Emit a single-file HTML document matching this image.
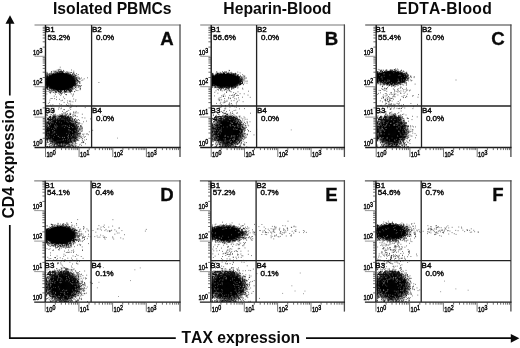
<!DOCTYPE html>
<html lang="en">
<head>
<meta charset="utf-8">
<title>CD4 / TAX expression flow cytometry</title>
<style>
html,body{margin:0;padding:0;background:#fff;}
body{width:520px;height:348px;overflow:hidden;}
svg{display:block;}
text{font-family:"Liberation Sans",Arial,Helvetica,sans-serif;fill:#0a0a0a;}
.t{font-size:15.7px;font-weight:bold;text-anchor:middle;font-kerning:none;}
.pl{font-size:18.6px;font-weight:bold;text-anchor:middle;stroke:#0a0a0a;stroke-width:.3px;}
.q{font-size:8px;fill:#0a0a0a;stroke:#0a0a0a;stroke-width:.42px;}
.ax{font-size:7.2px;fill:#0c0c0c;stroke:#0c0c0c;stroke-width:.45px;}
.sp{font-size:6.6px;}
</style>
</head>
<body>
<svg width="520" height="348" viewBox="0 0 520 348">
<rect width="520" height="348" fill="#fff"/>
<defs>
<radialGradient id="lg"><stop offset="0" stop-color="#000"/><stop offset=".52" stop-color="#000" stop-opacity=".98"/><stop offset=".66" stop-color="#000" stop-opacity=".84"/><stop offset=".8" stop-color="#000" stop-opacity=".5"/><stop offset=".92" stop-color="#000" stop-opacity=".15"/><stop offset="1" stop-color="#000" stop-opacity="0"/></radialGradient>
<radialGradient id="ug"><stop offset="0" stop-color="#000"/><stop offset=".84" stop-color="#000"/><stop offset=".93" stop-color="#000" stop-opacity=".55"/><stop offset="1" stop-color="#000" stop-opacity="0"/></radialGradient>
</defs>
<g>
<clipPath id="cpA"><rect x="46.1" y="25.0" width="134.5" height="122.1"/></clipPath>
<g clip-path="url(#cpA)">
<ellipse cx="61.9" cy="130.8" rx="19.1" ry="17.4" fill="url(#lg)"/>
<ellipse cx="60.7" cy="81.4" rx="15.6" ry="9.3" fill="url(#ug)"/>
</g>
<path transform="scale(.1)" fill="none" stroke="#000" stroke-opacity=".8" stroke-width="8" d="M626 895h8M548 897h8M652 731h8M550 750h8M497 872h8M542 886h8M493 770h8M658 890h8M540 743h8M768 781h8M609 913h8M753 789h8M535 743h8M747 876h8M492 844h8M708 766h8M565 745h8M530 906h8M592 728h8M638 915h8M795 881h8M691 897h8M509 910h8M464 842h8M593 896h8M663 743h8M662 906h8M702 878h8M763 879h8M467 759h8M702 745h8M483 763h8M756 778h8M586 741h8M690 759h8M731 783h8M487 797h8M740 785h8M465 821h8M583 912h8M468 865h8M539 749h8M524 908h8M728 768h8M601 894h8M518 902h8M597 922h8M524 882h8M737 821h8M521 765h8M574 913h8M734 853h8M502 762h8M708 939h8M565 889h8M472 850h8M701 896h8M639 911h8M480 831h8M464 831h8M602 909h8M570 890h8M578 912h8M593 943h8M481 826h8M637 891h8M484 820h8M612 933h8M701 728h8M664 890h8M688 762h8M681 909h8M608 702h8M497 763h8M652 921h8M618 715h8M608 895h8M800 887h8M511 766h8M467 791h8M465 723h8M665 885h8M609 914h8M556 748h8M778 875h8M700 763h8M473 857h8M493 755h8M545 907h8M667 893h8M747 823h8M649 916h8M727 742h8M770 801h8M467 850h8M495 882h8M580 918h8M731 802h8M753 851h8M475 869h8M692 908h8M615 895h8M634 733h8M645 894h8M486 794h8M510 882h8M474 815h8M525 903h8M581 893h8M577 908h8M736 864h8M465 829h8M699 769h8M778 783h8M743 832h8M743 772h8M710 877h8M605 729h8M725 765h8M684 899h8M545 884h8M509 874h8M465 940h8M464 809h8M737 823h8M470 861h8M710 759h8M715 858h8M464 827h8M466 829h8M632 746h8M731 802h8M572 744h8M579 931h8M512 715h8M536 878h8M624 731h8M535 733h8M777 804h8M692 762h8M734 841h8M569 906h8M708 747h8M479 762h8M529 887h8M751 850h8M620 722h8M731 819h8M721 863h8M758 815h8M636 713h8M723 743h8M467 833h8M697 914h8M466 798h8M474 858h8M682 892h8M679 892h8M598 922h8M726 792h8M740 812h8M561 727h8M579 720h8M591 730h8M464 808h8M674 900h8M704 762h8M711 760h8M566 724h8M753 780h8M765 806h8M480 817h8M613 744h8M494 758h8M719 877h8M552 893h8M720 849h8M723 759h8M766 831h8M469 799h8M693 923h8M692 886h8M684 897h8M738 742h8M467 821h8M490 926h8M739 818h8M466 793h8M549 917h8M508 881h8M544 712h8M703 872h8M615 727h8M762 736h8M464 832h8M469 852h8M686 877h8M465 874h8M620 735h8M500 857h8M463 733h8M740 841h8M637 910h8M645 895h8M744 809h8M748 843h8M646 924h8M728 833h8M495 738h8M535 757h8M536 880h8M766 840h8M464 856h8M678 897h8M468 859h8M492 889h8M630 893h8M696 737h8M561 745h8M478 833h8M505 863h8M728 877h8M468 732h8M473 816h8M745 763h8M734 803h8M659 739h8M699 757h8M481 820h8M465 914h8M466 830h8M464 795h8M668 738h8M682 881h8M469 745h8M763 756h8M629 895h8M564 924h8M709 725h8M505 732h8M736 801h8M527 759h8M786 783h8M711 700h8M549 751h8M677 924h8M641 904h8M724 737h8M540 887h8M556 746h8M463 875h8M464 843h8M790 826h8M672 739h8M556 894h8M531 893h8M743 857h8M512 762h8M633 733h8M468 811h8M464 830h8M625 742h8M797 897h8M464 794h8M606 734h8M525 873h8M698 765h8M467 848h8M706 871h8M770 804h8M480 840h8M609 739h8M754 865h8M666 727h8M718 912h8M709 879h8M581 910h8M496 852h8M467 828h8M478 856h8M754 838h8M488 769h8M600 739h8M738 808h8M487 793h8M764 776h8M812 780h8M641 902h8M759 858h8M672 889h8M598 672h8M596 911h8M709 870h8M727 792h8M535 721h8M732 798h8M534 898h8M671 918h8M691 877h8M791 778h8M681 892h8M658 730h8M660 947h8M689 762h8M782 857h8M499 877h8M466 884h8M752 805h8M729 764h8M495 878h8M483 856h8M571 721h8M517 753h8M712 769h8M555 744h8M467 810h8M778 745h8M535 896h8M503 886h8M519 889h8M466 825h8M742 836h8M465 847h8M545 901h8M613 898h8M610 947h8M647 741h8M490 879h8M767 807h8M464 878h8M548 715h8M564 890h8M666 751h8M640 902h8M581 915h8M558 925h8M705 880h8M608 729h8M469 856h8M720 887h8M473 800h8M464 825h8M467 815h8M575 738h8M781 864h8M469 822h8M749 847h8M760 804h8M526 743h8M698 916h8M776 763h8M664 885h8M524 882h8M811 856h8M516 875h8M586 710h8M703 874h8M635 720h8M494 851h8M651 741h8M671 892h8M731 766h8M583 720h8M732 842h8M476 828h8M732 851h8M584 739h8M515 882h8M627 739h8M714 760h8M672 896h8M660 739h8M493 878h8M474 891h8M531 752h8M733 806h8M551 744h8M631 895h8M764 819h8M706 868h8M569 898h8M753 859h8M727 850h8M754 788h8M711 906h8M536 891h8M838 788h8M485 803h8M553 732h8M575 899h8M514 723h8M676 886h8M496 914h8M738 766h8M584 712h8M482 836h8M466 845h8M599 719h8M467 892h8M468 856h8M469 775h8M463 783h8M467 843h8M506 772h8M681 879h8M598 741h8M732 940h8M652 748h8M468 767h8M726 788h8M467 871h8M517 735h8M734 856h8M562 895h8M683 892h8M539 746h8M700 871h8M463 819h8M604 929h8M690 906h8M676 720h8M614 933h8M715 854h8M511 864h8M638 892h8M572 726h8M495 757h8M742 791h8M681 758h8M547 916h8M734 728h8M604 911h8M702 744h8M699 889h8M723 785h8M466 782h8M476 840h8M505 861h8M510 874h8M704 906h8M517 760h8M490 907h8M741 744h8M705 876h8M467 842h8M482 774h8M588 735h8M535 755h8M466 865h8M591 738h8M564 718h8M495 880h8M463 875h8M500 901h8M631 737h8M705 891h8M657 750h8M495 777h8M520 873h8M725 792h8M764 793h8M770 799h8M714 865h8M468 823h8M728 779h8M740 823h8M569 888h8M469 844h8M583 897h8M485 783h8M480 801h8M713 724h8M619 924h8M612 742h8M484 821h8M737 801h8M698 751h8M743 829h8M473 877h8M602 904h8M467 828h8M778 816h8M468 760h8M739 855h8M604 701h8M660 918h8M467 850h8M497 743h8M755 764h8M537 882h8M536 747h8M742 836h8M723 847h8M470 860h8M470 767h8M578 899h8M601 743h8M525 920h8M587 914h8M560 739h8M572 739h8M825 799h8M715 889h8M720 865h8M683 738h8M587 891h8M730 769h8M466 773h8M503 772h8M771 821h8M477 784h8M724 744h8M796 814h8M515 869h8M675 890h8M735 766h8M485 862h8M469 854h8M469 835h8M465 781h8M724 846h8M740 826h8M623 727h8M520 761h8M508 865h8M531 752h8M564 711h8M572 898h8M498 871h8M609 896h8M719 897h8M468 764h8M594 716h8M505 769h8M601 928h8M493 734h8M485 864h8M476 846h8M742 825h8M632 737h8M751 754h8M572 895h8M511 886h8M465 824h8M468 887h8M505 884h8M603 734h8M508 733h8M549 891h8M503 748h8M528 711h8M464 856h8M596 914h8M690 761h8M757 821h8M581 739h8M662 734h8M641 900h8M495 787h8M777 807h8M562 899h8M467 741h8M469 868h8M479 848h8M610 711h8M464 793h8M582 903h8M598 713h8M466 784h8M558 895h8M488 769h8M601 745h8M737 851h8M677 889h8M526 882h8M608 892h8M493 788h8M751 846h8M747 771h8M588 696h8M465 866h8M681 880h8M765 858h8M596 721h8M469 782h8M466 880h8M531 925h8M733 845h8M616 716h8M643 904h8M593 895h8M621 897h8M466 781h8M571 902h8M708 867h8M718 750h8M702 926h8M653 945h8M597 722h8M464 842h8M745 782h8M708 772h8M463 780h8M689 900h8M560 892h8M541 753h8M567 896h8M465 811h8M712 879h8M469 778h8M726 791h8M519 767h8M578 892h8M728 882h8M487 767h8M468 782h8M612 734h8M782 819h8M703 899h8M502 763h8M481 780h8M566 738h8M755 749h8M626 721h8M508 769h8M750 815h8M537 887h8M614 893h8M587 920h8M482 740h8M750 898h8M479 868h8M536 882h8M760 903h8M694 723h8M684 740h8M606 905h8M719 860h8M517 763h8M653 911h8M490 778h8M509 866h8M706 747h8M558 890h8M471 808h8M721 857h8M491 897h8M718 772h8M697 888h8M610 716h8M476 843h8M467 781h8M716 768h8M752 756h8M468 854h8M740 815h8M577 900h8M640 932h8M483 752h8M488 773h8M479 808h8M562 891h8M491 849h8M479 795h8M750 833h8M798 867h8M738 838h8M687 742h8M491 753h8M545 906h8M465 764h8M720 753h8M717 866h8M657 904h8M537 894h8M464 841h8M478 914h8M734 712h8M463 793h8M730 857h8M597 892h8M464 813h8M616 728h8M490 745h8M777 816h8M538 902h8M516 767h8M762 794h8M465 854h8M691 899h8M626 908h8M496 865h8M731 892h8M466 835h8M752 802h8M714 757h8M467 752h8M725 789h8M505 755h8M740 862h8M524 746h8M466 757h8M532 760h8M599 900h8M584 694h8M468 796h8M788 796h8M701 877h8M467 804h8M690 753h8M703 918h8M632 710h8M760 779h8M596 733h8M520 744h8M642 916h8M730 783h8M727 859h8M513 881h8M730 845h8M477 834h8M595 732h8M464 817h8M620 896h8M522 764h8M597 739h8M604 895h8M536 897h8M655 919h8M488 840h8M741 849h8M483 861h8M715 856h8M597 907h8M748 814h8M733 853h8M563 908h8M506 874h8M685 735h8M722 878h8M740 780h8M585 746h8M735 762h8M677 730h8M487 774h8M791 856h8M712 775h8M494 779h8M682 899h8M761 790h8M685 896h8M653 895h8M497 767h8M594 716h8M713 887h8M475 880h8M466 848h8M486 838h8M467 831h8M480 842h8M745 827h8M777 774h8M465 773h8M572 745h8M538 751h8M794 787h8M471 790h8M526 882h8M609 740h8M670 901h8M469 763h8M598 740h8M483 784h8M681 750h8M690 881h8M665 737h8M734 790h8M693 747h8M517 868h8M708 905h8M470 762h8M599 892h8M568 745h8M556 888h8M568 700h8M490 876h8M469 833h8M725 774h8M505 864h8M753 848h8M798 790h8M698 910h8M551 943h8M623 719h8M793 819h8M615 722h8M484 822h8M540 746h8M526 899h8M555 907h8M764 791h8M730 761h8M522 758h8M524 888h8M720 867h8M728 850h8M588 895h8M594 736h8M598 917h8M597 930h8M474 804h8M630 704h8M773 807h8M871 778h8M464 773h8M517 748h8M500 929h8M700 894h8M471 733h8M713 910h8M733 756h8M688 883h8M530 738h8M773 853h8M556 746h8M651 895h8M536 756h8M678 751h8M755 833h8M506 905h8M693 873h8M591 896h8M535 878h8M745 803h8M523 876h8M548 728h8M588 903h8M609 909h8M479 879h8M491 757h8M465 762h8M488 870h8M667 897h8M672 751h8M492 792h8M498 775h8M582 706h8M640 899h8M751 791h8M642 739h8M654 723h8M605 737h8M643 892h8M513 739h8M613 909h8M469 802h8M740 754h8M464 797h8M799 869h8M601 715h8M738 806h8M634 737h8M509 720h8M731 856h8M576 901h8M776 851h8M469 872h8M497 742h8M678 729h8M503 877h8M482 895h8M661 911h8M797 856h8M562 749h8M465 863h8M497 784h8M558 727h8M495 867h8M679 759h8M469 834h8M486 800h8M658 748h8M549 925h8M593 746h8M590 892h8M617 735h8M510 769h8M735 797h8M466 832h8M585 725h8M765 859h8M580 744h8M475 797h8M623 898h8M665 715h8M658 906h8M463 815h8M509 743h8M750 872h8M481 785h8M703 868h8M727 774h8M636 925h8M467 771h8M763 780h8M468 851h8M732 823h8M497 879h8M463 745h8M466 795h8M757 797h8M751 876h8M775 906h8M472 894h8M473 852h8M672 730h8M685 909h8M790 834h8M549 711h8M475 846h8M764 843h8M751 778h8M735 841h8M485 829h8M519 881h8M740 795h8M467 863h8M647 913h8M730 730h8M467 806h8M675 881h8M696 879h8M503 773h8M795 863h8M517 896h8M539 729h8M579 742h8M525 743h8M713 895h8M752 829h8M517 746h8M513 871h8M477 792h8M720 888h8M740 916h8M695 906h8M570 727h8M653 915h8M639 898h8M660 747h8M503 882h8M652 750h8M478 817h8M465 765h8M528 877h8M468 834h8M466 882h8M464 793h8M704 772h8M482 748h8M498 782h8M522 765h8M736 826h8M622 893h8M486 861h8M744 806h8M596 693h8M746 767h8M468 779h8M700 759h8M466 841h8M717 774h8M735 814h8M527 738h8M466 829h8M572 734h8M727 796h8M466 838h8M550 732h8M738 842h8M482 776h8M565 889h8M620 744h8M570 901h8M468 751h8M474 819h8M789 816h8M704 758h8M800 889h8M719 778h8M622 729h8M742 886h8M605 742h8M741 774h8M546 930h8M466 785h8M706 902h8M515 877h8M465 822h8M467 866h8M659 895h8M815 804h8M772 830h8M689 916h8M557 912h8M608 912h8M745 851h8M468 876h8M615 891h8M505 924h8M717 871h8M735 731h8M635 747h8M740 826h8M759 837h8M531 740h8M586 914h8M508 894h8M465 826h8M728 792h8M706 874h8M488 905h8M619 727h8M489 774h8M522 875h8M465 813h8M754 838h8M512 897h8M547 720h8M799 831h8M467 828h8M665 885h8M661 899h8M554 913h8M636 896h8M704 868h8M580 892h8M621 729h8M465 755h8M627 738h8M676 751h8M577 737h8M658 922h8M507 873h8M568 893h8M608 717h8M499 760h8M521 763h8M692 763h8M618 899h8M670 1415h8M527 1406h8M632 1441h8M750 1291h8M756 1224h8M736 1390h8M761 1370h8M735 1338h8M580 1237h8M741 1294h8M490 1357h8M481 1213h8M665 1387h8M702 1311h8M566 1259h8M485 1329h8M464 1324h8M722 1327h8M475 1187h8M507 1235h8M641 1459h8M465 1385h8M705 1245h8M503 1258h8M563 1392h8M467 1330h8M620 1202h8M476 1345h8M595 1206h8M587 1231h8M662 1408h8M528 1226h8M557 1285h8M572 1428h8M724 1402h8M466 1324h8M704 1319h8M529 1230h8M697 1418h8M572 1371h8M652 1431h8M695 1308h8M553 1149h8M525 1342h8M758 1350h8M669 1136h8M586 1465h8M501 1316h8M663 1180h8M515 1366h8M643 1176h8M733 1338h8M574 1207h8M756 1223h8M717 1282h8M735 1273h8M831 1418h8M589 1456h8M757 1114h8M771 1343h8M463 1312h8M593 1386h8M607 1437h8M759 1351h8M469 1153h8M798 1368h8M514 1268h8M686 1466h8M497 1251h8M544 1357h8M573 1223h8M747 1290h8M478 1114h8M650 1388h8M535 1349h8M656 1149h8M479 1345h8M699 1465h8M557 1371h8M576 1196h8M661 1205h8M483 1213h8M750 1388h8M735 1138h8M767 1166h8M519 1214h8M553 1262h8M597 1468h8M700 1397h8M675 1415h8M538 1207h8M519 1201h8M754 1465h8M606 1240h8M742 1266h8M530 1388h8M750 1234h8M596 1222h8M695 1390h8M518 1330h8M529 1348h8M821 1308h8M480 1371h8M642 1195h8M545 1368h8M547 1396h8M574 1196h8M523 1235h8M466 1300h8M659 1192h8M575 1218h8M724 1293h8M553 1405h8M616 1464h8M582 1245h8M703 1075h8M752 1236h8M600 1211h8M529 1181h8M741 1401h8M489 1339h8M537 1402h8M583 1207h8M526 1354h8M501 1104h8M623 1430h8M785 1349h8M575 1181h8M608 1162h8M534 1468h8M526 1258h8M500 1330h8M688 1233h8M613 1239h8M593 1377h8M764 1437h8M698 1349h8M704 1408h8M520 1257h8M709 1320h8M609 1209h8M698 1456h8M465 1348h8M548 1404h8M507 1434h8M507 1453h8M595 1144h8M619 1228h8M670 1372h8M790 1450h8M524 1326h8M747 1155h8M804 1256h8M726 1261h8M505 1335h8M489 1211h8M607 1412h8M524 1462h8M731 1304h8M832 1218h8M599 1379h8M590 1393h8M538 1230h8M775 1242h8M577 1383h8M533 1270h8M620 1206h8M464 1315h8M604 1397h8M537 1270h8M675 1358h8M776 1129h8M491 1267h8M634 1394h8M591 1189h8M502 1367h8M677 1214h8M694 1232h8M499 1312h8M595 1386h8M685 1278h8M774 1266h8M760 1391h8M572 1250h8M570 1156h8M710 1443h8M677 1175h8M648 1183h8M719 1267h8M655 1440h8M473 1288h8M469 1355h8M665 1418h8M699 1184h8M499 1387h8M664 1237h8M686 1449h8M814 1314h8M712 1237h8M621 1172h8M505 1387h8M719 1427h8M682 1356h8M684 1273h8M514 1237h8M762 1307h8M744 1315h8M541 1188h8M525 1343h8M587 1205h8M530 1347h8M522 1387h8M695 1244h8M532 1242h8M539 1338h8M667 1250h8M774 1292h8M465 1327h8M700 1359h8M714 1367h8M703 1356h8M525 1452h8M476 1293h8M481 1334h8M711 1280h8M770 1357h8M693 1396h8M590 1426h8M729 1306h8M756 1276h8M736 1366h8M710 1416h8M546 1464h8M470 1354h8M651 1196h8M510 1377h8M564 1220h8M621 1187h8M567 1389h8M579 1404h8M744 1317h8M862 1394h8M691 1395h8M593 1424h8M530 1239h8M753 1403h8M767 1384h8M805 1358h8M541 1454h8M704 1138h8M523 1277h8M529 1342h8M538 1370h8M581 1388h8M695 1354h8M500 1291h8M701 1201h8M716 1252h8M578 1239h8M582 1420h8M752 1431h8M699 1465h8M556 1373h8M824 1419h8M545 1214h8M710 1422h8M716 1327h8M731 1375h8M468 1276h8M560 1237h8M494 1247h8M675 1358h8M708 1207h8M745 1266h8M463 1264h8M587 1077h8M729 1313h8M511 1295h8M571 1406h8M513 1387h8M533 1220h8M715 1176h8M632 1451h8M722 1308h8M465 1293h8M730 1360h8M468 1230h8M494 1467h8M604 1225h8M686 1426h8M620 1188h8M683 1195h8M733 1121h8M683 1424h8M603 1154h8M674 1191h8M523 1367h8M639 1222h8M581 1384h8M759 1300h8M737 1320h8M529 1222h8M643 1248h8M814 1277h8M781 1195h8M620 1424h8M616 1458h8M667 1392h8M488 1337h8M731 1274h8M550 1208h8M586 1216h8M654 1141h8M682 1443h8M531 1399h8M744 1384h8M652 1408h8M677 1418h8M610 1177h8M574 1423h8M606 1204h8M709 1199h8M667 1250h8M594 1174h8M685 1439h8M535 1288h8M711 1294h8M498 1314h8M518 1280h8M712 1350h8M468 1391h8M513 1356h8M677 1199h8M469 1368h8M613 1414h8M480 1279h8M759 1286h8M602 1422h8M736 1263h8M700 1145h8M753 1287h8M712 1286h8M518 1224h8M660 1184h8M518 1323h8M564 1245h8M717 1270h8M498 1250h8M808 1300h8M489 1352h8M508 1374h8M670 1353h8M537 1358h8M668 1405h8M604 1226h8M492 1362h8M469 1401h8M578 1431h8M465 1233h8M680 1372h8M712 1389h8M692 1270h8M478 1234h8M735 1240h8M656 1214h8M681 1429h8M597 1199h8M603 1184h8M585 1413h8M508 1385h8M519 1432h8M732 1293h8M759 1223h8M471 1269h8M640 1411h8M567 1245h8M655 1397h8M469 1275h8M562 1450h8M481 1237h8M749 1266h8M650 1206h8M586 1244h8M655 1468h8M520 1260h8M557 1379h8M724 1469h8M541 1296h8M555 1397h8M563 1464h8M764 1264h8M518 1367h8M728 1277h8M512 1258h8M576 1193h8M726 1336h8M542 1107h8M658 1220h8M602 1231h8M602 1388h8M573 1399h8M748 1325h8M480 1315h8M528 1420h8M534 1468h8M544 1403h8M477 1280h8M648 1382h8M570 1407h8M604 1206h8M518 1385h8M480 1384h8M588 1440h8M518 1284h8M775 1398h8M550 1440h8M588 1387h8M467 1257h8M756 1378h8M698 1448h8M690 1276h8M561 1426h8M522 1243h8M631 1412h8M682 1425h8M475 1131h8M539 1367h8M707 1414h8M541 1108h8M800 1330h8M628 1398h8M495 1373h8M548 1159h8M477 1196h8M535 1294h8M482 1327h8M696 1271h8M594 1211h8M514 1342h8M503 1226h8M601 1465h8M657 1399h8M490 1312h8M616 1453h8M468 1361h8M467 1411h8M809 1371h8M707 1455h8M642 1199h8M568 1212h8M643 1218h8M629 1213h8M558 1465h8M708 1364h8M502 1296h8M675 1209h8M665 1465h8M698 1363h8M529 1262h8M524 1383h8M595 1211h8M629 1192h8M465 1353h8M557 1256h8M646 1444h8M464 1292h8M721 1291h8M672 1230h8M523 1469h8M793 1353h8M654 1420h8M468 1467h8M791 1363h8M543 1258h8M493 1284h8M692 1142h8M586 1183h8M529 1371h8M688 1382h8M564 1264h8M722 1391h8M521 1263h8M498 1143h8M549 1362h8M692 1388h8M583 1399h8M749 1128h8M466 1226h8M703 1374h8M792 1334h8M629 1468h8M546 1345h8M499 1239h8M532 1406h8M724 1324h8M469 1327h8M718 1281h8M674 1216h8M577 1218h8M747 1259h8M619 1420h8M625 1403h8M657 1203h8M596 1226h8M489 1364h8M809 1373h8M735 1359h8M677 1253h8M475 1360h8M475 1325h8M710 1219h8M579 1392h8M609 1212h8M684 1334h8M691 1250h8M525 1390h8M520 1272h8M597 1188h8M667 1256h8M472 1425h8M696 1393h8M621 1436h8M700 1285h8M567 1210h8M577 1163h8M726 1309h8M741 1259h8M774 1361h8M623 1386h8M547 1206h8M546 1216h8M543 1418h8M654 1430h8M718 1267h8M734 1421h8M550 1263h8M513 1414h8M622 1432h8M468 1287h8M464 1427h8M772 1376h8M720 1195h8M820 1342h8M541 1223h8M783 1267h8M473 1355h8M601 1452h8M531 1240h8M609 1399h8M645 1453h8M733 1312h8M729 1294h8M678 1422h8M723 1380h8M577 1377h8M464 1338h8M524 1398h8M737 1361h8M589 1230h8M463 1442h8M466 1221h8M573 1236h8M573 1209h8M581 1091h8M537 1216h8M590 1205h8M681 1231h8M519 1218h8M558 1450h8M695 1393h8M669 1428h8M551 1392h8M464 1401h8M464 1325h8M587 1160h8M803 1332h8M693 1460h8M497 1348h8M626 1205h8M775 1350h8M568 1224h8M608 1207h8M635 1127h8M804 1289h8M575 1194h8M663 1242h8M546 1439h8M491 1364h8M729 1254h8M709 1304h8M779 1233h8M797 1369h8M817 1390h8M518 1292h8M659 1403h8M728 1240h8M588 1402h8M731 1251h8M702 1272h8M778 1363h8M804 1261h8M654 1390h8M660 1414h8M580 1403h8M534 1277h8M595 1197h8M714 1453h8M678 1243h8M602 1440h8M583 1213h8M518 1378h8M680 1153h8M692 1361h8M555 1256h8M583 1456h8M665 1378h8M807 1259h8M601 1469h8M879 1347h8M480 1232h8M491 1412h8M584 1233h8M558 1234h8M597 1455h8M567 1244h8M518 1189h8M554 1240h8M499 1375h8M708 1210h8M464 1384h8M627 1172h8M644 1401h8M739 1242h8M726 1144h8M521 1258h8M740 1233h8M533 1240h8M758 1296h8M664 1387h8M483 1274h8M643 1188h8M705 1356h8M481 1185h8M621 1168h8M634 1416h8M705 1289h8M583 1408h8M552 1216h8M516 1269h8M663 1255h8M543 1363h8M463 1222h8M479 1351h8M483 1380h8M468 1281h8M678 1409h8M683 1227h8M531 1327h8M684 1187h8M578 1395h8M532 1244h8M491 1232h8M586 1232h8M566 1200h8M775 1256h8M579 1222h8M692 1384h8M560 1367h8M468 1184h8M468 1294h8M672 1417h8M667 1398h8M782 1265h8M613 1466h8M709 1355h8M709 1166h8M599 1410h8M739 1350h8M631 1412h8M836 1340h8M564 1234h8M523 1237h8M626 1221h8M707 1186h8M650 1427h8M559 1253h8M710 1425h8M739 1210h8M623 1159h8M631 1387h8M700 1201h8M702 1403h8M684 1249h8M469 1266h8M463 1334h8M712 1232h8M477 1373h8M590 1230h8M630 1213h8M702 1369h8M548 1382h8M575 1440h8M703 1242h8M702 1317h8M471 1335h8M518 1235h8M504 1436h8M570 1269h8M698 1175h8M688 1426h8M486 1342h8M684 1388h8M760 1337h8M501 1379h8M636 1133h8M618 1375h8M464 1241h8M585 1190h8M519 1336h8M728 1258h8M563 1364h8M635 1187h8M495 1280h8M581 1228h8M642 1399h8M538 1389h8M751 1290h8M711 1414h8M690 1242h8M508 1255h8M755 1375h8M845 1180h8M869 1339h8M601 1466h8M730 1277h8M727 1282h8M607 1212h8M658 1157h8M851 1438h8M741 1195h8M619 1153h8M541 1287h8M495 1256h8M541 1264h8M557 1357h8M495 1383h8M660 1173h8M471 1271h8M834 1423h8M581 1228h8M767 1302h8M767 1272h8M718 1316h8M725 1237h8M585 1220h8M504 1262h8M468 1384h8M463 1145h8M923 1303h8M508 1264h8M492 1322h8M735 1161h8M682 1455h8M533 1468h8M706 1363h8M724 1192h8M617 1428h8M464 1352h8M553 1192h8M818 1177h8M517 1276h8M563 1241h8M618 1207h8M587 1232h8M621 1453h8M558 1415h8M711 1374h8M569 1250h8M651 1245h8M714 1283h8M580 1466h8M714 1331h8M500 1354h8M749 1248h8M669 1434h8M514 1347h8M508 1369h8M695 1373h8M512 1249h8M530 1376h8M628 1231h8M558 1400h8M691 1361h8M522 1260h8M526 1278h8M465 1348h8M618 1244h8M467 1264h8M487 1384h8M615 1152h8M488 1282h8M700 1180h8M481 1390h8M591 1461h8M588 1186h8M517 1300h8M680 1368h8M817 1293h8M628 1212h8M747 1191h8M618 1432h8M479 1338h8M741 1357h8M465 1154h8M488 1377h8M533 1236h8M465 1349h8M580 1184h8M466 1311h8M488 1344h8M588 1412h8M734 1267h8M563 1207h8M739 1313h8M511 1275h8M777 1303h8M722 1296h8M752 1280h8M620 1246h8M555 1218h8M536 1224h8M731 1468h8M474 1326h8M515 1221h8M761 1375h8M775 1336h8M463 1395h8M728 1247h8M625 1167h8M709 1286h8M747 1151h8M760 1396h8M680 1416h8M624 1232h8M467 1336h8M770 1224h8M665 1405h8M523 1266h8M664 1416h8M734 1464h8M464 1249h8M568 1404h8M538 1375h8M716 1277h8M748 1422h8M491 1268h8M599 1213h8M467 1391h8M639 1175h8M479 1282h8M689 1395h8M596 1234h8M541 1396h8M638 1216h8M528 1345h8M670 1374h8M622 1191h8M521 1230h8M618 1401h8M511 1356h8M573 1445h8M483 1298h8M746 1407h8M629 1226h8M495 1388h8M671 1219h8M637 1227h8M533 1143h8M581 1226h8M699 1342h8M506 1419h8M777 1242h8M571 1407h8M812 1454h8M490 1441h8M467 1336h8M670 1183h8M614 1424h8M520 1422h8M678 1464h8M603 1220h8M538 1159h8M737 1379h8M690 1314h8M470 1196h8M593 1467h8M634 1383h8M792 1240h8M843 1400h8M704 1241h8M526 1385h8M547 1401h8M476 1310h8M722 1283h8M592 1423h8M514 1286h8M609 1400h8M486 1379h8M606 1198h8M743 1414h8M724 1321h8M493 1242h8M691 1441h8M537 1318h8M674 1436h8M463 1241h8M736 1319h8M553 1209h8M603 1438h8M511 1311h8M497 1276h8M531 1203h8M665 1267h8M707 1175h8M735 1354h8M686 1253h8M712 1301h8M653 1457h8M478 1230h8M743 1399h8M775 1466h8M626 1467h8M558 1362h8M690 1361h8M568 1211h8M522 1330h8M705 1330h8M559 1420h8M589 1434h8M567 1210h8M671 1206h8M543 1371h8M467 1269h8M475 1307h8M823 1385h8M545 1195h8M467 1151h8M646 1452h8M536 1312h8M796 1233h8M642 1186h8M607 1420h8M794 1303h8M613 1417h8M669 1406h8M516 1251h8M666 1443h8M753 1354h8M729 1164h8M539 1391h8M693 1441h8M496 1311h8M527 1327h8M722 1382h8M530 1344h8M652 1208h8M650 1399h8M721 1387h8M652 1422h8M694 1269h8M474 1386h8M525 1345h8M826 1368h8M547 1233h8M519 1313h8M589 1431h8M510 1318h8M521 1112h8M602 1165h8M536 1339h8M680 1363h8M848 1365h8M573 1404h8M700 1244h8M543 1278h8M714 1388h8M520 1440h8M610 1223h8M765 1225h8M782 1315h8M468 1335h8M704 1256h8M743 1316h8M539 1244h8M720 1386h8M670 1429h8M729 1362h8M574 1425h8M655 1184h8M688 1160h8M566 1243h8M524 1240h8M784 1406h8M612 1411h8M588 1214h8M491 1332h8M687 1357h8M693 1221h8M690 1204h8M683 1252h8M700 1420h8M521 1373h8M693 1219h8M712 1282h8M497 1406h8M747 1221h8M648 1201h8M534 1453h8M500 1321h8M477 1306h8M727 1391h8M583 1428h8M505 1365h8M555 1287h8M719 1467h8M529 1332h8M763 1407h8M729 1228h8M624 1143h8M494 1313h8M787 1288h8M503 1313h8M597 1453h8M488 1464h8M468 1356h8M549 1260h8M596 1446h8M529 1163h8M737 1331h8M515 1323h8M720 1185h8M571 1452h8M719 1356h8M564 1163h8M747 1435h8M490 1311h8M562 1380h8M552 1143h8M661 1427h8M708 1391h8M547 1342h8M748 1447h8M608 1180h8M699 1248h8M488 1308h8M721 1329h8M693 1456h8M523 1409h8M604 1185h8M598 1222h8M581 1422h8M698 1289h8M625 1208h8M726 1323h8M769 1370h8M708 1238h8M716 1368h8M730 1289h8M631 1422h8M611 1392h8M510 1094h8M653 1420h8M811 1427h8M633 1413h8M486 1237h8M467 1291h8M639 1178h8M700 1393h8M619 1190h8M648 1132h8M557 1213h8M664 1217h8M467 1369h8M560 1242h8M589 1202h8M587 1218h8M698 1273h8M720 1386h8M534 1154h8M524 1447h8M670 1209h8M633 1394h8M621 1167h8M512 1213h8M768 1201h8M509 1293h8M700 1270h8M490 1244h8M479 1344h8M631 1204h8M680 1462h8M723 1364h8M475 1319h8M496 1275h8M502 1393h8M729 1280h8M547 1406h8M497 1411h8M735 1369h8M650 1385h8M611 1155h8M504 1351h8M748 1387h8M746 1369h8M708 1288h8M504 1317h8M746 1373h8M625 1167h8M555 1394h8M505 1417h8M479 1239h8M714 1450h8M469 1260h8M556 1270h8M577 1436h8M778 1351h8M734 1122h8M709 1341h8M712 1268h8M860 1211h8M515 1247h8M642 1465h8M754 1468h8M647 1465h8M524 1368h8M468 1345h8M555 1435h8M664 1405h8M582 1380h8M613 1232h8M544 1410h8M568 1225h8M730 1215h8M738 1275h8M572 1402h8M511 1145h8M471 1396h8M536 1230h8M599 1412h8M592 1238h8M589 1423h8M610 1199h8M639 1454h8M480 1335h8M464 1370h8M601 1447h8M538 1449h8M521 1353h8M780 1303h8M524 1245h8M623 1406h8M631 1414h8M766 1324h8M468 1464h8M546 1426h8M642 1233h8M572 1387h8M613 1393h8M765 1359h8M767 1326h8M780 1310h8M513 1272h8M594 1427h8M643 1432h8M559 1263h8M538 1247h8M636 1229h8M687 1366h8M763 1256h8M465 1198h8M671 1141h8M477 1350h8M564 1275h8M474 1130h8M604 1412h8M640 1152h8M467 1332h8M648 1223h8M600 1215h8M749 1342h8M479 1226h8M595 1407h8M516 1266h8M488 1320h8M495 1369h8M641 1231h8M499 1375h8M522 1341h8M480 1353h8M668 1169h8M786 1385h8M621 1193h8M522 1221h8M619 1244h8M578 1223h8M793 1287h8M515 1259h8M638 1401h8M822 1404h8M517 1333h8M697 1404h8M537 1259h8M652 1214h8M476 1363h8M464 1338h8M649 1239h8M498 1331h8M470 1275h8M566 1203h8M466 1318h8M713 1279h8M640 1384h8M761 1283h8M778 1334h8M492 1467h8M579 1413h8M799 1297h8M723 1159h8M518 1439h8M570 1415h8M573 1404h8M495 1396h8M740 1377h8M635 1239h8M723 1282h8M585 1447h8M750 1304h8M653 1426h8M484 1243h8M783 1468h8M708 1256h8M464 1270h8M678 1243h8M535 1263h8M673 1379h8M611 1411h8M467 1332h8M509 1332h8M601 1230h8M521 1373h8M673 1241h8M588 1225h8M477 1224h8M617 1196h8M578 1403h8M697 1385h8M741 1255h8M590 1417h8M738 1283h8M660 1146h8M597 1455h8M694 1420h8M490 1247h8M601 1401h8M570 1397h8M829 1424h8M832 1350h8M464 1302h8M748 1233h8M750 1185h8M666 1227h8M771 1287h8M671 1259h8M680 1237h8M769 1307h8M693 1307h8M742 1323h8M737 1242h8M518 1393h8M736 1376h8M737 1415h8M612 1463h8M745 1268h8M506 1427h8M469 1296h8M686 1268h8M499 1304h8M641 1227h8M573 1235h8M645 1159h8M467 1219h8M735 1318h8M747 1325h8M709 1395h8M632 1161h8M658 1213h8M590 1380h8M653 1238h8M606 1160h8M464 1313h8M691 1369h8M528 1381h8M719 1288h8M666 1436h8M730 1254h8M619 1210h8M645 1426h8M502 1345h8M554 1190h8M710 1273h8M548 1259h8M730 1238h8M619 1443h8M602 1425h8M621 1221h8M656 1186h8M501 1348h8M781 1370h8M626 1400h8M752 1273h8M702 1294h8M545 1421h8M598 1402h8M541 1175h8M478 1371h8M559 1243h8M534 1334h8M695 1406h8M691 1227h8M755 1455h8M550 1181h8M465 1365h8M672 1262h8M485 1284h8M490 1384h8M519 1156h8M498 1266h8M688 1242h8M526 1310h8M633 1204h8M499 1434h8M578 1186h8M725 1435h8M687 1218h8M760 1257h8M497 1291h8M649 1396h8M588 1232h8M468 1468h8M745 1302h8M618 1189h8M676 1243h8M467 1385h8M528 1194h8M667 1384h8M542 1381h8M722 1350h8M495 1453h8M640 1231h8M753 1411h8M498 1364h8M468 1320h8M785 1366h8M686 1224h8M615 1409h8M702 1419h8M658 1197h8M475 1179h8M754 1301h8M732 1254h8M500 1285h8M669 1404h8M725 1314h8M697 1215h8M465 1345h8M524 1274h8M573 1416h8M510 1412h8M654 1126h8M731 1314h8M542 1403h8M698 1146h8M667 1206h8M739 1353h8M818 1274h8M660 1115h8M523 1326h8M804 1266h8M686 1247h8M710 1320h8M795 1281h8M672 1402h8M765 1315h8M468 1400h8M681 1396h8M568 1371h8M542 1355h8M685 1376h8M674 1389h8M532 1181h8M686 1335h8M632 1235h8M677 1442h8M596 1235h8M798 1442h8M667 1207h8M679 1395h8M737 1313h8M563 1389h8M737 1447h8M523 1221h8M699 1374h8M758 1365h8M794 1384h8M464 1304h8M606 1419h8M555 1379h8M601 1420h8M684 1104h8M464 1277h8M730 1283h8M745 1409h8M608 1246h8M566 1372h8M681 1170h8M566 1436h8M554 1264h8M725 1299h8M720 1345h8M480 1335h8M502 1356h8M609 1170h8M469 1279h8M621 1466h8M600 1417h8M525 1323h8M722 1455h8M582 1453h8M567 1374h8M637 1413h8M536 1366h8M706 1391h8M471 1257h8M465 1287h8M529 1254h8M526 1388h8M487 1321h8M716 1314h8M707 1247h8M789 1341h8M708 1304h8M607 1397h8M538 1354h8M712 1381h8M467 1467h8M709 1364h8M756 1396h8M725 1437h8M731 1316h8M669 1245h8M582 1403h8M665 1466h8M477 1303h8M727 1387h8M466 1348h8M602 1406h8M513 1328h8M464 1208h8M581 1209h8M719 1337h8M471 1414h8M744 1292h8M473 1186h8M673 1467h8M750 1386h8M691 1190h8M718 1314h8M766 1203h8M531 1235h8M702 1339h8M711 1469h8M589 1376h8M777 1334h8M606 1231h8M737 1242h8M668 1241h8M785 1310h8M601 1467h8M573 1376h8M517 1350h8M710 1321h8M758 1212h8M619 1435h8M565 1417h8M489 1292h8M483 1207h8M619 1400h8M719 1216h8M822 1286h8M468 1345h8M741 1409h8M700 1140h8M637 1227h8M471 1301h8M750 1383h8M530 1341h8M577 1441h8M628 1163h8M814 1266h8M722 1272h8M521 1384h8M624 1222h8M661 1441h8M564 1232h8M625 1157h8M506 1256h8M532 1250h8M674 1378h8M533 1269h8M697 1276h8M471 1409h8M557 1183h8M537 1426h8M686 1469h8M466 1369h8M555 1347h8M548 1395h8M819 1142h8M560 1356h8M728 1396h8M671 1408h8M708 1305h8M573 1222h8M555 1248h8M712 1345h8M525 1235h8M478 1307h8M591 1416h8M592 1395h8M723 1242h8M501 1322h8M635 1201h8M504 1410h8M628 1193h8M799 1339h8M501 1302h8M547 1350h8M662 1422h8M710 1306h8M767 1279h8M724 1412h8M547 1361h8M692 1379h8M527 1243h8M553 1249h8M699 1307h8M647 1380h8M516 1324h8M637 1221h8M489 1314h8M534 1318h8M621 1201h8M553 1465h8M563 1466h8M712 1257h8M559 1421h8M466 1298h8M643 1400h8M537 1256h8M740 1283h8M509 1324h8M536 1156h8M565 1425h8M465 1280h8M676 1165h8M624 1222h8M787 1227h8M741 1199h8M509 1397h8M464 1298h8M539 1458h8M584 1399h8M563 1211h8M653 1201h8M616 1135h8M515 1350h8M698 1407h8M716 1272h8M721 1243h8M689 1467h8M500 1370h8M634 1096h8M538 1215h8M464 1172h8M531 1183h8M778 1306h8M588 1191h8M540 1464h8M518 1261h8M705 1370h8M613 1429h8M714 1257h8M529 1368h8M756 1362h8M644 1219h8M464 1314h8M723 1333h8M465 1347h8M539 1370h8M720 1349h8M518 1384h8M625 1438h8M675 1396h8M469 1321h8M759 1245h8M514 1181h8M774 1403h8M675 1396h8M816 1239h8M613 1425h8M662 1418h8M552 1254h8M609 1205h8M519 1320h8M572 1236h8M686 1468h8M504 1271h8M541 1376h8M732 1290h8M753 1420h8M679 1418h8M736 1339h8M642 1199h8M746 1385h8M756 1309h8M541 1421h8M641 1402h8M490 1317h8M483 1223h8M519 1315h8M468 1240h8M512 1319h8M718 1256h8M526 1132h8M747 1366h8M463 1265h8M653 1159h8M522 1276h8M544 1403h8M562 1436h8M686 1221h8M610 1464h8M650 1187h8M510 1295h8M534 1394h8M502 1369h8M720 1335h8M504 1378h8M465 1234h8M584 1465h8M520 1420h8M754 1330h8M475 1272h8M792 1295h8M485 1310h8M590 1218h8M647 1405h8M542 1217h8M582 1454h8M485 1302h8M702 1209h8M550 1431h8M681 1239h8M639 1402h8M645 1202h8M527 1419h8M623 1423h8M550 1384h8M619 1209h8M549 1386h8M463 1351h8M538 1212h8M632 1232h8M654 1197h8M538 1466h8M751 1362h8M741 1351h8M646 1426h8M663 1251h8M651 1403h8M501 1222h8M689 1441h8M802 1258h8M595 1402h8M730 1458h8M723 1447h8M698 1396h8M768 1274h8M495 1218h8M702 1273h8M661 1424h8M616 1418h8M481 1357h8M608 1197h8M616 1402h8M539 1382h8M686 1467h8M473 1360h8M670 1226h8M524 1281h8M695 1361h8M532 1291h8M494 1468h8M468 1389h8M490 1203h8M647 1429h8M558 1263h8M785 1228h8M743 1326h8M725 1376h8M495 1327h8M766 1345h8M602 1421h8M617 1404h8M722 1290h8M467 1288h8M715 1282h8M552 1375h8M710 1251h8M681 1252h8M693 1304h8M701 1269h8M701 1238h8M719 1324h8M487 1237h8M514 1173h8M556 1467h8M629 1222h8M629 1248h8M540 1443h8M495 1306h8M695 1249h8M466 1258h8M699 1376h8M466 1318h8M517 1197h8M569 1200h8M514 1266h8M605 1161h8M687 1274h8M464 1324h8M467 1327h8M635 1421h8M671 1112h8M716 1250h8M699 1377h8M774 1279h8M555 1272h8M468 1221h8M570 1429h8M626 1400h8M705 1306h8M722 1208h8M463 1347h8M739 1299h8M753 1244h8M670 1460h8M697 1131h8M547 1202h8M488 1336h8M653 1420h8M562 1353h8M691 1347h8M666 1172h8M530 1343h8M630 1214h8M539 1147h8M736 1413h8M531 1250h8M507 1313h8M533 1215h8M489 1239h8M544 1260h8M697 1202h8M638 1223h8M677 1430h8M694 1080h8M772 1400h8M474 1296h8M642 1234h8M721 1246h8M762 1327h8M661 1438h8M471 1359h8M575 1245h8M754 1412h8M695 1203h8M513 1243h8M592 1467h8M605 1206h8M695 1214h8M668 1222h8M551 1357h8M701 1370h8M840 1373h8M514 1454h8M543 1238h8M742 1462h8M539 1241h8M466 1464h8M502 1330h8M687 1274h8M698 1223h8M507 1319h8M552 1297h8M546 1175h8M671 1379h8M646 1211h8M513 1391h8M533 1372h8M703 1358h8M548 1287h8M602 1197h8M605 1197h8M660 1403h8M542 1295h8M754 1374h8M753 1213h8M660 1383h8M626 1385h8M757 1318h8M494 1276h8M689 1194h8M615 1390h8M668 1245h8M478 1369h8M693 1215h8M552 1396h8M859 1340h8M806 1312h8M558 1395h8M572 1195h8M711 1410h8M808 1285h8M614 1467h8M766 1220h8M511 1379h8M578 1251h8M717 1262h8M619 1237h8M485 1304h8M733 1467h8M639 1462h8M741 1284h8M640 1207h8M471 1225h8M621 1420h8M655 1377h8M678 1215h8M609 1165h8M615 1199h8M494 1239h8M466 1249h8M764 1293h8M488 1377h8M575 1263h8M470 1302h8M789 1204h8M734 1302h8M565 1397h8M642 1096h8M701 1284h8M546 1355h8M522 1290h8M497 1226h8M647 1381h8M654 1151h8M698 1334h8M499 1282h8M525 1242h8M592 1426h8M507 1285h8M734 1404h8M540 1323h8M660 1376h8M719 1356h8M488 1308h8M477 1305h8M498 1376h8M634 1232h8M657 1233h8M596 1182h8M607 1227h8M572 1464h8M522 1360h8M712 1335h8M474 1395h8M673 1402h8M732 1374h8M798 1274h8M652 1458h8M677 1240h8M756 1219h8M512 1272h8M739 1281h8M601 1394h8M530 1315h8M590 1409h8M621 1412h8M534 1236h8M641 1410h8M672 1468h8M603 1425h8M554 1160h8M731 1271h8M720 1236h8M623 1378h8M483 1357h8M703 1199h8M753 1322h8M694 1415h8M739 1203h8M591 1224h8M730 1384h8M648 1254h8M562 1209h8M757 1129h8M624 1440h8M523 1291h8M714 1225h8M735 1405h8M702 1164h8M730 1311h8M522 1416h8M631 1404h8M674 1381h8M690 1374h8M564 1233h8M665 1252h8M675 1439h8M559 1398h8M720 1458h8M468 1347h8M621 1397h8M797 1342h8M598 1445h8M607 1429h8M488 1179h8M622 1114h8M528 1310h8M731 1310h8M500 1352h8M763 1259h8M503 1273h8M522 1427h8M575 1465h8M466 1328h8M706 1344h8M585 1422h8M714 1358h8M565 1240h8M759 1200h8M715 1290h8M889 1318h8M738 1271h8M486 1325h8M477 1465h8M729 1333h8M471 1343h8M734 1375h8M590 1433h8M514 1241h8M560 1438h8M605 1462h8M571 1458h8M551 1265h8M540 1383h8M524 1375h8M581 1396h8M680 1415h8M507 1285h8M700 1227h8M597 1443h8M490 1389h8M467 1296h8M719 1391h8M567 1226h8M652 1381h8M724 1335h8M617 1425h8M687 1427h8M549 1230h8M601 1427h8M591 1211h8M517 1270h8M647 1174h8M769 1342h8M512 1468h8M546 1368h8M627 1384h8M625 1394h8M765 1242h8M536 1441h8M541 1378h8M610 1213h8M676 1429h8M486 1445h8M543 1444h8M559 1251h8M744 1200h8M504 1464h8M619 1409h8M723 1330h8M714 1285h8M591 1196h8M492 1351h8M528 1425h8M621 1411h8M541 1233h8M627 1427h8M702 1233h8M781 1335h8M526 1273h8M514 1339h8M742 1396h8M755 1282h8M506 1383h8M493 1276h8M487 1164h8M508 1343h8M697 1377h8M641 1404h8M722 1262h8M491 1207h8M682 1341h8M503 1269h8M695 1398h8M559 1401h8M547 1403h8M741 1312h8M544 1392h8M662 1199h8M633 1377h8M604 1469h8M670 1428h8M468 1316h8M774 1396h8M463 1378h8M587 1189h8M696 1375h8M466 1354h8M663 1426h8M592 1378h8M652 1194h8M758 1384h8M477 1382h8M618 1175h8M657 1440h8M478 1368h8M735 1277h8M714 1371h8M656 1228h8M716 1188h8M510 1317h8M652 1164h8M621 1416h8M714 1378h8M485 1212h8M761 1304h8M770 1320h8M580 1426h8M745 1310h8M547 1218h8M591 1433h8M517 1410h8M751 1161h8M577 1167h8M598 1443h8M623 1461h8M825 1426h8M716 1232h8M791 1330h8M467 1385h8M754 1461h8M720 1298h8M900 1189h8M720 1429h8M565 1365h8M728 1260h8M637 1469h8M696 1338h8M723 1203h8M535 1367h8M723 1209h8M479 1194h8M464 1325h8M533 1348h8M590 1206h8M629 1463h8M746 1243h8M601 1445h8M578 1411h8M512 1351h8M700 1165h8M548 1296h8M555 1221h8M500 1356h8M514 1193h8M618 1466h8M626 1468h8M600 1168h8M704 1339h8M483 1277h8M671 1200h8M594 1209h8M591 1168h8M535 1433h8M751 1216h8M712 1330h8M478 1425h8M515 1239h8M535 1285h8M548 1416h8M546 1367h8M617 1435h8M535 1267h8M655 1407h8M503 1200h8M719 1360h8M463 1341h8M541 1252h8M709 1293h8M686 1380h8M464 1352h8M468 1220h8M573 1443h8M617 1148h8M515 1297h8M697 1356h8M485 1288h8M655 1402h8M722 1388h8M646 1432h8M624 1451h8M525 1048h8M725 1018h8M543 986h8M504 1051h8M631 970h8M637 1024h8M621 1003h8M506 985h8M600 953h8M495 1001h8M673 1055h8M752 1011h8M659 946h8M759 1066h8M683 1060h8M848 1076h8M560 970h8M607 1007h8M608 1046h8M685 1039h8M716 1051h8M562 996h8M502 929h8M699 914h8M509 1067h8M727 950h8M594 921h8M703 1094h8M710 914h8M704 1018h8M733 990h8M590 993h8M693 1014h8M592 1039h8M536 1082h8M611 1081h8M668 1056h8M561 919h8M755 998h8M517 985h8M492 1023h8M538 961h8M723 962h8M597 929h8M661 1047h8M671 1028h8M479 1034h8M605 1088h8M710 1069h8M701 1041h8M617 931h8M673 1009h8M643 986h8M696 1007h8M507 915h8M744 916h8"/>
<path transform="scale(.1)" fill="none" stroke="#fff" stroke-opacity=".55" stroke-width="7" d="M693 1399h7M719 1229h7M764 1237h7M572 1162h7M618 1402h7M776 1257h7M468 1329h7M548 1261h7M526 1309h7M640 1376h7M595 1376h7M776 1250h7M492 1317h7M482 1255h7M703 1305h7M511 1283h7M577 1363h7M677 1368h7M722 1277h7M630 1401h7M603 1447h7M715 1121h7M670 1263h7M791 1455h7M540 1354h7M527 1331h7M477 1322h7M667 1142h7M560 1271h7M784 1305h7M640 1275h7M501 1247h7M558 1185h7M650 1257h7M717 1394h7M543 1253h7M579 1446h7M637 1177h7M671 1392h7M712 1265h7M716 1393h7M517 1228h7M674 1363h7M523 1455h7M683 1381h7M675 1411h7M610 1191h7M537 1328h7M668 1214h7M738 1358h7M748 1305h7M686 1298h7M664 1334h7M512 1390h7M542 1269h7M636 1253h7M692 1435h7M777 1200h7M576 1409h7M477 1438h7M526 1439h7M690 1253h7M727 1274h7M683 1353h7M712 1366h7M721 1346h7M695 1196h7M613 1229h7M864 1326h7M532 1287h7M544 1315h7M551 1237h7M706 1372h7M727 1432h7M493 1369h7M551 1146h7M597 1408h7M641 1209h7M530 1373h7M572 1262h7M723 1322h7M722 1389h7M615 1435h7M637 1194h7M839 1106h7M556 1269h7M491 1423h7M468 1264h7M750 1242h7M665 1210h7M639 1374h7M517 1343h7M853 1412h7M541 1294h7M477 1350h7M734 1222h7M536 1424h7M551 1273h7M618 1260h7M475 1361h7M688 1275h7M575 1157h7M740 1465h7M683 1155h7M761 1139h7M588 1160h7M482 1248h7M598 1167h7M476 1269h7M568 1160h7M610 1442h7M711 1225h7M684 1451h7M622 1374h7M511 1173h7M748 1164h7M475 1346h7M688 1308h7M687 1276h7M771 1300h7M582 1191h7M656 1258h7M625 1376h7M679 1373h7M689 1271h7M652 1397h7M583 1365h7M492 1276h7M633 1394h7M718 1313h7M657 1195h7M561 1344h7M630 1446h7M522 1306h7M704 1216h7M562 1211h7M701 1351h7M518 1165h7M788 1381h7M784 1365h7M549 1451h7M685 1296h7M696 1213h7M537 1134h7M828 1440h7M740 1239h7M730 1390h7M468 1209h7M528 1229h7M523 1431h7M589 1220h7M681 1351h7M725 1204h7M710 1193h7M557 1288h7M798 1250h7M563 1217h7M600 1178h7M768 1368h7M738 1167h7M545 1323h7M584 1440h7M511 1139h7M594 1189h7M495 1214h7M620 1191h7M721 1356h7M825 1333h7M765 1213h7M677 1226h7M765 1359h7M493 1328h7M560 1251h7M688 1332h7M776 1156h7"/>
<path transform="scale(.1)" fill="none" stroke="#222" stroke-opacity=".55" stroke-width="10" d="M984 825h10"/>
<path transform="scale(.1)" fill="none" stroke="#222" stroke-opacity=".55" stroke-width="9" d="M1023 1153h9M1170 1381h9"/>
<path d="M34.5 25.0H180.6" stroke="#777" stroke-width="1.2" fill="none"/>
<path d="M180.0 24.5V157.0" stroke="#4a4a4a" stroke-width="1.3" fill="none"/>
<path d="M45.5 25.0V148.1M34.5 147.5H180.6" stroke="#1a1a1a" stroke-width="1.4" fill="none"/>
<path d="M91.6 25.0V147.5M45.5 106.0H180.0" stroke="#222" stroke-width="1.3" fill="none"/>
<path d="M45.5 147.5v9.5M79.1 147.5v9.5M112.8 147.5v9.5M146.4 147.5v9.5" stroke="#555" stroke-width=".8" fill="none"/>
<path d="M45.5 117.1h-11M45.5 86.7h-11M45.5 56.3h-11" stroke="#6a6a6a" stroke-width=".7" fill="none"/>
<path d="M55.6 147.5v2.6M61.5 147.5v2.6M65.7 147.5v2.6M69.0 147.5v2.6M71.7 147.5v2.6M73.9 147.5v2.6M75.9 147.5v2.6M77.6 147.5v2.6M45.5 138.3h-2.8M45.5 133.0h-2.8M45.5 129.2h-2.8M45.5 126.3h-2.8M45.5 123.8h-2.8M45.5 121.8h-2.8M45.5 120.0h-2.8M45.5 118.5h-2.8M89.2 147.5v2.6M95.2 147.5v2.6M99.4 147.5v2.6M102.6 147.5v2.6M105.3 147.5v2.6M107.5 147.5v2.6M109.5 147.5v2.6M111.2 147.5v2.6M45.5 107.9h-2.8M45.5 102.6h-2.8M45.5 98.8h-2.8M45.5 95.9h-2.8M45.5 93.4h-2.8M45.5 91.4h-2.8M45.5 89.6h-2.8M45.5 88.1h-2.8M122.9 147.5v2.6M128.8 147.5v2.6M133.0 147.5v2.6M136.3 147.5v2.6M138.9 147.5v2.6M141.2 147.5v2.6M143.1 147.5v2.6M144.8 147.5v2.6M45.5 77.5h-2.8M45.5 72.2h-2.8M45.5 68.4h-2.8M45.5 65.5h-2.8M45.5 63.0h-2.8M45.5 61.0h-2.8M45.5 59.2h-2.8M45.5 57.7h-2.8M156.5 147.5v2.6M162.4 147.5v2.6M166.6 147.5v2.6M169.9 147.5v2.6M172.5 147.5v2.6M174.8 147.5v2.6M176.7 147.5v2.6M178.5 147.5v2.6M45.5 47.1h-2.8M45.5 41.8h-2.8M45.5 38.0h-2.8M45.5 35.1h-2.8M45.5 32.6h-2.8M45.5 30.6h-2.8M45.5 28.8h-2.8M45.5 27.3h-2.8" stroke="#3a3a3a" stroke-width=".75" fill="none"/>
<text class="ax" transform="translate(46.4 156.8) scale(.8 1)">10<tspan class="sp" dy="-1.7">0</tspan></text>
<text class="ax" transform="translate(33.1 145.8) scale(.8 1)">10<tspan class="sp" dy="-1.7">0</tspan></text>
<text class="ax" transform="translate(80.0 156.8) scale(.8 1)">10<tspan class="sp" dy="-1.7">1</tspan></text>
<text class="ax" transform="translate(33.1 115.4) scale(.8 1)">10<tspan class="sp" dy="-1.7">1</tspan></text>
<text class="ax" transform="translate(113.7 156.8) scale(.8 1)">10<tspan class="sp" dy="-1.7">2</tspan></text>
<text class="ax" transform="translate(33.1 85.0) scale(.8 1)">10<tspan class="sp" dy="-1.7">2</tspan></text>
<text class="ax" transform="translate(147.3 156.8) scale(.8 1)">10<tspan class="sp" dy="-1.7">3</tspan></text>
<text class="ax" transform="translate(33.1 54.6) scale(.8 1)">10<tspan class="sp" dy="-1.7">3</tspan></text>
<text class="q" x="44.9" y="32.4">B1</text><text class="q" x="47.4" y="40.1">53.2%</text>
<text class="q" x="92.0" y="32.4">B2</text><text class="q" x="96.0" y="40.1">0.0%</text>
<text class="q" x="44.9" y="113.2">B3</text><text class="q" x="47.4" y="121.2">46.7%</text>
<text class="q" x="92.0" y="113.2">B4</text><text class="q" x="96.0" y="121.2">0.0%</text>
<text class="pl" x="167.0" y="45.1">A</text>
</g>
<g>
<clipPath id="cpB"><rect x="211.8" y="25.0" width="133.2" height="122.1"/></clipPath>
<g clip-path="url(#cpB)">
<ellipse cx="227.8" cy="131.0" rx="17.9" ry="17.2" fill="url(#lg)"/>
<ellipse cx="225.2" cy="80.1" rx="15.0" ry="6.8" fill="url(#ug)"/>
</g>
<path transform="scale(.1)" fill="none" stroke="#000" stroke-opacity=".8" stroke-width="8" d="M2135 785h8M2124 777h8M2123 864h8M2373 766h8M2286 869h8M2125 834h8M2125 816h8M2314 855h8M2124 808h8M2305 738h8M2154 847h8M2174 848h8M2250 743h8M2361 858h8M2140 849h8M2166 854h8M2123 833h8M2196 742h8M2165 850h8M2123 814h8M2392 841h8M2314 747h8M2135 781h8M2124 790h8M2214 742h8M2170 872h8M2122 875h8M2194 875h8M2122 799h8M2235 733h8M2282 885h8M2134 828h8M2125 816h8M2416 811h8M2362 782h8M2269 858h8M2388 814h8M2126 793h8M2124 792h8M2145 838h8M2120 825h8M2291 748h8M2120 769h8M2122 801h8M2136 782h8M2125 744h8M2168 736h8M2213 747h8M2122 798h8M2240 874h8M2216 749h8M2444 830h8M2142 839h8M2182 758h8M2399 814h8M2417 804h8M2372 753h8M2341 851h8M2226 751h8M2124 810h8M2239 859h8M2237 736h8M2357 839h8M2381 760h8M2344 768h8M2325 738h8M2141 824h8M2197 754h8M2286 871h8M2365 777h8M2180 732h8M2120 744h8M2374 824h8M2138 768h8M2353 772h8M2315 890h8M2401 806h8M2181 854h8M2280 879h8M2371 814h8M2316 744h8M2266 751h8M2340 846h8M2384 823h8M2445 789h8M2160 746h8M2379 800h8M2394 789h8M2145 843h8M2291 874h8M2341 843h8M2396 805h8M2121 790h8M2177 764h8M2411 816h8M2253 877h8M2430 769h8M2367 822h8M2175 760h8M2125 782h8M2236 860h8M2348 733h8M2377 821h8M2123 775h8M2319 754h8M2125 824h8M2158 840h8M2124 798h8M2186 745h8M2193 751h8M2235 742h8M2150 777h8M2143 761h8M2253 879h8M2246 727h8M2216 887h8M2325 873h8M2379 852h8M2207 732h8M2342 861h8M2124 845h8M2144 868h8M2172 743h8M2368 846h8M2360 841h8M2173 747h8M2293 859h8M2198 750h8M2122 817h8M2121 793h8M2126 781h8M2323 849h8M2131 832h8M2364 787h8M2286 870h8M2422 824h8M2354 837h8M2129 781h8M2140 852h8M2126 844h8M2257 868h8M2124 756h8M2224 747h8M2374 814h8M2395 814h8M2184 858h8M2150 839h8M2381 812h8M2202 746h8M2190 853h8M2438 800h8M2394 851h8M2204 868h8M2309 876h8M2207 744h8M2386 807h8M2134 810h8M2141 832h8M2383 812h8M2126 775h8M2300 754h8M2145 848h8M2337 856h8M2188 758h8M2368 784h8M2179 849h8M2395 818h8M2202 740h8M2368 857h8M2229 742h8M2364 837h8M2317 852h8M2158 841h8M2221 744h8M2211 864h8M2150 755h8M2182 901h8M2317 736h8M2346 758h8M2280 733h8M2122 817h8M2176 853h8M2269 735h8M2332 740h8M2178 848h8M2228 858h8M2122 764h8M2173 860h8M2265 737h8M2331 752h8M2179 867h8M2136 869h8M2359 849h8M2379 838h8M2243 740h8M2121 852h8M2361 785h8M2155 763h8M2126 770h8M2364 827h8M2158 864h8M2259 717h8M2158 841h8M2182 872h8M2139 831h8M2170 734h8M2124 860h8M2204 729h8M2125 831h8M2374 761h8M2310 744h8M2159 726h8M2369 782h8M2120 808h8M2204 859h8M2128 764h8M2383 770h8M2413 771h8M2384 776h8M2121 817h8M2335 852h8M2239 863h8M2188 751h8M2372 825h8M2388 831h8M2375 758h8M2366 774h8M2125 797h8M2133 801h8M2322 757h8M2358 752h8M2120 857h8M2122 827h8M2154 873h8M2199 863h8M2263 749h8M2183 737h8M2380 775h8M2299 751h8M2170 764h8M2295 745h8M2375 757h8M2299 864h8M2263 739h8M2374 830h8M2349 851h8M2186 858h8M2385 826h8M2298 857h8M2340 764h8M2125 799h8M2174 759h8M2363 788h8M2232 886h8M2336 888h8M2346 867h8M2123 767h8M2255 884h8M2412 837h8M2180 877h8M2124 837h8M2163 764h8M2302 752h8M2292 867h8M2122 818h8M2198 861h8M2401 754h8M2402 843h8M2125 789h8M2405 821h8M2230 751h8M2246 861h8M2369 820h8M2125 815h8M2380 785h8M2120 836h8M2370 795h8M2295 860h8M2348 839h8M2157 768h8M2157 771h8M2293 739h8M2339 856h8M2416 832h8M2374 746h8M2361 826h8M2123 783h8M2348 853h8M2412 811h8M2122 847h8M2287 741h8M2305 754h8M2371 782h8M2168 758h8M2159 753h8M2397 768h8M2197 878h8M2273 737h8M2381 804h8M2164 715h8M2172 760h8M2361 775h8M2306 734h8M2122 851h8M2288 866h8M2125 817h8M2121 797h8M2125 818h8M2310 739h8M2385 823h8M2168 761h8M2238 745h8M2395 787h8M2363 767h8M2376 772h8M2160 744h8M2138 859h8M2121 774h8M2125 842h8M2321 851h8M2302 750h8M2224 744h8M2401 843h8M2134 806h8M2190 855h8M2196 872h8M2212 877h8M2402 844h8M2363 828h8M2162 768h8M2266 858h8M2289 886h8M2380 833h8M2138 774h8M2317 868h8M2171 740h8M2130 825h8M2350 845h8M2190 881h8M2178 857h8M2140 780h8M2416 833h8M2329 761h8M2237 735h8M2120 815h8M2345 772h8M2195 867h8M2367 758h8M2411 804h8M2178 868h8M2421 834h8M2285 866h8M2295 746h8M2170 731h8M2123 786h8M2196 863h8M2201 757h8M2352 843h8M2370 852h8M2122 795h8M2251 862h8M2124 834h8M2121 834h8M2371 757h8M2421 822h8M2135 821h8M2408 815h8M2122 848h8M2317 858h8M2123 763h8M2366 825h8M2124 797h8M2383 810h8M2167 744h8M2350 763h8M2125 837h8M2217 744h8M2250 895h8M2130 779h8M2396 780h8M2262 893h8M2367 764h8M2121 806h8M2185 745h8M2257 747h8M2126 788h8M2351 868h8M2289 861h8M2175 849h8M2313 758h8M2371 806h8M2190 865h8M2121 788h8M2121 795h8M2391 784h8M2272 887h8M2385 785h8M2319 862h8M2125 797h8M2122 802h8M2319 868h8M2217 745h8M2122 763h8M2363 851h8M2331 765h8M2403 807h8M2228 887h8M2445 761h8M2340 843h8M2372 774h8M2215 737h8M2182 850h8M2205 755h8M2147 843h8M2125 808h8M2121 799h8M2133 779h8M2298 749h8M2168 892h8M2121 800h8M2120 808h8M2419 799h8M2333 742h8M2134 852h8M2128 823h8M2226 858h8M2432 792h8M2261 872h8M2270 740h8M2157 839h8M2313 752h8M2373 794h8M2211 871h8M2341 871h8M2308 757h8M2336 766h8M2309 749h8M2382 825h8M2123 830h8M2169 873h8M2367 788h8M2363 824h8M2244 740h8M2133 832h8M2135 760h8M2382 840h8M2457 781h8M2132 798h8M2131 834h8M2377 820h8M2242 734h8M2286 740h8M2122 830h8M2153 839h8M2306 854h8M2282 734h8M2239 744h8M2366 851h8M2335 853h8M2194 737h8M2158 766h8M2247 868h8M2371 775h8M2248 719h8M2124 828h8M2331 863h8M2348 745h8M2125 798h8M2324 762h8M2384 767h8M2224 858h8M2396 825h8M2315 753h8M2121 804h8M2376 776h8M2338 859h8M2311 894h8M2205 874h8M2404 808h8M2235 743h8M2367 832h8M2256 871h8M2365 783h8M2161 847h8M2303 868h8M2395 848h8M2268 739h8M2287 895h8M2183 759h8M2125 776h8M2348 862h8M2326 744h8M2147 767h8M2124 737h8M2411 793h8M2230 744h8M2315 869h8M2121 841h8M2397 729h8M2149 857h8M2196 860h8M2374 721h8M2389 813h8M2127 759h8M2367 763h8M2268 748h8M2353 873h8M2324 763h8M2375 838h8M2174 749h8M2209 742h8M2160 852h8M2190 858h8M2420 827h8M2184 852h8M2186 854h8M2402 835h8M2350 762h8M2376 800h8M2338 753h8M2125 747h8M2331 847h8M2379 821h8M2165 768h8M2246 721h8M2407 817h8M2414 793h8M2325 853h8M2161 761h8M2425 817h8M2350 850h8M2190 882h8M2326 743h8M2121 815h8M2375 791h8M2221 864h8M2124 763h8M2395 764h8M2268 732h8M2126 812h8M2135 815h8M2364 769h8M2224 867h8M2141 760h8M2210 888h8M2159 762h8M2190 755h8M2169 860h8M2376 807h8M2154 836h8M2165 849h8M2152 872h8M2423 820h8M2385 813h8M2146 748h8M2386 799h8M2123 820h8M2172 743h8M2217 866h8M2215 751h8M2344 769h8M2256 865h8M2127 825h8M2402 787h8M2271 868h8M2309 855h8M2367 793h8M2309 756h8M2122 734h8M2194 854h8M2121 856h8M2328 872h8M2277 735h8M2224 741h8M2408 790h8M2387 787h8M2121 825h8M2203 736h8M2241 877h8M2318 857h8M2441 764h8M2375 795h8M2126 782h8M2374 841h8M2303 744h8M2309 752h8M2332 848h8M2303 857h8M2123 804h8M2357 831h8M2445 811h8M2197 723h8M2348 736h8M2292 733h8M2128 816h8M2318 878h8M2334 756h8M2362 771h8M2258 874h8M2216 874h8M2390 822h8M2363 826h8M2142 779h8M2209 751h8M2349 767h8M2363 825h8M2303 866h8M2123 751h8M2466 832h8M2179 741h8M2128 762h8M2278 727h8M2344 737h8M2123 783h8M2249 859h8M2356 772h8M2178 848h8M2397 773h8M2193 879h8M2353 871h8M2121 840h8M2392 848h8M2341 856h8M2379 784h8M2121 815h8M2123 784h8M2431 842h8M2263 869h8M2138 829h8M2408 836h8M2165 871h8M2378 800h8M2123 814h8M2123 816h8M2213 754h8M2311 852h8M2354 852h8M2123 784h8M2133 771h8M2152 850h8M2126 775h8M2283 734h8M2384 836h8M2389 800h8M2152 837h8M2276 883h8M2194 859h8M2393 838h8M2335 851h8M2413 800h8M2192 752h8M2391 773h8M2126 817h8M2123 784h8M2237 868h8M2203 746h8M2278 870h8M2169 848h8M2123 812h8M2125 794h8M2341 759h8M2123 785h8M2124 855h8M2182 854h8M2138 851h8M2208 870h8M2281 860h8M2290 872h8M2164 765h8M2370 769h8M2311 865h8M2400 799h8M2369 770h8M2180 758h8M2134 853h8M2122 809h8M2353 750h8M2395 795h8M2259 870h8M2122 776h8M2233 731h8M2153 763h8M2165 852h8M2236 866h8M2154 750h8M2244 751h8M2121 808h8M2294 874h8M2278 864h8M2397 833h8M2267 872h8M2195 733h8M2202 869h8M2327 852h8M2260 743h8M2359 864h8M2357 778h8M2151 847h8M2154 875h8M2125 807h8M2239 870h8M2315 863h8M2238 735h8M2133 760h8M2125 818h8M2258 859h8M2324 750h8M2214 858h8M2197 747h8M2121 826h8M2145 763h8M2277 877h8M2184 880h8M2396 841h8M2303 869h8M2261 877h8M2253 745h8M2316 863h8M2438 787h8M2434 754h8M2164 753h8M2212 739h8M2429 847h8M2216 882h8M2131 763h8M2207 862h8M2133 783h8M2361 837h8M2364 770h8M2420 833h8M2335 744h8M2371 760h8M2396 813h8M2200 867h8M2123 842h8M2318 864h8M2177 850h8M2137 757h8M2174 732h8M2385 820h8M2125 734h8M2272 860h8M2226 742h8M2126 802h8M2126 785h8M2340 874h8M2278 862h8M2124 779h8M2312 874h8M2125 834h8M2311 723h8M2211 860h8M2379 789h8M2123 819h8M2225 742h8M2147 778h8M2398 790h8M2333 761h8M2122 819h8M2215 746h8M2145 779h8M2172 861h8M2368 843h8M2121 818h8M2124 815h8M2122 780h8M2317 731h8M2264 745h8M2216 866h8M2350 865h8M2123 836h8M2331 850h8M2133 838h8M2138 819h8M2438 775h8M2247 750h8M2364 833h8M2155 859h8M2418 793h8M2333 745h8M2222 874h8M2371 796h8M2124 761h8M2126 745h8M2125 799h8M2124 793h8M2227 872h8M2234 752h8M2380 801h8M2124 777h8M2123 763h8M2312 753h8M2300 746h8M2211 878h8M2161 739h8M2133 838h8M2220 752h8M2238 865h8M2132 814h8M2389 822h8M2168 763h8M2193 746h8M2361 835h8M2411 781h8M2142 829h8M2215 745h8M2149 834h8M2221 716h8M2415 775h8M2231 875h8M2152 834h8M2280 861h8M2391 774h8M2134 775h8M2404 830h8M2191 854h8M2364 785h8M2186 748h8M2122 821h8M2227 862h8M2122 775h8M2364 740h8M2150 757h8M2282 871h8M2354 873h8M2144 831h8M2171 743h8M2125 759h8M2362 778h8M2395 812h8M2228 726h8M2379 788h8M2124 814h8M2224 877h8M2323 758h8M2357 841h8M2406 798h8M2313 884h8M2183 758h8M2270 861h8M2134 774h8M2344 755h8M2125 832h8M2240 720h8M2204 882h8M2351 757h8M2266 874h8M2385 832h8M2122 772h8M2150 836h8M2387 793h8M2245 863h8M2263 723h8M2138 853h8M2341 845h8M2134 767h8M2143 849h8M2390 834h8M2266 859h8M2299 756h8M2220 862h8M2125 830h8M2196 855h8M2414 792h8M2368 848h8M2246 750h8M2383 745h8M2150 841h8M2122 783h8M2420 747h8M2134 831h8M2120 816h8M2183 761h8M2347 749h8M2127 796h8M2124 774h8M2138 825h8M2122 831h8M2247 862h8M2287 751h8M2143 768h8M2392 774h8M2169 747h8M2228 868h8M2229 867h8M2121 777h8M2368 776h8M2355 833h8M2125 788h8M2370 778h8M2301 728h8M2171 850h8M2140 777h8M2372 769h8M2124 822h8M2120 835h8M2334 861h8M2148 832h8M2217 742h8M2371 806h8M2421 785h8M2121 819h8M2375 797h8M2149 755h8M2121 819h8M2415 768h8M2346 845h8M2396 796h8M2151 860h8M2124 821h8M2372 831h8M2322 860h8M2120 807h8M2222 750h8M2125 841h8M2406 800h8M2150 759h8M2382 778h8M2399 826h8M2127 828h8M2286 857h8M2299 754h8M2213 866h8M2273 874h8M2395 820h8M2126 795h8M2120 822h8M2298 744h8M2160 765h8M2247 869h8M2173 852h8M2403 804h8M2351 846h8M2457 812h8M2123 791h8M2342 764h8M2210 748h8M2371 794h8M2131 762h8M2333 858h8M2392 808h8M2318 864h8M2124 848h8M2136 827h8M2350 765h8M2206 899h8M2391 770h8M2398 814h8M2156 749h8M2121 808h8M2143 776h8M2266 751h8M2293 859h8M2286 720h8M2275 866h8M2372 825h8M2163 848h8M2259 752h8M2176 854h8M2125 795h8M2355 833h8M2275 752h8M2357 838h8M2125 794h8M2122 797h8M2386 805h8M2133 853h8M2123 856h8M2366 859h8M2257 726h8M2123 816h8M2398 767h8M2128 818h8M2262 877h8M2310 868h8M2157 772h8M2349 739h8M2292 748h8M2172 738h8M2404 799h8M2406 786h8M2141 834h8M2375 861h8M2336 861h8M2205 901h8M2405 843h8M2121 808h8M2187 761h8M2160 841h8M2331 737h8M2363 777h8M2377 840h8M2124 766h8M2234 735h8M2125 741h8M2353 770h8M2353 853h8M2231 729h8M2385 825h8M2124 761h8M2123 809h8M2125 814h8M2121 760h8M2214 751h8M2385 812h8M2200 754h8M2395 844h8M2194 859h8M2388 794h8M2313 740h8M2122 821h8M2317 856h8M2315 864h8M2349 772h8M2145 836h8M2371 835h8M2120 815h8M2128 846h8M2123 795h8M2123 788h8M2233 742h8M2133 815h8M2123 840h8M2162 847h8M2121 846h8M2323 752h8M2123 812h8M2120 779h8M2122 829h8M2308 864h8M2366 834h8M2363 850h8M2227 859h8M2268 749h8M2120 775h8M2153 862h8M2334 860h8M2364 842h8M2347 869h8M2292 906h8M2150 767h8M2225 749h8M2201 870h8M2122 800h8M2311 758h8M2243 746h8M2164 850h8M2287 703h8M2121 765h8M2135 827h8M2180 760h8M2130 802h8M2354 838h8M2123 825h8M2128 821h8M2469 811h8M2375 792h8M2400 841h8M2402 827h8M2202 891h8M2125 773h8M2337 856h8M2122 776h8M2400 821h8M2278 752h8M2268 752h8M2380 789h8M2332 878h8M2311 759h8M2145 860h8M2287 880h8M2124 760h8M2124 819h8M2123 832h8M2289 859h8M2121 811h8M2151 749h8M2199 751h8M2371 781h8M2379 770h8M2120 830h8M2154 739h8M2199 872h8M2342 746h8M2158 839h8M2380 764h8M2155 845h8M2428 804h8M2125 817h8M2205 859h8M2125 810h8M2363 759h8M2301 747h8M2222 875h8M2226 748h8M2420 811h8M2321 754h8M2125 789h8M2295 868h8M2343 742h8M2160 760h8M2380 773h8M2347 854h8M2199 859h8M2356 741h8M2328 868h8M2131 808h8M2123 806h8M2313 855h8M2371 827h8M2373 783h8M2227 726h8M2456 779h8M2351 748h8M2291 705h8M2417 772h8M2241 862h8M2121 813h8M2375 823h8M2328 747h8M2211 858h8M2122 798h8M2175 735h8M2378 820h8M2120 786h8M2418 791h8M2122 804h8M2186 738h8M2177 864h8M2375 817h8M2327 873h8M2131 758h8M2351 733h8M2361 778h8M2123 816h8M2362 831h8M2190 856h8M2292 863h8M2375 806h8M2136 854h8M2162 751h8M2201 867h8M2375 830h8M2122 801h8M2185 855h8M2331 754h8M2368 786h8M2409 834h8M2164 770h8M2169 742h8M2376 1254h8M2180 1324h8M2361 1182h8M2358 1163h8M2335 1373h8M2341 1351h8M2158 1337h8M2356 1316h8M2333 1433h8M2194 1187h8M2388 1412h8M2384 1380h8M2459 1274h8M2355 1468h8M2265 1209h8M2398 1386h8M2353 1364h8M2283 1378h8M2391 1281h8M2499 1315h8M2137 1263h8M2141 1398h8M2453 1336h8M2346 1338h8M2275 1382h8M2166 1311h8M2372 1261h8M2188 1304h8M2329 1298h8M2299 1251h8M2272 1435h8M2136 1249h8M2200 1294h8M2356 1400h8M2243 1389h8M2346 1419h8M2241 1373h8M2346 1229h8M2384 1257h8M2230 1193h8M2407 1313h8M2309 1358h8M2231 1258h8M2311 1379h8M2207 1401h8M2433 1371h8M2186 1358h8M2326 1402h8M2353 1320h8M2264 1150h8M2123 1368h8M2202 1206h8M2332 1322h8M2241 1172h8M2178 1342h8M2274 1421h8M2425 1187h8M2228 1385h8M2272 1257h8M2372 1389h8M2181 1292h8M2319 1465h8M2279 1428h8M2388 1354h8M2161 1350h8M2359 1259h8M2252 1452h8M2264 1182h8M2271 1252h8M2319 1366h8M2164 1288h8M2309 1433h8M2361 1288h8M2339 1273h8M2368 1334h8M2311 1184h8M2238 1263h8M2211 1240h8M2346 1362h8M2285 1464h8M2213 1388h8M2219 1323h8M2340 1263h8M2236 1254h8M2268 1243h8M2290 1395h8M2122 1324h8M2354 1102h8M2229 1176h8M2210 1311h8M2237 1449h8M2394 1454h8M2323 1424h8M2287 1219h8M2266 1205h8M2164 1171h8M2149 1367h8M2186 1373h8M2210 1266h8M2329 1379h8M2344 1258h8M2196 1310h8M2355 1232h8M2334 1467h8M2390 1168h8M2331 1365h8M2439 1335h8M2385 1319h8M2294 1210h8M2195 1276h8M2251 1154h8M2328 1278h8M2252 1262h8M2232 1245h8M2346 1314h8M2344 1359h8M2387 1279h8M2174 1447h8M2231 1214h8M2403 1449h8M2259 1418h8M2206 1222h8M2366 1283h8M2233 1262h8M2154 1332h8M2461 1426h8M2347 1262h8M2211 1393h8M2257 1177h8M2355 1278h8M2410 1293h8M2258 1246h8M2187 1302h8M2229 1228h8M2267 1193h8M2142 1344h8M2275 1384h8M2419 1311h8M2183 1236h8M2205 1379h8M2249 1446h8M2235 1411h8M2407 1224h8M2214 1191h8M2269 1400h8M2195 1275h8M2159 1205h8M2165 1448h8M2349 1456h8M2433 1364h8M2334 1366h8M2218 1223h8M2329 1465h8M2393 1228h8M2317 1410h8M2367 1363h8M2335 1290h8M2374 1310h8M2241 1163h8M2202 1318h8M2280 1423h8M2299 1166h8M2182 1255h8M2192 1180h8M2199 1273h8M2263 1384h8M2183 1353h8M2243 1242h8M2366 1225h8M2313 1394h8M2236 1443h8M2371 1469h8M2200 1376h8M2314 1425h8M2255 1132h8M2208 1352h8M2234 1189h8M2308 1221h8M2367 1283h8M2382 1330h8M2334 1356h8M2260 1171h8M2183 1318h8M2195 1293h8M2281 1205h8M2239 1214h8M2289 1234h8M2205 1240h8M2290 1410h8M2333 1416h8M2238 1105h8M2184 1325h8M2193 1326h8M2330 1353h8M2266 1410h8M2432 1447h8M2182 1395h8M2360 1395h8M2436 1169h8M2122 1316h8M2304 1388h8M2305 1190h8M2445 1304h8M2326 1351h8M2240 1434h8M2309 1258h8M2388 1311h8M2242 1384h8M2409 1245h8M2359 1227h8M2183 1287h8M2383 1204h8M2410 1408h8M2395 1286h8M2315 1429h8M2339 1419h8M2140 1372h8M2333 1374h8M2243 1354h8M2291 1394h8M2306 1159h8M2270 1238h8M2412 1379h8M2324 1227h8M2320 1230h8M2349 1469h8M2299 1223h8M2322 1438h8M2185 1343h8M2245 1135h8M2180 1262h8M2286 1442h8M2386 1286h8M2194 1361h8M2362 1296h8M2159 1153h8M2244 1200h8M2295 1224h8M2291 1207h8M2399 1243h8M2355 1319h8M2329 1394h8M2236 1233h8M2309 1202h8M2259 1408h8M2338 1326h8M2274 1225h8M2198 1361h8M2205 1373h8M2380 1351h8M2268 1370h8M2194 1252h8M2273 1180h8M2330 1247h8M2292 1456h8M2392 1247h8M2421 1200h8M2120 1349h8M2229 1239h8M2386 1300h8M2425 1361h8M2126 1363h8M2133 1318h8M2199 1301h8M2278 1246h8M2353 1161h8M2398 1247h8M2298 1434h8M2248 1372h8M2187 1166h8M2411 1262h8M2246 1180h8M2182 1361h8M2176 1310h8M2182 1168h8M2359 1405h8M2350 1386h8M2292 1423h8M2192 1351h8M2124 1398h8M2261 1254h8M2261 1115h8M2316 1273h8M2295 1440h8M2219 1345h8M2231 1431h8M2165 1291h8M2299 1402h8M2203 1337h8M2185 1299h8M2272 1432h8M2266 1144h8M2344 1345h8M2186 1317h8M2221 1465h8M2345 1253h8M2441 1341h8M2272 1187h8M2231 1400h8M2337 1362h8M2313 1414h8M2180 1406h8M2356 1241h8M2188 1394h8M2413 1408h8M2308 1454h8M2368 1375h8M2191 1294h8M2124 1317h8M2536 1349h8M2207 1240h8M2237 1453h8M2317 1269h8M2304 1451h8M2339 1400h8M2146 1396h8M2375 1248h8M2204 1404h8M2418 1310h8M2337 1209h8M2359 1235h8M2439 1283h8M2346 1410h8M2376 1436h8M2363 1298h8M2176 1292h8M2270 1246h8M2344 1449h8M2217 1323h8M2424 1254h8M2358 1310h8M2188 1348h8M2125 1359h8M2337 1338h8M2226 1423h8M2246 1266h8M2405 1367h8M2335 1286h8M2307 1406h8M2192 1327h8M2375 1197h8M2149 1297h8M2152 1394h8M2173 1287h8M2290 1234h8M2310 1213h8M2213 1398h8M2317 1269h8M2385 1398h8M2318 1443h8M2228 1187h8M2217 1353h8M2227 1392h8M2470 1296h8M2207 1326h8M2206 1301h8M2191 1287h8M2183 1255h8M2245 1134h8M2367 1260h8M2257 1377h8M2371 1293h8M2314 1418h8M2133 1216h8M2222 1229h8M2271 1203h8M2159 1374h8M2379 1216h8M2196 1313h8M2173 1297h8M2369 1355h8M2325 1214h8M2298 1232h8M2281 1246h8M2217 1296h8M2194 1279h8M2374 1269h8M2305 1367h8M2360 1401h8M2229 1226h8M2225 1278h8M2324 1413h8M2321 1386h8M2125 1375h8M2475 1250h8M2189 1339h8M2279 1211h8M2155 1344h8M2281 1222h8M2320 1133h8M2353 1303h8M2340 1244h8M2342 1469h8M2496 1218h8M2236 1259h8M2364 1232h8M2449 1251h8M2360 1253h8M2236 1423h8M2319 1256h8M2174 1441h8M2379 1307h8M2187 1245h8M2355 1358h8M2279 1207h8M2283 1449h8M2147 1280h8M2255 1364h8M2398 1285h8M2245 1156h8M2164 1339h8M2312 1419h8M2387 1311h8M2162 1390h8M2286 1408h8M2404 1260h8M2237 1250h8M2388 1269h8M2256 1412h8M2377 1332h8M2284 1192h8M2359 1468h8M2409 1220h8M2194 1361h8M2173 1404h8M2419 1230h8M2394 1171h8M2302 1211h8M2213 1292h8M2282 1391h8M2207 1363h8M2199 1370h8M2332 1342h8M2414 1350h8M2396 1258h8M2352 1228h8M2363 1306h8M2365 1247h8M2277 1389h8M2256 1196h8M2215 1212h8M2394 1300h8M2208 1235h8M2412 1322h8M2468 1349h8M2224 1250h8M2274 1177h8M2203 1409h8M2201 1370h8M2196 1346h8M2421 1388h8M2248 1226h8M2347 1307h8M2252 1251h8M2179 1384h8M2307 1271h8M2357 1281h8M2233 1200h8M2207 1291h8M2216 1462h8M2483 1258h8M2216 1197h8M2189 1376h8M2326 1272h8M2169 1263h8M2120 1389h8M2188 1258h8M2251 1466h8M2399 1282h8M2208 1186h8M2137 1403h8M2179 1310h8M2275 1255h8M2349 1269h8M2327 1354h8M2401 1459h8M2259 1365h8M2123 1236h8M2322 1400h8M2182 1299h8M2268 1146h8M2397 1251h8M2394 1389h8M2159 1264h8M2301 1265h8M2267 1203h8M2194 1339h8M2214 1378h8M2359 1335h8M2352 1257h8M2294 1261h8M2278 1435h8M2277 1467h8M2135 1345h8M2345 1295h8M2441 1371h8M2178 1429h8M2218 1233h8M2207 1185h8M2260 1209h8M2412 1368h8M2334 1279h8M2251 1191h8M2389 1192h8M2157 1465h8M2185 1365h8M2436 1368h8M2431 1298h8M2326 1283h8M2323 1356h8M2235 1219h8M2224 1468h8M2311 1209h8M2306 1246h8M2291 1429h8M2430 1277h8M2380 1335h8M2418 1369h8M2201 1288h8M2408 1377h8M2357 1291h8M2201 1266h8M2354 1329h8M2229 1358h8M2205 1213h8M2227 1403h8M2247 1257h8M2326 1368h8M2158 1303h8M2315 1201h8M2203 1323h8M2180 1330h8M2390 1348h8M2253 1061h8M2377 1332h8M2279 1374h8M2289 1190h8M2243 1396h8M2275 1405h8M2348 1178h8M2187 1188h8M2423 1273h8M2344 1373h8M2278 1398h8M2300 1437h8M2353 1369h8M2185 1258h8M2341 1232h8M2220 1396h8M2279 1396h8M2212 1267h8M2282 1159h8M2249 1439h8M2243 1235h8M2255 1396h8M2345 1268h8M2240 1413h8M2313 1398h8M2353 1395h8M2231 1130h8M2181 1345h8M2342 1363h8M2417 1268h8M2424 1269h8M2162 1261h8M2334 1378h8M2223 1397h8M2316 1439h8M2164 1327h8M2349 1216h8M2335 1408h8M2348 1468h8M2418 1337h8M2371 1332h8M2241 1249h8M2272 1438h8M2156 1359h8M2266 1189h8M2130 1272h8M2233 1428h8M2341 1284h8M2364 1230h8M2192 1279h8M2293 1391h8M2390 1424h8M2231 1215h8M2256 1375h8M2238 1176h8M2154 1199h8M2216 1394h8M2346 1387h8M2359 1295h8M2255 1219h8M2255 1235h8M2205 1262h8M2222 1242h8M2124 1307h8M2310 1436h8M2353 1368h8M2240 1430h8M2285 1185h8M2187 1346h8M2298 1138h8M2186 1319h8M2212 1367h8M2341 1337h8M2211 1213h8M2216 1230h8M2323 1468h8M2289 1210h8M2398 1368h8M2357 1183h8M2284 1451h8M2203 1424h8M2328 1395h8M2252 1395h8M2268 1232h8M2471 1229h8M2348 1385h8M2350 1469h8M2217 1413h8M2243 1222h8M2185 1291h8M2378 1219h8M2291 1391h8M2294 1469h8M2284 1411h8M2268 1230h8M2195 1284h8M2148 1466h8M2241 1226h8M2348 1272h8M2411 1320h8M2311 1206h8M2260 1381h8M2181 1342h8M2329 1428h8M2253 1263h8M2404 1356h8M2271 1256h8M2407 1247h8M2371 1366h8M2372 1224h8M2174 1242h8M2404 1373h8M2307 1241h8M2381 1268h8M2281 1363h8M2163 1241h8M2245 1253h8M2269 1226h8M2203 1462h8M2309 1257h8M2395 1256h8M2371 1287h8M2318 1460h8M2233 1382h8M2145 1310h8M2302 1421h8M2223 1232h8M2198 1283h8M2416 1303h8M2175 1254h8M2358 1214h8M2338 1264h8M2135 1373h8M2122 1318h8M2323 1284h8M2341 1259h8M2322 1362h8M2223 1164h8M2278 1435h8M2163 1303h8M2271 1458h8M2280 1230h8M2318 1219h8M2183 1397h8M2345 1349h8M2276 1432h8M2198 1392h8M2214 1386h8M2296 1401h8M2282 1172h8M2185 1398h8M2353 1372h8M2389 1244h8M2394 1350h8M2251 1232h8M2222 1242h8M2254 1171h8M2297 1385h8M2120 1292h8M2320 1203h8M2126 1255h8M2417 1284h8M2143 1384h8M2259 1407h8M2383 1311h8M2158 1257h8M2198 1338h8M2154 1346h8M2412 1306h8M2331 1417h8M2140 1404h8M2276 1413h8M2184 1309h8M2324 1203h8M2325 1345h8M2383 1283h8M2329 1397h8M2278 1392h8M2280 1172h8M2320 1376h8M2232 1269h8M2419 1319h8M2143 1393h8M2235 1433h8M2300 1124h8M2384 1272h8M2168 1278h8M2337 1238h8M2238 1467h8M2324 1287h8M2181 1278h8M2391 1294h8M2332 1230h8M2232 1226h8M2411 1296h8M2435 1389h8M2206 1386h8M2353 1362h8M2344 1349h8M2316 1202h8M2386 1342h8M2321 1254h8M2333 1408h8M2349 1298h8M2337 1105h8M2199 1329h8M2180 1343h8M2302 1182h8M2259 1189h8M2264 1236h8M2267 1450h8M2416 1377h8M2335 1146h8M2296 1370h8M2226 1379h8M2388 1280h8M2380 1399h8M2372 1363h8M2352 1412h8M2349 1285h8M2332 1246h8M2199 1442h8M2354 1230h8M2226 1257h8M2210 1206h8M2172 1259h8M2466 1346h8M2277 1439h8M2187 1326h8M2367 1323h8M2350 1392h8M2334 1228h8M2343 1430h8M2270 1257h8M2329 1408h8M2280 1399h8M2168 1333h8M2252 1254h8M2233 1256h8M2315 1254h8M2274 1209h8M2122 1391h8M2200 1206h8M2215 1210h8M2203 1375h8M2294 1229h8M2414 1303h8M2446 1286h8M2344 1371h8M2347 1278h8M2124 1366h8M2242 1365h8M2283 1412h8M2154 1435h8M2260 1362h8M2282 1194h8M2243 1257h8M2357 1182h8M2299 1402h8M2191 1419h8M2292 1367h8M2345 1343h8M2172 1168h8M2238 1402h8M2229 1276h8M2230 1237h8M2396 1375h8M2276 1391h8M2414 1326h8M2169 1278h8M2243 1198h8M2224 1227h8M2193 1356h8M2395 1279h8M2376 1252h8M2354 1398h8M2236 1245h8M2208 1246h8M2264 1393h8M2366 1236h8M2208 1402h8M2330 1332h8M2165 1201h8M2209 1201h8M2365 1424h8M2134 1395h8M2298 1182h8M2420 1347h8M2154 1295h8M2304 1377h8M2185 1188h8M2230 1205h8M2120 1188h8M2261 1387h8M2404 1321h8M2167 1211h8M2138 1329h8M2162 1460h8M2367 1440h8M2348 1463h8M2278 1373h8M2402 1303h8M2378 1293h8M2353 1428h8M2398 1211h8M2324 1134h8M2275 1250h8M2196 1289h8M2283 1227h8M2258 1219h8M2205 1382h8M2319 1362h8M2313 1374h8M2395 1258h8M2439 1447h8M2338 1236h8M2156 1280h8M2314 1399h8M2374 1330h8M2240 1400h8M2191 1321h8M2374 1399h8M2448 1269h8M2337 1292h8M2182 1257h8M2232 1439h8M2233 1201h8M2426 1358h8M2183 1325h8M2187 1358h8M2400 1284h8M2218 1396h8M2382 1310h8M2366 1198h8M2352 1444h8M2234 1390h8M2161 1184h8M2264 1204h8M2221 1250h8M2255 1216h8M2347 1352h8M2188 1315h8M2248 1433h8M2269 1258h8M2326 1196h8M2210 1465h8M2382 1287h8M2328 1249h8M2122 1261h8M2410 1291h8M2370 1381h8M2210 1314h8M2260 1230h8M2178 1362h8M2253 1451h8M2364 1375h8M2123 1296h8M2349 1356h8M2189 1376h8M2480 1312h8M2379 1193h8M2301 1245h8M2386 1345h8M2394 1224h8M2207 1365h8M2327 1226h8M2369 1341h8M2300 1397h8M2279 1377h8M2357 1382h8M2212 1318h8M2349 1357h8M2222 1154h8M2185 1234h8M2203 1411h8M2256 1430h8M2315 1412h8M2126 1262h8M2370 1172h8M2211 1326h8M2314 1406h8M2222 1186h8M2190 1314h8M2409 1270h8M2211 1355h8M2190 1224h8M2326 1371h8M2345 1290h8M2191 1239h8M2307 1421h8M2152 1313h8M2368 1204h8M2178 1317h8M2325 1380h8M2275 1196h8M2300 1192h8M2199 1278h8M2182 1342h8M2254 1404h8M2182 1331h8M2165 1319h8M2356 1359h8M2368 1389h8M2378 1369h8M2137 1245h8M2230 1349h8M2125 1329h8M2126 1227h8M2371 1443h8M2161 1295h8M2403 1337h8M2213 1310h8M2178 1269h8M2397 1337h8M2122 1237h8M2288 1409h8M2187 1367h8M2264 1233h8M2354 1416h8M2369 1343h8M2202 1218h8M2334 1171h8M2140 1179h8M2198 1389h8M2189 1401h8M2360 1378h8M2214 1369h8M2213 1354h8M2364 1396h8M2213 1327h8M2126 1274h8M2197 1430h8M2457 1375h8M2235 1108h8M2275 1457h8M2132 1284h8M2365 1280h8M2275 1434h8M2285 1439h8M2392 1239h8M2125 1404h8M2323 1219h8M2196 1276h8M2229 1255h8M2319 1156h8M2196 1286h8M2154 1324h8M2219 1274h8M2309 1206h8M2195 1315h8M2430 1351h8M2231 1430h8M2367 1411h8M2192 1300h8M2250 1385h8M2187 1365h8M2175 1340h8M2246 1397h8M2200 1312h8M2415 1317h8M2125 1412h8M2211 1264h8M2330 1296h8M2318 1417h8M2266 1210h8M2375 1445h8M2360 1375h8M2259 1174h8M2250 1433h8M2270 1163h8M2191 1346h8M2368 1414h8M2316 1225h8M2199 1310h8M2125 1370h8M2204 1326h8M2396 1371h8M2349 1275h8M2324 1385h8M2383 1435h8M2158 1281h8M2355 1314h8M2125 1183h8M2246 1226h8M2278 1407h8M2390 1383h8M2260 1227h8M2309 1444h8M2163 1348h8M2311 1359h8M2207 1260h8M2341 1199h8M2372 1408h8M2224 1251h8M2409 1394h8M2372 1236h8M2425 1273h8M2366 1408h8M2332 1357h8M2391 1423h8M2430 1234h8M2176 1257h8M2336 1174h8M2130 1149h8M2225 1314h8M2311 1164h8M2361 1330h8M2266 1192h8M2287 1396h8M2126 1445h8M2283 1192h8M2401 1362h8M2297 1377h8M2334 1420h8M2268 1192h8M2321 1414h8M2324 1412h8M2254 1226h8M2428 1248h8M2373 1274h8M2391 1260h8M2334 1207h8M2151 1299h8M2263 1398h8M2260 1252h8M2304 1469h8M2181 1405h8M2230 1210h8M2371 1350h8M2126 1350h8M2322 1406h8M2399 1320h8M2390 1318h8M2279 1255h8M2293 1417h8M2226 1323h8M2179 1336h8M2375 1258h8M2375 1261h8M2344 1468h8M2181 1275h8M2242 1418h8M2362 1386h8M2333 1330h8M2265 1220h8M2363 1245h8M2361 1467h8M2386 1162h8M2213 1379h8M2343 1435h8M2308 1439h8M2271 1430h8M2200 1239h8M2241 1216h8M2354 1335h8M2444 1374h8M2170 1403h8M2180 1298h8M2243 1241h8M2337 1404h8M2159 1377h8M2375 1337h8M2269 1229h8M2273 1392h8M2259 1467h8M2179 1350h8M2362 1360h8M2408 1226h8M2193 1446h8M2347 1439h8M2350 1302h8M2203 1339h8M2135 1215h8M2189 1292h8M2270 1453h8M2140 1284h8M2155 1178h8M2210 1359h8M2207 1305h8M2212 1247h8M2271 1379h8M2204 1469h8M2204 1378h8M2270 1204h8M2297 1233h8M2326 1255h8M2340 1247h8M2286 1380h8M2128 1308h8M2407 1427h8M2272 1425h8M2371 1349h8M2264 1400h8M2321 1210h8M2369 1341h8M2214 1190h8M2175 1359h8M2188 1399h8M2277 1235h8M2400 1411h8M2178 1365h8M2373 1289h8M2303 1455h8M2342 1239h8M2258 1408h8M2137 1331h8M2139 1221h8M2210 1260h8M2291 1103h8M2238 1235h8M2124 1354h8M2362 1402h8M2122 1184h8M2318 1210h8M2120 1248h8M2417 1246h8M2211 1345h8M2366 1469h8M2187 1320h8M2395 1280h8M2356 1248h8M2265 1379h8M2386 1347h8M2563 1293h8M2409 1349h8M2283 1240h8M2339 1372h8M2140 1383h8M2280 1233h8M2395 1228h8M2219 1232h8M2161 1420h8M2253 1188h8M2323 1382h8M2206 1401h8M2161 1357h8M2213 1432h8M2353 1294h8M2427 1412h8M2203 1338h8M2371 1398h8M2191 1264h8M2126 1271h8M2238 1134h8M2302 1414h8M2267 1382h8M2188 1299h8M2319 1270h8M2392 1345h8M2363 1339h8M2335 1249h8M2198 1267h8M2245 1371h8M2184 1298h8M2290 1222h8M2252 1156h8M2253 1226h8M2377 1307h8M2315 1203h8M2306 1220h8M2311 1403h8M2464 1468h8M2305 1176h8M2229 1228h8M2196 1464h8M2358 1245h8M2391 1398h8M2196 1285h8M2193 1265h8M2246 1452h8M2201 1329h8M2328 1258h8M2204 1359h8M2272 1210h8M2380 1322h8M2382 1405h8M2260 1376h8M2289 1394h8M2386 1396h8M2176 1184h8M2214 1187h8M2445 1179h8M2276 1370h8M2387 1362h8M2306 1451h8M2366 1293h8M2350 1468h8M2381 1293h8M2211 1166h8M2330 1449h8M2196 1310h8M2361 1292h8M2339 1284h8M2254 1205h8M2218 1458h8M2190 1445h8M2304 1196h8M2305 1261h8M2370 1294h8M2186 1331h8M2397 1338h8M2322 1409h8M2323 1187h8M2171 1367h8M2313 1260h8M2271 1258h8M2283 1464h8M2220 1271h8M2451 1256h8M2301 1384h8M2227 1228h8M2181 1266h8M2312 1443h8M2215 1385h8M2291 1373h8M2226 1374h8M2188 1349h8M2121 1277h8M2366 1188h8M2171 1226h8M2214 1199h8M2382 1432h8M2142 1292h8M2337 1174h8M2293 1450h8M2383 1244h8M2366 1189h8M2155 1282h8M2391 1285h8M2361 1304h8M2208 1171h8M2386 1328h8M2297 1230h8M2381 1241h8M2199 1301h8M2218 1293h8M2198 1398h8M2172 1169h8M2363 1132h8M2390 1316h8M2451 1234h8M2185 1332h8M2185 1351h8M2326 1376h8M2368 1294h8M2163 1383h8M2213 1312h8M2276 1196h8M2126 1419h8M2182 1354h8M2336 1247h8M2315 1404h8M2367 1181h8M2347 1406h8M2154 1337h8M2192 1362h8M2216 1278h8M2140 1340h8M2335 1436h8M2289 1207h8M2352 1379h8M2399 1239h8M2330 1393h8M2177 1378h8M2406 1468h8M2224 1198h8M2232 1452h8M2153 1319h8M2343 1279h8M2393 1363h8M2248 1453h8M2167 1355h8M2360 1279h8M2325 1385h8M2166 1297h8M2171 1136h8M2225 1279h8M2194 1253h8M2194 1274h8M2440 1225h8M2253 1418h8M2373 1365h8M2348 1425h8M2328 1368h8M2147 1468h8M2121 1281h8M2206 1384h8M2381 1361h8M2252 1243h8M2351 1289h8M2324 1177h8M2199 1336h8M2367 1266h8M2357 1427h8M2269 1236h8M2183 1313h8M2130 1390h8M2319 1255h8M2172 1299h8M2329 1305h8M2192 1356h8M2207 1230h8M2213 1323h8M2275 1227h8M2254 1213h8M2309 1411h8M2133 1412h8M2216 1357h8M2202 1346h8M2218 1215h8M2266 1415h8M2257 1464h8M2248 1419h8M2206 1379h8M2404 1403h8M2343 1252h8M2226 1303h8M2423 1365h8M2156 1405h8M2354 1307h8M2222 1398h8M2188 1295h8M2368 1277h8M2319 1118h8M2300 1245h8M2228 1273h8M2234 1436h8M2222 1390h8M2235 1404h8M2358 1348h8M2255 1397h8M2139 1243h8M2152 1405h8M2129 1154h8M2319 1420h8M2467 1214h8M2249 1397h8M2182 1255h8M2376 1342h8M2342 1411h8M2209 1247h8M2320 1241h8M2303 1244h8M2375 1303h8M2334 1405h8M2286 1259h8M2387 1311h8M2358 1386h8M2182 1415h8M2367 1366h8M2218 1432h8M2384 1383h8M2220 1230h8M2254 1467h8M2122 1253h8M2415 1330h8M2338 1272h8M2236 1466h8M2433 1440h8M2211 1250h8M2199 1247h8M2334 1195h8M2219 1218h8M2339 1238h8M2194 1464h8M2226 1374h8M2258 1243h8M2233 1261h8M2222 1222h8M2390 1413h8M2320 1384h8M2231 1245h8M2157 1406h8M2219 1337h8M2249 1257h8M2321 1176h8M2182 1336h8M2198 1272h8M2121 1455h8M2375 1385h8M2284 1252h8M2442 1387h8M2268 1216h8M2343 1284h8M2418 1272h8M2356 1309h8M2183 1289h8M2156 1381h8M2419 1359h8M2323 1368h8M2239 1382h8M2219 1361h8M2434 1343h8M2213 1228h8M2319 1422h8M2190 1363h8M2320 1264h8M2325 1257h8M2260 1467h8M2381 1260h8M2394 1411h8M2445 1281h8M2371 1129h8M2121 1321h8M2248 1132h8M2369 1359h8M2267 1381h8M2364 1446h8M2392 1468h8M2343 1336h8M2375 1399h8M2245 1165h8M2330 1404h8M2224 1359h8M2277 1384h8M2416 1302h8M2213 1387h8M2315 1247h8M2359 1200h8M2193 1350h8M2333 1395h8M2467 1229h8M2343 1349h8M2198 1253h8M2391 1310h8M2191 1290h8M2232 1419h8M2187 1248h8M2199 1299h8M2149 1251h8M2222 1360h8M2467 1193h8M2301 1226h8M2123 1277h8M2379 1215h8M2126 1276h8M2302 1220h8M2210 1355h8M2156 1423h8M2232 1405h8M2360 1293h8M2159 1453h8M2307 1389h8M2368 1369h8M2453 1380h8M2324 1209h8M2400 1297h8M2181 1252h8M2273 1196h8M2206 1330h8M2326 1420h8M2163 1316h8M2163 1318h8M2216 1350h8M2191 1357h8M2201 1460h8M2121 1391h8M2207 1243h8M2292 1217h8M2302 1211h8M2198 1460h8M2331 1357h8M2381 1297h8M2194 1319h8M2234 1168h8M2346 1382h8M2321 1373h8M2397 1313h8M2302 1468h8M2344 1359h8M2235 1417h8M2222 1457h8M2425 1279h8M2190 1433h8M2160 1337h8M2395 1309h8M2323 1391h8M2207 1225h8M2311 1391h8M2333 1318h8M2162 1379h8M2279 1425h8M2431 1280h8M2178 1386h8M2245 1251h8M2164 1175h8M2143 1212h8M2271 1396h8M2161 1304h8M2235 1284h8M2382 1291h8M2174 1284h8M2403 1275h8M2174 1315h8M2345 1326h8M2312 1194h8M2166 1386h8M2384 1423h8M2174 1257h8M2282 1466h8M2370 1193h8M2244 1412h8M2289 1213h8M2331 1263h8M2289 1214h8M2198 1337h8M2334 1380h8M2381 1198h8M2341 1375h8M2235 1230h8M2396 1327h8M2372 1262h8M2188 1362h8M2188 1305h8M2290 1257h8M2309 1392h8M2399 1409h8M2248 1244h8M2237 1223h8M2252 1230h8M2330 1262h8M2282 1402h8M2163 1368h8M2287 1213h8M2390 1467h8M2456 1276h8M2277 1469h8M2297 1452h8M2175 1403h8M2193 1201h8M2420 1293h8M2501 1132h8M2416 1247h8M2190 1464h8M2232 1429h8M2265 1377h8M2407 1334h8M2385 1323h8M2185 1263h8M2237 1197h8M2207 1384h8M2356 1468h8M2164 1317h8M2123 1445h8M2443 1292h8M2343 1237h8M2154 1361h8M2210 1322h8M2155 1358h8M2360 1309h8M2415 1300h8M2296 1390h8M2373 1247h8M2183 1243h8M2262 1445h8M2196 1286h8M2245 1249h8M2353 1339h8M2258 1389h8M2383 1402h8M2337 1253h8M2347 1233h8M2337 1229h8M2191 1300h8M2125 1242h8M2318 1263h8M2256 1437h8M2209 1388h8M2327 1222h8M2268 1196h8M2189 1308h8M2419 1295h8M2359 1237h8M2122 1330h8M2181 1274h8M2299 1467h8M2430 1336h8M2365 1184h8M2303 1245h8M2373 1221h8M2178 1228h8M2316 1427h8M2310 1428h8M2216 1232h8M2203 1269h8M2264 1381h8M2206 1340h8M2220 1269h8M2133 1287h8M2187 1390h8M2214 1247h8M2237 1259h8M2288 1233h8M2232 1422h8M2206 1354h8M2175 1362h8M2315 1361h8M2156 1382h8M2212 1404h8M2308 1387h8M2299 1405h8M2171 1223h8M2143 1312h8M2238 1248h8M2262 1434h8M2250 1162h8M2231 1221h8M2168 1347h8M2268 1238h8M2123 1307h8M2149 1379h8M2359 1346h8M2126 1287h8M2439 1361h8M2328 1366h8M2380 1250h8M2357 1230h8M2213 1283h8M2175 1391h8M2188 1211h8M2193 1348h8M2169 1258h8M2367 1189h8M2350 1237h8M2323 1351h8M2275 1246h8M2331 1273h8M2442 1273h8M2245 1183h8M2384 1310h8M2212 1323h8M2268 1439h8M2345 1363h8M2166 1459h8M2322 1244h8M2357 1363h8M2400 1205h8M2169 1302h8M2333 1361h8M2291 1417h8M2293 1433h8M2417 1346h8M2407 1344h8M2143 1210h8M2340 1269h8M2271 1246h8M2368 1311h8M2200 1360h8M2441 1315h8M2139 1313h8M2222 1432h8M2372 1278h8M2336 1372h8M2277 1187h8M2275 1418h8M2291 1407h8M2186 1467h8M2261 1382h8M2438 1250h8M2387 1354h8M2158 1284h8M2291 1418h8M2136 1310h8M2296 1465h8M2471 1341h8M2303 1209h8M2398 1221h8M2417 1313h8M2374 1225h8M2352 1331h8M2330 1394h8M2192 1412h8M2162 1209h8M2160 1288h8M2260 1435h8M2256 1251h8M2313 1386h8M2191 1380h8M2357 1468h8M2367 1393h8M2394 1313h8M2430 1396h8M2192 1286h8M2259 1242h8M2221 1405h8M2133 1220h8M2199 1323h8M2160 1303h8M2142 1284h8M2404 1208h8M2224 1341h8M2271 1205h8M2256 1468h8M2224 1165h8M2315 1217h8M2268 1194h8M2378 1376h8M2377 1364h8M2372 1224h8M2306 1386h8M2288 1431h8M2197 1361h8M2224 1228h8M2230 1203h8M2394 1289h8M2205 1372h8M2128 1341h8M2324 1450h8M2213 1353h8M2164 1354h8M2192 1333h8M2195 1311h8M2154 1299h8M2172 1276h8M2284 1463h8M2223 1369h8M2363 1338h8M2241 1422h8M2210 1114h8M2170 1256h8M2384 1250h8M2350 1217h8M2338 1375h8M2276 1394h8M2239 1225h8M2242 1383h8M2306 1255h8M2228 1372h8M2190 1305h8M2125 1337h8M2338 1377h8M2456 1363h8M2247 1393h8M2273 1216h8M2171 1325h8M2209 1236h8M2247 1391h8M2396 1161h8M2240 1432h8M2296 1362h8M2274 1190h8M2273 1449h8M2150 1261h8M2300 1229h8M2160 1304h8M2170 1213h8M2187 1220h8M2355 1465h8M2364 1283h8M2130 1287h8M2212 1223h8M2343 1351h8M2301 1242h8M2123 1385h8M2381 1307h8M2246 1467h8M2337 1385h8M2305 1247h8M2357 1295h8M2219 1450h8M2439 1306h8M2321 1447h8M2264 1242h8M2339 1416h8M2200 1334h8M2310 1443h8M2163 1273h8M2381 1324h8M2362 1369h8M2212 1379h8M2367 1362h8M2209 1329h8M2374 1237h8M2216 1228h8M2370 1263h8M2221 1124h8M2176 1342h8M2155 1205h8M2256 1457h8M2302 1404h8M2159 1254h8M2156 1228h8M2323 1438h8M2276 1392h8M2230 1165h8M2193 1311h8M2201 1391h8M2303 1421h8M2238 1269h8M2320 1390h8M2310 1235h8M2274 1181h8M2397 1253h8M2228 1387h8M2180 1396h8M2347 1361h8M2187 1146h8M2286 1451h8M2347 1267h8M2351 1367h8M2216 1217h8M2309 1401h8M2277 1239h8M2143 1324h8M2139 1387h8M2390 1255h8M2319 1268h8M2277 1398h8M2237 1249h8M2184 1308h8M2224 1466h8M2321 1369h8M2229 1233h8M2162 1469h8M2334 1392h8M2349 1237h8M2354 1321h8M2388 1200h8M2172 1351h8M2190 1315h8M2295 1164h8M2327 1228h8M2234 1383h8M2326 1421h8M2355 1276h8M2358 1263h8M2350 1247h8M2187 1399h8M2382 1332h8M2171 1352h8M2381 1301h8M2324 1375h8M2321 1380h8M2217 1237h8M2242 1388h8M2374 1435h8M2198 1355h8M2336 1409h8M2236 1408h8M2298 1189h8M2228 1254h8M2349 1430h8M2203 1426h8M2268 1466h8M2206 1212h8M2233 1240h8M2287 1393h8M2346 1198h8M2236 1465h8M2164 1290h8M2206 1297h8M2288 1376h8M2384 1282h8M2437 1210h8M2293 1191h8M2304 1219h8M2402 1303h8M2150 1259h8M2237 1431h8M2277 1408h8M2191 1361h8M2308 1469h8M2207 1322h8M2220 1443h8M2124 1264h8M2314 1171h8M2231 1361h8M2339 1403h8M2120 1249h8M2354 1248h8M2126 1282h8M2299 1254h8M2349 1246h8M2366 1417h8M2208 1197h8M2368 1295h8M2349 1445h8M2332 1297h8M2194 1339h8M2358 1271h8M2302 1391h8M2317 1442h8M2231 1268h8M2264 1453h8M2208 1371h8M2268 1150h8M2308 1368h8M2374 1285h8M2283 1433h8M2337 1332h8M2312 1215h8M2235 1414h8M2300 1223h8M2413 1432h8M2407 1384h8M2310 1185h8M2353 1179h8M2123 1200h8M2260 1458h8M2405 1300h8M2365 1301h8M2189 1410h8M2309 1401h8M2412 1314h8M2246 1188h8M2246 1267h8M2181 1242h8M2351 1363h8M2154 1443h8M2237 1253h8M2396 1437h8M2152 1341h8M2176 1284h8M2196 1343h8M2363 1310h8M2155 1240h8M2329 1222h8M2373 1341h8M2379 1269h8M2215 1426h8M2338 1398h8M2320 1391h8M2180 1212h8M2270 1146h8M2289 1400h8M2257 1139h8M2157 1368h8M2401 1268h8M2220 1336h8M2309 1418h8M2342 1231h8M2439 1453h8M2360 1267h8M2301 1250h8M2377 1336h8M2169 1338h8M2251 1459h8M2210 1345h8M2312 1372h8M2450 1351h8M2406 1310h8M2316 1400h8M2276 1434h8M2457 1259h8M2236 1418h8M2266 1406h8M2338 1230h8M2303 1241h8M2337 1190h8M2401 1357h8M2217 1296h8M2317 1390h8M2407 1439h8M2194 1323h8M2353 1312h8M2146 1361h8M2175 1249h8M2410 1323h8M2367 1300h8M2360 1366h8M2377 1278h8M2295 1375h8M2202 1360h8M2157 1314h8M2380 1280h8M2344 1212h8M2422 1353h8M2318 1251h8M2354 1402h8M2277 1176h8M2394 1275h8M2314 1241h8M2174 1169h8M2444 1331h8M2391 1416h8M2226 1213h8M2400 1298h8M2121 1320h8M2184 1425h8M2252 1403h8M2167 1183h8M2288 1239h8M2263 1425h8M2347 1317h8M2205 1370h8M2155 1285h8M2358 1352h8M2435 1294h8M2218 1307h8M2318 1417h8M2380 1218h8M2338 1289h8M2126 1350h8M2390 1423h8M2314 1242h8M2238 1239h8M2145 1205h8M2330 1189h8M2282 1216h8M2125 1285h8M2374 1279h8M2219 1448h8M2353 1194h8M2425 1267h8M2357 1254h8M2402 1236h8M2345 1221h8M2352 1348h8M2426 1325h8M2280 1402h8M2339 1175h8M2191 1354h8M2248 1466h8M2181 1371h8M2370 1434h8M2397 1379h8M2297 1213h8M2314 1212h8M2402 1401h8M2211 1186h8M2241 1249h8M2361 1433h8M2248 1442h8M2380 1348h8M2346 1371h8M2312 1220h8M2265 1241h8M2301 1377h8M2431 1288h8M2323 1378h8M2342 1232h8M2322 1247h8M2332 1453h8M2259 1420h8M2170 1404h8M2389 1270h8M2168 1370h8M2224 1127h8M2287 1202h8M2266 1409h8M2481 1305h8M2384 1260h8M2331 1377h8M2447 1288h8M2229 1342h8M2183 1376h8M2264 1468h8M2317 1368h8M2307 1141h8M2187 1358h8M2231 1360h8M2340 1330h8M2408 1354h8M2329 1283h8M2158 1340h8M2156 1195h8M2294 1153h8M2251 1417h8M2194 1272h8M2402 1284h8M2203 1367h8M2274 1138h8M2359 1319h8M2182 1340h8M2336 1429h8M2296 1413h8M2407 1399h8M2333 1342h8M2264 1149h8M2182 1378h8M2380 1362h8M2362 1425h8M2343 1204h8M2262 1405h8M2191 1441h8M2172 1270h8M2406 1328h8M2264 1201h8M2249 1195h8M2284 1444h8M2317 1162h8M2410 1426h8M2332 1427h8M2366 1337h8M2268 1172h8M2241 1194h8M2242 1245h8M2353 1371h8M2257 1251h8M2297 1377h8M2346 1285h8M2397 1464h8M2269 1174h8M2360 1373h8M2178 1279h8M2360 1310h8M2198 1444h8M2283 1468h8M2248 1411h8M2292 1406h8M2408 1180h8M2199 1240h8M2304 1386h8M2412 1306h8M2251 1415h8M2395 1328h8M2312 1469h8M2179 1384h8M2355 1394h8M2179 1322h8M2220 1370h8M2160 1242h8M2235 1393h8M2302 1428h8M2170 1347h8M2215 1358h8M2195 1261h8M2371 1320h8M2168 1274h8M2191 1212h8M2233 1202h8M2184 1289h8M2192 1255h8M2367 1274h8M2393 1283h8M2245 1247h8M2300 1248h8M2359 1307h8M2385 1275h8M2254 1239h8M2262 1240h8M2403 1266h8M2190 1327h8M2380 1211h8M2351 1344h8M2338 1255h8M2124 1286h8M2352 1333h8M2177 1346h8M2354 1291h8M2124 1257h8M2272 1172h8M2313 1217h8M2178 1409h8M2267 1442h8M2138 1287h8M2452 1302h8M2260 1183h8M2230 1262h8M2120 1323h8M2415 1217h8M2121 1250h8M2240 1271h8M2283 1412h8M2384 1469h8M2220 1218h8M2348 1411h8M2308 1172h8M2171 1334h8M2394 1195h8M2331 1356h8M2311 1271h8M2339 1279h8M2167 1353h8M2151 1349h8M2279 1240h8M2377 1320h8M2132 1296h8M2377 1364h8M2264 1433h8M2248 1364h8M2242 1208h8M2318 1242h8M2315 1247h8M2366 1323h8M2344 1252h8M2341 1344h8M2403 1234h8M2267 1225h8M2338 1224h8M2197 1352h8M2326 1418h8M2158 1257h8M2349 1324h8M2422 1386h8M2352 1397h8M2264 1245h8M2349 1343h8M2281 1232h8M2366 1300h8M2387 1214h8M2180 1143h8M2219 1230h8M2226 1392h8M2157 1336h8M2360 1282h8M2188 1234h8M2334 1216h8M2125 1358h8M2433 1242h8M2260 1372h8M2239 1230h8M2348 1229h8M2392 1282h8M2400 1266h8M2175 1299h8M2293 1383h8M2230 1342h8M2122 1409h8M2126 1353h8M2444 1423h8M2444 1441h8M2171 1287h8M2258 1218h8M2272 1389h8M2186 1376h8M2238 1387h8M2405 1371h8M2136 1345h8M2288 1249h8M2381 1341h8M2260 1230h8M2190 1393h8M2178 1276h8M2362 1168h8M2203 1282h8M2347 1265h8M2268 1395h8M2283 1426h8M2125 1273h8M2349 1193h8M2337 1360h8M2240 1428h8M2248 1383h8M2381 1468h8M2331 1243h8M2140 1244h8M2391 1335h8M2323 1366h8M2148 1373h8M2300 1220h8M2174 1248h8M2422 1267h8M2162 1196h8M2201 1373h8M2174 1387h8M2288 1363h8M2155 1390h8M2447 1193h8M2336 1248h8M2254 1164h8M2236 1468h8M2390 1282h8M2231 1152h8M2385 1327h8M2384 1321h8M2341 1316h8M2190 1303h8M2324 1201h8M2276 1444h8M2219 1370h8M2355 1399h8M2141 1343h8M2225 872h8M2229 960h8M2374 881h8M2208 873h8M2333 926h8M2335 958h8M2280 974h8M2322 1054h8M2322 951h8M2355 933h8M2188 980h8M2144 923h8M2200 900h8M2254 1081h8M2328 884h8M2160 1034h8M2182 870h8M2243 940h8M2243 985h8M2359 1032h8M2390 1088h8M2438 938h8M2379 955h8M2295 1040h8M2281 892h8M2365 1022h8M2238 901h8M2211 1066h8M2376 918h8M2248 894h8M2420 972h8M2359 1073h8M2313 955h8M2243 1003h8M2288 908h8M2266 1003h8M2263 920h8M2248 961h8M2262 925h8M2341 948h8M2157 877h8M2386 1062h8M2362 1050h8M2177 895h8M2376 873h8M2371 1013h8M2427 1017h8M2316 884h8M2382 978h8M2213 998h8M2338 947h8M2290 1029h8M2210 959h8M2283 987h8M2140 877h8M2397 937h8M2353 937h8M2266 887h8M2246 1091h8M2275 903h8M2307 918h8M2326 974h8M2298 980h8M2156 908h8M2312 1035h8M2228 963h8M2372 952h8M2244 901h8M2188 1006h8M2425 891h8M2344 1068h8M2315 1051h8M2287 1040h8M2301 986h8M2344 987h8M2207 888h8M2252 1019h8M2208 1046h8M2204 1023h8M2245 1083h8M2420 882h8M2191 1077h8M2361 990h8M2198 1036h8M2228 950h8M2204 1074h8M2481 912h8M2242 1026h8M2175 932h8M2498 973h8M2218 909h8M2238 1017h8M2263 911h8M2141 959h8M2361 955h8M2268 874h8M2326 1059h8M2476 951h8M2387 1001h8M2293 1056h8M2336 1006h8M2231 965h8M2295 1072h8M2184 1083h8M2309 1008h8M2265 1015h8M2286 1046h8M2294 954h8M2179 991h8M2228 1028h8M2336 967h8M2442 1086h8M2188 998h8M2195 999h8M2298 912h8M2205 976h8M2249 1055h8M2217 1057h8"/>
<path transform="scale(.1)" fill="none" stroke="#fff" stroke-opacity=".55" stroke-width="7" d="M2303 1394h7M2279 1437h7M2282 1369h7M2239 1187h7M2207 1157h7M2188 1230h7M2303 1246h7M2308 1149h7M2474 1301h7M2360 1407h7M2129 1327h7M2313 1359h7M2271 1367h7M2373 1250h7M2345 1373h7M2212 1310h7M2363 1222h7M2321 1232h7M2276 1180h7M2289 1401h7M2370 1409h7M2423 1169h7M2189 1259h7M2371 1293h7M2477 1182h7M2410 1278h7M2295 1191h7M2163 1287h7M2197 1101h7M2419 1287h7M2341 1264h7M2240 1361h7M2294 1441h7M2387 1184h7M2185 1264h7M2250 1354h7M2407 1270h7M2371 1357h7M2404 1382h7M2354 1290h7M2315 1233h7M2369 1261h7M2235 1167h7M2182 1322h7M2492 1292h7M2467 1255h7M2355 1226h7M2166 1270h7M2345 1366h7M2378 1435h7M2307 1195h7M2328 1437h7M2177 1329h7M2366 1147h7M2305 1423h7M2178 1387h7M2402 1317h7M2210 1279h7M2325 1129h7M2287 1409h7M2181 1248h7M2240 1142h7M2305 1262h7M2323 1394h7M2437 1216h7M2333 1361h7M2309 1109h7M2267 1409h7M2224 1194h7M2382 1222h7M2178 1235h7M2441 1270h7M2248 1393h7M2196 1413h7M2435 1381h7M2363 1295h7M2158 1358h7M2385 1275h7M2230 1271h7M2463 1239h7M2147 1224h7M2289 1192h7M2324 1255h7M2262 1182h7M2336 1396h7M2395 1305h7M2327 1394h7M2268 1269h7M2213 1199h7M2154 1304h7M2313 1415h7M2406 1428h7M2223 1206h7M2174 1303h7M2412 1352h7M2407 1267h7M2185 1285h7M2236 1430h7M2187 1429h7M2192 1303h7M2213 1433h7M2314 1368h7M2343 1269h7M2443 1369h7M2144 1229h7M2306 1372h7M2236 1388h7M2344 1446h7M2202 1303h7M2390 1381h7M2334 1216h7M2331 1160h7M2319 1236h7M2155 1419h7M2330 1408h7M2337 1292h7M2188 1319h7M2433 1340h7M2208 1293h7M2147 1301h7M2338 1202h7M2147 1363h7M2293 1155h7M2302 1221h7M2309 1228h7M2389 1339h7M2296 1410h7M2207 1318h7M2250 1386h7M2277 1212h7M2301 1420h7M2177 1377h7M2179 1354h7M2345 1355h7M2199 1338h7M2385 1258h7M2354 1262h7M2405 1305h7M2412 1371h7M2198 1416h7M2251 1364h7M2457 1146h7M2376 1268h7M2330 1257h7M2158 1440h7M2315 1360h7M2430 1327h7M2303 1256h7M2174 1338h7M2154 1266h7M2501 1331h7M2341 1388h7M2294 1251h7M2333 1289h7M2125 1237h7M2349 1448h7M2327 1359h7M2273 1179h7M2249 1403h7M2329 1384h7M2134 1251h7M2341 1392h7M2327 1468h7M2178 1354h7M2374 1253h7M2241 1412h7M2423 1233h7M2424 1235h7M2254 1417h7M2409 1106h7M2361 1460h7M2213 1246h7M2449 1304h7M2239 1189h7M2203 1243h7"/>
<path transform="scale(.1)" fill="none" stroke="#222" stroke-opacity=".55" stroke-width="9" d="M2908 1299h9"/>
<path d="M200.2 25.0H345.0" stroke="#777" stroke-width="1.2" fill="none"/>
<path d="M344.4 24.5V157.0" stroke="#4a4a4a" stroke-width="1.3" fill="none"/>
<path d="M211.2 25.0V148.1M200.2 147.5H345.0" stroke="#1a1a1a" stroke-width="1.4" fill="none"/>
<path d="M256.6 25.0V147.5M211.2 106.0H344.4" stroke="#222" stroke-width="1.3" fill="none"/>
<path d="M211.2 147.5v9.5M244.5 147.5v9.5M277.8 147.5v9.5M311.1 147.5v9.5" stroke="#555" stroke-width=".8" fill="none"/>
<path d="M211.2 117.1h-11M211.2 86.7h-11M211.2 56.3h-11" stroke="#6a6a6a" stroke-width=".7" fill="none"/>
<path d="M221.2 147.5v2.6M227.1 147.5v2.6M231.2 147.5v2.6M234.5 147.5v2.6M237.1 147.5v2.6M239.3 147.5v2.6M241.3 147.5v2.6M243.0 147.5v2.6M211.2 138.3h-2.8M211.2 133.0h-2.8M211.2 129.2h-2.8M211.2 126.3h-2.8M211.2 123.8h-2.8M211.2 121.8h-2.8M211.2 120.0h-2.8M211.2 118.5h-2.8M254.5 147.5v2.6M260.4 147.5v2.6M264.5 147.5v2.6M267.8 147.5v2.6M270.4 147.5v2.6M272.6 147.5v2.6M274.6 147.5v2.6M276.3 147.5v2.6M211.2 107.9h-2.8M211.2 102.6h-2.8M211.2 98.8h-2.8M211.2 95.9h-2.8M211.2 93.4h-2.8M211.2 91.4h-2.8M211.2 89.6h-2.8M211.2 88.1h-2.8M287.8 147.5v2.6M293.7 147.5v2.6M297.8 147.5v2.6M301.1 147.5v2.6M303.7 147.5v2.6M305.9 147.5v2.6M307.9 147.5v2.6M309.6 147.5v2.6M211.2 77.5h-2.8M211.2 72.2h-2.8M211.2 68.4h-2.8M211.2 65.5h-2.8M211.2 63.0h-2.8M211.2 61.0h-2.8M211.2 59.2h-2.8M211.2 57.7h-2.8M321.1 147.5v2.6M327.0 147.5v2.6M331.1 147.5v2.6M334.4 147.5v2.6M337.0 147.5v2.6M339.2 147.5v2.6M341.2 147.5v2.6M342.9 147.5v2.6M211.2 47.1h-2.8M211.2 41.8h-2.8M211.2 38.0h-2.8M211.2 35.1h-2.8M211.2 32.6h-2.8M211.2 30.6h-2.8M211.2 28.8h-2.8M211.2 27.3h-2.8" stroke="#3a3a3a" stroke-width=".75" fill="none"/>
<text class="ax" transform="translate(212.1 156.8) scale(.8 1)">10<tspan class="sp" dy="-1.7">0</tspan></text>
<text class="ax" transform="translate(198.8 145.8) scale(.8 1)">10<tspan class="sp" dy="-1.7">0</tspan></text>
<text class="ax" transform="translate(245.4 156.8) scale(.8 1)">10<tspan class="sp" dy="-1.7">1</tspan></text>
<text class="ax" transform="translate(198.8 115.4) scale(.8 1)">10<tspan class="sp" dy="-1.7">1</tspan></text>
<text class="ax" transform="translate(278.7 156.8) scale(.8 1)">10<tspan class="sp" dy="-1.7">2</tspan></text>
<text class="ax" transform="translate(198.8 85.0) scale(.8 1)">10<tspan class="sp" dy="-1.7">2</tspan></text>
<text class="ax" transform="translate(312.0 156.8) scale(.8 1)">10<tspan class="sp" dy="-1.7">3</tspan></text>
<text class="ax" transform="translate(198.8 54.6) scale(.8 1)">10<tspan class="sp" dy="-1.7">3</tspan></text>
<text class="q" x="210.6" y="32.4">B1</text><text class="q" x="213.1" y="40.1">56.6%</text>
<text class="q" x="257.0" y="32.4">B2</text><text class="q" x="261.0" y="40.1">0.0%</text>
<text class="q" x="210.6" y="113.2">B3</text><text class="q" x="213.1" y="121.2">43.3%</text>
<text class="q" x="257.0" y="113.2">B4</text><text class="q" x="261.0" y="121.2">0.0%</text>
<text class="pl" x="331.4" y="45.1">B</text>
</g>
<g>
<clipPath id="cpC"><rect x="376.8" y="25.0" width="134.7" height="122.1"/></clipPath>
<g clip-path="url(#cpC)">
<ellipse cx="391.8" cy="131.0" rx="17.4" ry="17.2" fill="url(#lg)"/>
<ellipse cx="390.9" cy="77.2" rx="15.1" ry="6.5" fill="url(#ug)"/>
</g>
<path transform="scale(.1)" fill="none" stroke="#000" stroke-opacity=".8" stroke-width="8" d="M3852 725h8M3772 801h8M3809 817h8M4040 779h8M3775 807h8M3978 854h8M3772 761h8M3944 840h8M4033 758h8M3806 806h8M4070 789h8M3804 705h8M3809 819h8M3810 727h8M3972 834h8M4029 812h8M3990 821h8M3798 851h8M3943 727h8M4041 805h8M3799 797h8M4038 818h8M3877 721h8M4016 813h8M3818 818h8M3801 743h8M3880 722h8M3942 825h8M4045 737h8M3862 707h8M3791 805h8M3779 788h8M3790 769h8M3779 833h8M4006 813h8M3949 718h8M3913 706h8M4039 745h8M4011 824h8M3771 816h8M3811 824h8M3800 817h8M3789 759h8M3773 772h8M3847 832h8M3814 732h8M4021 744h8M3918 722h8M4033 792h8M4039 823h8M3770 753h8M3770 774h8M4010 822h8M3772 730h8M3999 829h8M3775 793h8M3869 837h8M4022 799h8M3780 803h8M3791 755h8M3773 785h8M3772 815h8M3836 821h8M3993 726h8M4024 820h8M3832 701h8M3990 735h8M3883 833h8M4012 803h8M3976 725h8M3851 710h8M3916 837h8M4000 824h8M3964 829h8M3787 762h8M4069 750h8M3990 814h8M3992 814h8M3819 816h8M3779 815h8M4054 820h8M3775 740h8M3805 742h8M3871 842h8M3984 820h8M3971 829h8M3774 787h8M4067 743h8M3879 835h8M4051 775h8M3823 848h8M4005 832h8M3774 785h8M3822 741h8M4050 754h8M4026 797h8M3788 783h8M3789 758h8M3953 688h8M3873 715h8M3874 831h8M3789 746h8M3953 728h8M3942 836h8M4025 754h8M3993 828h8M3776 791h8M4016 733h8M3972 836h8M3812 823h8M3919 833h8M3907 830h8M3979 726h8M3905 711h8M3984 734h8M3977 826h8M3853 711h8M4050 793h8M3804 735h8M4085 782h8M3816 741h8M4015 801h8M3886 843h8M3982 717h8M4056 758h8M4063 722h8M3781 773h8M3795 732h8M3801 753h8M3948 705h8M3934 711h8M4036 765h8M3790 786h8M3780 764h8M3775 795h8M3785 810h8M3799 717h8M4030 759h8M3771 761h8M4011 739h8M3927 724h8M3870 844h8M4037 810h8M4020 738h8M4045 816h8M3934 833h8M3775 822h8M3780 749h8M3791 732h8M4007 745h8M4022 797h8M3938 842h8M3794 752h8M3915 697h8M4048 798h8M3863 728h8M3773 758h8M3888 855h8M3907 836h8M3876 720h8M3772 740h8M4054 767h8M4024 743h8M3773 768h8M3776 789h8M4052 784h8M4023 847h8M3774 761h8M4012 749h8M3771 763h8M3789 787h8M3984 823h8M3776 739h8M4017 745h8M4041 802h8M3821 824h8M3775 778h8M3822 827h8M3919 721h8M4073 751h8M4062 762h8M3977 724h8M3972 733h8M3772 821h8M3894 703h8M4022 802h8M4037 733h8M4108 776h8M4138 766h8M4059 800h8M3818 737h8M3803 839h8M3770 779h8M3772 799h8M3995 735h8M4011 739h8M4032 785h8M3798 820h8M4031 783h8M4063 785h8M3879 826h8M4043 813h8M3773 765h8M3795 756h8M4082 809h8M3953 846h8M4029 790h8M3772 739h8M3993 820h8M3789 797h8M4010 803h8M3998 716h8M3774 767h8M3776 804h8M3774 726h8M3838 731h8M3788 808h8M4047 776h8M3970 840h8M3793 732h8M3941 833h8M3774 781h8M4053 790h8M3942 699h8M4027 811h8M3773 770h8M3834 726h8M3909 722h8M3772 789h8M3800 819h8M3841 730h8M4022 812h8M4030 785h8M3807 844h8M3861 711h8M3806 814h8M3847 821h8M3771 795h8M3783 791h8M4040 827h8M3906 852h8M3842 835h8M3920 717h8M4023 793h8M4039 765h8M3992 826h8M3994 818h8M3967 718h8M3795 753h8M3771 766h8M3805 720h8M3807 817h8M3771 825h8M3774 751h8M3881 860h8M3856 831h8M3960 710h8M3918 709h8M3953 710h8M3783 740h8M3881 723h8M3773 805h8M4039 767h8M4026 821h8M4017 815h8M3929 850h8M3935 838h8M3984 727h8M3977 827h8M4056 761h8M3875 721h8M4047 836h8M3770 792h8M3775 811h8M3909 831h8M3808 707h8M3884 835h8M4055 797h8M4037 811h8M3775 740h8M3939 723h8M4028 762h8M4020 823h8M3771 728h8M4035 753h8M3805 742h8M3834 838h8M3802 734h8M3842 725h8M4046 775h8M3996 724h8M3808 712h8M3945 723h8M4034 779h8M3835 844h8M4053 765h8M3942 829h8M3776 759h8M3776 786h8M4036 798h8M3961 829h8M3912 844h8M3821 715h8M3849 825h8M4024 757h8M4060 834h8M3772 741h8M3815 737h8M3777 811h8M3816 720h8M3785 776h8M3934 715h8M3772 781h8M3773 819h8M3838 828h8M3785 746h8M3771 779h8M3773 721h8M3786 737h8M3772 800h8M3951 838h8M3771 820h8M3872 725h8M3860 839h8M4042 737h8M3786 780h8M3777 714h8M3911 843h8M3781 738h8M4056 779h8M3928 828h8M3983 818h8M3896 723h8M3990 837h8M3992 735h8M4115 804h8M4017 824h8M3773 777h8M3777 784h8M3776 761h8M3898 721h8M4011 728h8M3851 822h8M4056 733h8M3797 746h8M4005 828h8M3777 784h8M3776 751h8M3838 845h8M3855 845h8M3771 763h8M3818 733h8M3775 752h8M3786 769h8M3841 718h8M4056 806h8M3874 831h8M3784 774h8M3914 833h8M3836 853h8M3932 854h8M4003 745h8M4025 824h8M4024 802h8M3980 834h8M3900 709h8M4069 765h8M3966 824h8M3773 794h8M4072 761h8M3804 742h8M3775 765h8M3998 838h8M3800 826h8M3844 732h8M3775 809h8M3771 764h8M4015 807h8M3968 821h8M3773 775h8M3814 699h8M3829 735h8M3772 717h8M4045 782h8M4027 799h8M3955 831h8M3787 769h8M4016 815h8M3993 727h8M3994 739h8M3797 829h8M3943 841h8M4028 761h8M3834 827h8M3842 716h8M3788 774h8M3770 773h8M3940 828h8M4042 783h8M3999 729h8M3869 727h8M4022 804h8M3774 780h8M3775 785h8M4029 802h8M3781 765h8M3797 833h8M4029 821h8M4036 797h8M4048 797h8M4083 752h8M4027 784h8M3772 779h8M3852 725h8M3941 825h8M3775 742h8M3836 823h8M3944 843h8M4005 808h8M3977 841h8M3980 726h8M4062 770h8M4044 792h8M3998 817h8M3772 806h8M3815 815h8M3793 812h8M3770 792h8M3904 839h8M3977 841h8M4031 799h8M3858 832h8M4055 730h8M3967 840h8M3919 846h8M4065 739h8M3789 785h8M4003 809h8M3833 825h8M4012 822h8M3776 755h8M4033 792h8M3900 715h8M3965 708h8M3849 725h8M3895 836h8M4065 758h8M3794 748h8M3787 791h8M3989 735h8M3773 791h8M4036 784h8M4024 719h8M3773 787h8M3771 751h8M4086 775h8M3986 716h8M3770 790h8M3781 795h8M3775 816h8M3780 819h8M3988 831h8M3995 823h8M3967 730h8M4062 753h8M3770 795h8M3898 724h8M3775 784h8M3803 702h8M3854 828h8M3913 829h8M3771 807h8M3771 742h8M4027 803h8M4053 783h8M4027 818h8M3868 824h8M3772 737h8M4024 735h8M3847 719h8M4069 795h8M4029 711h8M4076 781h8M4038 792h8M3917 722h8M3782 803h8M3774 789h8M3979 727h8M4017 821h8M3843 835h8M3920 832h8M3968 727h8M3776 750h8M3822 741h8M4022 746h8M3817 809h8M3991 841h8M3873 836h8M3777 760h8M3932 830h8M3828 738h8M3806 807h8M3905 723h8M3772 776h8M4033 768h8M3775 747h8M3824 814h8M3972 690h8M4032 817h8M3877 722h8M4067 768h8M3934 838h8M3861 835h8M3928 831h8M3941 727h8M3941 717h8M4023 792h8M3993 726h8M3938 838h8M3838 727h8M3791 749h8M4017 804h8M3986 730h8M3918 705h8M3799 735h8M4003 709h8M3802 716h8M4049 752h8M4051 758h8M3958 827h8M3992 723h8M3952 834h8M3916 848h8M4026 754h8M3792 699h8M3808 706h8M3920 831h8M3772 778h8M3776 790h8M3887 713h8M4013 749h8M3921 705h8M3785 767h8M4041 761h8M3943 836h8M4032 750h8M3778 694h8M3775 772h8M3854 836h8M3782 807h8M3862 826h8M3931 854h8M3866 836h8M4008 736h8M3856 710h8M3772 784h8M3974 822h8M3868 714h8M4036 744h8M4020 751h8M3772 781h8M3944 850h8M3969 727h8M3880 716h8M3898 713h8M3956 698h8M3837 825h8M3941 720h8M3977 830h8M4039 754h8M4029 801h8M3976 721h8M3815 723h8M3867 702h8M4014 823h8M4007 733h8M3782 769h8M3916 718h8M3785 735h8M4024 819h8M3918 832h8M3775 811h8M3979 834h8M3980 710h8M4077 748h8M3948 719h8M3792 767h8M3924 828h8M3901 697h8M4026 755h8M4012 701h8M4084 798h8M3819 735h8M3976 720h8M4045 784h8M3881 830h8M3893 720h8M3924 827h8M3995 741h8M4060 777h8M3947 708h8M3793 795h8M3998 813h8M4016 730h8M3809 736h8M4007 737h8M3910 840h8M4057 726h8M3974 837h8M3798 744h8M3876 725h8M3897 710h8M3836 725h8M3798 718h8M3908 713h8M4037 733h8M3943 857h8M3922 722h8M3992 736h8M3772 758h8M3776 839h8M3842 822h8M4041 790h8M4037 737h8M3890 721h8M3866 725h8M3867 839h8M3773 828h8M3825 737h8M3894 849h8M3925 710h8M3974 728h8M3828 735h8M4059 736h8M3918 725h8M3786 736h8M3995 722h8M4059 769h8M3946 696h8M3789 750h8M3845 827h8M4005 713h8M3774 769h8M4030 786h8M3789 754h8M4047 743h8M3798 741h8M4064 779h8M3836 711h8M3774 805h8M3785 759h8M4031 751h8M3891 850h8M3905 836h8M3806 733h8M4053 749h8M3786 780h8M3874 825h8M4043 757h8M3775 785h8M3832 826h8M3961 724h8M4073 751h8M4036 811h8M3833 731h8M4023 803h8M3773 784h8M3772 745h8M3819 716h8M3823 812h8M4003 812h8M4038 719h8M3927 721h8M3792 753h8M3824 825h8M3911 828h8M4107 769h8M3789 746h8M3849 731h8M3898 725h8M3847 825h8M3793 746h8M3862 827h8M4018 726h8M4032 813h8M4009 723h8M4048 801h8M4045 767h8M4051 755h8M4054 748h8M3775 744h8M3774 758h8M3926 851h8M3774 805h8M3999 830h8M3943 699h8M3770 737h8M4018 804h8M3931 719h8M4043 775h8M3773 806h8M3962 840h8M3862 724h8M3804 727h8M4137 776h8M3954 719h8M3908 842h8M4012 815h8M4021 796h8M3876 724h8M4040 786h8M3798 816h8M4055 770h8M4075 783h8M3904 703h8M3882 726h8M3838 724h8M3792 787h8M4075 763h8M4060 776h8M4049 810h8M3899 838h8M3861 851h8M3770 746h8M4082 758h8M3843 846h8M4026 825h8M3971 713h8M3980 826h8M4025 802h8M3775 779h8M4046 825h8M4038 778h8M3934 726h8M3792 794h8M3771 818h8M4076 763h8M3776 780h8M4004 736h8M3965 847h8M4003 825h8M3937 696h8M4025 814h8M3781 749h8M3911 847h8M3809 735h8M3997 812h8M3895 827h8M3782 808h8M4071 805h8M3773 722h8M3995 719h8M3820 720h8M4010 840h8M3932 724h8M3995 733h8M4028 772h8M3883 839h8M3870 836h8M3847 836h8M3879 844h8M3797 843h8M3775 783h8M3912 722h8M3785 780h8M4027 762h8M3867 832h8M4033 781h8M3829 835h8M4059 825h8M4040 815h8M3787 732h8M3874 841h8M3778 829h8M3774 762h8M4044 803h8M4108 809h8M3775 783h8M3855 725h8M4009 807h8M3775 786h8M4038 796h8M4016 800h8M3961 823h8M4015 812h8M3773 796h8M4063 733h8M3947 825h8M3781 819h8M3772 771h8M3827 707h8M3787 761h8M3841 822h8M4024 831h8M3798 817h8M3791 762h8M4008 822h8M3973 717h8M3778 783h8M3914 839h8M3926 724h8M3993 833h8M3830 734h8M3776 793h8M3792 800h8M3776 752h8M3779 759h8M3878 712h8M3973 726h8M4102 764h8M3823 729h8M4004 729h8M4070 787h8M3989 820h8M3896 840h8M3770 754h8M3964 709h8M4035 786h8M4076 794h8M3775 787h8M4013 735h8M4000 817h8M4049 768h8M3909 828h8M4078 782h8M4021 752h8M4038 768h8M3899 715h8M3909 831h8M3962 843h8M4042 751h8M4013 805h8M3950 828h8M4023 808h8M3837 734h8M3795 809h8M3773 807h8M4083 783h8M3821 824h8M3781 751h8M3952 720h8M4035 771h8M3789 727h8M4075 773h8M3772 809h8M3773 721h8M4054 747h8M4049 793h8M3794 801h8M3784 728h8M3870 838h8M3916 847h8M3904 709h8M3809 735h8M3858 838h8M3946 712h8M3878 721h8M3900 715h8M3776 780h8M3833 835h8M3907 712h8M3824 812h8M3977 698h8M4047 779h8M3784 791h8M3858 695h8M3810 733h8M3815 836h8M3787 725h8M3892 840h8M4008 812h8M4033 734h8M3970 835h8M3829 828h8M4008 743h8M3982 821h8M3828 738h8M3827 725h8M4065 777h8M3794 804h8M4020 807h8M4051 783h8M3988 820h8M4006 728h8M3775 796h8M4016 749h8M4033 804h8M4011 706h8M3997 814h8M3869 856h8M4057 770h8M3887 835h8M4060 806h8M4031 765h8M3868 841h8M3826 833h8M4104 759h8M3927 717h8M4045 765h8M3772 734h8M4010 824h8M3865 722h8M3917 701h8M3825 829h8M4103 799h8M3905 724h8M3964 720h8M3852 725h8M3787 764h8M3991 730h8M3844 722h8M4009 743h8M4029 712h8M3812 727h8M4003 745h8M3890 831h8M3861 837h8M4038 781h8M3917 836h8M3847 729h8M3773 798h8M3937 834h8M3771 804h8M3997 814h8M3857 710h8M4018 750h8M3967 858h8M4025 738h8M3901 842h8M4016 817h8M4066 733h8M3957 838h8M3846 824h8M4017 726h8M3886 724h8M3843 732h8M3774 753h8M4028 738h8M3786 753h8M3817 716h8M3913 859h8M3900 834h8M3957 839h8M4053 742h8M3881 829h8M3820 735h8M4045 762h8M3791 822h8M3776 763h8M3813 730h8M3998 1271h8M3839 1291h8M3821 1349h8M3991 1317h8M3839 1360h8M3884 1216h8M4017 1390h8M3864 1248h8M3964 1370h8M3874 1394h8M3892 1215h8M3885 1409h8M3894 1465h8M3856 1280h8M3838 1268h8M3939 1378h8M4039 1317h8M3975 1412h8M3860 1351h8M3871 1260h8M4016 1273h8M3966 1216h8M3985 1196h8M3943 1158h8M3942 1415h8M3832 1282h8M4092 1405h8M3954 1383h8M3894 1406h8M4011 1285h8M3951 1139h8M4027 1366h8M4045 1371h8M3798 1304h8M4004 1378h8M3992 1382h8M3832 1333h8M3993 1287h8M3865 1246h8M3877 1285h8M4060 1226h8M3798 1238h8M3841 1202h8M4116 1196h8M4021 1284h8M3949 1179h8M3841 1269h8M3923 1206h8M3831 1251h8M3857 1316h8M3857 1132h8M4012 1320h8M3911 1419h8M3949 1224h8M3918 1199h8M3925 1167h8M3774 1348h8M3824 1298h8M3858 1217h8M3903 1229h8M3956 1389h8M4009 1296h8M3799 1271h8M3913 1457h8M3846 1403h8M3885 1396h8M4008 1389h8M4027 1269h8M3942 1395h8M3986 1328h8M4021 1366h8M3998 1212h8M3821 1421h8M4002 1251h8M3901 1381h8M3987 1319h8M3773 1373h8M4034 1305h8M3867 1232h8M3901 1226h8M3969 1397h8M4019 1353h8M3822 1346h8M3775 1359h8M3997 1421h8M4116 1361h8M4005 1176h8M3850 1254h8M3992 1372h8M4019 1356h8M3872 1259h8M3823 1388h8M4083 1324h8M3984 1360h8M3981 1337h8M3798 1267h8M3956 1204h8M3966 1247h8M3814 1229h8M3869 1211h8M3865 1418h8M3869 1276h8M3840 1306h8M3833 1408h8M3846 1353h8M3903 1409h8M4009 1237h8M3971 1227h8M3865 1246h8M4036 1221h8M4040 1380h8M3856 1221h8M3771 1319h8M3904 1230h8M3953 1463h8M3902 1238h8M3933 1244h8M3788 1339h8M4023 1330h8M3951 1420h8M3775 1243h8M3831 1459h8M3878 1173h8M3868 1402h8M3973 1210h8M3895 1405h8M3977 1338h8M3826 1315h8M3986 1350h8M3958 1207h8M3910 1464h8M3844 1278h8M4035 1426h8M3991 1327h8M4004 1308h8M3857 1213h8M3950 1380h8M4003 1276h8M3814 1395h8M3876 1246h8M3867 1178h8M4025 1185h8M3902 1240h8M4013 1189h8M3810 1329h8M3929 1406h8M4004 1388h8M3901 1210h8M4027 1342h8M3828 1393h8M3923 1447h8M3816 1166h8M3873 1464h8M4008 1377h8M4060 1232h8M3771 1334h8M3854 1298h8M3773 1451h8M3789 1354h8M4031 1341h8M3836 1343h8M3846 1466h8M3864 1361h8M3966 1244h8M3866 1181h8M3973 1252h8M3985 1262h8M3863 1431h8M3990 1308h8M3772 1375h8M3944 1212h8M3864 1409h8M3866 1175h8M3961 1368h8M3798 1294h8M3813 1277h8M3991 1436h8M3874 1069h8M3772 1325h8M3966 1230h8M3912 1229h8M3890 1175h8M3927 1255h8M3941 1249h8M3953 1218h8M4028 1274h8M3846 1261h8M3839 1267h8M3943 1385h8M3992 1304h8M3819 1428h8M3984 1386h8M3988 1380h8M3986 1275h8M3963 1445h8M3886 1174h8M3984 1356h8M3938 1388h8M4004 1165h8M3937 1231h8M3931 1266h8M3977 1251h8M3851 1394h8M3916 1209h8M3813 1306h8M3948 1386h8M3772 1356h8M3859 1368h8M3804 1314h8M3864 1222h8M3875 1392h8M4004 1297h8M3933 1468h8M4000 1430h8M3857 1393h8M3917 1204h8M3889 1233h8M3816 1391h8M3857 1143h8M4076 1257h8M3781 1217h8M3940 1249h8M3940 1161h8M3954 1206h8M3818 1324h8M3788 1240h8M3933 1219h8M3903 1415h8M3856 1170h8M3840 1289h8M3968 1228h8M3980 1193h8M3952 1201h8M3886 1446h8M4030 1207h8M3939 1227h8M3920 1259h8M3903 1409h8M3818 1411h8M3992 1338h8M4034 1324h8M3951 1413h8M3775 1362h8M3850 1221h8M4063 1410h8M4048 1449h8M3987 1284h8M3800 1280h8M4126 1298h8M3893 1362h8M3916 1380h8M3811 1449h8M4168 1169h8M3822 1241h8M4073 1272h8M3830 1357h8M3780 1199h8M3877 1433h8M4023 1171h8M3969 1424h8M3826 1296h8M3825 1296h8M3880 1400h8M3815 1336h8M3949 1414h8M3806 1360h8M3851 1367h8M4006 1243h8M3936 1232h8M3999 1261h8M3825 1335h8M3951 1457h8M3972 1467h8M3857 1245h8M4002 1388h8M3868 1464h8M3809 1320h8M3873 1347h8M3875 1216h8M3864 1232h8M3973 1216h8M4080 1260h8M3926 1216h8M3834 1199h8M4057 1292h8M3773 1323h8M3969 1343h8M3788 1374h8M3910 1248h8M4041 1328h8M3829 1256h8M4027 1339h8M3888 1466h8M4004 1417h8M4010 1219h8M3976 1354h8M3998 1440h8M4059 1317h8M3963 1186h8M3980 1422h8M4038 1264h8M3799 1366h8M3900 1435h8M3955 1446h8M4009 1281h8M3906 1214h8M4016 1337h8M3962 1221h8M3861 1222h8M3914 1464h8M4022 1359h8M3924 1463h8M3930 1437h8M3809 1355h8M3817 1248h8M3935 1369h8M3948 1424h8M3799 1288h8M3847 1202h8M3979 1333h8M3802 1222h8M3820 1343h8M3950 1224h8M3869 1416h8M3916 1252h8M3819 1180h8M3947 1214h8M3937 1467h8M4078 1377h8M4061 1323h8M3863 1245h8M3953 1368h8M3818 1418h8M3929 1215h8M3881 1441h8M4002 1368h8M3995 1366h8M3774 1411h8M4071 1315h8M3848 1370h8M3911 1213h8M3928 1395h8M3851 1250h8M3877 1419h8M3956 1263h8M3967 1403h8M4052 1257h8M4009 1359h8M3810 1314h8M3899 1434h8M3938 1155h8M3943 1445h8M3788 1352h8M4073 1419h8M3976 1393h8M3895 1432h8M3873 1385h8M3775 1348h8M4014 1252h8M3844 1272h8M3968 1236h8M3841 1230h8M3823 1236h8M3891 1402h8M3956 1397h8M4001 1300h8M3803 1429h8M4000 1305h8M3901 1461h8M3850 1146h8M4005 1152h8M3829 1211h8M3864 1380h8M4019 1401h8M4041 1381h8M3771 1269h8M3998 1340h8M4041 1247h8M3875 1349h8M3899 1416h8M3891 1424h8M3947 1154h8M3966 1083h8M4027 1336h8M3814 1339h8M3913 1413h8M4045 1234h8M3891 1357h8M3862 1306h8M3933 1213h8M3974 1234h8M3900 1220h8M4043 1251h8M3792 1277h8M4022 1342h8M3793 1217h8M3930 1398h8M3801 1356h8M3872 1277h8M3946 1431h8M3869 1377h8M3845 1333h8M3914 1185h8M3882 1368h8M3843 1322h8M3969 1322h8M3969 1382h8M3948 1172h8M3943 1413h8M3913 1367h8M3916 1419h8M3840 1365h8M3901 1265h8M3882 1390h8M3964 1388h8M4042 1253h8M3972 1387h8M3776 1252h8M3820 1263h8M3772 1362h8M4016 1255h8M4013 1198h8M3884 1255h8M3957 1268h8M3982 1431h8M3980 1266h8M3889 1235h8M3828 1312h8M3803 1263h8M3886 1372h8M3974 1346h8M3886 1267h8M3898 1231h8M4010 1302h8M3944 1200h8M3831 1383h8M3966 1208h8M3936 1426h8M3970 1231h8M3839 1334h8M3817 1293h8M3805 1364h8M3950 1358h8M3970 1379h8M3929 1404h8M3994 1464h8M4021 1453h8M3853 1292h8M3838 1167h8M3946 1466h8M3939 1214h8M3832 1303h8M4097 1395h8M4039 1345h8M3844 1254h8M3831 1243h8M3963 1363h8M3783 1380h8M3774 1214h8M4049 1345h8M3995 1260h8M3836 1390h8M4017 1243h8M3770 1130h8M3986 1361h8M3951 1382h8M3822 1222h8M3834 1319h8M3977 1371h8M3894 1231h8M3776 1344h8M3874 1232h8M4032 1293h8M3919 1238h8M4013 1277h8M3993 1329h8M4033 1298h8M3939 1220h8M4006 1376h8M3978 1382h8M4121 1298h8M3962 1443h8M3934 1185h8M3773 1391h8M3980 1263h8M3962 1266h8M3812 1126h8M3956 1231h8M3998 1300h8M3874 1227h8M3855 1214h8M3817 1219h8M4057 1234h8M4072 1467h8M3906 1210h8M3872 1212h8M3827 1350h8M3962 1284h8M3837 1350h8M3796 1406h8M3955 1408h8M3954 1389h8M3862 1410h8M3962 1450h8M3969 1397h8M3967 1308h8M3771 1237h8M3916 1216h8M3846 1356h8M3854 1386h8M4020 1231h8M3908 1170h8M4075 1374h8M3874 1424h8M3924 1409h8M4038 1397h8M3951 1356h8M3853 1252h8M3981 1420h8M4048 1360h8M3973 1293h8M3948 1239h8M3774 1403h8M3825 1467h8M3897 1428h8M3809 1339h8M3807 1395h8M3824 1274h8M3770 1294h8M3931 1204h8M4005 1374h8M3925 1415h8M3906 1200h8M3816 1265h8M3830 1311h8M3838 1409h8M3847 1339h8M3896 1465h8M3845 1245h8M4013 1227h8M3860 1237h8M3798 1320h8M3966 1239h8M4003 1192h8M4030 1365h8M3972 1233h8M3791 1234h8M3831 1241h8M3946 1465h8M3908 1179h8M3796 1361h8M3986 1330h8M4006 1321h8M3844 1257h8M3828 1461h8M3816 1363h8M3908 1171h8M3800 1279h8M3803 1427h8M4006 1309h8M3975 1290h8M3792 1342h8M3836 1225h8M3980 1347h8M3931 1231h8M3956 1234h8M3969 1393h8M3856 1400h8M3980 1199h8M3976 1303h8M3874 1417h8M3954 1417h8M3851 1208h8M3858 1224h8M3979 1464h8M4118 1313h8M3905 1438h8M4008 1251h8M3895 1465h8M3976 1283h8M3884 1440h8M4016 1170h8M3836 1388h8M3996 1350h8M3981 1209h8M3829 1463h8M3922 1212h8M3860 1390h8M3965 1444h8M3774 1370h8M3956 1379h8M3861 1244h8M3891 1069h8M3885 1440h8M3866 1387h8M4045 1360h8M3775 1287h8M4018 1361h8M3837 1376h8M3908 1416h8M3856 1369h8M3772 1233h8M3991 1296h8M3919 1399h8M3868 1326h8M4043 1321h8M3922 1365h8M3844 1382h8M4040 1314h8M3820 1237h8M3808 1339h8M4159 1353h8M3981 1311h8M3847 1138h8M3897 1250h8M3998 1301h8M4018 1271h8M3896 1184h8M3928 1211h8M3965 1382h8M3979 1324h8M4006 1158h8M3999 1408h8M4064 1338h8M3897 1225h8M3841 1158h8M3969 1175h8M3851 1314h8M3909 1416h8M4041 1220h8M3819 1321h8M4027 1296h8M3865 1359h8M4079 1324h8M4040 1319h8M3980 1249h8M3877 1413h8M4026 1347h8M3967 1230h8M3877 1183h8M4040 1299h8M4006 1172h8M4005 1371h8M3983 1387h8M3976 1249h8M3970 1300h8M3979 1265h8M3814 1213h8M4146 1336h8M4039 1312h8M3911 1365h8M3974 1411h8M4073 1331h8M4019 1321h8M3976 1217h8M3963 1218h8M3907 1209h8M3915 1160h8M3793 1327h8M3861 1301h8M3984 1297h8M3945 1405h8M3880 1244h8M3835 1298h8M3814 1250h8M3892 1446h8M3910 1402h8M3860 1395h8M4027 1212h8M3886 1251h8M3935 1193h8M3900 1419h8M3957 1231h8M3824 1302h8M3933 1215h8M4021 1229h8M3775 1265h8M3883 1254h8M3924 1211h8M3999 1469h8M3896 1427h8M4096 1436h8M4056 1340h8M3825 1284h8M3887 1463h8M3935 1228h8M3947 1384h8M4103 1269h8M4003 1227h8M3958 1198h8M3905 1210h8M4005 1291h8M4038 1255h8M3861 1253h8M3933 1247h8M3963 1458h8M4006 1381h8M3904 1221h8M3996 1260h8M3883 1422h8M3846 1393h8M4029 1351h8M3966 1229h8M4003 1172h8M4067 1385h8M3822 1422h8M3945 1413h8M4034 1427h8M3852 1196h8M3876 1239h8M3852 1354h8M3959 1368h8M3837 1262h8M3954 1431h8M3987 1168h8M3819 1350h8M3959 1404h8M3981 1250h8M4040 1316h8M3996 1405h8M4043 1391h8M3987 1270h8M3982 1394h8M3984 1283h8M3875 1161h8M3819 1364h8M3948 1174h8M3986 1276h8M3972 1423h8M3932 1224h8M3781 1266h8M4011 1426h8M3963 1432h8M3908 1242h8M4013 1322h8M3874 1238h8M3894 1216h8M3962 1260h8M4038 1307h8M3973 1411h8M3868 1374h8M3810 1327h8M4024 1466h8M3973 1293h8M3859 1383h8M3939 1414h8M4015 1308h8M3949 1213h8M3902 1183h8M3780 1352h8M3930 1377h8M3852 1360h8M3862 1417h8M3862 1467h8M3960 1424h8M4040 1465h8M4028 1246h8M3845 1365h8M3847 1196h8M3915 1426h8M3863 1397h8M3798 1355h8M4023 1276h8M3995 1355h8M3985 1373h8M3882 1462h8M4018 1289h8M3771 1370h8M4004 1278h8M4048 1295h8M4020 1412h8M3825 1415h8M3944 1244h8M3943 1429h8M3888 1163h8M3990 1398h8M3957 1406h8M3937 1213h8M3851 1322h8M3904 1385h8M3873 1356h8M3970 1265h8M3854 1363h8M4022 1228h8M3946 1185h8M4024 1265h8M3814 1204h8M3928 1469h8M4065 1368h8M3849 1288h8M3889 1409h8M3852 1322h8M3904 1393h8M4014 1289h8M3975 1274h8M3828 1423h8M3933 1188h8M3871 1408h8M3814 1388h8M3801 1324h8M3888 1386h8M3776 1320h8M3789 1289h8M3979 1457h8M3969 1433h8M3901 1218h8M3991 1259h8M3843 1323h8M3803 1297h8M3948 1212h8M3973 1437h8M4044 1329h8M3811 1391h8M3861 1286h8M3842 1299h8M4015 1231h8M3986 1238h8M3917 1398h8M3887 1410h8M3955 1462h8M3821 1249h8M3977 1329h8M3826 1361h8M3773 1396h8M4012 1239h8M3986 1336h8M3920 1438h8M3988 1311h8M3954 1391h8M3934 1408h8M3863 1396h8M3964 1240h8M3993 1380h8M4003 1300h8M4013 1373h8M3939 1259h8M3773 1320h8M3917 1233h8M3838 1344h8M3815 1415h8M4038 1325h8M3850 1188h8M3941 1421h8M3877 1270h8M4009 1335h8M3813 1233h8M3937 1178h8M3823 1354h8M3993 1313h8M3928 1244h8M3895 1244h8M3925 1152h8M3985 1418h8M3928 1410h8M3910 1236h8M3861 1164h8M3808 1262h8M4010 1434h8M3774 1250h8M3949 1264h8M3797 1131h8M3996 1327h8M3955 1236h8M3874 1436h8M3942 1192h8M3827 1367h8M4035 1345h8M4020 1361h8M3977 1465h8M3888 1231h8M3962 1376h8M3814 1210h8M3895 1383h8M3781 1384h8M3884 1221h8M3854 1329h8M3798 1387h8M3775 1383h8M4061 1444h8M3939 1244h8M3893 1384h8M3911 1412h8M4005 1375h8M3912 1422h8M3926 1230h8M3984 1465h8M4006 1323h8M3864 1251h8M3974 1254h8M3849 1250h8M3975 1246h8M3879 1392h8M3903 1447h8M3975 1308h8M3933 1427h8M3848 1187h8M3919 1141h8M3875 1426h8M3963 1272h8M3913 1401h8M3774 1167h8M3837 1367h8M4041 1209h8M3970 1239h8M3834 1447h8M3870 1376h8M3837 1253h8M4035 1276h8M3842 1288h8M3851 1346h8M3907 1194h8M3923 1245h8M3916 1210h8M4071 1388h8M3851 1373h8M3963 1202h8M3897 1254h8M3969 1210h8M3811 1285h8M3793 1291h8M3773 1299h8M4043 1369h8M3977 1396h8M3877 1164h8M3952 1393h8M4019 1277h8M4008 1353h8M3803 1314h8M4059 1451h8M3930 1215h8M3968 1269h8M3849 1411h8M3874 1355h8M3894 1378h8M3993 1365h8M4003 1387h8M3971 1399h8M3775 1179h8M3907 1169h8M3823 1207h8M3985 1391h8M3811 1377h8M3981 1301h8M4028 1287h8M3824 1333h8M3948 1208h8M3832 1239h8M3939 1364h8M4044 1376h8M3858 1219h8M3794 1244h8M3961 1282h8M3772 1232h8M4014 1444h8M3887 1192h8M4026 1337h8M3829 1344h8M3833 1197h8M3939 1250h8M3938 1237h8M4024 1314h8M4033 1282h8M4081 1185h8M3909 1381h8M3778 1307h8M4030 1328h8M3907 1468h8M3964 1466h8M4014 1360h8M4008 1177h8M3853 1367h8M3839 1460h8M3897 1242h8M3930 1423h8M3773 1302h8M3926 1266h8M3898 1373h8M4014 1370h8M3773 1353h8M3899 1385h8M3818 1331h8M3843 1315h8M4048 1290h8M3872 1395h8M3873 1365h8M3996 1369h8M3948 1439h8M3990 1307h8M3928 1408h8M4030 1404h8M3974 1351h8M3972 1352h8M4047 1365h8M3803 1333h8M3821 1346h8M3783 1215h8M3922 1405h8M3774 1362h8M3774 1283h8M3843 1379h8M3901 1182h8M3957 1180h8M4043 1457h8M3991 1354h8M4061 1305h8M3774 1322h8M4122 1163h8M3782 1326h8M4087 1308h8M4023 1384h8M3790 1339h8M3987 1341h8M4043 1386h8M3926 1259h8M3847 1264h8M3979 1353h8M4011 1399h8M3806 1274h8M4011 1313h8M4020 1239h8M3887 1464h8M3933 1368h8M3894 1419h8M3872 1409h8M4003 1351h8M3865 1374h8M3889 1398h8M3986 1289h8M4066 1322h8M3773 1314h8M3957 1201h8M4003 1287h8M3908 1432h8M4029 1376h8M3809 1286h8M3989 1203h8M4000 1214h8M3970 1391h8M3856 1385h8M3922 1450h8M3849 1173h8M3810 1332h8M4058 1349h8M4012 1280h8M4008 1376h8M3800 1290h8M4006 1345h8M3856 1321h8M3839 1345h8M3773 1235h8M3935 1469h8M4021 1333h8M3859 1350h8M3924 1419h8M3824 1389h8M3926 1463h8M3836 1197h8M3951 1216h8M3772 1406h8M3850 1405h8M3773 1290h8M4073 1296h8M3949 1231h8M3901 1173h8M3996 1434h8M3822 1279h8M3974 1269h8M4002 1257h8M3865 1251h8M3878 1219h8M3833 1313h8M3828 1262h8M3995 1349h8M3922 1391h8M4076 1369h8M3925 1464h8M3933 1170h8M3973 1345h8M4027 1287h8M3830 1369h8M4025 1346h8M3785 1273h8M4005 1320h8M4020 1279h8M3892 1415h8M3992 1307h8M3774 1304h8M3840 1292h8M3855 1116h8M3988 1171h8M3775 1259h8M3775 1377h8M3782 1347h8M3831 1219h8M3827 1304h8M4005 1279h8M3968 1333h8M3851 1264h8M3822 1310h8M3992 1443h8M3803 1358h8M3814 1302h8M3914 1394h8M3905 1393h8M3878 1384h8M4051 1257h8M3868 1227h8M3880 1251h8M4032 1404h8M3994 1283h8M3849 1465h8M4028 1294h8M3952 1183h8M4024 1265h8M4041 1431h8M3825 1268h8M3956 1408h8M3813 1332h8M3943 1235h8M3972 1410h8M3949 1227h8M4022 1289h8M4065 1261h8M3797 1260h8M3974 1383h8M3876 1452h8M3773 1385h8M4001 1388h8M4006 1230h8M3926 1197h8M3776 1308h8M3985 1322h8M3943 1210h8M3934 1187h8M3954 1149h8M3887 1199h8M3907 1247h8M4062 1302h8M3959 1193h8M3903 1413h8M3987 1398h8M3942 1440h8M3868 1249h8M3823 1264h8M4046 1307h8M3948 1396h8M3883 1400h8M3949 1230h8M3864 1347h8M4060 1358h8M3984 1202h8M3898 1386h8M3990 1319h8M3999 1371h8M4013 1458h8M3966 1221h8M4019 1268h8M3984 1125h8M3988 1291h8M4034 1308h8M3874 1421h8M3815 1246h8M3900 1201h8M3975 1357h8M3965 1376h8M3980 1155h8M3904 1392h8M3918 1388h8M4011 1301h8M3905 1132h8M3865 1256h8M4101 1258h8M4014 1394h8M3955 1186h8M3917 1447h8M4044 1321h8M4022 1294h8M3996 1383h8M3977 1320h8M4056 1150h8M3826 1266h8M4021 1346h8M4047 1388h8M4010 1311h8M4035 1421h8M3989 1349h8M3850 1459h8M3928 1178h8M4035 1229h8M4003 1325h8M3771 1361h8M3905 1381h8M3807 1385h8M3924 1378h8M4018 1397h8M3950 1230h8M3825 1330h8M3992 1191h8M3939 1466h8M3967 1240h8M3909 1377h8M3987 1315h8M4036 1440h8M4027 1186h8M3943 1414h8M4001 1326h8M3845 1195h8M3981 1432h8M3955 1420h8M3882 1236h8M3828 1445h8M3849 1322h8M3992 1364h8M4007 1300h8M4001 1284h8M3951 1384h8M3893 1408h8M3786 1372h8M4029 1396h8M3775 1375h8M4041 1236h8M3817 1365h8M4034 1242h8M3855 1224h8M3797 1313h8M4018 1234h8M3867 1238h8M3847 1382h8M3831 1344h8M3772 1278h8M3935 1463h8M3846 1353h8M3834 1292h8M3972 1378h8M3799 1276h8M4012 1218h8M3899 1469h8M3806 1364h8M4001 1407h8M4077 1427h8M3934 1415h8M4041 1337h8M3775 1384h8M3976 1193h8M3842 1444h8M3867 1457h8M3877 1399h8M4013 1311h8M3854 1224h8M3775 1308h8M3829 1302h8M4035 1188h8M3867 1151h8M3972 1449h8M3956 1172h8M4004 1370h8M3989 1385h8M3916 1396h8M4069 1286h8M4000 1351h8M3995 1257h8M3933 1431h8M3962 1376h8M3963 1211h8M3770 1370h8M3883 1405h8M3924 1205h8M4022 1365h8M3877 1361h8M4021 1368h8M3849 1371h8M3774 1348h8M3933 1425h8M4038 1373h8M3951 1404h8M3803 1362h8M4007 1272h8M3848 1432h8M3800 1178h8M3860 1231h8M3853 1119h8M3833 1233h8M4028 1389h8M4018 1459h8M3879 1373h8M4000 1419h8M3819 1296h8M3872 1179h8M4024 1326h8M3946 1232h8M4052 1272h8M3776 1320h8M3990 1230h8M3870 1386h8M3880 1410h8M3991 1230h8M3851 1328h8M3873 1260h8M3843 1368h8M3834 1348h8M3771 1295h8M3854 1237h8M3953 1416h8M3963 1345h8M3878 1379h8M4009 1322h8M4015 1178h8M3977 1405h8M3976 1337h8M3859 1265h8M3921 1413h8M3910 1430h8M4150 1378h8M4119 1261h8M3840 1385h8M3978 1229h8M3919 1417h8M3942 1443h8M3896 1409h8M4124 1331h8M4008 1312h8M4001 1352h8M3857 1243h8M3987 1210h8M3973 1255h8M3892 1428h8M3978 1353h8M3909 1399h8M3904 1410h8M4069 1362h8M3920 1467h8M3885 1387h8M4039 1449h8M4000 1150h8M3900 1462h8M3848 1257h8M3984 1378h8M4150 1269h8M3920 1429h8M3890 1244h8M3908 1402h8M3905 1220h8M3776 1298h8M3930 1159h8M3976 1274h8M3779 1380h8M4067 1333h8M3858 1205h8M3973 1269h8M3799 1389h8M3859 1304h8M3910 1467h8M3998 1345h8M3866 1252h8M3996 1378h8M3983 1355h8M3907 1400h8M3921 1405h8M3949 1389h8M3899 1364h8M4027 1291h8M3969 1348h8M3892 1448h8M3870 1215h8M3820 1204h8M3902 1243h8M3961 1216h8M3771 1402h8M3910 1180h8M4025 1383h8M3813 1209h8M4031 1375h8M3926 1466h8M3899 1125h8M3776 1316h8M3859 1377h8M3996 1363h8M3861 1248h8M3992 1279h8M3807 1411h8M3835 1421h8M3844 1439h8M3770 1351h8M3805 1264h8M3950 1382h8M3984 1171h8M3849 1312h8M3787 1219h8M3887 1442h8M3801 1257h8M3966 1369h8M3773 1314h8M3816 1341h8M3841 1231h8M4017 1317h8M3874 1429h8M3967 1255h8M3957 1467h8M3857 1397h8M3972 1372h8M3942 1232h8M3774 1295h8M3901 1438h8M3857 1261h8M3908 1186h8M3999 1416h8M3992 1355h8M4055 1340h8M3772 1310h8M4106 1360h8M3773 1294h8M3874 1276h8M3900 1409h8M3858 1285h8M3912 1212h8M3898 1428h8M4001 1342h8M4022 1311h8M3891 1150h8M3852 1357h8M3994 1338h8M3853 1219h8M3842 1240h8M3987 1205h8M4051 1427h8M3907 1143h8M3990 1262h8M3947 1411h8M3832 1271h8M3877 1234h8M3804 1420h8M3947 1466h8M3797 1266h8M3820 1325h8M3976 1263h8M3840 1168h8M4075 1280h8M3919 1380h8M3989 1383h8M3878 1235h8M3785 1241h8M3836 1359h8M3782 1312h8M4017 1300h8M3861 1365h8M3852 1350h8M3989 1207h8M3776 1157h8M4042 1438h8M3771 1264h8M3814 1310h8M3774 1301h8M3784 1290h8M3952 1371h8M3938 1371h8M4012 1372h8M3994 1254h8M3774 1255h8M3914 1120h8M3877 1428h8M3892 1407h8M3959 1387h8M4002 1380h8M3943 1138h8M3967 1373h8M3980 1377h8M3839 1271h8M3787 1203h8M3970 1199h8M4002 1375h8M4053 1268h8M4012 1327h8M3830 1389h8M3910 1206h8M3811 1448h8M4007 1110h8M3831 1248h8M3939 1376h8M4055 1264h8M3819 1360h8M3792 1292h8M4036 1378h8M3993 1407h8M3887 1384h8M3864 1285h8M3865 1272h8M3880 1371h8M3872 1216h8M3864 1344h8M3917 1205h8M3811 1305h8M4080 1212h8M3889 1243h8M4027 1292h8M3959 1260h8M3800 1362h8M3892 1404h8M4078 1266h8M3858 1198h8M4002 1293h8M3858 1404h8M3815 1374h8M4064 1467h8M3984 1249h8M3885 1204h8M3898 1238h8M3839 1206h8M3938 1414h8M3975 1309h8M3976 1280h8M3839 1339h8M3880 1468h8M4024 1312h8M3953 1364h8M3874 1237h8M3801 1222h8M3949 1378h8M3859 1268h8M3772 1341h8M3829 1396h8M4039 1398h8M3974 1278h8M3862 1372h8M3821 1319h8M4029 1425h8M3935 1205h8M3928 1407h8M3839 1469h8M4069 1297h8M3811 1332h8M3772 1368h8M3911 1407h8M3866 1165h8M3917 1369h8M3936 1435h8M3891 1361h8M3954 1392h8M4020 1411h8M3843 1418h8M3771 1351h8M3859 1270h8M4035 1396h8M3781 1264h8M3930 1146h8M3887 1194h8M3983 1234h8M3855 1393h8M3885 1267h8M3820 1292h8M3977 1221h8M3990 1396h8M3818 1237h8M3846 1364h8M3946 1416h8M3982 1307h8M3952 1183h8M3967 1258h8M4021 1170h8M3818 1348h8M4012 1346h8M3869 1385h8M3984 1258h8M3957 1351h8M3938 1236h8M3907 1211h8M3931 1193h8M3820 1256h8M3900 1466h8M4009 1240h8M3868 1310h8M3874 1204h8M3924 1395h8M3934 1141h8M3855 1221h8M3906 1414h8M4006 1364h8M3865 1203h8M3976 1389h8M4030 1413h8M3826 1393h8M3791 1357h8M3893 1247h8M3942 1466h8M3958 1390h8M3864 1399h8M3915 1433h8M3997 1234h8M3853 1278h8M3960 1372h8M3824 1364h8M3883 1221h8M3820 1356h8M3961 1214h8M3850 1265h8M3966 1460h8M3843 1407h8M4084 1292h8M3824 1124h8M3772 1385h8M3967 1259h8M3854 1403h8M4000 1254h8M3965 1427h8M4010 1279h8M3817 1328h8M4010 1259h8M3876 1268h8M3837 1327h8M3875 1384h8M4016 1245h8M3834 1278h8M3948 1182h8M3970 1386h8M3958 1284h8M3803 1288h8M3972 1294h8M4033 1358h8M3895 1271h8M3861 1360h8M3986 1457h8M3823 1382h8M3811 1370h8M3976 1424h8M3888 1417h8M3914 1456h8M3773 1218h8M4013 1303h8M3798 1270h8M3827 1350h8M3939 1391h8M3884 1203h8M3884 1221h8M3944 1449h8M3812 1248h8M3849 1203h8M3980 1240h8M3835 1254h8M3785 1316h8M3937 1236h8M3920 1462h8M4011 1266h8M3960 1277h8M3926 1201h8M4008 1363h8M3775 1389h8M3997 1280h8M4013 1401h8M3961 1405h8M4038 1283h8M4098 1319h8M3876 1414h8M3868 1191h8M4079 1312h8M3904 1426h8M4037 1332h8M3907 1088h8M4004 1228h8M3935 1159h8M4075 1304h8M3900 1409h8M3973 1448h8M3904 1418h8M3957 1245h8M4030 1308h8M3836 1200h8M3903 1208h8M3946 1139h8M3814 1319h8M3837 1198h8M4053 1255h8M3784 1316h8M3861 1451h8M4008 1227h8M3820 1306h8M3944 1222h8M4063 1279h8M3889 1393h8M3887 1221h8M4001 1369h8M3936 1403h8M3865 1176h8M4075 1264h8M3985 1255h8M3995 1239h8M3855 1421h8M3861 1388h8M3894 1227h8M3773 1368h8M3823 1279h8M3955 1412h8M3780 1362h8M3866 1285h8M3870 1385h8M3939 1445h8M3962 1385h8M3959 1219h8M3911 1396h8M3916 1249h8M3784 1241h8M3937 1201h8M3815 1219h8M3776 1387h8M3897 1381h8M3815 1298h8M3996 1325h8M4026 1324h8M3883 1389h8M4017 1260h8M3980 1374h8M3832 1453h8M4039 1263h8M4018 1353h8M3801 1317h8M3845 1158h8M3847 1116h8M3896 1427h8M3852 1382h8M4027 1359h8M3885 1380h8M3930 1468h8M4027 1381h8M3861 1385h8M3924 1230h8M4014 1246h8M3988 1153h8M3775 1316h8M3776 1225h8M3859 1226h8M3949 1389h8M4025 1340h8M3815 1466h8M3932 1228h8M3835 1374h8M3995 1467h8M3932 1228h8M3938 1433h8M3968 1192h8M3946 1467h8M3776 1386h8M3778 1205h8M3874 1407h8M4008 1262h8M3956 1151h8M4034 1141h8M3979 1353h8M3937 1406h8M3889 1181h8M4030 1369h8M3819 1322h8M3963 1372h8M3836 1364h8M3770 1280h8M3971 1179h8M3829 1374h8M3897 1400h8M3773 1387h8M3945 1263h8M3817 1234h8M3868 1465h8M4047 1373h8M3961 1455h8M3922 1423h8M3859 1224h8M3808 1401h8M3773 1395h8M3920 1445h8M3868 1235h8M3824 1442h8M4058 1448h8M3868 1255h8M3979 1364h8M3866 1201h8M4078 1351h8M3840 1265h8M3794 1241h8M3773 1183h8M3837 1369h8M3910 1454h8M3773 1240h8M3912 1242h8M3950 1425h8M3891 1130h8M3939 1232h8M3775 1384h8M4047 1227h8M3777 1297h8M3887 1186h8M3973 1342h8M4013 1325h8M3789 1336h8M4015 1343h8M3996 1327h8M4058 1366h8M3860 1403h8M3795 1307h8M4003 1365h8M3841 1336h8M3792 1362h8M4000 1466h8M3842 1284h8M3871 1267h8M3878 1208h8M4009 1244h8M4093 1410h8M4014 1262h8M3801 1260h8M3824 1255h8M3847 1368h8M3955 1255h8M3901 1194h8M3883 1410h8M3951 1354h8M3936 1385h8M3803 1326h8M3826 1268h8M3868 1285h8M3946 1275h8M4001 1309h8M3815 1225h8M3841 1384h8M4013 1226h8M4130 1269h8M3894 1252h8M3962 1258h8M3902 1225h8M3901 1394h8M3953 1231h8M3898 1230h8M3934 1414h8M4051 1280h8M4105 1291h8M3959 1454h8M3825 1404h8M3920 1383h8M3824 1357h8M3958 1184h8M3983 1346h8M3834 1217h8M3994 1313h8M4041 1438h8M3966 1264h8M3857 1393h8M3889 1253h8M4033 1209h8M3778 1134h8M3968 1356h8M4036 1321h8M3882 1236h8M3961 1420h8M3893 1435h8M4010 1370h8M3963 1245h8M3914 1406h8M3856 1468h8M4026 1321h8M3936 1376h8M3946 1409h8M3844 1397h8M3892 1134h8M3905 1403h8M3804 1401h8M3807 1394h8M3805 1378h8M3839 1348h8M3816 1304h8M3907 1467h8M4052 1331h8M4004 1341h8M3997 1305h8M3880 1458h8M3801 1230h8M4028 1298h8M3899 1414h8M4015 1303h8M3905 1394h8M4006 1283h8M3852 1281h8M3933 1421h8M4033 1267h8M3961 1442h8M4059 1381h8M3883 1247h8M3956 1215h8M3885 1234h8M3993 1246h8M4045 1326h8M3934 1234h8M3811 1178h8M3977 1384h8M3858 1170h8M3800 1270h8M3871 1249h8M3905 1429h8M3816 1400h8M4040 1283h8M3912 1215h8M3841 1401h8M3977 1244h8M3776 1203h8M3860 1464h8M3820 1463h8M3836 1387h8M3903 1259h8M4000 1271h8M3991 1360h8M4033 1333h8M3774 1224h8M3772 1315h8M3993 1290h8M3770 1360h8M3886 1240h8M3916 1234h8M3861 1465h8M4001 1303h8M4029 1437h8M3925 1416h8M3941 1253h8M4020 1254h8M3999 1291h8M3853 1275h8M4030 1300h8M3871 1326h8M3864 1334h8M3989 1371h8M3990 1208h8M3866 1208h8M3850 1208h8M3850 1287h8M4001 1359h8M3897 1405h8M3828 1284h8M3979 1280h8M3965 1267h8M3970 1400h8M3994 1264h8M3982 1265h8M3796 1396h8M3984 1357h8M4042 1371h8M3902 1223h8M3806 1354h8M3840 1381h8M4032 1204h8M4019 1341h8M4016 1326h8M4040 1260h8M3945 1148h8M3827 1403h8M3808 1316h8M3973 1389h8M3910 1397h8M3983 1228h8M3972 1446h8M4036 1466h8M3903 1181h8M3990 1344h8M3774 1327h8M3894 1446h8M3907 1380h8M3899 1364h8M3868 1334h8M3770 1275h8M3838 1396h8M3920 1242h8M4008 1348h8M3815 1377h8M3866 1187h8M3780 1263h8M4002 1295h8M3936 1220h8M3831 1377h8M3960 1230h8M3952 1250h8M3792 1338h8M4054 1352h8M4039 1201h8M4016 1452h8M3904 1415h8M3870 1181h8M4012 1288h8M3988 1465h8M3971 1390h8M4000 1296h8M3971 1178h8M4057 1298h8M3868 1219h8M3979 1314h8M3977 1369h8M3998 1346h8M3793 1244h8M3830 1351h8M4002 1358h8M4024 1357h8M4013 1343h8M3877 1261h8M3835 1300h8M3833 1469h8M3772 1221h8M3823 1285h8M3798 1287h8M3816 1226h8M3895 1417h8M3906 1222h8M3960 1469h8M3949 1164h8M3869 1152h8M3833 1311h8M3866 1237h8M3938 1421h8M3870 1252h8M3994 1199h8M3831 1181h8M3934 1404h8M3965 1406h8M3924 1418h8M4001 1382h8M4000 1439h8M4025 1263h8M3853 1307h8M3856 1435h8M3994 1435h8M4028 1340h8M3875 1393h8M3991 1431h8M3931 1246h8M4009 1388h8M4068 1180h8M4081 1465h8M3800 1296h8M3772 1225h8M4095 1350h8M4049 1371h8M3911 1444h8M3771 1464h8M3912 1241h8M3827 1255h8M3988 1230h8M4078 1357h8M4001 1293h8M3824 1370h8M4009 1333h8M3873 1379h8M3817 1310h8M3997 1294h8M3948 1379h8M3996 1301h8M3923 1372h8M3897 1172h8M4054 1230h8M3909 1223h8M3912 1207h8M3879 1386h8M4028 1224h8M3806 1350h8M3823 1279h8M3826 1257h8M3918 1458h8M3970 1246h8M3794 1266h8M4006 1370h8M3828 1235h8M4001 1358h8M3981 1252h8M3885 1416h8M3849 1285h8M3980 1240h8M3805 1196h8M3792 1365h8M3929 1398h8M4052 1364h8M3972 1353h8M3857 1228h8M3903 1429h8M3783 1291h8M3842 1305h8M3868 1205h8M3833 1320h8M3967 1307h8M3817 1258h8M3834 1349h8M3875 1396h8M3793 1324h8M3881 1208h8M3934 1393h8M4040 1362h8M3780 1269h8M3818 1458h8M3926 1426h8M3853 1433h8M3984 1210h8M4081 1317h8M3913 1407h8M3797 1210h8M3976 1261h8M3871 1412h8M4079 1332h8M3898 1222h8M3873 1224h8M3774 1286h8M4040 1255h8M3771 1266h8M4037 1275h8M3825 1364h8M4018 1318h8M3958 1175h8M4060 1346h8M4031 1260h8M3866 1232h8M3831 1249h8M4013 1377h8M3997 1404h8M3990 1322h8M3864 1180h8M4004 1356h8M3919 1394h8M3816 1227h8M3905 1246h8M3973 1467h8M3904 1384h8M3960 1217h8M3994 1389h8M3848 1310h8M3925 1202h8M4045 1373h8M4025 1293h8M3936 1450h8M3910 1368h8M3835 1259h8M3952 1180h8M3883 1375h8M3853 1281h8M3841 1395h8M4032 1418h8M3975 1136h8M3949 1385h8M4061 1256h8M3822 1347h8M3986 1240h8M3915 1251h8M3953 1240h8M4005 1347h8M3820 1245h8M3960 1384h8M3831 1235h8M3858 1226h8M3926 1424h8M3905 1224h8M3831 1248h8M3832 1306h8M3884 1259h8M3956 1239h8M3929 1447h8M4050 1230h8M3939 1212h8M3986 1238h8M3873 1366h8M3954 1466h8M3939 1158h8M3969 1444h8M3948 1223h8M3910 1224h8M4002 1382h8M3968 1248h8M3814 1287h8M4041 1289h8M3868 1342h8M3948 1423h8M3862 1442h8M3941 1394h8M3800 1465h8M4023 1361h8M4000 1340h8M4024 1372h8M3770 1302h8M4008 1310h8M3939 1365h8M3885 1216h8M4027 1269h8M4008 1200h8M3771 1177h8M4021 1315h8M3872 1428h8M3900 1436h8M4085 1371h8M3965 1222h8M3824 1270h8M3895 1232h8M3790 1272h8M4016 1227h8M3987 1267h8M3807 1335h8M4018 1267h8M3949 1205h8M4081 1263h8M3856 1438h8M4070 1184h8M3989 1381h8M3999 1372h8M3829 1383h8M3950 1401h8M3910 1254h8M3872 1197h8M3832 1414h8M4017 1399h8M3871 1447h8M3818 1289h8M4018 1371h8M4018 1284h8M3853 1468h8M3985 1190h8M3917 1393h8M3911 1201h8M3897 1410h8M3849 1177h8M4011 1282h8M3836 1225h8M4010 1297h8M3901 1182h8M3825 1321h8M4105 1313h8M4043 1465h8M3857 1423h8M3874 1364h8M4012 1351h8M3791 1341h8M3863 1263h8M3800 1342h8M3958 1466h8M4054 1247h8M3897 1433h8M3887 1243h8M3963 1282h8M3930 1184h8M3826 1405h8M3867 1424h8M3814 1292h8M3969 1253h8M3869 1408h8M4068 1263h8M3969 1391h8M4024 1331h8M3866 1307h8M3908 1361h8M3987 1330h8M4027 1449h8M3959 1449h8M3884 1376h8M4002 1276h8M3947 1380h8M4034 1253h8M3792 1253h8M4005 1251h8M3923 1426h8M3977 1349h8M3930 1241h8M3986 1293h8M3962 1213h8M4032 1321h8M3931 1207h8M3884 1457h8M3931 1230h8M3942 1250h8M3792 1239h8M3960 1203h8M4092 1320h8M3933 1218h8M3884 1240h8M3904 1244h8M3950 1366h8M3857 1259h8M3976 1299h8M4053 1326h8M3935 1152h8M3883 1241h8M4008 1298h8M3985 1366h8M3938 1217h8M3772 1320h8M3959 1380h8M3944 1268h8M3808 1299h8M3855 1211h8M3838 1252h8M3984 1381h8M3831 1341h8M4017 1275h8M3996 1191h8M3825 1289h8M3976 1283h8M3884 1407h8M3935 1466h8M3860 1290h8M3813 1251h8M4022 1145h8M4067 1343h8M3869 1237h8M4029 1294h8M3855 1386h8M3865 1388h8M4024 1301h8M3986 1359h8M3822 1071h8M4022 886h8M3945 1043h8M3941 1057h8M4098 901h8M3866 1004h8M3849 936h8M3821 867h8M3842 882h8M3940 908h8M3821 894h8M4044 1080h8M3863 1034h8M3856 982h8M3950 862h8M3852 998h8M3894 1044h8M3899 1002h8M3911 941h8M3812 1054h8M3831 841h8M3978 887h8M3980 1086h8M4062 882h8M3871 979h8M3819 862h8M3907 1039h8M3906 1055h8M3800 928h8M3848 902h8M3976 1038h8M3928 1058h8M4011 1083h8M3904 1044h8M3887 1039h8M3787 904h8M3890 856h8M3939 1077h8M3954 846h8M3853 1032h8M4003 845h8M3972 897h8M3909 925h8M3870 1079h8M3882 965h8M4006 872h8M4004 871h8M4170 1044h8M3837 906h8M4003 929h8M4035 895h8M3885 1019h8M4008 1059h8M4060 843h8M3846 884h8M3814 887h8M3773 944h8M3829 972h8M3938 930h8M4064 967h8M3929 1042h8M3990 1083h8M3879 1044h8M3917 1011h8M3873 994h8M3978 1015h8M3810 983h8M3932 992h8M3896 1007h8M4059 962h8M3954 940h8M4147 841h8M3799 1008h8M4073 901h8M3914 1071h8M4037 933h8M3919 859h8M4005 935h8M4029 910h8M3782 934h8M3860 938h8M4105 1035h8M4120 961h8M3887 1020h8M3913 866h8M3998 1006h8M3828 983h8M3988 916h8M3941 943h8M4132 1067h8M3826 967h8M3873 1067h8M3894 944h8M3966 1033h8M3902 983h8M3820 1019h8M3858 1037h8M3888 987h8M4069 942h8M3852 1010h8M3947 968h8M4029 976h8M3975 920h8M4011 1053h8M3845 1002h8M4000 994h8M4092 908h8M3872 993h8M3929 888h8M3800 1056h8M4033 851h8M4176 972h8M3910 1040h8M4125 1086h8M3945 1052h8M3848 960h8M3925 944h8M3978 903h8M3983 1041h8M3938 895h8M3848 1046h8M3942 870h8M3858 887h8M3947 839h8M3935 1088h8M4024 1072h8M3832 975h8M3863 890h8M3802 905h8M4050 975h8M3932 859h8M3870 875h8M3936 966h8M3927 840h8M3913 984h8M3882 1017h8M3996 1087h8M3992 1031h8M3863 886h8M3893 851h8M3933 959h8M4059 854h8M3904 1089h8M4031 970h8M3897 1093h8M3835 893h8M3775 837h8M3894 1002h8M3900 1091h8M3847 995h8M3939 949h8M3923 969h8M4061 908h8M4048 920h8M4128 956h8M3998 882h8M3893 1000h8M4057 894h8M4180 946h8M3965 914h8M4016 964h8M4011 1084h8M3992 1054h8M3823 863h8M4005 909h8M3888 974h8M3945 912h8M3869 1012h8M3975 950h8M3864 958h8M3874 1065h8M3852 1004h8M3904 929h8M3868 949h8M3918 1055h8M4000 848h8M3829 949h8M3864 913h8M4037 955h8M4032 1046h8M3916 985h8"/>
<path transform="scale(.1)" fill="none" stroke="#fff" stroke-opacity=".55" stroke-width="7" d="M4043 1296h7M3865 1243h7M3925 1424h7M4008 1351h7M3805 1338h7M3998 1386h7M3814 1340h7M3989 1411h7M3945 1255h7M4045 1386h7M3986 1236h7M4012 1408h7M3947 1411h7M3929 1439h7M3968 1222h7M3796 1292h7M4021 1229h7M3974 1186h7M4065 1193h7M4022 1318h7M3937 1467h7M3975 1364h7M3990 1423h7M3818 1284h7M3985 1308h7M3976 1248h7M3935 1220h7M3863 1257h7M3864 1193h7M3944 1249h7M3827 1443h7M3832 1376h7M3789 1254h7M3935 1249h7M3961 1253h7M3868 1387h7M3810 1250h7M4100 1063h7M3866 1226h7M3989 1407h7M3865 1447h7M4061 1284h7M3995 1437h7M3910 1198h7M3827 1299h7M3941 1406h7M3881 1219h7M4025 1213h7M3871 1231h7M3990 1317h7M3956 1238h7M4006 1245h7M4117 1271h7M3847 1431h7M4003 1348h7M3870 1439h7M3914 1444h7M3787 1405h7M3849 1201h7M3998 1332h7M4014 1412h7M3824 1288h7M3900 1234h7M3838 1340h7M4001 1279h7M3963 1393h7M3848 1259h7M4001 1397h7M3860 1285h7M3830 1298h7M3971 1357h7M3888 1422h7M3815 1390h7M3925 1205h7M3889 1258h7M3829 1212h7M3852 1261h7M3968 1288h7M3945 1196h7M3806 1386h7M3893 1400h7M3777 1345h7M3910 1232h7M3776 1353h7M3874 1180h7M3798 1315h7M3808 1334h7M4071 1143h7M3865 1417h7M3983 1206h7M4007 1155h7M4026 1360h7M3961 1144h7M3898 1433h7M3988 1174h7M4063 1274h7M3871 1377h7M3999 1290h7M3780 1252h7M3995 1215h7M4016 1177h7M3971 1249h7M4135 1378h7M3802 1378h7M4018 1419h7M3936 1254h7M3841 1464h7M3917 1381h7M3833 1229h7M3980 1144h7M3964 1235h7M4047 1353h7M4034 1279h7M3987 1267h7M3803 1312h7M4004 1405h7M3843 1268h7M3985 1271h7M3813 1311h7M3865 1380h7M4140 1331h7M3798 1299h7M3886 1158h7M3965 1280h7M3886 1342h7M3845 1307h7M3821 1379h7M3812 1296h7M3805 1411h7M4006 1385h7M3902 1233h7M3906 1424h7M4000 1259h7M3812 1281h7M4090 1230h7M3821 1289h7M3777 1205h7M3939 1244h7M3843 1314h7M3872 1421h7M3923 1074h7M4024 1424h7M3834 1149h7M4094 1413h7M4040 1425h7M3945 1398h7M3908 1193h7M4028 1332h7M3854 1286h7M3861 1244h7M3835 1234h7M3822 1268h7M4025 1298h7M3917 1170h7M3970 1235h7M4070 1414h7M3982 1433h7M4013 1169h7M3948 1167h7M4022 1133h7M3872 1181h7M3935 1216h7M3805 1327h7M3834 1254h7M4012 1256h7M4021 1246h7M3980 1315h7M3773 1065h7M4013 1411h7M3908 1425h7M3846 1400h7M3901 1449h7M4009 1383h7M3993 1386h7M3808 775h7M3913 827h7M3793 754h7M3985 756h7M3993 751h7M3932 837h7M3990 817h7M3863 822h7M3962 714h7M3815 765h7M3979 813h7M3821 817h7M3969 830h7M3977 791h7M3935 727h7M4011 777h7M3831 829h7M3833 739h7M3780 809h7M3818 780h7M3891 835h7M3873 801h7M3838 763h7M3846 830h7M3848 812h7M4033 799h7M3874 815h7M3976 816h7M4043 764h7M3841 812h7M3784 793h7M3895 750h7M3818 792h7M3887 816h7M3919 710h7M3890 804h7M3993 724h7M4014 821h7M3884 802h7M4011 801h7M3984 801h7M3981 812h7M3840 738h7M4004 752h7M3811 725h7"/>
<path transform="scale(.1)" fill="none" stroke="#222" stroke-opacity=".55" stroke-width="10" d="M4555 800h10"/>
<path transform="scale(.1)" fill="none" stroke="#222" stroke-opacity=".55" stroke-width="9" d="M4411 1156h9"/>
<path d="M365.2 25.0H511.5" stroke="#383838" stroke-width="1.2" fill="none"/>
<path d="M510.9 24.5V157.0" stroke="#4a4a4a" stroke-width="1.3" fill="none"/>
<path d="M376.2 25.0V148.1M365.2 147.5H511.5" stroke="#1a1a1a" stroke-width="1.4" fill="none"/>
<path d="M421.5 25.0V147.5M376.2 106.0H510.9" stroke="#222" stroke-width="1.3" fill="none"/>
<path d="M376.2 147.5v9.5M409.9 147.5v9.5M443.5 147.5v9.5M477.2 147.5v9.5" stroke="#555" stroke-width=".8" fill="none"/>
<path d="M376.2 117.1h-11M376.2 86.7h-11M376.2 56.3h-11" stroke="#6a6a6a" stroke-width=".7" fill="none"/>
<path d="M386.3 147.5v2.6M392.3 147.5v2.6M396.5 147.5v2.6M399.7 147.5v2.6M402.4 147.5v2.6M404.7 147.5v2.6M406.6 147.5v2.6M408.3 147.5v2.6M376.2 138.3h-2.8M376.2 133.0h-2.8M376.2 129.2h-2.8M376.2 126.3h-2.8M376.2 123.8h-2.8M376.2 121.8h-2.8M376.2 120.0h-2.8M376.2 118.5h-2.8M420.0 147.5v2.6M425.9 147.5v2.6M430.1 147.5v2.6M433.4 147.5v2.6M436.1 147.5v2.6M438.3 147.5v2.6M440.3 147.5v2.6M442.0 147.5v2.6M376.2 107.9h-2.8M376.2 102.6h-2.8M376.2 98.8h-2.8M376.2 95.9h-2.8M376.2 93.4h-2.8M376.2 91.4h-2.8M376.2 89.6h-2.8M376.2 88.1h-2.8M453.7 147.5v2.6M459.6 147.5v2.6M463.8 147.5v2.6M467.1 147.5v2.6M469.8 147.5v2.6M472.0 147.5v2.6M474.0 147.5v2.6M475.7 147.5v2.6M376.2 77.5h-2.8M376.2 72.2h-2.8M376.2 68.4h-2.8M376.2 65.5h-2.8M376.2 63.0h-2.8M376.2 61.0h-2.8M376.2 59.2h-2.8M376.2 57.7h-2.8M487.4 147.5v2.6M493.3 147.5v2.6M497.5 147.5v2.6M500.8 147.5v2.6M503.4 147.5v2.6M505.7 147.5v2.6M507.6 147.5v2.6M509.4 147.5v2.6M376.2 47.1h-2.8M376.2 41.8h-2.8M376.2 38.0h-2.8M376.2 35.1h-2.8M376.2 32.6h-2.8M376.2 30.6h-2.8M376.2 28.8h-2.8M376.2 27.3h-2.8" stroke="#3a3a3a" stroke-width=".75" fill="none"/>
<text class="ax" transform="translate(377.1 156.8) scale(.8 1)">10<tspan class="sp" dy="-1.7">0</tspan></text>
<text class="ax" transform="translate(363.8 145.8) scale(.8 1)">10<tspan class="sp" dy="-1.7">0</tspan></text>
<text class="ax" transform="translate(410.8 156.8) scale(.8 1)">10<tspan class="sp" dy="-1.7">1</tspan></text>
<text class="ax" transform="translate(363.8 115.4) scale(.8 1)">10<tspan class="sp" dy="-1.7">1</tspan></text>
<text class="ax" transform="translate(444.4 156.8) scale(.8 1)">10<tspan class="sp" dy="-1.7">2</tspan></text>
<text class="ax" transform="translate(363.8 85.0) scale(.8 1)">10<tspan class="sp" dy="-1.7">2</tspan></text>
<text class="ax" transform="translate(478.1 156.8) scale(.8 1)">10<tspan class="sp" dy="-1.7">3</tspan></text>
<text class="ax" transform="translate(363.8 54.6) scale(.8 1)">10<tspan class="sp" dy="-1.7">3</tspan></text>
<text class="q" x="375.6" y="32.4">B1</text><text class="q" x="378.1" y="40.1">55.4%</text>
<text class="q" x="421.9" y="32.4">B2</text><text class="q" x="425.9" y="40.1">0.0%</text>
<text class="q" x="375.6" y="113.2">B3</text><text class="q" x="378.1" y="121.2">44.5%</text>
<text class="q" x="421.9" y="113.2">B4</text><text class="q" x="425.9" y="121.2">0.0%</text>
<text class="pl" x="497.9" y="45.1">C</text>
</g>
<g>
<clipPath id="cpD"><rect x="45.8" y="180.8" width="134.8" height="120.9"/></clipPath>
<g clip-path="url(#cpD)">
<ellipse cx="63.0" cy="285.8" rx="19.1" ry="16.4" fill="url(#lg)"/>
<ellipse cx="59.9" cy="235.2" rx="15.6" ry="9.3" fill="url(#ug)"/>
</g>
<path transform="scale(.1)" fill="none" stroke="#000" stroke-opacity=".8" stroke-width="8" d="M482 2328h8M507 2295h8M471 2326h8M461 2324h8M640 2452h8M462 2339h8M719 2410h8M508 2242h8M738 2329h8M776 2324h8M462 2358h8M475 2346h8M718 2326h8M510 2408h8M596 2434h8M465 2420h8M764 2304h8M723 2389h8M469 2364h8M735 2347h8M629 2429h8M657 2288h8M624 2429h8M589 2269h8M477 2338h8M611 2481h8M468 2292h8M497 2487h8M669 2430h8M481 2298h8M716 2256h8M663 2452h8M609 2283h8M783 2414h8M750 2362h8M592 2272h8M554 2447h8M727 2381h8M586 2270h8M722 2293h8M591 2279h8M475 2335h8M469 2298h8M705 2308h8M464 2401h8M687 2285h8M645 2441h8M472 2392h8M687 2267h8M645 2464h8M735 2329h8M496 2406h8M595 2451h8M664 2231h8M496 2402h8M475 2310h8M474 2441h8M536 2290h8M524 2430h8M577 2468h8M475 2350h8M541 2429h8M625 2279h8M679 2296h8M465 2361h8M468 2398h8M694 2272h8M757 2362h8M477 2425h8M476 2300h8M657 2285h8M511 2295h8M472 2414h8M473 2364h8M669 2293h8M699 2435h8M759 2325h8M576 2282h8M716 2280h8M729 2315h8M778 2358h8M688 2287h8M512 2424h8M572 2265h8M749 2352h8M799 2292h8M498 2276h8M678 2289h8M744 2307h8M462 2327h8M465 2379h8M510 2428h8M652 2426h8M525 2429h8M670 2433h8M528 2283h8M638 2263h8M749 2326h8M728 2352h8M513 2285h8M732 2299h8M657 2267h8M766 2309h8M489 2312h8M774 2370h8M461 2337h8M506 2272h8M465 2332h8M821 2369h8M463 2306h8M729 2368h8M735 2410h8M604 2458h8M766 2336h8M725 2379h8M644 2287h8M473 2320h8M688 2291h8M462 2408h8M623 2244h8M698 2286h8M706 2321h8M679 2251h8M663 2280h8M736 2323h8M546 2267h8M741 2347h8M467 2325h8M785 2360h8M464 2357h8M628 2437h8M700 2451h8M460 2303h8M569 2261h8M492 2393h8M735 2377h8M682 2285h8M661 2259h8M524 2292h8M719 2319h8M673 2244h8M693 2433h8M705 2433h8M475 2395h8M565 2433h8M470 2337h8M630 2429h8M638 2271h8M636 2283h8M461 2361h8M702 2412h8M464 2396h8M485 2323h8M483 2393h8M789 2310h8M673 2273h8M731 2322h8M465 2391h8M568 2261h8M622 2433h8M470 2292h8M747 2348h8M758 2408h8M664 2294h8M603 2269h8M480 2397h8M664 2453h8M495 2434h8M537 2428h8M606 2459h8M462 2296h8M732 2327h8M515 2445h8M490 2406h8M703 2292h8M460 2363h8M594 2476h8M490 2291h8M470 2362h8M486 2322h8M470 2291h8M460 2396h8M465 2419h8M460 2426h8M548 2438h8M741 2336h8M502 2293h8M615 2446h8M763 2251h8M478 2385h8M463 2352h8M732 2383h8M463 2394h8M711 2225h8M620 2434h8M469 2419h8M709 2292h8M719 2318h8M465 2384h8M623 2256h8M719 2383h8M491 2393h8M524 2459h8M620 2452h8M658 2429h8M603 2268h8M572 2437h8M734 2371h8M727 2411h8M662 2435h8M462 2345h8M502 2463h8M483 2307h8M556 2430h8M743 2334h8M464 2385h8M560 2431h8M664 2474h8M461 2323h8M733 2393h8M463 2361h8M744 2309h8M766 2400h8M525 2245h8M510 2267h8M602 2261h8M517 2291h8M491 2408h8M620 2260h8M733 2327h8M628 2238h8M582 2433h8M464 2344h8M709 2432h8M560 2275h8M489 2410h8M693 2436h8M493 2303h8M703 2288h8M771 2356h8M491 2300h8M522 2429h8M693 2441h8M602 2270h8M593 2432h8M738 2306h8M461 2355h8M733 2328h8M461 2398h8M544 2441h8M584 2258h8M574 2435h8M490 2314h8M486 2308h8M707 2310h8M505 2413h8M465 2432h8M634 2436h8M490 2435h8M644 2433h8M462 2301h8M651 2431h8M708 2317h8M503 2305h8M463 2344h8M740 2349h8M732 2435h8M488 2322h8M511 2412h8M539 2286h8M528 2421h8M700 2425h8M729 2300h8M729 2410h8M711 2295h8M790 2318h8M471 2389h8M698 2405h8M681 2290h8M711 2402h8M736 2347h8M463 2415h8M743 2345h8M661 2267h8M474 2335h8M550 2442h8M467 2303h8M676 2421h8M609 2437h8M461 2395h8M460 2406h8M618 2471h8M549 2272h8M620 2278h8M461 2318h8M610 2430h8M682 2272h8M704 2278h8M478 2435h8M460 2323h8M487 2290h8M738 2413h8M671 2442h8M470 2430h8M461 2315h8M647 2268h8M613 2435h8M710 2457h8M494 2460h8M732 2395h8M617 2266h8M512 2433h8M710 2306h8M497 2278h8M663 2421h8M671 2432h8M576 2435h8M741 2318h8M460 2297h8M699 2401h8M719 2371h8M684 2420h8M730 2332h8M498 2429h8M732 2285h8M638 2456h8M482 2395h8M502 2310h8M655 2282h8M794 2398h8M480 2401h8M463 2340h8M672 2281h8M481 2286h8M791 2339h8M466 2304h8M460 2348h8M721 2348h8M705 2269h8M651 2280h8M652 2437h8M694 2430h8M788 2387h8M464 2336h8M724 2361h8M474 2370h8M649 2423h8M577 2238h8M668 2428h8M563 2270h8M576 2433h8M508 2419h8M611 2274h8M744 2348h8M463 2317h8M713 2382h8M735 2327h8M689 2427h8M725 2324h8M472 2330h8M674 2460h8M786 2368h8M531 2454h8M732 2317h8M631 2248h8M734 2309h8M654 2427h8M619 2244h8M734 2376h8M676 2416h8M746 2344h8M664 2251h8M464 2318h8M480 2400h8M474 2328h8M776 2395h8M524 2294h8M719 2307h8M461 2292h8M467 2398h8M662 2281h8M594 2488h8M737 2353h8M532 2423h8M514 2426h8M779 2276h8M655 2439h8M529 2264h8M749 2333h8M711 2409h8M464 2345h8M727 2311h8M718 2384h8M626 2271h8M470 2355h8M521 2455h8M738 2286h8M645 2448h8M479 2388h8M650 2423h8M465 2374h8M655 2256h8M717 2312h8M463 2340h8M579 2440h8M727 2368h8M486 2435h8M635 2472h8M461 2357h8M746 2314h8M464 2393h8M654 2431h8M509 2425h8M542 2425h8M718 2290h8M676 2292h8M528 2429h8M465 2336h8M461 2317h8M470 2384h8M735 2325h8M691 2433h8M698 2416h8M603 2455h8M498 2293h8M509 2290h8M510 2436h8M467 2349h8M651 2288h8M599 2435h8M569 2265h8M753 2300h8M462 2312h8M760 2395h8M517 2247h8M559 2272h8M560 2274h8M492 2397h8M572 2467h8M688 2408h8M706 2312h8M704 2301h8M556 2478h8M573 2430h8M659 2264h8M475 2382h8M650 2280h8M465 2315h8M705 2404h8M662 2287h8M735 2397h8M483 2307h8M472 2429h8M505 2304h8M596 2281h8M757 2400h8M509 2244h8M588 2283h8M627 2457h8M601 2263h8M709 2432h8M731 2341h8M465 2405h8M465 2368h8M672 2423h8M470 2308h8M628 2279h8M570 2437h8M465 2403h8M461 2407h8M654 2446h8M464 2362h8M485 2310h8M696 2430h8M471 2327h8M666 2230h8M648 2453h8M564 2428h8M514 2453h8M724 2283h8M747 2390h8M471 2378h8M722 2405h8M662 2433h8M686 2294h8M461 2392h8M667 2278h8M484 2328h8M461 2308h8M461 2337h8M550 2275h8M721 2407h8M685 2413h8M461 2338h8M463 2321h8M464 2378h8M759 2347h8M480 2403h8M605 2462h8M710 2394h8M747 2336h8M701 2408h8M672 2437h8M730 2394h8M704 2304h8M720 2294h8M644 2285h8M750 2349h8M700 2403h8M465 2414h8M636 2473h8M601 2282h8M684 2411h8M561 2434h8M739 2294h8M461 2303h8M529 2290h8M465 2258h8M731 2418h8M463 2375h8M689 2300h8M470 2379h8M466 2310h8M730 2400h8M713 2268h8M683 2442h8M767 2363h8M651 2276h8M583 2446h8M738 2330h8M611 2264h8M692 2274h8M616 2435h8M570 2252h8M545 2276h8M747 2333h8M581 2280h8M529 2436h8M728 2409h8M676 2295h8M610 2256h8M692 2270h8M695 2281h8M482 2389h8M474 2291h8M645 2437h8M716 2249h8M465 2410h8M704 2294h8M644 2274h8M523 2437h8M553 2285h8M665 2450h8M553 2273h8M735 2336h8M592 2259h8M624 2457h8M653 2434h8M631 2270h8M772 2402h8M723 2372h8M484 2317h8M508 2300h8M535 2434h8M478 2385h8M547 2279h8M720 2334h8M463 2289h8M530 2295h8M626 2462h8M519 2433h8M704 2304h8M504 2422h8M731 2325h8M743 2304h8M463 2390h8M743 2332h8M461 2341h8M469 2260h8M662 2438h8M641 2277h8M539 2426h8M575 2439h8M726 2351h8M573 2264h8M511 2247h8M660 2447h8M733 2385h8M679 2453h8M720 2390h8M472 2443h8M685 2296h8M730 2350h8M742 2304h8M692 2291h8M473 2300h8M707 2317h8M480 2410h8M752 2369h8M625 2271h8M481 2383h8M583 2251h8M464 2423h8M674 2293h8M763 2356h8M737 2410h8M600 2265h8M740 2342h8M471 2294h8M464 2379h8M535 2284h8M462 2391h8M462 2306h8M467 2393h8M677 2271h8M616 2467h8M462 2317h8M714 2312h8M728 2291h8M723 2380h8M697 2304h8M715 2404h8M495 2443h8M768 2330h8M524 2272h8M512 2425h8M475 2354h8M518 2270h8M581 2433h8M490 2312h8M523 2258h8M464 2329h8M627 2434h8M524 2426h8M600 2241h8M474 2380h8M649 2272h8M605 2271h8M701 2415h8M604 2271h8M687 2458h8M517 2439h8M571 2475h8M535 2423h8M493 2409h8M782 2316h8M696 2470h8M731 2405h8M499 2438h8M705 2415h8M522 2435h8M700 2313h8M486 2392h8M464 2382h8M486 2311h8M466 2386h8M466 2400h8M650 2287h8M605 2263h8M464 2348h8M642 2439h8M526 2439h8M732 2324h8M659 2452h8M804 2411h8M562 2428h8M691 2411h8M465 2372h8M778 2369h8M738 2307h8M533 2464h8M616 2448h8M520 2294h8M775 2335h8M485 2392h8M648 2461h8M489 2269h8M672 2264h8M635 2431h8M612 2283h8M559 2430h8M470 2402h8M482 2423h8M612 2271h8M517 2282h8M517 2424h8M628 2255h8M576 2454h8M462 2354h8M464 2343h8M462 2404h8M692 2408h8M470 2346h8M535 2431h8M733 2391h8M576 2233h8M466 2379h8M569 2428h8M530 2280h8M637 2285h8M735 2322h8M462 2325h8M513 2302h8M727 2360h8M642 2428h8M579 2265h8M462 2329h8M522 2267h8M504 2308h8M752 2294h8M598 2280h8M461 2309h8M719 2408h8M749 2379h8M731 2427h8M643 2282h8M526 2282h8M551 2432h8M765 2299h8M753 2401h8M701 2411h8M741 2397h8M695 2418h8M788 2402h8M465 2336h8M673 2280h8M526 2425h8M729 2447h8M461 2337h8M688 2295h8M559 2280h8M478 2401h8M462 2340h8M665 2454h8M555 2453h8M758 2325h8M512 2287h8M670 2424h8M693 2268h8M679 2430h8M633 2282h8M746 2310h8M500 2310h8M674 2262h8M741 2372h8M563 2256h8M465 2418h8M510 2288h8M742 2418h8M669 2277h8M487 2304h8M466 2319h8M683 2411h8M596 2253h8M569 2456h8M511 2288h8M652 2266h8M653 2422h8M705 2315h8M735 2374h8M691 2269h8M463 2360h8M495 2291h8M541 2286h8M750 2307h8M740 2313h8M533 2453h8M462 2322h8M607 2465h8M651 2275h8M527 2260h8M638 2262h8M517 2295h8M462 2375h8M468 2341h8M706 2449h8M819 2386h8M547 2454h8M705 2422h8M741 2371h8M744 2360h8M735 2395h8M621 2267h8M546 2441h8M593 2459h8M713 2468h8M678 2447h8M794 2355h8M764 2308h8M769 2346h8M735 2356h8M492 2400h8M744 2430h8M733 2412h8M690 2290h8M641 2282h8M705 2460h8M578 2442h8M464 2410h8M700 2397h8M578 2447h8M746 2280h8M640 2434h8M733 2372h8M526 2291h8M705 2310h8M473 2328h8M529 2291h8M500 2428h8M731 2360h8M727 2353h8M462 2425h8M748 2427h8M736 2388h8M738 2354h8M477 2304h8M733 2389h8M674 2437h8M726 2439h8M597 2280h8M562 2276h8M731 2333h8M564 2275h8M657 2429h8M673 2284h8M478 2449h8M547 2259h8M516 2268h8M479 2426h8M736 2308h8M654 2423h8M750 2330h8M725 2305h8M806 2359h8M633 2450h8M795 2351h8M582 2275h8M481 2336h8M620 2438h8M677 2283h8M657 2267h8M596 2458h8M676 2419h8M579 2435h8M548 2248h8M595 2281h8M720 2294h8M744 2406h8M715 2326h8M743 2366h8M468 2321h8M525 2288h8M488 2313h8M660 2446h8M712 2446h8M510 2407h8M606 2436h8M483 2394h8M470 2296h8M461 2390h8M513 2428h8M545 2462h8M647 2273h8M555 2452h8M726 2279h8M576 2434h8M523 2279h8M465 2347h8M705 2402h8M598 2439h8M472 2297h8M471 2291h8M609 2280h8M660 2425h8M625 2435h8M465 2322h8M524 2414h8M679 2442h8M722 2424h8M578 2271h8M682 2476h8M485 2292h8M646 2246h8M471 2378h8M463 2342h8M557 2440h8M474 2309h8M616 2436h8M484 2390h8M796 2400h8M547 2279h8M648 2434h8M781 2376h8M740 2301h8M675 2240h8M467 2300h8M593 2282h8M689 2408h8M733 2407h8M684 2301h8M482 2286h8M595 2274h8M621 2433h8M648 2281h8M730 2407h8M663 2464h8M594 2455h8M609 2269h8M555 2276h8M461 2341h8M465 2430h8M669 2420h8M663 2446h8M587 2261h8M766 2386h8M788 2342h8M488 2312h8M541 2446h8M461 2310h8M462 2323h8M698 2416h8M507 2276h8M654 2425h8M600 2429h8M547 2286h8M609 2432h8M824 2371h8M650 2286h8M508 2299h8M680 2273h8M664 2435h8M651 2247h8M538 2275h8M726 2386h8M781 2357h8M745 2366h8M658 2251h8M555 2283h8M487 2282h8M697 2424h8M479 2291h8M543 2291h8M572 2437h8M534 2279h8M780 2413h8M461 2319h8M464 2357h8M751 2355h8M639 2282h8M632 2273h8M487 2308h8M483 2324h8M484 2453h8M627 2253h8M761 2305h8M472 2331h8M464 2400h8M556 2444h8M550 2287h8M724 2386h8M540 2252h8M635 2258h8M462 2335h8M541 2260h8M701 2439h8M746 2294h8M635 2268h8M729 2390h8M502 2279h8M747 2395h8M749 2393h8M670 2287h8M727 2314h8M732 2375h8M467 2416h8M701 2289h8M462 2363h8M465 2371h8M690 2287h8M478 2450h8M523 2251h8M598 2457h8M536 2270h8M711 2395h8M679 2451h8M550 2478h8M512 2457h8M463 2387h8M509 2298h8M609 2264h8M545 2274h8M721 2328h8M466 2329h8M637 2457h8M462 2386h8M749 2394h8M663 2292h8M613 2443h8M542 2285h8M503 2412h8M622 2444h8M468 2394h8M488 2422h8M464 2323h8M465 2333h8M555 2428h8M509 2295h8M623 2270h8M683 2285h8M621 2276h8M466 2356h8M715 2318h8M550 2459h8M494 2298h8M641 2277h8M508 2409h8M804 2341h8M471 2361h8M682 2277h8M739 2362h8M705 2312h8M533 2286h8M582 2465h8M682 2469h8M509 2292h8M559 2438h8M634 2237h8M495 2422h8M584 2273h8M543 2425h8M461 2351h8M704 2399h8M646 2275h8M474 2343h8M568 2251h8M677 2431h8M599 2439h8M729 2336h8M468 2352h8M466 2331h8M701 2311h8M564 2440h8M463 2314h8M466 2317h8M538 2443h8M680 2273h8M627 2436h8M554 2444h8M542 2451h8M733 2343h8M880 2310h8M762 2404h8M748 2326h8M834 2285h8M882 2436h8M825 2341h8M743 2376h8M749 2395h8M741 2384h8M841 2394h8M741 2467h8M830 2266h8M729 2407h8M753 2369h8M748 2375h8M827 2405h8M806 2313h8M730 2500h8M811 2348h8M788 2389h8M734 2349h8M789 2443h8M783 2413h8M776 2370h8M827 2376h8M819 2416h8M767 2372h8M742 2417h8M738 2406h8M853 2318h8M809 2334h8M837 2272h8M803 2446h8M898 2368h8M842 2391h8M778 2400h8M761 2235h8M876 2302h8M848 2365h8M835 2375h8M869 2387h8M739 2261h8M832 2291h8M736 2355h8M761 2335h8M773 2196h8M791 2363h8M840 2374h8M792 2299h8M865 2289h8M764 2350h8M879 2363h8M882 2343h8M755 2372h8M831 2359h8M799 2455h8M825 2756h8M696 2979h8M639 2965h8M748 2963h8M693 2754h8M697 2988h8M613 2778h8M721 2711h8M659 2731h8M547 2910h8M527 2907h8M581 2969h8M704 2925h8M720 2952h8M737 2824h8M843 2904h8M733 2911h8M724 2808h8M609 3012h8M465 2750h8M529 2942h8M731 2894h8M657 2755h8M543 2893h8M622 3012h8M746 2963h8M527 2823h8M842 2887h8M460 2872h8M534 2810h8M808 2783h8M730 2880h8M539 2875h8M657 2936h8M707 2929h8M712 2929h8M518 2884h8M778 2874h8M541 2916h8M728 2812h8M790 2873h8M659 2994h8M765 2795h8M525 2875h8M612 2758h8M579 2789h8M735 2801h8M809 2886h8M638 2745h8M657 2972h8M525 2957h8M702 2929h8M551 2764h8M749 2786h8M460 2952h8M600 2802h8M637 3000h8M729 2937h8M613 2767h8M567 2968h8M542 2786h8M713 2808h8M730 2817h8M466 2894h8M657 2768h8M691 2758h8M493 2862h8M710 2820h8M725 2970h8M551 2941h8M673 2987h8M656 2739h8M528 2948h8M471 2867h8M611 2786h8M463 2941h8M732 2957h8M633 2735h8M753 2901h8M696 2749h8M516 2842h8M774 2904h8M690 2963h8M686 2948h8M647 2706h8M758 3014h8M807 2929h8M532 3007h8M582 2741h8M460 2878h8M653 2689h8M619 2750h8M709 2784h8M722 2831h8M734 2884h8M713 2973h8M668 2800h8M515 2839h8M733 2764h8M630 2772h8M536 2964h8M538 2767h8M462 2902h8M620 2760h8M707 3001h8M823 2815h8M818 2904h8M519 2792h8M776 2897h8M549 2968h8M481 2929h8M776 2863h8M732 2787h8M584 2758h8M641 3011h8M564 2787h8M573 2785h8M539 2761h8M538 2901h8M727 2879h8M754 2794h8M741 2820h8M658 2949h8M617 2732h8M473 2829h8M558 2794h8M690 2989h8M736 2688h8M841 2851h8M530 2891h8M597 2743h8M768 2932h8M478 2848h8M766 2803h8M513 2901h8M484 2900h8M660 3014h8M650 2972h8M717 2841h8M804 2766h8M540 2790h8M463 2929h8M681 3010h8M552 2797h8M603 2744h8M512 2721h8M528 2939h8M548 2733h8M497 2837h8M510 2797h8M649 2784h8M603 3010h8M561 2928h8M672 3013h8M465 2784h8M770 2895h8M674 2769h8M657 2704h8M580 2798h8M753 2797h8M555 2812h8M666 2772h8M600 2991h8M718 2913h8M545 2860h8M557 2755h8M461 2837h8M744 2926h8M564 2764h8M514 2817h8M728 2883h8M524 2758h8M726 2743h8M696 2817h8M588 2791h8M566 2919h8M603 2975h8M595 2764h8M666 2692h8M778 2850h8M753 2896h8M665 2715h8M566 2797h8M528 2838h8M760 2823h8M777 3010h8M597 2749h8M673 2995h8M772 2850h8M668 2800h8M683 2776h8M747 2921h8M538 2796h8M689 2804h8M639 3007h8M696 2919h8M541 2933h8M594 2985h8M757 2832h8M518 2887h8M714 2836h8M698 2939h8M717 2868h8M619 2746h8M575 2775h8M516 2901h8M746 2838h8M737 2781h8M697 2792h8M461 2914h8M748 2918h8M594 2946h8M763 2910h8M574 2957h8M593 2962h8M543 2768h8M465 2814h8M547 2977h8M562 2886h8M764 2981h8M738 2886h8M463 2880h8M517 2989h8M778 2809h8M666 2954h8M537 2874h8M557 2920h8M611 2686h8M770 2805h8M506 2845h8M730 2895h8M723 2802h8M464 2930h8M729 2785h8M647 2998h8M632 2935h8M697 2781h8M558 2742h8M730 2886h8M776 3003h8M672 2981h8M535 2954h8M655 2966h8M656 2933h8M500 2852h8M711 2787h8M776 2837h8M909 2832h8M852 2789h8M612 2999h8M650 2986h8M665 2703h8M695 2785h8M799 2865h8M772 2911h8M606 2960h8M525 2809h8M714 2793h8M628 2716h8M533 2832h8M781 2756h8M553 3012h8M663 3010h8M767 2873h8M558 2955h8M716 2947h8M663 2781h8M564 2909h8M775 2915h8M500 2795h8M709 2764h8M671 3001h8M581 2761h8M526 2857h8M700 2947h8M723 2778h8M646 2756h8M806 2898h8M642 3011h8M685 2734h8M714 2778h8M708 2793h8M492 2947h8M464 2818h8M628 2760h8M683 2967h8M829 2781h8M731 2939h8M535 2924h8M728 2737h8M514 2880h8M639 2775h8M490 2918h8M831 2890h8M643 2745h8M764 2841h8M739 2883h8M475 2820h8M527 2917h8M775 2957h8M725 2870h8M538 2923h8M724 2932h8M521 2985h8M788 2919h8M490 2855h8M723 2954h8M463 2876h8M503 2869h8M808 2862h8M594 2744h8M497 2960h8M513 2766h8M734 2805h8M777 2831h8M664 2997h8M556 2778h8M549 2926h8M574 2973h8M730 2936h8M695 2622h8M708 2955h8M714 2804h8M771 2871h8M609 2980h8M711 2976h8M686 2745h8M578 2991h8M719 2895h8M633 2759h8M623 2995h8M784 2881h8M619 2968h8M491 2799h8M840 2833h8M803 2867h8M529 2896h8M707 2924h8M496 2894h8M551 2821h8M544 2818h8M574 2996h8M717 2903h8M656 2732h8M644 3013h8M635 2978h8M559 2773h8M681 2784h8M762 2875h8M746 2822h8M711 2869h8M520 2849h8M461 2853h8M737 2990h8M763 2829h8M741 2774h8M600 2925h8M556 2871h8M837 2934h8M471 2872h8M748 2853h8M771 2896h8M751 2935h8M744 2818h8M515 2887h8M635 2950h8M697 2959h8M490 2895h8M540 2756h8M706 2907h8M717 2937h8M746 2891h8M506 2840h8M518 2894h8M783 2860h8M560 2918h8M697 3003h8M462 2947h8M500 2736h8M733 2915h8M570 2777h8M828 2909h8M588 2996h8M731 2830h8M583 2724h8M509 2792h8M589 2766h8M663 2942h8M695 2923h8M632 2750h8M640 2777h8M616 2802h8M656 2983h8M720 2885h8M651 2797h8M829 2899h8M791 2972h8M697 2724h8M849 2778h8M756 2783h8M623 2975h8M550 2800h8M615 2709h8M551 2921h8M511 2827h8M768 2883h8M700 2926h8M626 2959h8M513 2792h8M769 2785h8M547 2887h8M588 2790h8M695 2934h8M638 2741h8M481 2847h8M546 2987h8M523 2801h8M676 2783h8M633 2774h8M509 2883h8M711 2801h8M629 3010h8M613 2953h8M465 2918h8M683 2965h8M552 2765h8M651 2957h8M558 2953h8M708 2905h8M575 2731h8M556 2927h8M720 2890h8M775 2874h8M739 2802h8M707 2769h8M651 2757h8M701 2772h8M554 2741h8M552 2926h8M562 3014h8M782 2931h8M556 2995h8M481 2784h8M633 2963h8M568 2767h8M592 2780h8M560 2851h8M462 2847h8M712 2792h8M695 2804h8M603 3003h8M779 2884h8M595 2736h8M731 2942h8M510 2949h8M592 2806h8M523 2828h8M694 2795h8M470 2861h8M631 2939h8M661 2956h8M461 2798h8M754 3014h8M577 2936h8M776 2835h8M485 2898h8M520 2868h8M617 2687h8M782 2930h8M723 2923h8M506 2929h8M525 2766h8M573 2814h8M653 2732h8M741 2832h8M541 2852h8M577 2944h8M772 2824h8M727 2918h8M765 2920h8M682 2921h8M589 2785h8M535 2774h8M678 2745h8M640 2789h8M597 2749h8M742 2807h8M492 2887h8M462 2898h8M752 2804h8M623 2790h8M531 2965h8M477 2880h8M610 2968h8M775 2822h8M739 2783h8M515 2878h8M522 2753h8M587 2925h8M524 2840h8M570 2941h8M548 2999h8M514 2781h8M749 2832h8M756 2839h8M651 2940h8M532 2853h8M619 2745h8M629 2937h8M683 2933h8M611 2936h8M759 2922h8M506 2882h8M724 2901h8M574 2974h8M701 2905h8M591 3006h8M683 2962h8M727 2808h8M708 2913h8M517 2862h8M681 2738h8M820 2884h8M614 2719h8M586 2954h8M596 2720h8M701 2983h8M727 2874h8M587 2946h8M589 3010h8M544 2805h8M547 2713h8M587 2734h8M671 2790h8M695 2944h8M751 3000h8M605 2992h8M780 2895h8M497 2871h8M526 2900h8M675 2711h8M562 2933h8M474 2985h8M710 2945h8M647 2963h8M715 2892h8M462 2845h8M517 2831h8M731 2841h8M704 2811h8M464 2984h8M534 2893h8M720 2951h8M592 2954h8M758 2859h8M637 2976h8M767 2908h8M741 2810h8M762 2789h8M784 2851h8M505 2898h8M531 2782h8M513 2944h8M720 2905h8M631 3003h8M573 2703h8M469 2772h8M672 2991h8M661 2982h8M819 2801h8M739 2902h8M806 2853h8M816 2856h8M710 2902h8M510 2911h8M750 2834h8M774 2817h8M615 2936h8M469 2816h8M520 2922h8M721 2974h8M568 2810h8M699 2726h8M731 2822h8M755 2929h8M793 2923h8M655 2988h8M731 2958h8M646 2946h8M460 2805h8M550 2902h8M489 2815h8M502 2881h8M490 2814h8M557 2987h8M492 2815h8M635 2765h8M632 3009h8M556 2932h8M686 2775h8M656 2782h8M786 2911h8M570 2803h8M604 2782h8M727 2772h8M729 2798h8M527 2917h8M657 2954h8M627 2774h8M715 2737h8M697 2814h8M822 2842h8M548 2810h8M530 2941h8M542 2927h8M543 2847h8M742 2823h8M529 2921h8M700 2948h8M498 2739h8M561 2826h8M739 2893h8M586 2963h8M550 2922h8M538 2974h8M648 2771h8M529 2827h8M585 2785h8M559 2804h8M518 2832h8M533 2892h8M483 2940h8M514 2805h8M554 2946h8M550 2931h8M505 2849h8M540 2901h8M465 2749h8M561 2797h8M587 2981h8M610 2980h8M552 2892h8M550 2811h8M503 2967h8M542 2815h8M565 2931h8M734 2821h8M561 2926h8M533 2775h8M510 2824h8M844 2934h8M499 2965h8M725 2781h8M510 2865h8M562 2942h8M517 2790h8M552 2957h8M640 3013h8M756 2872h8M779 2927h8M747 2817h8M778 2875h8M533 2912h8M716 2936h8M624 2950h8M596 2928h8M765 3014h8M584 2926h8M710 2848h8M586 2959h8M566 2946h8M548 2842h8M475 2903h8M844 2938h8M540 2821h8M542 2849h8M620 2791h8M562 2987h8M547 2899h8M685 2946h8M708 2774h8M719 2862h8M466 2984h8M713 2862h8M670 2807h8M724 2939h8M566 2763h8M554 2881h8M610 3011h8M465 2780h8M482 2848h8M789 2855h8M541 2783h8M676 2988h8M609 2779h8M764 2885h8M752 2843h8M643 2997h8M553 2799h8M617 2939h8M540 2908h8M523 2826h8M802 2927h8M500 2846h8M573 2943h8M524 2891h8M730 2806h8M596 2755h8M523 2909h8M658 2763h8M715 2911h8M798 2841h8M515 2761h8M552 2770h8M501 2896h8M721 2812h8M721 2921h8M718 2826h8M579 2978h8M604 2757h8M625 2787h8M575 2790h8M662 2751h8M550 2826h8M477 2883h8M765 2910h8M615 2771h8M560 2950h8M610 2763h8M786 2949h8M789 2897h8M470 2867h8M631 2779h8M588 2927h8M562 2797h8M632 2750h8M478 2928h8M746 2908h8M788 2989h8M686 2750h8M486 2928h8M614 2775h8M516 2792h8M718 2901h8M461 2806h8M767 2860h8M520 2963h8M509 2877h8M562 2797h8M616 2984h8M523 2787h8M472 2927h8M515 2896h8M639 2728h8M592 2929h8M795 2834h8M810 2918h8M502 2726h8M529 2878h8M809 2896h8M611 2790h8M463 2781h8M530 2906h8M498 3002h8M660 2779h8M569 2712h8M647 2744h8M571 2957h8M795 2918h8M613 2788h8M662 2730h8M680 2970h8M499 2906h8M658 2930h8M627 2979h8M807 2951h8M633 2753h8M482 2900h8M684 2730h8M777 2746h8M494 2957h8M766 2727h8M554 2928h8M511 2926h8M667 2961h8M759 2723h8M711 2855h8M513 2850h8M583 2975h8M621 2958h8M731 2960h8M551 2731h8M563 2780h8M561 3010h8M685 2954h8M745 2770h8M482 2741h8M596 2696h8M822 2824h8M741 2883h8M548 2944h8M484 2935h8M619 2744h8M588 2791h8M502 3014h8M772 2821h8M687 3009h8M660 2763h8M675 2977h8M808 2746h8M524 2855h8M698 2986h8M589 2939h8M684 2999h8M604 2991h8M682 3014h8M707 2789h8M731 2949h8M710 2966h8M719 2859h8M715 2945h8M761 2949h8M554 2948h8M691 2936h8M823 2843h8M577 2924h8M732 2847h8M860 2931h8M728 2930h8M531 2895h8M499 2884h8M516 2880h8M713 2904h8M670 2989h8M724 2830h8M760 2931h8M632 2999h8M631 2763h8M743 2810h8M715 2877h8M600 2943h8M528 2822h8M595 2762h8M541 2700h8M506 2868h8M806 2812h8M468 2890h8M753 2898h8M499 2893h8M734 2832h8M736 2859h8M657 3013h8M697 2702h8M605 2724h8M551 2816h8M681 2760h8M629 2756h8M662 2694h8M775 2761h8M460 2904h8M545 2830h8M674 2804h8M528 2930h8M587 2980h8M601 2940h8M520 2839h8M592 3015h8M525 3013h8M554 2872h8M720 2781h8M513 2992h8M720 2937h8M662 2979h8M520 2946h8M608 2741h8M715 2900h8M523 2879h8M624 2769h8M728 2889h8M775 2916h8M632 2742h8M538 2835h8M534 2721h8M540 2955h8M645 2790h8M588 2771h8M697 2921h8M466 2723h8M743 2844h8M524 2951h8M546 3009h8M637 2944h8M618 2957h8M517 2849h8M507 2790h8M746 2958h8M632 2761h8M562 2884h8M565 2978h8M723 2914h8M511 2821h8M465 2899h8M763 2865h8M782 2796h8M734 2833h8M474 2778h8M670 2969h8M522 2794h8M770 2822h8M654 2989h8M678 2981h8M757 2918h8M643 2994h8M741 2860h8M491 2874h8M530 2840h8M611 2778h8M510 2879h8M588 2919h8M622 2962h8M804 2960h8M530 2856h8M540 2902h8M716 2859h8M503 2946h8M870 3015h8M537 2847h8M551 2907h8M749 2866h8M616 2952h8M718 2971h8M758 2769h8M785 2865h8M672 2737h8M669 2764h8M665 2968h8M728 2897h8M521 2898h8M599 2992h8M570 2784h8M586 3000h8M782 2912h8M602 3013h8M552 2948h8M660 2717h8M682 2716h8M658 2940h8M547 2951h8M724 2916h8M507 2886h8M620 2779h8M540 2827h8M705 2932h8M571 2779h8M757 2862h8M728 2826h8M766 2913h8M756 2965h8M540 2929h8M503 2747h8M748 2918h8M575 2769h8M740 2888h8M732 2940h8M765 2856h8M492 2842h8M790 2832h8M729 2930h8M490 2830h8M743 2814h8M472 2932h8M504 2903h8M587 2972h8M531 2943h8M746 2748h8M713 2930h8M599 2917h8M737 2853h8M555 2944h8M527 2721h8M631 2741h8M512 2870h8M737 2818h8M646 2948h8M687 2785h8M731 2950h8M643 2981h8M784 2861h8M761 3010h8M711 2725h8M769 2806h8M493 2954h8M728 2822h8M786 2735h8M597 2767h8M555 2834h8M602 2990h8M671 3013h8M682 2752h8M577 3005h8M730 2913h8M645 2985h8M668 2746h8M557 2963h8M533 2802h8M611 2730h8M623 2981h8M474 2812h8M535 2823h8M506 2858h8M564 2791h8M665 2732h8M557 2794h8M709 2733h8M682 2942h8M726 2932h8M736 2851h8M570 2948h8M721 2908h8M580 2764h8M564 2687h8M664 2998h8M624 2756h8M574 2933h8M568 2726h8M677 2909h8M596 2749h8M687 2753h8M485 2975h8M461 2836h8M781 2843h8M529 2908h8M602 3015h8M726 2776h8M495 2842h8M799 2836h8M649 2765h8M557 2845h8M704 2920h8M706 2939h8M765 2741h8M519 2779h8M546 2755h8M653 2798h8M734 2727h8M731 2859h8M531 2755h8M650 2699h8M604 2957h8M506 3012h8M563 2955h8M505 2841h8M586 2949h8M603 2966h8M577 2782h8M678 2989h8M700 2734h8M802 2896h8M755 2898h8M710 2910h8M579 2714h8M571 2946h8M717 2759h8M758 2756h8M561 2902h8M673 2766h8M714 2830h8M786 2847h8M705 2752h8M808 2983h8M734 2768h8M541 2838h8M726 2914h8M744 2942h8M662 2759h8M782 2864h8M556 2941h8M722 2828h8M674 2927h8M462 2921h8M776 2832h8M584 2776h8M520 2768h8M618 2939h8M776 3001h8M568 2951h8M724 2981h8M507 2891h8M515 2920h8M785 2761h8M637 2954h8M562 2769h8M589 2767h8M601 2993h8M750 2810h8M566 2815h8M629 2781h8M649 3012h8M658 2983h8M756 2907h8M615 2780h8M557 2769h8M507 2782h8M721 2808h8M472 2769h8M572 2807h8M812 2856h8M518 2862h8M507 2836h8M669 2926h8M506 2814h8M572 2932h8M772 2854h8M464 2805h8M566 2770h8M645 2990h8M503 2919h8M719 2746h8M688 2944h8M758 2891h8M715 2808h8M601 2749h8M596 2997h8M462 2837h8M560 2787h8M732 2903h8M734 2791h8M605 2920h8M635 2956h8M628 2728h8M810 2946h8M648 2759h8M461 2808h8M666 2696h8M460 2907h8M848 2841h8M731 2863h8M496 2863h8M813 2881h8M511 2851h8M703 3013h8M740 2901h8M516 2866h8M738 2799h8M693 2934h8M545 2736h8M461 2794h8M694 2767h8M718 2792h8M544 2868h8M745 2966h8M666 2962h8M517 2863h8M777 2881h8M646 2798h8M782 2845h8M556 2816h8M721 2915h8M521 2846h8M689 2971h8M652 2940h8M706 2887h8M739 2888h8M688 2933h8M664 2806h8M564 2941h8M483 2867h8M678 2756h8M544 2856h8M713 2974h8M641 2756h8M606 2936h8M534 2889h8M649 3015h8M693 2962h8M703 2719h8M533 2843h8M567 2990h8M664 3013h8M482 2832h8M655 2742h8M502 2751h8M717 2696h8M565 2795h8M765 2758h8M568 2976h8M495 2742h8M571 2779h8M758 3014h8M740 2875h8M483 2780h8M607 2751h8M541 2885h8M617 2750h8M665 2961h8M623 2758h8M716 2800h8M776 2947h8M661 2778h8M512 2817h8M474 2935h8M672 2955h8M718 2761h8M787 2894h8M643 2782h8M534 2774h8M755 2770h8M742 2818h8M790 2920h8M548 2707h8M598 2919h8M720 2847h8M733 2760h8M609 3011h8M686 2983h8M776 3001h8M464 2877h8M649 2955h8M486 2764h8M581 2799h8M685 2940h8M643 2786h8M709 2784h8M781 2769h8M782 2726h8M501 2780h8M463 2954h8M465 2880h8M713 3005h8M629 2761h8M678 2726h8M510 2777h8M728 2895h8M487 2936h8M704 2989h8M624 2778h8M499 2890h8M507 2894h8M572 2925h8M727 2935h8M721 2764h8M804 2935h8M646 2968h8M795 2891h8M542 2794h8M515 2980h8M569 2995h8M650 2975h8M749 2945h8M565 2963h8M548 2920h8M576 2799h8M505 2787h8M679 2922h8M596 2798h8M621 2798h8M752 2871h8M560 3009h8M465 2909h8M509 2929h8M555 2864h8M568 2785h8M693 2979h8M677 2729h8M576 3004h8M476 2885h8M555 2811h8M526 2779h8M643 2968h8M688 2900h8M868 2870h8M764 2875h8M643 2676h8M493 2805h8M642 2951h8M565 2777h8M727 2818h8M530 2916h8M488 2829h8M531 2966h8M601 2948h8M598 2790h8M612 2977h8M558 2751h8M712 2863h8M544 2867h8M499 2793h8M762 2854h8M504 2760h8M548 2985h8M575 2774h8M829 2869h8M696 2694h8M615 3006h8M533 2906h8M522 2830h8M680 2985h8M569 2890h8M708 3014h8M521 3002h8M728 2745h8M518 2938h8M754 2862h8M541 2765h8M834 2888h8M597 2948h8M537 2756h8M684 2969h8M706 2818h8M548 2798h8M464 2874h8M530 2915h8M572 2780h8M497 2777h8M814 2820h8M741 2855h8M568 2935h8M835 2846h8M799 2898h8M461 2813h8M776 2914h8M527 2839h8M706 2943h8M624 2994h8M724 2934h8M510 2819h8M587 2776h8M659 2685h8M649 2777h8M506 3015h8M798 2749h8M540 2999h8M812 2835h8M776 2953h8M695 2918h8M518 2977h8M708 2927h8M634 2710h8M556 2789h8M498 2850h8M714 2952h8M513 2924h8M632 2786h8M513 2929h8M532 2835h8M559 2782h8M535 2802h8M667 2976h8M522 2848h8M494 2877h8M718 2742h8M800 2885h8M512 2759h8M641 3013h8M722 2831h8M736 2791h8M765 3011h8M683 2787h8M586 2783h8M727 2759h8M548 2924h8M563 2815h8M495 2747h8M540 2783h8M629 2941h8M754 2883h8M699 2971h8M711 2661h8M484 2781h8M726 2781h8M743 2815h8M498 2984h8M694 2815h8M488 2996h8M496 2846h8M475 2943h8M790 2900h8M534 2962h8M587 2989h8M545 2843h8M591 2753h8M462 2771h8M533 2900h8M511 2866h8M462 2929h8M529 2773h8M778 2774h8M774 2814h8M815 2937h8M523 2930h8M677 2981h8M592 2706h8M745 2864h8M499 2883h8M717 2904h8M705 2875h8M514 2792h8M546 2747h8M479 2877h8M644 2706h8M575 2996h8M650 2761h8M730 2919h8M730 2891h8M517 2781h8M739 2836h8M775 2894h8M705 2953h8M771 2749h8M658 3014h8M553 2888h8M533 2813h8M644 2728h8M648 2966h8M600 2978h8M464 2821h8M711 2818h8M558 2928h8M463 2964h8M560 2934h8M566 2704h8M592 2956h8M738 2948h8M735 2796h8M759 2798h8M644 2982h8M569 2978h8M482 2884h8M664 2714h8M610 2935h8M713 2755h8M776 2817h8M532 2852h8M684 2949h8M738 2945h8M590 2965h8M780 2796h8M593 2979h8M587 2937h8M789 2870h8M525 2968h8M639 2982h8M705 2830h8M621 3013h8M709 3001h8M499 2852h8M595 2992h8M748 2848h8M772 2730h8M603 2790h8M687 2931h8M701 2805h8M662 2971h8M556 2728h8M744 2852h8M520 2904h8M723 2767h8M738 2870h8M461 2997h8M546 2754h8M664 2704h8M575 2963h8M499 2720h8M538 2781h8M506 3012h8M730 2787h8M501 2758h8M624 2944h8M536 2745h8M666 2715h8M510 2748h8M678 3014h8M731 2949h8M758 2868h8M790 2859h8M695 2933h8M642 2752h8M843 2828h8M582 2718h8M569 2936h8M793 2715h8M591 2934h8M655 2735h8M705 2793h8M752 2840h8M658 2748h8M771 2875h8M503 2935h8M587 2697h8M600 2946h8M759 2875h8M629 2999h8M515 2910h8M564 2687h8M515 2909h8M774 2875h8M486 2895h8M713 2799h8M522 2943h8M551 2830h8M518 2803h8M487 2892h8M543 2983h8M595 2926h8M750 2790h8M765 2942h8M733 2847h8M623 2941h8M662 2979h8M487 2835h8M725 2952h8M529 2823h8M503 2913h8M750 2898h8M488 2845h8M675 2686h8M494 2936h8M728 2862h8M704 2808h8M610 2958h8M708 2787h8M607 2948h8M748 2885h8M708 2800h8M607 2677h8M564 2944h8M713 2753h8M493 2860h8M680 2781h8M702 2948h8M555 2799h8M749 2809h8M646 2945h8M556 2940h8M728 2791h8M718 2799h8M550 2765h8M771 2863h8M494 2953h8M700 2938h8M582 2759h8M555 2822h8M463 2916h8M651 2959h8M533 2992h8M482 2874h8M676 2922h8M531 2861h8M548 2729h8M496 2844h8M704 2850h8M783 2836h8M785 2744h8M544 2826h8M759 2878h8M746 2763h8M565 2955h8M538 2753h8M658 2957h8M546 2800h8M492 2941h8M579 2751h8M527 2802h8M544 2934h8M636 2676h8M697 2950h8M473 2772h8M660 2984h8M734 2879h8M591 2770h8M630 2956h8M585 2779h8M684 2956h8M615 2945h8M596 2801h8M749 2882h8M573 2947h8M756 2927h8M591 2954h8M502 2858h8M618 2710h8M540 2993h8M818 2891h8M719 2943h8M616 2790h8M575 2795h8M791 2870h8M671 2953h8M732 2869h8M860 2784h8M526 2738h8M679 2917h8M547 2789h8M538 2872h8M499 2893h8M520 2899h8M837 2911h8M462 2792h8M466 2838h8M595 2966h8M584 2919h8M697 2988h8M528 2782h8M518 2827h8M734 2697h8M512 2926h8M461 2826h8M520 2816h8M529 2968h8M808 2990h8M702 2887h8M509 2814h8M637 2684h8M702 2928h8M641 3014h8M577 2746h8M563 2722h8M499 2868h8M732 2877h8M558 2825h8M627 2945h8M518 2743h8M585 2952h8M600 2954h8M829 2850h8M756 2852h8M626 2670h8M533 2779h8M505 2794h8M526 2971h8M650 2949h8M618 2729h8M541 2781h8M682 2951h8M523 3012h8M732 2825h8M707 2958h8M476 2876h8M592 2947h8M769 2892h8M528 2883h8M526 2979h8M697 2764h8M556 2929h8M647 2932h8M487 2807h8M544 2793h8M560 2945h8M547 2926h8M793 2937h8M486 2692h8M707 2840h8M899 2822h8M717 2982h8M646 2745h8M791 2884h8M643 2724h8M470 2935h8M752 2796h8M610 3011h8M651 2973h8M546 2780h8M659 2770h8M741 2781h8M551 3010h8M548 2975h8M672 2730h8M463 2844h8M546 2968h8M750 2856h8M717 2922h8M489 2816h8M484 2859h8M863 2752h8M658 2765h8M551 2737h8M650 2957h8M603 2934h8M786 2922h8M575 3007h8M620 2799h8M843 2710h8M681 2815h8M531 2904h8M573 2919h8M600 2975h8M611 2794h8M543 2749h8M724 2906h8M788 2892h8M825 2953h8M744 2947h8M653 3009h8M736 2949h8M712 2753h8M504 2928h8M680 2971h8M851 2858h8M747 2791h8M479 2766h8M462 2911h8M569 2826h8M634 2713h8M840 2827h8M513 2919h8M464 2909h8M594 2960h8M749 2708h8M736 2780h8M630 2730h8M506 2792h8M743 2879h8M557 2907h8M683 2718h8M674 2760h8M685 2794h8M530 2800h8M505 2866h8M561 2778h8M589 2791h8M675 2927h8M607 2978h8M789 2874h8M713 2858h8M647 2974h8M503 2918h8M582 2745h8M525 2826h8M697 2749h8M542 2966h8M529 2867h8M516 2821h8M560 2991h8M562 2768h8M533 2744h8M624 2990h8M698 2915h8M656 2681h8M555 2737h8M713 2770h8M703 3012h8M535 2965h8M519 2973h8M482 2850h8M538 2896h8M751 2973h8M601 2787h8M744 2818h8M516 2811h8M542 2876h8M742 2912h8M755 2946h8M718 2808h8M522 2913h8M696 2803h8M746 2784h8M719 2931h8M780 2814h8M659 3012h8M462 2866h8M564 2966h8M688 2792h8M554 2889h8M651 2718h8M514 2868h8M493 2881h8M546 2928h8M668 2949h8M652 2795h8M781 2957h8M625 2792h8M526 2922h8M648 3015h8M466 2700h8M712 2707h8M492 2927h8M502 2875h8M461 2850h8M735 2861h8M525 2899h8M744 2844h8M602 2719h8M830 2910h8M647 2753h8M714 2815h8M580 2931h8M716 2798h8M665 2744h8M656 2979h8M750 2911h8M748 2828h8M589 2747h8M690 2963h8M515 2844h8M533 2820h8M714 2982h8M726 2833h8M792 2983h8M783 2822h8M607 2961h8M479 2923h8M673 2938h8M786 2771h8M712 2732h8M618 3005h8M685 2807h8M508 2889h8M712 2837h8M641 2955h8M707 2853h8M768 2958h8M767 2911h8M729 2876h8M782 2765h8M582 2736h8M597 2950h8M671 2776h8M578 2765h8M763 2834h8M705 2755h8M633 2934h8M590 2778h8M646 3012h8M779 2821h8M578 2737h8M523 2939h8M585 2728h8M668 2981h8M720 2961h8M545 2939h8M542 2916h8M531 2898h8M705 2886h8M742 2863h8M511 2799h8M547 2933h8M640 2956h8M524 2924h8M658 2728h8M723 2832h8M506 3012h8M464 2930h8M571 2765h8M690 2920h8M559 2878h8M674 2691h8M658 2986h8M783 2931h8M506 2832h8M617 2959h8M755 2849h8M715 2954h8M675 2780h8M634 2953h8M591 2958h8M733 2869h8M669 2761h8M730 2934h8M655 2696h8M746 2852h8M571 2822h8M562 2931h8M834 2847h8M514 2827h8M715 2890h8M595 2968h8M680 2975h8M515 2969h8M615 2724h8M533 2825h8M618 2925h8M464 2783h8M496 2913h8M536 2882h8M471 2844h8M512 2850h8M770 2812h8M534 2818h8M534 2825h8M623 2786h8M659 2932h8M543 2912h8M479 2823h8M553 2998h8M695 2816h8M589 3013h8M713 2817h8M515 2864h8M511 2749h8M528 2856h8M762 2926h8M564 3008h8M532 2943h8M614 2693h8M517 2965h8M558 2935h8M480 2920h8M781 2783h8M706 2812h8M516 2761h8M812 2742h8M626 2957h8M589 2985h8M526 2866h8M698 2802h8M585 2935h8M769 2913h8M463 2870h8M668 2689h8M736 2991h8M575 2952h8M672 2992h8M607 2772h8M725 2934h8M609 2925h8M700 2938h8M789 2869h8M698 2760h8M721 3007h8M922 2834h8M604 2941h8M564 2913h8M654 2940h8M529 2755h8M605 2778h8M521 2842h8M532 2795h8M731 2915h8M687 2761h8M774 2814h8M607 2948h8M531 2846h8M743 2778h8M794 2791h8M662 2771h8M568 2958h8M500 2866h8M719 2821h8M759 2887h8M762 2826h8M640 3013h8M753 2881h8M646 2968h8M644 2958h8M597 2972h8M572 2924h8M519 2782h8M603 2737h8M670 2951h8M558 2954h8M518 2776h8M742 2942h8M579 2938h8M509 2964h8M597 3010h8M782 2863h8M745 2801h8M715 2922h8M767 2732h8M523 2907h8M465 2893h8M729 2820h8M601 2769h8M736 2836h8M600 2995h8M494 2883h8M723 2911h8M692 2803h8M609 2752h8M528 2935h8M752 2894h8M632 2744h8M720 2899h8M499 2957h8M571 2781h8M640 2785h8M660 2947h8M814 2819h8M668 2791h8M539 2968h8M519 2938h8M547 3015h8M463 2867h8M723 3013h8M534 2848h8M501 2905h8M748 2944h8M599 2965h8M679 2696h8M551 2843h8M812 2996h8M619 2948h8M529 2854h8M507 2847h8M674 2950h8M586 2709h8M709 2970h8M738 2750h8M748 2764h8M720 2836h8M857 2886h8M634 2790h8M737 2846h8M534 2808h8M509 2767h8M707 2898h8M595 2955h8M464 2897h8M721 2735h8M563 2782h8M749 2896h8M659 2941h8M464 2945h8M664 2738h8M722 2775h8M654 2794h8M695 2941h8M614 2753h8M722 2881h8M654 3001h8M563 2766h8M668 2996h8M464 2950h8M509 2821h8M745 2951h8M557 2948h8M518 2857h8M587 2769h8M683 2757h8M736 2828h8M632 2937h8M750 2828h8M738 2906h8M591 2759h8M713 2830h8M651 2974h8M528 2946h8M511 2723h8M713 2872h8M590 2952h8M680 2927h8M575 2765h8M522 2764h8M632 2770h8M473 2861h8M553 2899h8M709 2862h8M693 3005h8M560 2887h8M574 2987h8M494 2760h8M615 2763h8M727 2838h8M537 2832h8M549 2847h8M569 2941h8M618 2653h8M747 2827h8M544 2907h8M564 2829h8M649 2736h8M584 2952h8M464 2880h8M651 2986h8M518 2792h8M726 2918h8M512 2887h8M721 2927h8M527 2835h8M777 2932h8M520 2961h8M720 2802h8M697 2924h8M519 2900h8M675 2742h8M774 3001h8M650 2688h8M489 2773h8M735 2741h8M785 2911h8M773 2890h8M654 2947h8M490 2809h8M526 2967h8M718 2837h8M648 3012h8M660 2948h8M706 2918h8M619 2733h8M632 3012h8M471 2853h8M753 2711h8M662 2957h8M690 2761h8M636 2794h8M519 2986h8M711 2840h8M553 2722h8M647 2977h8M692 2811h8M492 2918h8M724 2859h8M681 2812h8M738 2926h8M593 2974h8M763 2885h8M461 2796h8M702 2936h8M535 2742h8M621 2741h8M841 2874h8M653 2998h8M585 2969h8M711 2696h8M687 2983h8M618 2758h8M496 2864h8M557 2909h8M468 2820h8M552 2979h8M697 2944h8M528 2875h8M779 2923h8M668 2913h8M684 3013h8M521 2934h8M513 2804h8M580 2981h8M751 2859h8M556 2855h8M534 2865h8M777 2865h8M727 2946h8M795 2883h8M593 2931h8M712 2992h8M523 2788h8M597 2989h8M535 3004h8M708 2924h8M701 2784h8M765 2833h8M622 2773h8M761 2842h8M600 2763h8M577 2792h8M605 2950h8M682 2975h8M660 2800h8M752 2945h8M688 2745h8M609 2738h8M579 2935h8M544 2930h8M747 2932h8M670 2771h8M722 2747h8M656 2751h8M480 2869h8M716 2676h8M501 2529h8M620 2454h8M708 2523h8M719 2597h8M575 2634h8M487 2588h8M581 2631h8M545 2575h8M731 2525h8M636 2542h8M633 2563h8M522 2625h8M575 2626h8M560 2599h8M504 2585h8M681 2464h8M700 2453h8M641 2511h8M530 2501h8M660 2467h8M608 2611h8M659 2525h8M607 2641h8M721 2640h8M682 2524h8M822 2499h8M567 2560h8M696 2470h8M792 2613h8M715 2506h8M772 2452h8M476 2636h8M762 2631h8M653 2481h8M818 2469h8M672 2523h8M645 2598h8M654 2479h8M486 2495h8M761 2547h8M603 2629h8M710 2581h8M563 2477h8M726 2559h8M808 2565h8M595 2445h8M637 2608h8M570 2587h8M500 2553h8M632 2469h8M623 2587h8M554 2459h8M474 2573h8M499 2635h8M682 2500h8M602 2467h8M693 2477h8M549 2576h8M734 2514h8M583 2466h8M775 2640h8M649 2602h8M638 2615h8M674 2582h8M550 2466h8M820 2505h8M827 2584h8M572 2638h8M524 2504h8M670 2474h8M466 2486h8M689 2522h8M598 2578h8M764 2590h8M768 2613h8M587 2501h8M531 2600h8M581 2495h8M776 2554h8M674 2445h8M548 2577h8M649 2554h8M766 2636h8M749 2565h8M591 2487h8"/>
<path transform="scale(.1)" fill="none" stroke="#fff" stroke-opacity=".55" stroke-width="7" d="M479 2868h7M741 2716h7M537 3002h7M721 2841h7M463 2933h7M706 2719h7M643 2730h7M616 2924h7M835 2928h7M717 2931h7M550 2924h7M777 2896h7M737 2772h7M511 2822h7M712 2726h7M532 2989h7M560 2703h7M506 2897h7M729 2918h7M582 2961h7M692 2804h7M646 2908h7M634 2897h7M525 2827h7M693 2786h7M582 2869h7M616 2733h7M729 2742h7M564 2971h7M501 2866h7M465 2929h7M765 2942h7M546 2956h7M526 2806h7M496 2818h7M615 2721h7M553 2876h7M663 2792h7M636 2930h7M769 2961h7M662 2753h7M674 2926h7M997 2889h7M638 3006h7M485 2780h7M580 2758h7M522 2826h7M681 2763h7M773 2860h7M783 2924h7M643 2945h7M760 2972h7M648 2952h7M898 2917h7M500 2845h7M645 2933h7M596 2776h7M634 2964h7M800 2826h7M734 2928h7M528 2659h7M811 2747h7M674 2798h7M626 2718h7M620 2692h7M778 2840h7M767 3009h7M565 2751h7M782 2986h7M605 2781h7M729 2943h7M747 2865h7M477 2822h7M665 2902h7M884 2827h7M594 2966h7M595 2824h7M726 2838h7M545 2833h7M702 2699h7M890 2890h7M544 2822h7M690 3012h7M548 2814h7M534 2918h7M581 2763h7M643 2924h7M576 2787h7M765 2838h7M506 2929h7M654 2751h7M670 2970h7M572 2992h7M605 2923h7M531 2772h7M753 2895h7M713 2749h7M537 2715h7M686 2817h7M718 2934h7M582 2775h7M548 2682h7M701 2826h7M574 2800h7M500 2840h7M705 2714h7M598 2807h7M752 2924h7M753 2933h7M538 2664h7M827 2870h7M722 2901h7M614 2788h7M746 2839h7M833 2868h7M723 2587h7M712 2943h7M511 2848h7M681 2772h7M553 2934h7M551 2929h7M797 2893h7M534 2873h7M589 2741h7M603 2701h7M637 2750h7M571 2802h7M531 2797h7M590 2890h7M859 2843h7M621 2905h7M498 2904h7M582 2737h7M609 2826h7M588 2965h7M502 2855h7M688 2979h7M786 2928h7M770 2888h7M804 2814h7M602 2947h7M828 2852h7M666 2955h7M613 2997h7M514 2884h7M483 2882h7M720 2815h7M712 2836h7M655 2808h7M466 2859h7M658 2906h7M750 2870h7M641 2726h7M750 2890h7M601 2800h7M717 2790h7M661 2775h7M558 2993h7M727 2811h7M617 2800h7M748 2922h7M778 2969h7M526 2989h7M601 2828h7"/>
<path transform="scale(.1)" fill="none" stroke="#222" stroke-opacity=".55" stroke-width="10" d="M966 2359h10M1010 2301h10M1028 2265h10M1124 2197h10M998 2291h10M969 2290h10M1143 2342h10M1214 2306h10M1132 2391h10M1044 2306h10M925 2305h10M1001 2351h10M1143 2298h10M1040 2379h10M1449 2311h10M1082 2271h10M1088 2305h10M1124 2379h10M953 2322h10M993 2372h10M1068 2310h10M984 2256h10M1097 2313h10M1183 2281h10M1121 2369h10M1240 2347h10M1105 2306h10M1038 2275h10M1227 2389h10M1055 2294h10M1046 2392h10M1168 2330h10M1042 2369h10M1005 2272h10M1032 2374h10M1026 2358h10M1057 2375h10M1088 2312h10M975 2373h10M1185 2330h10M1458 2294h10M943 2366h10M1090 2316h10M1159 2312h10M1190 2280h10M976 2289h10M1202 2379h10M1038 2251h10M1111 2302h10M1121 2261h10"/>
<path transform="scale(.1)" fill="none" stroke="#222" stroke-opacity=".55" stroke-width="9" d="M985 2823h9M1398 2679h9M1052 2723h9M1344 2698h9M1301 2806h9M1029 2676h9M1181 2965h9M969 2878h9"/>
<path d="M34.2 180.8H180.6" stroke="#858585" stroke-width="1.2" fill="none"/>
<path d="M180.0 180.3V311.6" stroke="#4a4a4a" stroke-width="1.3" fill="none"/>
<path d="M45.2 180.8V302.7M34.2 302.1H180.6" stroke="#1a1a1a" stroke-width="1.4" fill="none"/>
<path d="M91.1 180.8V302.1M45.2 260.7H180.0" stroke="#222" stroke-width="1.3" fill="none"/>
<path d="M45.2 302.1v9.5M78.9 302.1v9.5M112.6 302.1v9.5M146.3 302.1v9.5" stroke="#555" stroke-width=".8" fill="none"/>
<path d="M45.2 271.6h-11M45.2 241.1h-11M45.2 210.6h-11" stroke="#6a6a6a" stroke-width=".7" fill="none"/>
<path d="M55.3 302.1v2.6M61.3 302.1v2.6M65.5 302.1v2.6M68.8 302.1v2.6M71.4 302.1v2.6M73.7 302.1v2.6M75.6 302.1v2.6M77.4 302.1v2.6M45.2 292.9h-2.8M45.2 287.5h-2.8M45.2 283.7h-2.8M45.2 280.8h-2.8M45.2 278.4h-2.8M45.2 276.3h-2.8M45.2 274.6h-2.8M45.2 273.0h-2.8M89.0 302.1v2.6M95.0 302.1v2.6M99.2 302.1v2.6M102.5 302.1v2.6M105.1 302.1v2.6M107.4 302.1v2.6M109.3 302.1v2.6M111.1 302.1v2.6M45.2 262.4h-2.8M45.2 257.0h-2.8M45.2 253.2h-2.8M45.2 250.3h-2.8M45.2 247.9h-2.8M45.2 245.8h-2.8M45.2 244.1h-2.8M45.2 242.5h-2.8M122.7 302.1v2.6M128.7 302.1v2.6M132.9 302.1v2.6M136.2 302.1v2.6M138.8 302.1v2.6M141.1 302.1v2.6M143.0 302.1v2.6M144.8 302.1v2.6M45.2 231.9h-2.8M45.2 226.5h-2.8M45.2 222.7h-2.8M45.2 219.8h-2.8M45.2 217.4h-2.8M45.2 215.3h-2.8M45.2 213.6h-2.8M45.2 212.0h-2.8M156.4 302.1v2.6M162.4 302.1v2.6M166.6 302.1v2.6M169.9 302.1v2.6M172.5 302.1v2.6M174.8 302.1v2.6M176.7 302.1v2.6M178.5 302.1v2.6M45.2 201.4h-2.8M45.2 196.0h-2.8M45.2 192.2h-2.8M45.2 189.3h-2.8M45.2 186.9h-2.8M45.2 184.8h-2.8M45.2 183.1h-2.8M45.2 181.5h-2.8" stroke="#3a3a3a" stroke-width=".75" fill="none"/>
<text class="ax" transform="translate(46.1 311.8) scale(.8 1)">10<tspan class="sp" dy="-1.7">0</tspan></text>
<text class="ax" transform="translate(32.8 300.4) scale(.8 1)">10<tspan class="sp" dy="-1.7">0</tspan></text>
<text class="ax" transform="translate(79.8 311.8) scale(.8 1)">10<tspan class="sp" dy="-1.7">1</tspan></text>
<text class="ax" transform="translate(32.8 269.9) scale(.8 1)">10<tspan class="sp" dy="-1.7">1</tspan></text>
<text class="ax" transform="translate(113.5 311.8) scale(.8 1)">10<tspan class="sp" dy="-1.7">2</tspan></text>
<text class="ax" transform="translate(32.8 239.4) scale(.8 1)">10<tspan class="sp" dy="-1.7">2</tspan></text>
<text class="ax" transform="translate(147.2 311.8) scale(.8 1)">10<tspan class="sp" dy="-1.7">3</tspan></text>
<text class="ax" transform="translate(32.8 208.9) scale(.8 1)">10<tspan class="sp" dy="-1.7">3</tspan></text>
<text class="q" x="44.6" y="187.6">B1</text><text class="q" x="47.1" y="195.2">54.1%</text>
<text class="q" x="91.5" y="187.6">B2</text><text class="q" x="95.5" y="195.2">0.4%</text>
<text class="q" x="44.6" y="267.9">B3</text><text class="q" x="47.1" y="275.9">45.4%</text>
<text class="q" x="91.5" y="267.9">B4</text><text class="q" x="95.5" y="275.9">0.1%</text>
<text class="pl" x="167.0" y="201.0">D</text>
</g>
<g>
<clipPath id="cpE"><rect x="211.5" y="180.8" width="133.5" height="120.9"/></clipPath>
<g clip-path="url(#cpE)">
<ellipse cx="227.1" cy="285.8" rx="21.1" ry="16.7" fill="url(#lg)"/>
<ellipse cx="225.4" cy="233.2" rx="16.0" ry="7.3" fill="url(#ug)"/>
</g>
<path transform="scale(.1)" fill="none" stroke="#000" stroke-opacity=".8" stroke-width="8" d="M2338 2289h8M2420 2292h8M2162 2283h8M2344 2264h8M2328 2279h8M2117 2364h8M2382 2323h8M2286 2278h8M2129 2313h8M2387 2370h8M2355 2294h8M2368 2279h8M2393 2349h8M2306 2263h8M2364 2274h8M2160 2271h8M2210 2393h8M2207 2276h8M2232 2404h8M2415 2261h8M2370 2308h8M2328 2271h8M2382 2343h8M2301 2398h8M2330 2400h8M2313 2396h8M2262 2405h8M2146 2408h8M2387 2345h8M2331 2263h8M2361 2373h8M2168 2290h8M2209 2268h8M2345 2406h8M2479 2318h8M2193 2281h8M2191 2267h8M2327 2269h8M2421 2351h8M2359 2285h8M2335 2254h8M2122 2363h8M2179 2391h8M2173 2383h8M2148 2387h8M2225 2429h8M2407 2322h8M2121 2341h8M2385 2334h8M2267 2400h8M2117 2286h8M2347 2285h8M2118 2334h8M2250 2402h8M2327 2281h8M2262 2268h8M2419 2315h8M2121 2360h8M2419 2331h8M2360 2377h8M2305 2404h8M2271 2394h8M2134 2390h8M2127 2277h8M2394 2374h8M2305 2390h8M2136 2312h8M2183 2263h8M2449 2317h8M2245 2399h8M2274 2401h8M2390 2326h8M2122 2337h8M2311 2282h8M2163 2288h8M2131 2314h8M2378 2379h8M2125 2270h8M2123 2325h8M2119 2300h8M2231 2411h8M2146 2301h8M2396 2358h8M2119 2332h8M2136 2302h8M2355 2286h8M2144 2307h8M2117 2338h8M2123 2322h8M2265 2413h8M2205 2262h8M2260 2276h8M2123 2358h8M2267 2259h8M2374 2308h8M2392 2285h8M2381 2355h8M2119 2318h8M2301 2397h8M2397 2320h8M2362 2381h8M2402 2344h8M2223 2266h8M2336 2382h8M2145 2373h8M2221 2259h8M2119 2345h8M2237 2410h8M2120 2251h8M2329 2267h8M2367 2309h8M2147 2386h8M2437 2286h8M2123 2320h8M2262 2395h8M2369 2284h8M2405 2261h8M2175 2396h8M2133 2321h8M2138 2277h8M2123 2337h8M2304 2391h8M2194 2277h8M2333 2406h8M2385 2356h8M2118 2306h8M2269 2397h8M2304 2400h8M2206 2393h8M2278 2420h8M2404 2372h8M2374 2319h8M2370 2366h8M2337 2276h8M2216 2403h8M2133 2299h8M2199 2388h8M2118 2264h8M2205 2281h8M2193 2285h8M2120 2311h8M2122 2399h8M2193 2280h8M2161 2388h8M2125 2360h8M2120 2349h8M2118 2359h8M2260 2240h8M2403 2323h8M2142 2266h8M2379 2381h8M2122 2333h8M2119 2377h8M2372 2314h8M2122 2389h8M2247 2276h8M2123 2345h8M2295 2273h8M2408 2327h8M2327 2385h8M2176 2284h8M2247 2420h8M2417 2343h8M2118 2319h8M2214 2394h8M2249 2396h8M2318 2409h8M2127 2382h8M2141 2381h8M2347 2293h8M2240 2396h8M2218 2418h8M2217 2406h8M2380 2297h8M2173 2278h8M2176 2278h8M2271 2254h8M2270 2408h8M2288 2407h8M2135 2389h8M2248 2410h8M2228 2254h8M2118 2391h8M2286 2404h8M2120 2297h8M2137 2394h8M2285 2269h8M2264 2401h8M2118 2371h8M2424 2373h8M2164 2272h8M2139 2279h8M2227 2251h8M2436 2364h8M2125 2287h8M2181 2278h8M2330 2288h8M2208 2404h8M2380 2300h8M2151 2378h8M2388 2360h8M2433 2344h8M2419 2336h8M2354 2291h8M2360 2387h8M2176 2390h8M2122 2359h8M2142 2280h8M2176 2392h8M2334 2288h8M2159 2283h8M2131 2348h8M2340 2288h8M2169 2284h8M2137 2298h8M2301 2404h8M2349 2375h8M2460 2286h8M2394 2356h8M2143 2390h8M2117 2301h8M2147 2380h8M2306 2252h8M2152 2388h8M2361 2395h8M2119 2321h8M2325 2278h8M2411 2298h8M2122 2317h8M2447 2291h8M2123 2304h8M2431 2382h8M2320 2406h8M2137 2290h8M2457 2348h8M2119 2275h8M2432 2375h8M2198 2405h8M2138 2312h8M2122 2320h8M2121 2324h8M2305 2276h8M2186 2276h8M2387 2376h8M2269 2278h8M2120 2378h8M2119 2370h8M2352 2383h8M2327 2271h8M2147 2249h8M2117 2357h8M2227 2278h8M2295 2280h8M2364 2367h8M2197 2263h8M2389 2301h8M2163 2295h8M2204 2421h8M2170 2404h8M2303 2278h8M2318 2395h8M2267 2406h8M2133 2315h8M2251 2398h8M2375 2371h8M2200 2392h8M2355 2297h8M2440 2359h8M2220 2273h8M2330 2389h8M2120 2332h8M2364 2265h8M2363 2395h8M2321 2275h8M2428 2337h8M2343 2380h8M2124 2315h8M2231 2279h8M2129 2300h8M2280 2393h8M2196 2252h8M2163 2293h8M2122 2290h8M2392 2348h8M2122 2290h8M2406 2334h8M2120 2388h8M2377 2413h8M2226 2395h8M2157 2389h8M2117 2270h8M2181 2268h8M2343 2259h8M2318 2268h8M2347 2293h8M2395 2328h8M2122 2392h8M2420 2323h8M2402 2276h8M2153 2405h8M2341 2403h8M2134 2290h8M2394 2332h8M2377 2282h8M2119 2348h8M2368 2372h8M2118 2331h8M2243 2398h8M2298 2261h8M2415 2374h8M2119 2338h8M2332 2273h8M2335 2264h8M2122 2340h8M2130 2326h8M2243 2277h8M2120 2299h8M2273 2410h8M2122 2344h8M2192 2418h8M2124 2380h8M2209 2411h8M2403 2315h8M2117 2372h8M2361 2374h8M2122 2324h8M2161 2294h8M2213 2273h8M2394 2339h8M2125 2369h8M2173 2291h8M2156 2377h8M2378 2364h8M2315 2389h8M2130 2358h8M2384 2375h8M2365 2282h8M2343 2293h8M2308 2277h8M2142 2292h8M2119 2356h8M2271 2279h8M2324 2281h8M2120 2338h8M2392 2339h8M2391 2380h8M2378 2320h8M2221 2276h8M2121 2354h8M2376 2366h8M2295 2277h8M2280 2399h8M2265 2404h8M2420 2372h8M2305 2278h8M2119 2368h8M2392 2314h8M2173 2288h8M2122 2326h8M2395 2312h8M2186 2398h8M2120 2310h8M2125 2317h8M2362 2390h8M2248 2402h8M2331 2283h8M2119 2339h8M2139 2289h8M2245 2427h8M2342 2275h8M2427 2323h8M2122 2371h8M2121 2384h8M2372 2357h8M2242 2257h8M2126 2281h8M2238 2259h8M2118 2305h8M2182 2422h8M2337 2289h8M2349 2382h8M2117 2335h8M2263 2415h8M2248 2246h8M2216 2398h8M2119 2332h8M2345 2379h8M2119 2320h8M2315 2388h8M2126 2329h8M2228 2280h8M2121 2325h8M2390 2297h8M2323 2401h8M2366 2294h8M2249 2275h8M2358 2381h8M2141 2280h8M2175 2383h8M2289 2274h8M2380 2346h8M2120 2324h8M2457 2317h8M2324 2429h8M2258 2261h8M2401 2380h8M2392 2381h8M2396 2283h8M2206 2397h8M2395 2325h8M2216 2274h8M2323 2287h8M2229 2250h8M2193 2386h8M2342 2271h8M2292 2391h8M2276 2265h8M2363 2286h8M2404 2393h8M2340 2381h8M2222 2398h8M2188 2399h8M2117 2325h8M2347 2390h8M2132 2282h8M2149 2292h8M2189 2258h8M2196 2395h8M2380 2302h8M2367 2373h8M2332 2289h8M2375 2389h8M2306 2249h8M2120 2362h8M2410 2323h8M2293 2255h8M2255 2407h8M2289 2422h8M2161 2270h8M2276 2275h8M2205 2403h8M2167 2420h8M2286 2280h8M2431 2330h8M2372 2314h8M2148 2372h8M2318 2390h8M2347 2410h8M2118 2292h8M2411 2337h8M2396 2311h8M2243 2260h8M2352 2401h8M2171 2387h8M2375 2304h8M2185 2279h8M2139 2281h8M2140 2286h8M2119 2319h8M2342 2289h8M2355 2278h8M2417 2356h8M2120 2347h8M2122 2326h8M2119 2333h8M2224 2271h8M2119 2278h8M2334 2406h8M2235 2409h8M2168 2391h8M2120 2320h8M2405 2309h8M2184 2268h8M2351 2292h8M2370 2307h8M2281 2398h8M2261 2254h8M2195 2272h8M2148 2297h8M2364 2397h8M2278 2271h8M2379 2409h8M2381 2305h8M2366 2309h8M2311 2281h8M2365 2400h8M2415 2303h8M2140 2364h8M2292 2424h8M2361 2371h8M2198 2280h8M2135 2275h8M2296 2256h8M2345 2270h8M2344 2404h8M2331 2266h8M2141 2303h8M2451 2373h8M2140 2387h8M2219 2261h8M2122 2378h8M2143 2388h8M2397 2360h8M2215 2280h8M2235 2396h8M2316 2389h8M2177 2287h8M2431 2345h8M2182 2404h8M2293 2416h8M2421 2343h8M2292 2268h8M2118 2338h8M2123 2292h8M2299 2266h8M2134 2317h8M2389 2359h8M2196 2411h8M2153 2371h8M2120 2328h8M2324 2276h8M2321 2277h8M2384 2287h8M2393 2342h8M2385 2326h8M2119 2345h8M2422 2305h8M2122 2356h8M2405 2342h8M2423 2352h8M2123 2371h8M2289 2408h8M2141 2383h8M2345 2289h8M2120 2341h8M2386 2297h8M2317 2392h8M2295 2241h8M2352 2390h8M2236 2407h8M2120 2343h8M2383 2308h8M2125 2337h8M2278 2405h8M2234 2396h8M2227 2396h8M2299 2265h8M2147 2302h8M2275 2401h8M2391 2321h8M2119 2323h8M2303 2283h8M2259 2397h8M2165 2279h8M2390 2312h8M2390 2338h8M2307 2266h8M2389 2314h8M2118 2386h8M2366 2362h8M2157 2384h8M2276 2426h8M2409 2294h8M2355 2296h8M2178 2392h8M2424 2345h8M2119 2366h8M2118 2319h8M2364 2308h8M2118 2392h8M2276 2261h8M2220 2404h8M2175 2404h8M2373 2307h8M2392 2303h8M2385 2385h8M2123 2372h8M2161 2378h8M2402 2356h8M2323 2281h8M2123 2341h8M2119 2357h8M2119 2365h8M2407 2317h8M2401 2370h8M2214 2275h8M2358 2299h8M2137 2379h8M2422 2356h8M2325 2418h8M2395 2369h8M2317 2410h8M2119 2312h8M2255 2401h8M2122 2350h8M2189 2391h8M2119 2300h8M2121 2334h8M2356 2301h8M2458 2307h8M2155 2373h8M2185 2287h8M2138 2370h8M2285 2263h8M2305 2406h8M2390 2319h8M2405 2368h8M2161 2295h8M2287 2400h8M2121 2353h8M2290 2281h8M2133 2365h8M2366 2396h8M2322 2269h8M2329 2290h8M2277 2278h8M2121 2310h8M2329 2386h8M2432 2377h8M2342 2386h8M2296 2274h8M2297 2399h8M2281 2421h8M2360 2301h8M2117 2344h8M2169 2386h8M2351 2278h8M2386 2341h8M2334 2287h8M2306 2280h8M2415 2303h8M2171 2398h8M2230 2252h8M2274 2274h8M2236 2409h8M2343 2295h8M2127 2393h8M2121 2315h8M2315 2394h8M2125 2377h8M2230 2263h8M2279 2413h8M2238 2276h8M2311 2390h8M2336 2267h8M2298 2413h8M2417 2319h8M2171 2268h8M2216 2255h8M2328 2400h8M2171 2384h8M2379 2291h8M2369 2396h8M2122 2345h8M2122 2317h8M2424 2350h8M2346 2290h8M2191 2280h8M2384 2324h8M2386 2350h8M2374 2375h8M2161 2378h8M2181 2396h8M2167 2386h8M2123 2315h8M2169 2378h8M2134 2356h8M2344 2409h8M2210 2263h8M2403 2321h8M2327 2398h8M2390 2299h8M2128 2357h8M2128 2357h8M2180 2388h8M2120 2333h8M2118 2313h8M2234 2429h8M2243 2436h8M2344 2413h8M2325 2385h8M2129 2302h8M2363 2371h8M2118 2318h8M2388 2338h8M2170 2289h8M2120 2330h8M2177 2285h8M2372 2356h8M2376 2379h8M2124 2289h8M2119 2293h8M2128 2307h8M2307 2283h8M2379 2269h8M2387 2327h8M2355 2393h8M2376 2309h8M2178 2262h8M2410 2338h8M2377 2396h8M2242 2398h8M2124 2318h8M2247 2404h8M2198 2271h8M2117 2327h8M2423 2341h8M2321 2283h8M2130 2314h8M2435 2321h8M2117 2342h8M2261 2399h8M2178 2263h8M2118 2342h8M2416 2325h8M2150 2417h8M2133 2359h8M2391 2336h8M2340 2390h8M2390 2328h8M2123 2307h8M2428 2355h8M2135 2393h8M2118 2304h8M2120 2328h8M2388 2332h8M2158 2385h8M2283 2265h8M2237 2266h8M2120 2334h8M2146 2379h8M2150 2373h8M2411 2313h8M2122 2318h8M2152 2301h8M2136 2301h8M2389 2353h8M2192 2283h8M2354 2297h8M2147 2299h8M2372 2279h8M2411 2297h8M2450 2340h8M2333 2284h8M2154 2411h8M2380 2327h8M2123 2297h8M2215 2406h8M2389 2310h8M2408 2379h8M2392 2311h8M2173 2381h8M2289 2274h8M2129 2322h8M2151 2396h8M2213 2400h8M2148 2300h8M2166 2269h8M2124 2300h8M2129 2342h8M2258 2397h8M2417 2336h8M2259 2263h8M2118 2359h8M2231 2276h8M2263 2277h8M2423 2295h8M2179 2285h8M2406 2326h8M2215 2397h8M2336 2384h8M2331 2288h8M2410 2331h8M2440 2378h8M2439 2288h8M2119 2383h8M2120 2288h8M2396 2399h8M2374 2292h8M2378 2310h8M2296 2412h8M2176 2391h8M2117 2287h8M2178 2383h8M2139 2387h8M2374 2300h8M2285 2413h8M2196 2420h8M2201 2283h8M2178 2395h8M2176 2397h8M2413 2330h8M2154 2278h8M2215 2393h8M2449 2386h8M2120 2348h8M2172 2280h8M2236 2403h8M2120 2368h8M2147 2275h8M2130 2327h8M2287 2258h8M2276 2401h8M2294 2399h8M2360 2295h8M2126 2363h8M2122 2363h8M2123 2334h8M2238 2258h8M2387 2378h8M2117 2337h8M2420 2323h8M2403 2348h8M2119 2306h8M2262 2398h8M2260 2408h8M2210 2410h8M2186 2268h8M2490 2366h8M2327 2400h8M2132 2388h8M2299 2272h8M2365 2292h8M2234 2264h8M2122 2341h8M2371 2313h8M2435 2281h8M2317 2229h8M2327 2258h8M2125 2292h8M2119 2334h8M2398 2367h8M2269 2276h8M2121 2371h8M2372 2373h8M2348 2386h8M2339 2390h8M2141 2363h8M2417 2346h8M2158 2380h8M2142 2280h8M2232 2280h8M2446 2337h8M2245 2397h8M2121 2300h8M2150 2369h8M2373 2306h8M2273 2275h8M2305 2412h8M2122 2297h8M2337 2389h8M2215 2279h8M2245 2417h8M2118 2298h8M2318 2389h8M2322 2284h8M2344 2284h8M2335 2263h8M2185 2285h8M2201 2392h8M2445 2338h8M2247 2258h8M2196 2279h8M2227 2395h8M2317 2271h8M2211 2392h8M2163 2289h8M2392 2407h8M2179 2281h8M2381 2377h8M2449 2357h8M2349 2271h8M2287 2413h8M2121 2348h8M2123 2357h8M2118 2322h8M2429 2283h8M2147 2288h8M2433 2327h8M2393 2320h8M2155 2289h8M2162 2288h8M2191 2283h8M2438 2336h8M2319 2390h8M2119 2307h8M2186 2278h8M2426 2313h8M2121 2368h8M2395 2303h8M2351 2384h8M2117 2364h8M2120 2320h8M2380 2324h8M2151 2298h8M2117 2324h8M2122 2319h8M2140 2310h8M2396 2364h8M2388 2294h8M2415 2337h8M2386 2365h8M2224 2276h8M2232 2278h8M2179 2289h8M2123 2336h8M2300 2405h8M2120 2314h8M2167 2406h8M2139 2310h8M2294 2413h8M2118 2337h8M2306 2391h8M2430 2337h8M2455 2332h8M2389 2409h8M2122 2312h8M2119 2288h8M2224 2401h8M2217 2269h8M2117 2325h8M2218 2395h8M2150 2268h8M2349 2295h8M2356 2390h8M2138 2368h8M2383 2307h8M2144 2303h8M2354 2378h8M2407 2357h8M2132 2321h8M2228 2262h8M2161 2296h8M2129 2360h8M2122 2352h8M2316 2259h8M2119 2351h8M2359 2304h8M2270 2405h8M2122 2320h8M2354 2376h8M2396 2402h8M2122 2381h8M2347 2392h8M2173 2414h8M2361 2289h8M2170 2265h8M2275 2401h8M2420 2332h8M2286 2402h8M2203 2389h8M2133 2300h8M2334 2416h8M2214 2391h8M2390 2280h8M2330 2288h8M2188 2274h8M2172 2262h8M2119 2318h8M2131 2377h8M2162 2406h8M2419 2355h8M2119 2277h8M2142 2285h8M2236 2414h8M2127 2350h8M2335 2395h8M2208 2403h8M2314 2399h8M2335 2383h8M2281 2259h8M2332 2405h8M2122 2409h8M2195 2283h8M2268 2269h8M2385 2397h8M2208 2278h8M2381 2291h8M2121 2300h8M2388 2242h8M2155 2241h8M2373 2364h8M2192 2276h8M2401 2349h8M2325 2402h8M2123 2363h8M2222 2222h8M2247 2398h8M2254 2261h8M2378 2287h8M2237 2402h8M2118 2348h8M2373 2381h8M2404 2359h8M2122 2374h8M2147 2394h8M2155 2265h8M2302 2282h8M2120 2333h8M2397 2323h8M2363 2390h8M2330 2269h8M2368 2362h8M2367 2366h8M2377 2366h8M2130 2322h8M2465 2338h8M2403 2288h8M2416 2338h8M2350 2407h8M2187 2273h8M2215 2275h8M2132 2386h8M2198 2280h8M2417 2323h8M2215 2281h8M2301 2281h8M2359 2370h8M2233 2402h8M2142 2296h8M2396 2338h8M2246 2276h8M2166 2381h8M2346 2267h8M2131 2310h8M2146 2395h8M2366 2403h8M2266 2417h8M2352 2385h8M2118 2374h8M2293 2281h8M2383 2336h8M2174 2399h8M2337 2407h8M2122 2304h8M2373 2356h8M2128 2340h8M2206 2249h8M2393 2367h8M2345 2292h8M2157 2268h8M2320 2276h8M2121 2318h8M2138 2369h8M2212 2393h8M2285 2262h8M2270 2394h8M2364 2294h8M2130 2362h8M2359 2373h8M2420 2386h8M2449 2317h8M2444 2327h8M2413 2303h8M2462 2351h8M2431 2286h8M2395 2312h8M2440 2340h8M2457 2324h8M2388 2388h8M2418 2327h8M2528 2317h8M2386 2350h8M2510 2369h8M2393 2361h8M2469 2348h8M2405 2353h8M2441 2321h8M2434 2425h8M2434 2396h8M2449 2316h8M2462 2327h8M2509 2398h8M2432 2323h8M2504 2387h8M2419 2368h8M2474 2289h8M2474 2353h8M2443 2241h8M2412 2374h8M2394 2366h8M2422 2256h8M2410 2358h8M2416 2322h8M2450 2386h8M2409 2394h8M2431 2284h8M2449 2345h8M2541 2324h8M2432 2332h8M2486 2307h8M2481 2339h8M2463 2403h8M2438 2384h8M2497 2328h8M2403 2432h8M2409 2337h8M2415 2325h8M2419 2316h8M2442 2317h8M2440 2342h8M2468 2318h8M2425 2312h8M2436 2379h8M2394 2286h8M2438 2358h8M2399 2318h8M2517 2403h8M2541 2244h8M2524 2387h8M2520 2298h8M2417 2357h8M2450 2272h8M2405 2341h8M2538 2340h8M2497 2377h8M2426 2376h8M2545 2322h8M2470 2349h8M2478 2378h8M2459 2318h8M2458 2391h8M2527 2328h8M2429 2256h8M2548 2349h8M2398 2331h8M2433 2316h8M2470 2269h8M2461 2374h8M2448 2304h8M2396 2337h8M2520 2365h8M2484 2374h8M2389 2399h8M2416 2315h8M2485 2280h8M2216 2924h8M2227 2955h8M2265 2799h8M2503 2880h8M2385 2982h8M2336 3011h8M2230 2762h8M2378 2961h8M2302 2961h8M2260 2940h8M2174 2766h8M2121 2785h8M2120 2942h8M2263 2950h8M2403 2876h8M2295 2763h8M2393 2829h8M2297 2910h8M2411 2818h8M2334 3009h8M2349 2818h8M2265 2762h8M2180 2962h8M2371 2833h8M2412 2827h8M2284 2948h8M2385 2837h8M2347 2915h8M2334 2854h8M2203 2760h8M2367 2824h8M2339 2972h8M2419 2895h8M2360 2905h8M2345 2949h8M2416 2921h8M2422 2847h8M2299 2779h8M2268 2719h8M2251 2784h8M2324 2676h8M2335 2787h8M2381 2932h8M2181 2863h8M2118 2843h8M2335 2810h8M2314 2763h8M2404 2870h8M2246 2813h8M2367 2973h8M2182 2849h8M2514 2933h8M2336 2953h8M2409 2909h8M2118 2788h8M2391 2815h8M2145 2888h8M2200 3002h8M2163 2816h8M2420 2941h8M2213 2809h8M2182 2835h8M2285 2813h8M2191 2803h8M2193 2790h8M2370 2939h8M2470 2890h8M2448 2994h8M2192 2979h8M2218 2999h8M2429 2768h8M2389 2799h8M2119 2765h8M2346 2971h8M2187 2828h8M2258 2767h8M2255 2771h8M2412 2926h8M2179 2785h8M2248 2793h8M2184 2957h8M2335 2976h8M2417 2908h8M2210 2905h8M2240 2922h8M2317 2784h8M2183 2881h8M2504 2818h8M2225 2833h8M2346 2885h8M2338 2847h8M2291 2785h8M2230 2913h8M2198 2900h8M2339 2978h8M2391 2809h8M2278 2946h8M2348 2801h8M2421 2910h8M2205 2963h8M2155 2767h8M2248 2931h8M2294 2745h8M2377 2889h8M2118 2872h8M2198 2809h8M2293 3014h8M2170 2929h8M2378 2872h8M2425 2908h8M2466 2839h8M2335 2826h8M2370 2864h8M2248 2977h8M2121 2840h8M2186 2932h8M2486 2864h8M2262 2797h8M2217 2775h8M2158 2868h8M2173 2764h8M2413 2913h8M2287 2779h8M2152 2940h8M2380 2804h8M2336 2827h8M2366 2814h8M2229 2746h8M2199 2961h8M2379 2914h8M2222 2793h8M2368 2828h8M2241 2759h8M2367 2829h8M2360 2727h8M2237 2782h8M2239 3013h8M2184 2870h8M2224 2855h8M2341 2783h8M2337 2949h8M2120 2843h8M2383 2886h8M2185 2842h8M2154 2725h8M2202 3011h8M2369 2770h8M2321 2841h8M2195 2880h8M2440 2862h8M2367 2835h8M2195 2952h8M2421 2804h8M2138 2829h8M2314 2832h8M2161 2896h8M2222 2959h8M2211 2804h8M2145 2875h8M2296 2933h8M2118 2849h8M2228 2971h8M2394 2982h8M2294 2796h8M2119 2831h8M2211 2934h8M2402 2808h8M2181 2900h8M2131 2791h8M2367 2742h8M2363 2811h8M2237 2948h8M2305 2986h8M2312 2782h8M2331 2903h8M2340 2854h8M2126 2963h8M2180 2801h8M2236 2989h8M2118 2826h8M2352 3012h8M2188 2869h8M2215 2765h8M2249 2732h8M2117 2857h8M2355 2926h8M2119 2923h8M2278 2800h8M2266 2967h8M2195 2928h8M2376 2829h8M2170 2874h8M2383 2849h8M2121 2717h8M2301 2812h8M2369 2758h8M2256 2810h8M2424 2909h8M2164 2851h8M2141 2900h8M2359 2811h8M2187 2855h8M2344 2887h8M2405 2835h8M2314 2728h8M2334 2876h8M2385 2736h8M2236 2981h8M2156 2815h8M2362 2895h8M2245 2938h8M2322 2752h8M2194 2796h8M2449 2860h8M2314 2780h8M2405 2879h8M2239 2984h8M2365 2789h8M2453 2946h8M2323 2942h8M2240 2744h8M2387 2854h8M2333 2734h8M2376 2851h8M2246 2767h8M2123 2857h8M2565 2736h8M2229 2839h8M2225 2919h8M2164 2917h8M2241 2967h8M2183 2917h8M2376 2785h8M2266 2947h8M2424 2783h8M2240 3014h8M2195 2946h8M2195 2786h8M2252 2946h8M2334 2826h8M2151 2814h8M2331 2899h8M2254 2761h8M2398 2792h8M2309 2729h8M2243 2943h8M2197 2919h8M2209 2851h8M2439 2844h8M2342 2955h8M2270 2808h8M2213 2661h8M2199 2894h8M2220 2853h8M2157 2922h8M2355 2926h8M2421 2971h8M2319 2906h8M2346 2800h8M2341 2738h8M2457 2871h8M2243 2752h8M2336 2800h8M2320 2749h8M2371 2872h8M2153 2928h8M2331 2823h8M2529 2691h8M2227 2777h8M2402 2998h8M2383 2818h8M2154 2834h8M2144 2895h8M2121 2859h8M2180 2919h8M2212 2792h8M2267 2975h8M2144 2984h8M2315 2936h8M2139 2847h8M2209 2918h8M2241 2772h8M2189 2791h8M2345 2765h8M2472 2857h8M2183 2888h8M2194 2954h8M2380 2798h8M2426 2840h8M2147 2771h8M2321 2764h8M2241 2986h8M2491 2825h8M2403 2918h8M2372 2864h8M2431 2880h8M2365 2959h8M2243 2809h8M2118 2731h8M2349 2901h8M2311 2829h8M2150 2968h8M2127 2823h8M2434 2902h8M2260 2778h8M2230 2811h8M2122 2791h8M2313 2781h8M2225 2837h8M2417 2887h8M2161 2883h8M2405 2865h8M2268 3006h8M2252 2796h8M2254 2772h8M2361 2738h8M2440 2852h8M2200 2903h8M2364 2864h8M2294 2932h8M2270 2953h8M2121 2767h8M2345 2787h8M2359 2919h8M2210 2687h8M2253 2782h8M2368 2874h8M2165 2778h8M2192 2921h8M2273 2998h8M2290 2781h8M2210 2740h8M2444 2800h8M2361 2989h8M2344 2947h8M2196 2828h8M2256 3009h8M2407 2922h8M2409 2871h8M2297 2913h8M2117 2854h8M2422 2919h8M2228 2747h8M2388 2873h8M2198 2878h8M2378 2871h8M2300 2728h8M2358 2779h8M2257 2787h8M2348 2792h8M2457 2966h8M2462 2804h8M2305 2962h8M2194 2754h8M2128 2829h8M2203 2970h8M2394 2752h8M2179 2967h8M2390 2951h8M2145 3012h8M2405 3013h8M2343 2798h8M2233 2930h8M2286 3009h8M2219 2812h8M2358 2896h8M2327 2902h8M2205 2781h8M2189 2732h8M2465 2863h8M2234 2792h8M2122 2863h8M2279 2761h8M2400 2865h8M2358 2773h8M2503 2706h8M2180 2773h8M2349 2960h8M2120 2910h8M2246 2975h8M2364 2932h8M2346 2928h8M2313 2766h8M2347 2799h8M2241 2919h8M2469 2956h8M2386 2933h8M2382 2882h8M2358 2856h8M2152 2789h8M2268 2911h8M2340 2850h8M2419 2940h8M2211 2955h8M2201 2712h8M2264 2964h8M2333 2789h8M2366 2890h8M2171 2940h8M2259 2925h8M2172 2800h8M2176 2848h8M2309 2955h8M2123 2812h8M2361 2763h8M2323 2767h8M2391 2861h8M2238 2931h8M2170 2851h8M2232 2928h8M2122 2965h8M2118 2877h8M2296 2911h8M2164 2969h8M2401 2846h8M2171 2919h8M2247 2923h8M2354 2908h8M2131 2765h8M2247 2928h8M2400 2842h8M2146 2912h8M2151 2877h8M2310 2938h8M2204 2926h8M2176 2953h8M2232 2781h8M2291 2765h8M2402 2860h8M2348 2758h8M2365 2995h8M2151 2848h8M2123 2839h8M2188 2939h8M2252 2760h8M2178 2839h8M2416 2906h8M2381 2766h8M2405 2918h8M2238 2798h8M2432 2910h8M2247 2940h8M2255 2973h8M2344 3011h8M2391 2789h8M2375 2873h8M2181 2854h8M2221 2823h8M2181 2857h8M2345 2798h8M2165 2864h8M2122 2922h8M2230 2964h8M2340 2916h8M2352 2936h8M2298 2810h8M2147 2842h8M2121 2834h8M2292 2899h8M2355 2783h8M2222 2790h8M2212 2912h8M2344 2883h8M2305 3002h8M2145 2777h8M2350 2915h8M2403 2906h8M2188 2894h8M2310 2925h8M2215 2840h8M2269 3011h8M2122 2787h8M2348 2882h8M2133 2969h8M2326 2796h8M2149 2623h8M2195 2902h8M2388 2889h8M2170 2975h8M2271 2990h8M2350 2715h8M2294 2933h8M2118 2895h8M2227 2805h8M2218 2985h8M2311 3010h8M2230 2954h8M2451 2929h8M2381 2914h8M2145 2743h8M2317 2770h8M2301 2962h8M2361 2859h8M2447 2928h8M2375 2806h8M2335 2873h8M2342 2910h8M2283 2789h8M2212 2758h8M2166 2868h8M2198 3010h8M2376 2816h8M2194 2767h8M2297 2710h8M2193 2759h8M2121 2869h8M2228 2819h8M2345 2867h8M2376 2782h8M2349 2794h8M2407 2953h8M2168 2829h8M2299 2821h8M2228 2751h8M2123 2741h8M2214 2921h8M2176 2709h8M2223 2708h8M2420 2791h8M2399 2770h8M2228 2740h8M2170 2865h8M2365 2853h8M2229 3005h8M2160 2810h8M2223 2756h8M2134 2847h8M2196 2804h8M2177 2925h8M2433 2914h8M2294 2977h8M2360 2774h8M2266 2949h8M2292 2780h8M2377 2932h8M2433 2831h8M2145 2911h8M2377 2743h8M2249 2791h8M2384 2699h8M2184 2780h8M2413 2878h8M2156 2896h8M2329 2703h8M2158 2845h8M2352 2871h8M2447 2773h8M2124 2987h8M2222 2823h8M2182 2815h8M2359 2787h8M2135 2962h8M2215 2917h8M2159 2812h8M2394 2839h8M2390 2882h8M2343 2737h8M2241 2991h8M2402 2832h8M2469 2913h8M2242 2720h8M2268 2806h8M2190 2879h8M2312 2785h8M2337 2857h8M2131 2938h8M2120 2862h8M2332 3002h8M2341 2953h8M2138 2819h8M2118 2844h8M2384 2936h8M2194 2903h8M2400 2735h8M2454 2748h8M2162 2977h8M2157 2917h8M2385 2819h8M2354 2784h8M2349 2844h8M2390 2801h8M2136 2863h8M2272 2776h8M2339 2870h8M2136 2824h8M2416 2872h8M2352 2832h8M2202 2897h8M2118 2877h8M2386 2862h8M2148 2862h8M2282 2804h8M2122 2954h8M2341 2874h8M2378 2855h8M2143 2836h8M2188 2889h8M2120 2755h8M2250 2930h8M2300 2748h8M2216 2948h8M2223 2909h8M2416 2857h8M2140 2814h8M2319 2928h8M2192 2899h8M2157 2909h8M2436 2876h8M2161 2894h8M2372 2846h8M2120 2819h8M2207 2927h8M2247 2713h8M2392 2848h8M2122 2941h8M2191 2852h8M2463 2885h8M2190 2798h8M2345 2822h8M2220 2962h8M2337 2827h8M2153 2870h8M2299 2773h8M2217 2829h8M2420 2998h8M2257 2981h8M2198 2801h8M2156 2743h8M2174 2850h8M2218 2762h8M2120 2879h8M2327 2770h8M2245 2791h8M2252 2974h8M2189 2864h8M2263 2984h8M2305 2794h8M2263 2938h8M2266 2930h8M2286 3014h8M2218 2783h8M2159 2937h8M2174 2830h8M2356 3012h8M2332 2885h8M2245 2945h8M2351 2907h8M2120 2937h8M2257 2996h8M2284 2754h8M2186 3008h8M2298 2768h8M2424 2808h8M2244 2743h8M2202 2836h8M2301 2759h8M2247 2966h8M2128 2858h8M2335 2938h8M2144 2904h8M2142 2844h8M2389 2869h8M2217 2964h8M2239 3006h8M2366 2908h8M2194 2798h8M2290 2965h8M2207 2907h8M2120 2798h8M2184 2920h8M2261 2794h8M2207 2781h8M2424 2891h8M2356 2820h8M2373 2799h8M2152 2836h8M2266 2805h8M2227 2760h8M2365 2721h8M2209 2896h8M2389 2814h8M2392 2861h8M2402 2817h8M2187 2808h8M2301 2926h8M2312 2821h8M2209 2803h8M2195 2760h8M2188 2802h8M2361 2926h8M2195 2871h8M2179 2879h8M2210 2788h8M2140 2901h8M2393 2773h8M2119 2820h8M2126 2912h8M2194 2757h8M2293 2776h8M2397 2729h8M2372 2868h8M2212 2777h8M2345 2900h8M2118 2882h8M2389 2793h8M2286 2977h8M2349 2879h8M2414 2913h8M2183 2986h8M2121 2786h8M2376 2860h8M2314 2774h8M2371 2847h8M2354 2860h8M2369 2901h8M2331 2816h8M2205 2975h8M2167 3009h8M2283 2990h8M2219 2959h8M2315 2916h8M2463 2954h8M2374 2964h8M2242 2783h8M2117 2719h8M2351 2841h8M2273 2811h8M2235 2822h8M2153 2868h8M2184 2856h8M2373 2894h8M2422 2794h8M2397 2754h8M2370 2779h8M2458 2914h8M2339 2944h8M2253 2752h8M2296 2956h8M2262 2770h8M2251 2774h8M2252 2952h8M2207 2828h8M2151 2814h8M2221 3010h8M2419 2779h8M2218 2851h8M2233 2938h8M2301 2784h8M2426 2984h8M2266 2937h8M2219 2691h8M2404 2850h8M2227 2807h8M2167 2859h8M2381 2887h8M2296 2749h8M2321 2936h8M2183 2874h8M2331 2755h8M2220 2781h8M2258 2776h8M2123 2890h8M2478 2947h8M2403 2865h8M2184 2932h8M2117 2805h8M2178 2911h8M2177 2826h8M2394 2833h8M2315 2770h8M2340 3014h8M2125 2952h8M2184 2829h8M2172 2833h8M2200 2940h8M2275 2784h8M2166 2847h8M2213 2876h8M2333 2906h8M2118 2812h8M2353 2955h8M2246 2755h8M2200 2946h8M2362 2803h8M2209 3013h8M2321 2812h8M2340 2954h8M2318 2757h8M2364 2940h8M2217 2892h8M2394 2903h8M2235 2924h8M2209 2799h8M2194 2790h8M2261 2971h8M2218 2762h8M2251 2793h8M2166 3014h8M2122 2833h8M2183 2857h8M2177 2922h8M2152 2740h8M2293 2733h8M2283 2923h8M2121 2976h8M2120 2775h8M2253 2979h8M2262 2754h8M2506 2760h8M2401 2814h8M2188 2823h8M2381 2817h8M2198 2733h8M2202 2897h8M2423 2838h8M2389 2724h8M2123 2866h8M2340 2817h8M2444 2851h8M2118 2831h8M2347 2820h8M2409 2947h8M2359 2854h8M2274 2927h8M2265 2787h8M2397 2883h8M2134 2718h8M2210 2781h8M2123 2818h8M2370 2883h8M2212 2922h8M2349 2921h8M2176 2828h8M2163 2918h8M2199 2846h8M2172 2849h8M2216 2980h8M2163 2720h8M2406 2938h8M2121 2861h8M2410 2835h8M2189 2912h8M2235 2918h8M2212 2798h8M2392 2833h8M2318 2922h8M2352 2818h8M2379 2765h8M2424 2800h8M2316 2747h8M2370 2840h8M2454 2880h8M2128 2856h8M2246 2814h8M2329 2779h8M2154 2926h8M2245 2811h8M2389 2805h8M2356 2947h8M2322 2962h8M2339 2964h8M2188 2855h8M2201 2895h8M2183 2952h8M2293 2973h8M2371 2830h8M2434 2755h8M2396 2801h8M2260 2960h8M2385 2875h8M2342 2983h8M2322 2644h8M2315 2742h8M2396 2840h8M2121 2971h8M2356 2776h8M2168 2881h8M2362 2793h8M2437 2823h8M2187 2920h8M2282 2978h8M2195 2927h8M2165 3007h8M2203 2845h8M2401 2993h8M2122 2838h8M2278 2932h8M2441 2764h8M2286 2780h8M2253 2951h8M2263 2811h8M2385 2910h8M2330 2891h8M2202 2804h8M2300 2826h8M2122 2954h8M2422 2858h8M2189 2933h8M2242 2774h8M2273 2785h8M2384 2970h8M2194 2816h8M2403 2840h8M2308 2955h8M2181 2860h8M2123 2925h8M2326 2791h8M2238 2957h8M2272 2965h8M2283 2920h8M2208 2931h8M2194 2883h8M2174 2801h8M2121 2895h8M2290 2746h8M2240 2989h8M2129 2839h8M2250 2943h8M2240 2806h8M2309 2807h8M2213 2917h8M2282 2961h8M2357 2904h8M2314 2916h8M2128 2926h8M2463 2959h8M2237 2808h8M2127 2901h8M2196 2725h8M2383 2897h8M2264 2772h8M2136 2874h8M2212 2822h8M2234 2784h8M2118 2874h8M2259 3014h8M2161 2823h8M2261 2736h8M2360 2940h8M2231 2810h8M2344 2806h8M2196 2888h8M2378 2927h8M2268 2915h8M2204 2943h8M2363 2850h8M2371 2847h8M2365 2807h8M2359 2940h8M2404 2964h8M2253 2781h8M2373 2917h8M2219 2798h8M2356 2915h8M2187 2885h8M2398 2792h8M2182 2825h8M2335 2747h8M2303 2778h8M2385 2926h8M2228 2918h8M2209 2784h8M2371 2930h8M2153 2854h8M2221 2910h8M2385 2985h8M2302 2952h8M2347 2976h8M2265 3013h8M2433 2901h8M2380 2803h8M2247 2960h8M2341 2729h8M2296 2752h8M2359 2911h8M2192 2785h8M2278 2935h8M2329 2906h8M2213 2785h8M2275 2774h8M2285 2806h8M2312 2678h8M2220 2717h8M2423 2737h8M2221 2752h8M2126 2932h8M2211 2708h8M2202 2790h8M2211 2785h8M2147 2792h8M2377 2982h8M2309 2796h8M2118 2908h8M2202 2768h8M2354 2804h8M2418 2771h8M2291 2963h8M2331 2980h8M2346 2806h8M2317 2969h8M2253 2937h8M2378 2961h8M2287 2950h8M2238 2960h8M2129 2888h8M2439 2947h8M2146 2800h8M2335 2956h8M2283 2805h8M2179 2828h8M2233 2934h8M2387 2815h8M2179 2931h8M2314 2747h8M2197 2779h8M2176 2724h8M2371 2778h8M2186 2877h8M2172 2987h8M2121 2865h8M2273 2970h8M2358 2819h8M2165 2755h8M2223 2914h8M2448 2849h8M2160 2837h8M2253 2796h8M2204 2867h8M2120 2822h8M2313 2940h8M2323 2944h8M2230 2942h8M2202 2868h8M2200 2884h8M2192 2818h8M2372 2857h8M2139 2773h8M2178 2892h8M2118 2858h8M2319 2945h8M2147 2973h8M2166 2849h8M2135 2936h8M2459 2896h8M2477 2873h8M2217 2753h8M2158 2938h8M2375 2893h8M2235 2903h8M2168 3014h8M2129 2966h8M2149 2814h8M2414 2848h8M2227 2919h8M2139 2977h8M2376 2867h8M2231 2791h8M2232 2977h8M2321 3007h8M2426 2766h8M2292 2745h8M2265 2932h8M2351 2882h8M2345 2780h8M2197 2897h8M2213 2903h8M2330 2939h8M2422 2849h8M2278 2935h8M2324 2821h8M2590 2984h8M2327 2793h8M2365 2776h8M2367 2950h8M2177 2772h8M2470 2854h8M2383 2895h8M2285 2719h8M2261 2795h8M2296 2734h8M2282 2787h8M2171 2839h8M2226 2900h8M2120 2772h8M2328 2699h8M2300 2961h8M2341 2899h8M2307 2954h8M2336 2709h8M2281 2733h8M2257 3014h8M2199 2816h8M2223 3004h8M2372 2897h8M2397 2883h8M2302 2781h8M2132 2866h8M2181 2911h8M2299 2919h8M2317 2936h8M2160 2968h8M2168 2905h8M2441 2817h8M2214 2783h8M2208 2991h8M2236 2736h8M2275 2743h8M2292 2943h8M2200 2827h8M2285 2737h8M2351 2922h8M2158 2837h8M2343 2940h8M2238 2766h8M2500 3013h8M2341 2807h8M2343 2823h8M2310 2781h8M2348 2843h8M2355 2844h8M2224 3003h8M2285 2978h8M2358 2902h8M2215 2937h8M2267 2790h8M2172 2901h8M2433 2926h8M2171 2796h8M2202 2823h8M2311 2940h8M2148 2783h8M2327 2691h8M2208 2726h8M2370 2826h8M2223 2686h8M2332 2762h8M2206 2841h8M2198 2966h8M2390 2705h8M2314 2730h8M2244 2761h8M2248 2940h8M2379 2813h8M2372 2765h8M2171 2903h8M2147 2928h8M2237 2768h8M2380 2831h8M2313 2956h8M2242 2743h8M2316 2915h8M2194 2792h8M2263 2925h8M2353 2846h8M2219 2794h8M2376 2801h8M2290 2734h8M2257 3003h8M2404 2944h8M2231 2923h8M2122 2916h8M2122 2869h8M2333 3015h8M2173 3002h8M2458 2847h8M2332 2938h8M2153 2922h8M2205 2936h8M2366 2847h8M2347 2751h8M2223 2821h8M2294 2700h8M2381 2872h8M2320 3005h8M2255 2691h8M2312 2819h8M2265 2774h8M2301 2946h8M2276 3014h8M2203 2952h8M2434 2849h8M2349 2841h8M2304 2777h8M2204 2874h8M2221 2922h8M2270 2782h8M2371 2820h8M2184 2843h8M2316 2837h8M2324 2918h8M2353 2860h8M2363 2910h8M2400 2924h8M2181 2869h8M2286 2755h8M2227 2959h8M2328 2772h8M2156 2830h8M2315 2969h8M2337 2898h8M2369 2791h8M2309 2827h8M2305 2931h8M2171 2878h8M2446 2791h8M2156 2904h8M2222 3010h8M2183 2932h8M2280 2937h8M2179 2815h8M2444 2808h8M2222 2803h8M2179 2649h8M2281 2935h8M2370 2909h8M2391 2984h8M2379 2809h8M2390 2825h8M2379 2977h8M2139 2828h8M2169 2812h8M2171 2771h8M2351 2801h8M2183 2866h8M2398 2975h8M2307 2956h8M2165 2801h8M2400 2842h8M2365 2774h8M2284 3010h8M2360 2915h8M2242 2802h8M2318 2829h8M2118 2927h8M2264 2954h8M2377 2882h8M2120 2947h8M2217 2943h8M2339 2952h8M2172 2965h8M2346 2881h8M2414 2802h8M2256 2944h8M2268 2962h8M2345 2849h8M2406 2790h8M2350 2794h8M2323 2911h8M2202 2857h8M2467 2967h8M2314 2832h8M2522 2814h8M2146 2919h8M2330 2626h8M2387 2906h8M2334 2770h8M2158 2924h8M2121 2885h8M2282 2798h8M2453 2802h8M2342 2940h8M2285 3007h8M2407 2859h8M2388 2852h8M2268 2731h8M2352 2773h8M2424 2911h8M2148 2908h8M2120 3015h8M2199 2988h8M2257 2964h8M2191 2960h8M2449 2826h8M2252 2747h8M2217 2945h8M2345 2894h8M2365 2940h8M2403 2830h8M2163 2760h8M2280 2920h8M2183 2925h8M2166 2891h8M2258 3012h8M2403 2782h8M2358 2901h8M2454 2931h8M2170 2933h8M2338 2967h8M2304 2795h8M2168 2804h8M2199 2876h8M2275 2941h8M2118 2952h8M2346 2833h8M2126 2910h8M2182 2808h8M2330 2886h8M2347 2842h8M2133 2803h8M2270 2758h8M2124 2922h8M2234 2906h8M2276 2943h8M2366 2688h8M2365 2910h8M2403 2928h8M2331 2898h8M2257 2731h8M2244 2940h8M2432 2944h8M2273 2932h8M2130 2800h8M2202 2835h8M2146 2860h8M2441 2876h8M2199 2872h8M2139 2817h8M2369 2973h8M2145 2845h8M2184 2901h8M2174 2836h8M2218 2789h8M2210 2806h8M2125 2864h8M2271 2913h8M2290 2800h8M2358 2862h8M2318 2967h8M2387 2793h8M2450 2831h8M2236 2740h8M2280 2739h8M2224 2792h8M2237 2972h8M2223 2882h8M2289 2753h8M2190 2804h8M2337 2805h8M2278 2793h8M2294 3011h8M2179 2884h8M2211 2775h8M2409 2870h8M2345 2904h8M2250 2782h8M2366 2843h8M2366 2881h8M2338 2773h8M2134 2886h8M2204 2801h8M2176 2816h8M2186 2927h8M2126 2898h8M2256 2783h8M2190 2917h8M2356 2943h8M2398 2814h8M2264 2809h8M2261 2929h8M2361 2890h8M2323 2891h8M2230 2923h8M2222 2764h8M2369 2870h8M2215 2910h8M2204 2819h8M2364 2788h8M2429 2879h8M2386 2865h8M2355 2891h8M2342 2735h8M2422 2873h8M2382 2897h8M2438 3014h8M2172 2784h8M2385 2755h8M2227 2960h8M2315 2950h8M2272 2972h8M2171 2848h8M2289 2734h8M2126 2851h8M2380 2679h8M2197 2917h8M2162 2716h8M2222 2910h8M2306 2893h8M2292 2907h8M2314 2989h8M2215 2773h8M2451 2863h8M2120 2933h8M2225 2772h8M2175 2957h8M2131 2817h8M2325 2730h8M2370 2813h8M2350 2837h8M2141 2792h8M2308 3007h8M2266 2937h8M2277 2916h8M2223 2782h8M2261 2943h8M2368 2867h8M2317 2744h8M2361 2834h8M2248 2975h8M2393 2990h8M2289 2976h8M2235 3012h8M2344 2725h8M2214 2833h8M2136 2707h8M2314 2813h8M2120 2891h8M2197 2740h8M2284 2785h8M2378 2790h8M2122 2866h8M2307 2938h8M2192 2870h8M2428 2900h8M2425 2832h8M2247 2784h8M2370 2780h8M2381 2991h8M2118 2883h8M2400 2811h8M2277 2755h8M2152 2905h8M2118 2937h8M2388 2785h8M2359 2741h8M2347 2993h8M2419 2915h8M2134 2911h8M2393 2864h8M2147 2808h8M2425 2859h8M2195 2787h8M2138 2817h8M2338 2992h8M2121 2781h8M2366 2936h8M2267 2971h8M2361 2953h8M2374 2931h8M2389 2955h8M2328 2883h8M2217 2973h8M2279 2971h8M2217 2814h8M2240 2779h8M2122 3006h8M2121 2769h8M2118 2794h8M2413 2852h8M2307 2759h8M2382 2844h8M2194 2892h8M2365 2828h8M2254 2797h8M2376 2940h8M2159 2796h8M2378 2870h8M2143 2811h8M2274 2747h8M2250 2943h8M2320 2919h8M2150 2681h8M2286 2782h8M2326 2762h8M2484 2941h8M2226 3010h8M2450 2892h8M2353 2842h8M2339 2895h8M2252 2975h8M2346 3014h8M2180 2763h8M2196 2798h8M2369 2837h8M2396 2846h8M2210 2932h8M2118 2980h8M2276 2917h8M2358 2769h8M2166 2844h8M2219 2937h8M2234 2770h8M2422 2798h8M2395 2833h8M2395 2844h8M2398 2904h8M2385 2893h8M2118 2884h8M2303 2803h8M2147 2823h8M2162 2908h8M2314 2953h8M2221 2912h8M2297 3012h8M2348 2785h8M2132 2890h8M2198 2882h8M2347 2930h8M2195 2981h8M2206 2941h8M2376 2792h8M2296 2810h8M2305 2763h8M2219 2888h8M2352 2980h8M2223 2785h8M2316 2960h8M2139 2967h8M2222 2761h8M2242 2805h8M2181 2915h8M2447 2903h8M2123 2915h8M2397 2837h8M2537 2858h8M2150 2841h8M2241 2962h8M2121 2937h8M2179 2908h8M2370 2799h8M2155 2840h8M2219 2921h8M2342 2820h8M2363 2904h8M2449 2830h8M2206 2769h8M2188 2760h8M2359 2803h8M2122 2732h8M2286 2774h8M2437 2857h8M2319 2758h8M2170 2894h8M2409 2971h8M2123 2744h8M2322 2906h8M2170 2876h8M2212 2845h8M2122 2842h8M2120 2786h8M2215 2721h8M2346 2882h8M2340 2828h8M2196 2938h8M2432 3004h8M2340 2847h8M2393 2865h8M2399 2831h8M2184 2738h8M2305 2979h8M2400 2860h8M2299 2792h8M2255 2932h8M2152 2964h8M2406 2847h8M2383 2885h8M2213 2748h8M2293 2929h8M2366 2859h8M2164 2872h8M2401 2909h8M2121 2911h8M2319 2984h8M2250 2922h8M2257 2800h8M2196 2802h8M2127 2891h8M2203 2871h8M2376 2821h8M2187 2948h8M2398 2763h8M2146 2844h8M2363 2760h8M2398 2834h8M2122 2828h8M2398 2827h8M2400 2870h8M2370 2901h8M2382 2811h8M2372 2760h8M2124 2788h8M2360 2897h8M2383 2870h8M2410 2918h8M2290 3013h8M2118 2871h8M2392 2934h8M2201 2915h8M2194 2783h8M2131 2939h8M2249 2738h8M2275 2784h8M2295 2816h8M2246 2718h8M2369 2939h8M2341 2906h8M2274 3006h8M2393 2856h8M2399 2809h8M2123 2812h8M2312 2955h8M2161 2845h8M2328 2931h8M2351 2907h8M2191 2913h8M2356 2934h8M2221 2942h8M2365 2763h8M2187 2805h8M2353 3014h8M2156 2897h8M2247 2686h8M2381 3010h8M2218 2947h8M2130 2919h8M2150 2868h8M2235 2921h8M2372 2895h8M2302 3014h8M2328 2978h8M2342 2883h8M2265 2938h8M2175 2825h8M2275 2960h8M2123 2879h8M2310 2757h8M2343 2730h8M2203 2908h8M2492 2771h8M2372 2918h8M2407 2807h8M2445 2833h8M2122 2878h8M2310 2901h8M2341 2945h8M2300 3011h8M2165 2770h8M2296 2937h8M2342 2861h8M2224 3011h8M2488 2775h8M2291 2945h8M2368 2960h8M2263 2989h8M2368 2694h8M2366 2961h8M2207 2877h8M2363 2844h8M2118 2913h8M2312 2784h8M2227 2784h8M2226 2741h8M2119 2857h8M2434 2891h8M2263 2736h8M2223 2817h8M2143 2908h8M2201 2814h8M2245 2735h8M2123 2810h8M2295 2930h8M2222 2781h8M2281 2993h8M2292 2694h8M2218 2748h8M2282 2752h8M2413 2869h8M2192 2833h8M2191 2797h8M2182 2872h8M2262 2930h8M2209 2822h8M2274 2803h8M2181 2777h8M2340 2802h8M2301 2776h8M2134 2761h8M2373 2866h8M2401 2940h8M2231 2940h8M2153 2838h8M2265 2754h8M2244 2944h8M2192 2818h8M2298 2805h8M2411 2978h8M2247 2775h8M2177 2839h8M2122 2928h8M2122 2737h8M2133 2863h8M2209 2957h8M2338 2783h8M2236 2977h8M2193 3013h8M2380 2810h8M2334 2741h8M2226 2773h8M2335 2922h8M2204 2834h8M2210 2934h8M2310 2950h8M2345 2921h8M2447 2902h8M2346 2948h8M2171 2913h8M2400 2909h8M2321 2962h8M2308 2910h8M2205 2953h8M2223 2824h8M2202 2977h8M2121 2791h8M2374 2957h8M2195 2884h8M2121 2906h8M2424 2806h8M2121 2905h8M2407 2863h8M2138 2846h8M2121 2860h8M2206 2814h8M2200 2829h8M2131 2974h8M2361 2855h8M2183 2942h8M2307 2783h8M2346 2917h8M2337 2940h8M2332 2801h8M2402 2923h8M2161 3012h8M2198 2956h8M2361 2837h8M2366 2827h8M2134 2849h8M2121 2835h8M2270 2776h8M2217 2982h8M2206 2952h8M2234 2789h8M2342 2750h8M2137 2722h8M2329 2804h8M2293 2763h8M2478 2843h8M2155 2872h8M2150 2775h8M2358 2830h8M2183 2872h8M2139 2743h8M2150 2951h8M2257 2940h8M2242 2769h8M2188 2916h8M2183 2794h8M2347 2881h8M2410 2912h8M2208 2868h8M2359 2875h8M2187 2849h8M2336 2915h8M2204 2788h8M2193 2815h8M2226 3015h8M2121 2830h8M2305 2757h8M2184 2790h8M2181 2818h8M2358 2968h8M2164 2846h8M2313 2795h8M2198 2837h8M2401 2801h8M2250 2718h8M2137 2905h8M2172 2865h8M2443 2816h8M2331 2773h8M2330 2931h8M2340 2832h8M2490 2856h8M2203 2866h8M2348 2927h8M2212 2941h8M2346 2789h8M2228 3012h8M2369 2916h8M2406 2930h8M2326 2904h8M2376 2861h8M2188 2787h8M2216 2687h8M2281 2748h8M2376 2840h8M2254 2819h8M2317 2754h8M2367 2749h8M2292 2771h8M2359 2853h8M2119 2861h8M2204 2783h8M2226 2791h8M2247 2779h8M2317 2788h8M2154 2900h8M2362 2967h8M2332 2903h8M2231 2960h8M2372 2751h8M2193 2927h8M2426 2794h8M2217 2785h8M2249 2920h8M2447 2813h8M2147 2848h8M2415 2939h8M2149 2823h8M2420 2780h8M2205 2905h8M2196 2929h8M2324 2802h8M2120 2894h8M2179 2832h8M2485 3014h8M2192 2761h8M2538 2806h8M2300 2922h8M2168 2941h8M2189 2909h8M2393 2956h8M2198 2970h8M2224 2799h8M2392 2893h8M2357 2765h8M2294 2769h8M2406 2885h8M2120 2848h8M2437 2875h8M2191 2870h8M2471 2843h8M2374 2797h8M2437 2802h8M2157 2801h8M2207 2901h8M2166 2833h8M2379 2785h8M2334 2935h8M2228 2906h8M2353 2924h8M2416 2790h8M2257 2766h8M2349 2857h8M2119 2824h8M2224 2754h8M2177 2803h8M2343 2794h8M2301 2804h8M2378 2812h8M2121 2972h8M2380 2859h8M2172 2716h8M2266 2961h8M2191 2835h8M2277 2918h8M2193 2780h8M2345 2780h8M2344 2928h8M2467 2896h8M2312 2770h8M2148 2814h8M2386 2815h8M2302 2798h8M2295 2796h8M2226 2942h8M2180 2773h8M2148 3006h8M2303 2801h8M2161 2995h8M2293 2956h8M2120 2979h8M2233 2768h8M2174 2874h8M2323 2896h8M2296 2960h8M2247 2914h8M2298 2816h8M2121 2835h8M2412 3010h8M2351 2882h8M2135 2884h8M2311 2932h8M2358 3014h8M2342 2933h8M2188 2918h8M2175 2806h8M2233 2786h8M2362 2814h8M2149 2840h8M2122 2921h8M2295 2938h8M2229 2958h8M2251 2910h8M2400 2776h8M2214 2826h8M2487 2893h8M2319 2810h8M2368 2842h8M2121 2865h8M2329 2714h8M2209 2965h8M2204 2786h8M2368 2909h8M2121 2845h8M2123 2871h8M2291 2778h8M2186 2926h8M2301 2830h8M2319 2821h8M2233 2667h8M2360 2964h8M2323 2941h8M2155 2894h8M2212 3013h8M2423 2875h8M2320 2964h8M2154 2871h8M2291 2927h8M2314 2937h8M2352 2800h8M2118 2891h8M2332 2920h8M2339 2936h8M2180 2851h8M2269 2933h8M2426 2890h8M2209 3011h8M2194 2980h8M2313 2985h8M2365 2899h8M2135 2767h8M2275 2764h8M2267 2750h8M2412 2864h8M2170 2716h8M2432 2888h8M2283 2978h8M2442 2946h8M2200 2972h8M2418 2916h8M2199 2833h8M2375 2764h8M2324 2957h8M2193 2956h8M2312 2680h8M2174 2939h8M2330 2841h8M2344 2903h8M2293 2989h8M2188 2932h8M2312 2993h8M2357 2810h8M2118 2937h8M2307 2920h8M2250 2794h8M2369 2858h8M2298 2690h8M2177 2860h8M2295 2927h8M2271 2951h8M2313 2921h8M2181 2931h8M2129 2912h8M2177 2840h8M2250 2981h8M2259 2779h8M2240 2966h8M2337 2733h8M2377 2992h8M2212 2735h8M2236 2766h8M2212 2904h8M2329 2966h8M2380 2906h8M2261 2780h8M2164 2849h8M2198 2678h8M2329 2834h8M2121 2917h8M2184 2958h8M2295 2779h8M2131 2899h8M2249 2920h8M2160 2892h8M2449 2925h8M2178 2811h8M2353 2984h8M2120 2900h8M2340 2847h8M2252 2932h8M2189 2899h8M2304 2791h8M2474 2976h8M2227 2997h8M2391 2836h8M2243 2968h8M2326 2897h8M2395 2758h8M2394 2837h8M2255 2937h8M2351 2848h8M2278 2942h8M2213 2827h8M2186 2727h8M2385 2757h8M2268 3013h8M2194 2891h8M2128 2833h8M2120 2848h8M2396 2766h8M2118 2883h8M2167 2898h8M2463 2806h8M2237 2774h8M2442 2927h8M2308 2712h8M2218 2750h8M2345 2782h8M2225 2754h8M2307 2785h8M2198 2896h8M2288 2935h8M2173 2971h8M2304 2722h8M2118 2753h8M2224 2966h8M2280 3013h8M2357 2833h8M2145 2828h8M2361 2829h8M2258 2972h8M2363 2871h8M2251 2954h8M2358 2817h8M2284 2785h8M2331 2708h8M2337 2817h8M2216 2963h8M2121 2867h8M2368 3011h8M2458 2939h8M2140 3009h8M2148 2935h8M2247 2982h8M2213 2961h8M2437 2810h8M2289 2992h8M2185 2773h8M2179 2778h8M2172 2847h8M2253 3007h8M2162 2913h8M2309 2762h8M2311 2712h8M2213 2926h8M2294 2756h8M2118 2824h8M2439 2795h8M2179 2902h8M2314 2766h8M2485 2704h8M2381 3006h8M2198 2836h8M2165 2917h8M2287 2727h8M2306 2994h8M2170 2894h8M2225 2973h8M2154 2879h8M2300 2943h8M2203 2911h8M2316 2943h8M2308 3011h8M2341 2792h8M2397 2912h8M2444 2765h8M2403 2887h8M2410 2877h8M2370 2741h8M2161 2808h8M2170 2677h8M2389 2851h8M2385 2978h8M2374 2943h8M2285 2791h8M2194 2770h8M2174 2829h8M2380 2894h8M2396 2802h8M2250 2778h8M2341 2850h8M2173 2879h8M2178 2952h8M2224 2971h8M2206 2732h8M2209 2832h8M2340 2841h8M2424 2826h8M2265 2921h8M2185 2833h8M2343 2822h8M2187 2819h8M2294 2755h8M2167 2944h8M2167 2859h8M2120 2933h8M2260 2952h8M2468 2807h8M2269 2931h8M2346 2728h8M2126 2856h8M2369 2815h8M2291 2937h8M2155 2886h8M2368 2932h8M2189 2782h8M2215 2810h8M2343 2921h8M2325 2722h8M2157 2905h8M2274 2945h8M2179 2771h8M2119 2874h8M2209 2786h8M2187 2858h8M2199 2891h8M2162 2846h8M2415 2883h8M2404 2875h8M2121 2852h8M2268 2957h8M2309 2765h8M2268 2926h8M2203 2940h8M2163 2868h8M2183 2891h8M2222 2817h8M2157 2891h8M2425 2858h8M2120 2786h8M2399 2901h8M2409 2948h8M2359 2772h8M2223 2705h8M2134 2926h8M2224 2766h8M2411 2856h8M2366 2810h8M2387 2736h8M2347 3010h8M2375 2910h8M2223 2753h8M2313 2780h8M2271 2959h8M2203 2753h8M2253 2771h8M2422 2949h8M2350 2924h8M2451 2882h8M2384 2854h8M2354 3005h8M2195 2949h8M2400 2859h8M2120 2897h8M2439 2857h8M2289 2994h8M2210 2953h8M2217 2900h8M2323 2732h8M2216 3013h8M2324 2850h8M2122 2794h8M2326 2932h8M2146 2913h8M2337 2984h8M2163 2914h8M2186 2738h8M2254 2805h8M2183 2776h8M2191 2851h8M2263 2786h8M2118 2846h8M2250 2709h8M2483 2793h8M2452 2766h8M2118 2979h8M2359 2749h8M2439 2869h8M2285 2760h8M2460 2883h8M2426 2708h8M2308 2813h8M2398 2906h8M2211 2931h8M2422 2871h8M2203 2819h8M2334 2899h8M2222 2932h8M2297 2748h8M2318 2783h8M2175 2763h8M2150 2955h8M2335 2942h8M2285 2988h8M2147 2852h8M2202 2896h8M2124 2898h8M2144 2862h8M2227 2959h8M2294 2962h8M2122 2917h8M2119 2836h8M2462 2847h8M2358 2820h8M2392 2812h8M2333 2678h8M2354 2889h8M2337 2779h8M2223 2787h8M2337 2989h8M2347 2841h8M2122 2784h8M2323 2859h8M2372 2930h8M2302 3014h8M2122 2900h8M2166 2855h8M2399 2879h8M2400 2820h8M2131 2921h8M2290 2752h8M2353 2935h8M2178 2882h8M2242 3002h8M2419 2893h8M2223 2737h8M2374 2787h8M2288 2797h8M2274 2950h8M2350 2897h8M2217 2846h8M2375 2960h8M2206 2798h8M2118 2836h8M2297 2975h8M2122 2886h8M2205 2955h8M2213 2781h8M2251 2933h8M2369 2820h8M2382 2745h8M2190 2897h8M2118 2951h8M2149 2911h8M2280 2982h8M2329 3005h8M2117 2851h8M2363 2782h8M2288 2936h8M2169 2725h8M2340 2927h8M2184 2869h8M2465 2812h8M2138 2912h8M2170 2855h8M2195 2940h8M2241 2930h8M2353 2919h8M2382 2901h8M2168 2977h8M2177 2879h8M2124 2907h8M2144 2750h8M2314 2926h8M2364 2831h8M2122 2775h8M2417 2905h8M2195 2757h8M2330 2924h8M2393 2850h8M2297 2788h8M2118 3012h8M2384 2862h8M2181 2824h8M2415 2814h8M2237 2719h8M2322 2807h8M2118 2871h8M2189 2836h8M2171 2849h8M2155 2794h8M2359 2983h8M2373 2903h8M2480 2923h8M2280 2932h8M2204 2892h8M2245 2942h8M2366 2761h8M2250 2808h8M2461 2845h8M2302 2768h8M2203 2927h8M2271 2765h8M2179 2945h8M2381 2869h8M2400 2957h8M2353 2934h8M2440 2873h8M2414 2832h8M2121 2977h8M2255 2910h8M2325 2926h8M2361 2971h8M2418 2815h8M2181 2813h8M2253 2802h8M2377 2840h8M2189 2977h8M2217 3015h8M2227 2757h8M2302 2756h8M2166 2788h8M2378 2856h8M2362 2936h8M2416 2902h8M2323 2781h8M2407 2921h8M2408 2825h8M2310 2954h8M2287 2973h8M2160 2885h8M2155 2837h8M2239 2940h8M2200 2935h8M2328 2960h8M2158 2896h8M2286 2788h8M2184 2971h8M2342 2774h8M2351 2849h8M2456 2957h8M2298 2745h8M2144 2835h8M2157 2907h8M2432 2921h8M2388 2919h8M2310 2727h8M2321 2829h8M2120 2909h8M2253 2917h8M2445 2793h8M2256 2921h8M2302 2949h8M2175 2906h8M2178 2899h8M2468 2658h8M2379 2901h8M2259 2958h8M2358 2854h8M2120 2977h8M2244 2745h8M2441 2874h8M2377 2864h8M2327 2742h8M2149 2845h8M2385 2847h8M2242 2803h8M2445 2841h8M2229 2715h8M2345 2973h8M2317 2769h8M2184 2819h8M2313 2927h8M2328 2939h8M2347 2807h8M2429 2979h8M2373 2849h8M2192 2843h8M2400 2791h8M2490 2839h8M2184 2751h8M2331 2851h8M2173 2789h8M2400 2803h8M2119 2815h8M2330 2785h8M2223 2974h8M2216 2789h8M2151 2768h8M2325 2944h8M2223 2791h8M2231 2963h8M2413 2860h8M2251 2970h8M2148 2914h8M2387 2916h8M2311 2995h8M2308 2809h8M2199 2943h8M2121 2828h8M2119 2876h8M2137 2907h8M2367 2746h8M2169 2806h8M2304 2955h8M2384 2757h8M2176 2829h8M2364 2816h8M2248 2749h8M2310 2933h8M2458 2877h8M2181 2826h8M2332 2879h8M2185 2819h8M2281 2934h8M2376 2924h8M2392 2821h8M2121 2788h8M2183 2964h8M2316 2906h8M2302 2964h8M2283 2723h8M2352 2831h8M2176 2740h8M2304 2825h8M2236 2748h8M2412 2827h8M2180 2899h8M2493 2775h8M2157 2912h8M2392 2868h8M2365 2840h8M2287 2788h8M2118 2859h8M2342 2971h8M2299 2764h8M2183 2880h8M2429 2836h8M2153 2874h8M2274 2788h8M2220 2796h8M2201 2886h8M2359 2844h8M2159 2786h8M2159 2886h8M2432 2810h8M2329 2947h8M2138 2716h8M2299 2697h8M2190 2830h8M2164 2954h8M2373 2878h8M2253 2792h8M2208 2784h8M2271 2968h8M2270 2762h8M2238 2923h8M2192 2745h8M2329 2762h8M2333 2890h8M2204 2801h8M2256 2638h8M2217 2911h8M2343 2887h8M2254 2970h8M2399 2864h8M2528 2915h8M2341 2944h8M2434 2915h8M2317 2996h8M2361 2908h8M2232 2753h8M2124 2813h8M2248 2977h8M2173 2858h8M2172 3014h8M2202 2772h8M2145 3010h8M2122 2731h8M2187 2817h8M2132 2794h8M2192 2890h8M2222 2778h8M2287 2923h8M2269 2783h8M2425 2793h8M2363 2925h8M2122 2892h8M2143 2895h8M2273 2988h8M2195 2739h8M2347 2796h8M2240 2795h8M2201 2854h8M2292 2812h8M2207 2840h8M2240 2938h8M2418 2892h8M2310 2801h8M2146 2915h8M2294 2734h8M2192 2832h8M2196 2924h8M2147 2819h8M2214 3003h8M2355 2939h8M2213 2800h8M2273 2760h8M2122 2913h8M2252 2783h8M2118 2773h8M2291 2748h8M2361 2761h8M2376 2874h8M2291 2939h8M2419 2922h8M2239 2722h8M2248 2970h8M2261 2768h8M2131 2728h8M2139 2786h8M2347 3002h8M2385 2977h8M2489 2752h8M2320 2900h8M2455 2799h8M2218 2748h8M2334 2964h8M2372 2731h8M2216 2897h8M2353 2801h8M2353 2775h8M2175 2791h8M2139 2824h8M2280 2775h8M2122 2829h8M2153 2843h8M2318 2957h8M2360 2844h8M2324 2899h8M2296 2995h8M2334 2838h8M2187 2780h8M2328 2807h8M2225 2946h8M2314 2978h8M2191 2855h8M2329 2905h8M2255 2772h8M2131 2825h8M2358 2920h8M2367 2928h8M2270 2796h8M2152 2924h8M2367 2914h8M2198 2808h8M2265 2919h8M2451 2707h8M2255 2962h8M2432 2932h8M2260 2952h8M2120 2778h8M2171 2924h8M2122 2924h8M2274 2937h8M2213 3012h8M2224 2750h8M2239 2701h8M2210 2960h8M2224 2716h8M2271 2942h8M2168 2811h8M2130 2819h8M2119 2957h8M2332 2756h8M2386 2713h8M2221 2826h8M2214 2803h8M2270 2929h8M2172 2815h8M2298 2786h8M2365 2899h8M2167 2835h8M2165 2715h8M2191 2800h8M2160 2937h8M2326 2798h8M2233 2782h8M2271 2791h8M2369 2885h8M2377 2918h8M2301 2942h8M2280 2767h8M2122 2965h8M2170 2836h8M2253 3009h8M2322 2807h8M2292 2783h8M2403 2780h8M2195 2999h8M2164 2797h8M2247 2932h8M2245 2966h8M2347 2817h8M2350 2841h8M2330 2907h8M2435 2811h8M2326 3012h8M2394 2943h8M2423 2815h8M2140 2955h8M2265 2754h8M2371 2704h8M2331 2805h8M2178 2936h8M2232 2895h8M2276 2737h8M2346 2805h8M2152 2753h8M2305 2766h8M2354 2803h8M2192 2790h8M2190 2845h8M2315 2738h8M2316 2963h8M2295 2915h8M2144 2774h8M2173 2829h8M2286 2789h8M2160 2805h8M2309 2779h8M2201 2898h8M2259 2939h8M2121 2954h8M2120 2812h8M2322 2932h8M2192 2892h8M2250 3005h8M2323 2779h8M2253 2825h8M2204 2895h8M2351 2921h8M2342 2844h8M2195 2724h8M2175 2841h8M2163 2887h8M2326 2966h8M2197 2805h8M2209 2910h8M2448 2938h8M2328 2906h8M2212 2949h8M2332 2809h8M2223 2926h8M2190 2864h8M2278 2725h8M2337 2994h8M2381 2846h8M2328 2991h8M2255 2764h8M2404 2924h8M2225 2941h8M2235 2991h8M2118 2846h8M2290 2778h8M2277 2951h8M2211 2886h8M2302 2924h8M2305 2820h8M2250 2953h8M2310 2966h8M2321 2715h8M2198 2931h8M2401 2869h8M2313 2738h8M2121 2894h8M2271 2950h8M2130 2850h8M2383 2866h8M2121 2765h8M2431 2892h8M2266 2965h8M2170 2714h8M2389 2800h8M2493 2846h8M2200 2735h8M2367 2782h8M2331 2727h8M2226 2603h8M2298 2486h8M2421 2457h8M2263 2527h8M2158 2487h8M2276 2423h8M2276 2523h8M2125 2539h8M2217 2419h8M2405 2540h8M2328 2570h8M2425 2559h8M2232 2406h8M2119 2631h8M2342 2514h8M2265 2444h8M2171 2467h8M2293 2513h8M2393 2486h8M2327 2618h8M2270 2636h8M2302 2421h8M2390 2447h8M2414 2621h8M2305 2525h8M2221 2565h8M2232 2420h8M2275 2545h8M2279 2464h8M2378 2489h8M2446 2479h8M2461 2607h8M2260 2512h8M2299 2547h8M2267 2588h8M2186 2444h8M2212 2481h8M2478 2510h8M2154 2425h8M2270 2501h8M2276 2469h8M2405 2512h8M2330 2600h8M2276 2500h8M2222 2425h8M2285 2565h8M2329 2575h8M2251 2535h8M2266 2542h8M2378 2448h8M2191 2504h8M2356 2572h8M2262 2613h8M2360 2511h8M2371 2551h8M2294 2499h8M2381 2572h8M2226 2539h8M2415 2557h8M2308 2446h8M2323 2464h8M2234 2534h8M2129 2575h8M2130 2469h8M2177 2448h8M2165 2509h8M2357 2451h8M2182 2542h8M2273 2472h8M2319 2545h8M2188 2410h8M2267 2640h8M2249 2530h8M2220 2514h8M2379 2547h8M2437 2623h8M2309 2430h8M2147 2561h8M2296 2599h8M2297 2636h8M2123 2621h8M2263 2431h8M2219 2598h8M2436 2445h8M2135 2610h8M2314 2516h8M2385 2483h8M2125 2491h8M2146 2449h8M2247 2430h8M2511 2556h8M2320 2535h8M2275 2543h8M2301 2533h8M2371 2541h8M2333 2443h8M2479 2543h8M2251 2631h8M2254 2555h8M2318 2412h8M2363 2587h8M2144 2639h8M2388 2430h8M2295 2548h8M2429 2604h8M2295 2589h8M2217 2620h8M2211 2585h8M2163 2632h8M2367 2436h8M2356 2507h8M2134 2508h8M2245 2607h8M2408 2574h8M2371 2516h8M2379 2447h8M2314 2491h8M2288 2544h8M2231 2452h8M2434 2457h8M2241 2430h8M2442 2435h8M2451 2426h8M2286 2417h8"/>
<path transform="scale(.1)" fill="none" stroke="#fff" stroke-opacity=".55" stroke-width="7" d="M2175 2830h7M2468 2799h7M2196 2754h7M2260 2789h7M2376 2854h7M2176 2888h7M2151 2804h7M2153 2865h7M2240 2953h7M2362 2749h7M2303 2728h7M2150 2925h7M2394 2825h7M2318 2966h7M2185 2846h7M2173 2948h7M2384 3006h7M2322 2783h7M2345 2872h7M2198 2927h7M2431 2866h7M2575 2867h7M2218 2835h7M2245 2976h7M2225 2960h7M2446 2693h7M2178 2928h7M2227 2799h7M2203 2707h7M2213 2897h7M2399 2770h7M2389 2879h7M2151 2776h7M2485 2939h7M2516 2779h7M2393 2820h7M2171 2928h7M2124 2754h7M2420 2710h7M2134 2984h7M2192 2775h7M2271 2740h7M2180 2716h7M2156 2900h7M2158 2914h7M2211 2975h7M2376 2935h7M2357 2910h7M2283 2950h7M2191 2809h7M2261 2774h7M2218 2922h7M2347 2904h7M2365 2969h7M2384 2853h7M2235 2779h7M2231 2730h7M2223 2949h7M2397 2860h7M2338 2712h7M2401 2865h7M2419 2881h7M2331 2712h7M2473 2928h7M2207 2765h7M2318 2962h7M2339 2784h7M2243 2711h7M2562 2916h7M2471 2781h7M2258 2677h7M2416 2800h7M2284 2654h7M2249 2701h7M2127 2820h7M2238 2763h7M2225 2756h7M2409 2774h7M2407 2765h7M2373 2941h7M2218 2847h7M2184 2938h7M2428 2863h7M2455 2795h7M2338 2819h7M2336 2981h7M2380 2900h7M2220 2901h7M2368 2685h7M2488 2866h7M2430 2777h7M2501 2754h7M2129 2945h7M2527 2899h7M2177 2746h7M2494 2784h7M2306 2924h7M2451 2910h7M2343 2853h7M2349 2830h7M2385 2951h7M2159 2924h7M2307 2945h7M2300 2804h7M2356 2891h7M2452 2996h7M2175 2892h7M2290 2721h7M2403 2725h7M2330 2845h7M2412 2803h7M2273 2677h7M2391 2920h7M2251 2767h7M2205 2798h7M2213 2747h7M2258 2949h7M2143 2968h7M2278 2971h7M2367 2835h7M2250 2787h7M2392 2709h7M2339 3004h7M2222 2750h7M2424 2889h7M2381 2923h7M2482 2896h7M2202 2844h7M2199 2740h7M2258 2976h7M2229 2973h7M2406 2793h7M2491 2931h7M2288 2748h7M2392 2948h7M2300 2696h7M2325 2735h7M2262 2783h7M2277 2737h7M2381 2875h7M2306 2761h7M2237 2716h7M2261 2716h7M2322 2799h7M2366 2815h7M2176 2737h7M2311 2963h7M2412 2803h7M2172 2859h7M2339 2725h7M2323 2690h7M2145 2840h7M2413 2755h7M2326 2980h7M2186 2930h7M2147 2833h7M2378 2732h7M2222 2993h7M2145 2894h7M2210 2937h7M2144 2888h7M2381 2772h7M2392 2892h7M2148 2973h7M2308 2930h7M2160 2692h7M2224 2801h7M2358 2854h7M2217 2824h7M2126 2791h7M2364 2924h7M2348 2956h7M2224 2361h7M2225 2295h7M2209 2382h7M2152 2328h7M2402 2362h7M2194 2375h7M2336 2270h7M2154 2368h7M2255 2282h7M2210 2381h7M2138 2386h7M2379 2323h7M2298 2285h7M2390 2296h7M2381 2328h7M2354 2303h7M2097 2313h7M2393 2323h7M2119 2328h7M2188 2370h7M2305 2274h7M2388 2368h7M2226 2270h7M2148 2337h7M2311 2348h7M2401 2308h7M2245 2262h7M2356 2379h7M2263 2284h7M2255 2406h7M2281 2372h7M2092 2327h7M2236 2289h7M2176 2393h7M2166 2392h7"/>
<path transform="scale(.1)" fill="none" stroke="#222" stroke-opacity=".55" stroke-width="10" d="M2595 2305h10M2953 2269h10M2932 2331h10M2712 2323h10M2943 2307h10M2730 2309h10M2688 2306h10M2837 2331h10M2818 2346h10M2734 2319h10M2841 2322h10M2871 2290h10M2853 2320h10M2648 2344h10M2740 2264h10M2596 2306h10M2754 2270h10M2651 2287h10M2802 2314h10M2653 2326h10M2799 2364h10M2648 2320h10M2719 2264h10M2707 2377h10M2677 2327h10M2788 2292h10M2625 2310h10M2776 2366h10M2875 2212h10M2725 2291h10M2792 2282h10M2790 2301h10M2795 2332h10M2742 2364h10M2935 2267h10M2756 2357h10M2848 2258h10M2661 2346h10M2741 2280h10M2904 2356h10M2678 2292h10M2830 2302h10M2907 2361h10M2705 2359h10M2712 2338h10M2867 2281h10M2813 2340h10M3029 2305h10M2870 2282h10M2989 2323h10M2871 2303h10M2732 2389h10M2742 2354h10M2640 2304h10M2823 2256h10M2623 2323h10M2716 2364h10M2824 2325h10M2734 2295h10M3040 2312h10M2614 2245h10M2836 2296h10M2706 2287h10M2858 2360h10M2952 2315h10M2847 2304h10M2637 2271h10M2742 2324h10M2910 2349h10M2954 2296h10M2752 2289h10M2831 2287h10M2726 2313h10M2917 2313h10M2892 2335h10M3059 2324h10M3031 2326h10M2936 2261h10M2650 2320h10M2800 2331h10M2760 2348h10M2801 2318h10M2735 2300h10M2700 2321h10M2911 2274h10M2660 2325h10M2784 2369h10M2953 2311h10M2584 2266h10M2754 2277h10M2613 2345h10M2909 2273h10"/>
<path transform="scale(.1)" fill="none" stroke="#222" stroke-opacity=".55" stroke-width="9" d="M2640 2711h9M2822 2934h9M2914 2858h9M2998 2730h9M2715 2716h9M3045 2911h9M3031 2937h9M2946 2910h9"/>
<path d="M199.9 180.8H345.0" stroke="#555" stroke-width="1.2" fill="none"/>
<path d="M344.4 180.3V311.6" stroke="#4a4a4a" stroke-width="1.3" fill="none"/>
<path d="M210.9 180.8V302.7M199.9 302.1H345.0" stroke="#1a1a1a" stroke-width="1.4" fill="none"/>
<path d="M256.1 180.8V302.1M210.9 260.7H344.4" stroke="#222" stroke-width="1.3" fill="none"/>
<path d="M210.9 302.1v9.5M244.3 302.1v9.5M277.6 302.1v9.5M311.0 302.1v9.5" stroke="#555" stroke-width=".8" fill="none"/>
<path d="M210.9 271.6h-11M210.9 241.1h-11M210.9 210.6h-11" stroke="#6a6a6a" stroke-width=".7" fill="none"/>
<path d="M220.9 302.1v2.6M226.8 302.1v2.6M231.0 302.1v2.6M234.2 302.1v2.6M236.9 302.1v2.6M239.1 302.1v2.6M241.0 302.1v2.6M242.7 302.1v2.6M210.9 292.9h-2.8M210.9 287.5h-2.8M210.9 283.7h-2.8M210.9 280.8h-2.8M210.9 278.4h-2.8M210.9 276.3h-2.8M210.9 274.6h-2.8M210.9 273.0h-2.8M254.3 302.1v2.6M260.2 302.1v2.6M264.4 302.1v2.6M267.6 302.1v2.6M270.2 302.1v2.6M272.5 302.1v2.6M274.4 302.1v2.6M276.1 302.1v2.6M210.9 262.4h-2.8M210.9 257.0h-2.8M210.9 253.2h-2.8M210.9 250.3h-2.8M210.9 247.9h-2.8M210.9 245.8h-2.8M210.9 244.1h-2.8M210.9 242.5h-2.8M287.7 302.1v2.6M293.6 302.1v2.6M297.7 302.1v2.6M301.0 302.1v2.6M303.6 302.1v2.6M305.9 302.1v2.6M307.8 302.1v2.6M309.5 302.1v2.6M210.9 231.9h-2.8M210.9 226.5h-2.8M210.9 222.7h-2.8M210.9 219.8h-2.8M210.9 217.4h-2.8M210.9 215.3h-2.8M210.9 213.6h-2.8M210.9 212.0h-2.8M321.1 302.1v2.6M326.9 302.1v2.6M331.1 302.1v2.6M334.4 302.1v2.6M337.0 302.1v2.6M339.2 302.1v2.6M341.2 302.1v2.6M342.9 302.1v2.6M210.9 201.4h-2.8M210.9 196.0h-2.8M210.9 192.2h-2.8M210.9 189.3h-2.8M210.9 186.9h-2.8M210.9 184.8h-2.8M210.9 183.1h-2.8M210.9 181.5h-2.8" stroke="#3a3a3a" stroke-width=".75" fill="none"/>
<text class="ax" transform="translate(211.8 311.8) scale(.8 1)">10<tspan class="sp" dy="-1.7">0</tspan></text>
<text class="ax" transform="translate(198.5 300.4) scale(.8 1)">10<tspan class="sp" dy="-1.7">0</tspan></text>
<text class="ax" transform="translate(245.2 311.8) scale(.8 1)">10<tspan class="sp" dy="-1.7">1</tspan></text>
<text class="ax" transform="translate(198.5 269.9) scale(.8 1)">10<tspan class="sp" dy="-1.7">1</tspan></text>
<text class="ax" transform="translate(278.5 311.8) scale(.8 1)">10<tspan class="sp" dy="-1.7">2</tspan></text>
<text class="ax" transform="translate(198.5 239.4) scale(.8 1)">10<tspan class="sp" dy="-1.7">2</tspan></text>
<text class="ax" transform="translate(311.9 311.8) scale(.8 1)">10<tspan class="sp" dy="-1.7">3</tspan></text>
<text class="ax" transform="translate(198.5 208.9) scale(.8 1)">10<tspan class="sp" dy="-1.7">3</tspan></text>
<text class="q" x="210.3" y="187.6">B1</text><text class="q" x="212.8" y="195.2">57.2%</text>
<text class="q" x="256.5" y="187.6">B2</text><text class="q" x="260.5" y="195.2">0.7%</text>
<text class="q" x="210.3" y="267.9">B3</text><text class="q" x="212.8" y="275.9">42.0%</text>
<text class="q" x="256.5" y="267.9">B4</text><text class="q" x="260.5" y="275.9">0.1%</text>
<text class="pl" x="331.4" y="201.0">E</text>
</g>
<g>
<clipPath id="cpF"><rect x="376.5" y="180.8" width="135.0" height="120.9"/></clipPath>
<g clip-path="url(#cpF)">
<ellipse cx="391.9" cy="285.8" rx="19.1" ry="16.4" fill="url(#lg)"/>
<ellipse cx="390.1" cy="231.7" rx="15.4" ry="7.4" fill="url(#ug)"/>
</g>
<path transform="scale(.1)" fill="none" stroke="#000" stroke-opacity=".8" stroke-width="8" d="M3768 2304h8M3790 2391h8M3801 2255h8M3777 2326h8M3858 2397h8M4026 2298h8M3998 2260h8M3976 2260h8M3780 2327h8M3894 2400h8M4041 2308h8M4055 2337h8M4061 2346h8M3775 2349h8M3769 2328h8M3887 2256h8M3882 2398h8M3978 2379h8M3890 2245h8M4027 2339h8M4055 2346h8M4025 2316h8M3825 2387h8M4025 2346h8M3810 2283h8M3895 2234h8M3943 2258h8M3772 2301h8M3957 2265h8M4030 2334h8M4099 2319h8M3938 2261h8M3771 2284h8M3990 2361h8M4023 2321h8M3956 2401h8M3821 2263h8M3976 2254h8M3813 2376h8M3856 2380h8M3810 2246h8M3939 2385h8M4002 2398h8M3972 2378h8M3966 2386h8M3770 2307h8M3884 2245h8M3773 2284h8M3767 2335h8M3944 2384h8M4097 2315h8M3925 2381h8M3922 2222h8M3924 2389h8M3773 2374h8M3901 2248h8M3867 2390h8M3976 2248h8M4071 2365h8M3880 2254h8M3960 2271h8M3999 2240h8M3773 2313h8M3953 2421h8M3896 2391h8M3832 2389h8M3867 2382h8M3811 2275h8M3872 2385h8M4023 2337h8M3931 2265h8M3768 2319h8M4026 2291h8M4006 2280h8M3998 2283h8M3959 2242h8M4001 2392h8M4015 2279h8M3777 2358h8M3834 2372h8M3935 2241h8M3769 2312h8M3927 2395h8M3789 2295h8M3814 2276h8M4041 2358h8M3842 2377h8M3823 2263h8M4008 2362h8M3946 2377h8M3910 2392h8M4040 2308h8M3960 2261h8M4035 2276h8M4116 2300h8M3771 2329h8M3914 2260h8M3839 2402h8M4025 2330h8M3877 2260h8M3998 2373h8M3773 2284h8M4034 2335h8M3923 2253h8M3780 2254h8M4051 2305h8M3960 2381h8M3898 2252h8M3964 2373h8M4052 2353h8M3859 2386h8M3850 2376h8M3767 2322h8M3961 2385h8M4025 2309h8M3973 2272h8M3970 2273h8M3998 2380h8M3771 2314h8M4011 2379h8M3979 2380h8M3925 2390h8M4040 2349h8M3882 2263h8M4085 2323h8M3826 2270h8M3780 2304h8M4018 2341h8M3891 2246h8M3776 2322h8M3802 2356h8M3988 2269h8M3769 2321h8M4014 2380h8M4034 2355h8M3962 2373h8M4023 2262h8M4014 2363h8M4092 2293h8M3930 2388h8M4020 2285h8M3938 2266h8M3769 2328h8M4021 2264h8M3807 2386h8M3885 2242h8M3769 2361h8M3767 2380h8M3769 2361h8M3974 2272h8M3977 2256h8M3987 2272h8M4064 2308h8M3824 2256h8M3783 2363h8M3773 2317h8M4010 2346h8M4006 2402h8M4019 2302h8M3973 2270h8M3791 2347h8M4028 2319h8M3921 2406h8M3999 2367h8M3895 2386h8M3783 2347h8M3770 2341h8M3769 2263h8M3770 2342h8M3802 2363h8M3840 2377h8M3867 2235h8M3929 2259h8M3781 2332h8M3872 2396h8M3906 2259h8M3814 2275h8M3830 2376h8M3924 2239h8M3932 2262h8M3934 2398h8M3783 2256h8M3981 2403h8M3767 2326h8M3834 2220h8M3767 2345h8M3981 2386h8M4029 2239h8M3769 2322h8M3780 2328h8M3980 2373h8M3967 2270h8M3772 2341h8M3824 2373h8M3861 2397h8M3773 2298h8M3923 2241h8M3826 2397h8M4004 2261h8M3916 2380h8M4040 2330h8M3797 2383h8M4040 2356h8M4048 2329h8M3861 2233h8M3879 2212h8M3774 2365h8M4015 2349h8M3858 2379h8M3779 2315h8M3993 2279h8M4020 2347h8M3874 2264h8M3788 2341h8M3889 2396h8M3875 2396h8M3814 2249h8M4009 2373h8M3982 2374h8M4034 2328h8M3770 2256h8M3782 2387h8M4019 2336h8M4000 2269h8M4022 2295h8M4017 2362h8M3793 2357h8M3975 2246h8M3788 2375h8M4047 2308h8M3917 2232h8M3961 2412h8M3890 2384h8M3972 2401h8M3771 2323h8M3973 2370h8M4064 2286h8M4044 2356h8M3985 2382h8M3902 2380h8M3809 2257h8M3834 2267h8M4039 2317h8M4018 2348h8M3770 2308h8M3998 2374h8M3954 2393h8M3837 2406h8M4043 2327h8M3964 2377h8M3801 2367h8M3867 2256h8M3768 2329h8M3850 2243h8M3790 2394h8M3768 2333h8M3768 2258h8M3786 2367h8M3893 2380h8M3775 2289h8M3810 2271h8M3941 2257h8M3960 2377h8M3868 2251h8M3863 2230h8M3985 2387h8M3859 2390h8M3853 2389h8M3895 2420h8M3797 2284h8M3818 2254h8M3979 2273h8M3788 2294h8M3928 2410h8M3938 2253h8M3987 2372h8M4031 2332h8M4013 2344h8M3840 2379h8M3792 2356h8M3870 2390h8M3831 2410h8M4000 2262h8M4010 2284h8M3776 2366h8M3889 2239h8M3768 2281h8M4047 2324h8M3769 2371h8M3834 2264h8M4029 2340h8M3770 2342h8M3904 2248h8M4032 2257h8M3838 2385h8M3778 2290h8M4021 2354h8M3769 2355h8M3949 2376h8M3768 2307h8M4032 2361h8M3899 2392h8M4039 2287h8M4020 2342h8M4028 2317h8M3768 2333h8M3895 2394h8M3791 2286h8M3767 2342h8M3852 2252h8M3809 2275h8M4043 2338h8M4044 2278h8M3859 2262h8M3768 2289h8M4028 2397h8M3851 2390h8M3885 2384h8M4066 2310h8M3768 2298h8M3784 2287h8M3939 2399h8M3828 2368h8M4016 2345h8M4033 2248h8M3839 2245h8M3772 2316h8M3828 2275h8M3775 2311h8M3897 2254h8M3959 2258h8M3971 2250h8M3856 2264h8M3960 2387h8M4043 2327h8M4021 2356h8M3979 2270h8M4040 2333h8M3822 2365h8M4030 2305h8M3779 2348h8M3771 2340h8M4042 2272h8M3770 2343h8M3769 2404h8M3769 2248h8M4047 2341h8M4022 2306h8M3771 2345h8M3798 2271h8M3853 2254h8M3909 2259h8M3804 2366h8M4066 2317h8M3770 2348h8M3831 2250h8M3968 2257h8M3990 2262h8M3997 2370h8M3768 2306h8M3824 2404h8M3990 2362h8M3825 2394h8M4014 2259h8M3955 2261h8M3950 2405h8M3984 2279h8M3771 2302h8M3882 2384h8M3772 2307h8M3835 2386h8M3770 2318h8M3772 2330h8M3851 2267h8M4013 2261h8M3768 2291h8M4021 2376h8M3852 2376h8M3933 2263h8M4106 2314h8M3979 2260h8M3975 2269h8M3869 2262h8M4022 2403h8M3852 2265h8M3902 2237h8M4023 2341h8M3822 2275h8M4070 2272h8M3816 2368h8M3771 2284h8M4055 2310h8M4007 2361h8M3799 2280h8M3884 2229h8M4002 2379h8M3947 2376h8M3774 2312h8M3925 2378h8M4024 2324h8M3999 2280h8M4062 2379h8M3813 2372h8M4010 2365h8M3974 2383h8M3777 2274h8M3771 2322h8M3773 2321h8M4062 2314h8M4026 2315h8M3814 2362h8M3786 2374h8M3834 2371h8M4008 2271h8M4068 2306h8M4102 2343h8M4017 2274h8M3768 2329h8M3767 2367h8M3873 2378h8M3895 2247h8M4019 2380h8M4012 2357h8M3770 2294h8M4031 2344h8M3803 2274h8M4058 2276h8M4009 2251h8M3868 2261h8M3777 2319h8M3955 2266h8M3950 2261h8M4035 2320h8M3873 2378h8M3867 2236h8M3770 2284h8M3863 2390h8M4019 2284h8M3854 2263h8M4021 2353h8M3767 2282h8M3772 2294h8M3944 2263h8M3951 2251h8M3768 2301h8M3903 2248h8M4030 2266h8M3869 2420h8M3968 2383h8M4023 2294h8M4022 2346h8M4023 2347h8M3979 2388h8M3771 2258h8M3882 2392h8M3959 2391h8M3825 2252h8M3871 2265h8M4023 2270h8M4015 2230h8M3782 2297h8M3843 2261h8M3769 2292h8M3773 2288h8M4043 2318h8M4022 2291h8M4023 2327h8M3807 2373h8M4020 2282h8M4010 2296h8M4010 2359h8M3948 2243h8M3936 2259h8M3826 2262h8M3767 2304h8M3997 2272h8M3823 2369h8M4068 2336h8M3790 2360h8M3804 2279h8M3769 2321h8M4110 2302h8M3902 2241h8M3820 2275h8M4044 2303h8M3916 2398h8M4018 2290h8M4026 2328h8M4081 2297h8M4050 2353h8M4007 2374h8M3875 2262h8M4010 2360h8M3771 2317h8M3862 2251h8M3796 2393h8M3770 2264h8M3817 2373h8M3986 2251h8M3848 2400h8M3923 2382h8M3952 2379h8M3841 2376h8M3975 2260h8M3769 2338h8M4004 2251h8M3768 2302h8M3839 2381h8M4013 2357h8M4107 2360h8M3771 2362h8M3955 2257h8M3771 2266h8M4042 2353h8M4001 2289h8M4001 2371h8M3912 2262h8M3767 2391h8M3989 2386h8M3812 2272h8M4050 2330h8M3916 2381h8M3787 2344h8M3770 2304h8M3833 2260h8M3915 2241h8M3813 2263h8M3944 2386h8M3777 2298h8M4023 2337h8M3926 2236h8M4018 2349h8M3864 2262h8M4042 2340h8M3997 2285h8M3790 2269h8M4023 2290h8M3927 2247h8M3931 2385h8M3983 2252h8M3770 2302h8M3778 2324h8M4102 2346h8M3782 2301h8M3770 2332h8M3773 2323h8M4063 2297h8M3854 2227h8M3805 2357h8M4023 2337h8M3778 2285h8M3768 2312h8M3990 2246h8M3776 2371h8M3884 2244h8M3848 2374h8M4044 2332h8M3770 2292h8M4088 2339h8M3772 2321h8M4027 2359h8M3956 2388h8M3934 2399h8M3962 2258h8M4027 2370h8M3928 2246h8M3948 2399h8M4062 2386h8M3772 2361h8M3943 2385h8M4031 2324h8M3970 2369h8M3874 2378h8M3907 2243h8M3931 2260h8M4044 2310h8M3978 2374h8M3947 2390h8M3906 2261h8M4025 2315h8M3827 2261h8M3998 2356h8M3778 2335h8M3772 2250h8M3776 2300h8M3930 2236h8M4002 2368h8M3991 2275h8M3801 2383h8M3844 2254h8M3805 2252h8M3768 2300h8M3983 2369h8M3906 2252h8M3892 2405h8M3768 2317h8M3860 2254h8M4018 2287h8M4116 2302h8M3926 2401h8M3848 2380h8M3873 2399h8M4026 2351h8M3904 2397h8M4017 2346h8M3876 2254h8M3790 2356h8M4029 2304h8M3989 2270h8M3770 2333h8M3855 2397h8M3944 2382h8M3781 2308h8M3881 2403h8M3858 2378h8M4007 2375h8M3903 2237h8M4019 2291h8M4005 2265h8M3781 2360h8M3919 2391h8M4023 2343h8M3901 2245h8M3771 2310h8M3767 2289h8M3858 2263h8M3886 2411h8M3862 2381h8M3782 2270h8M3860 2254h8M3769 2307h8M3772 2296h8M4034 2286h8M4037 2380h8M4082 2309h8M3841 2244h8M3917 2394h8M3952 2241h8M3898 2246h8M3981 2371h8M3773 2366h8M4032 2302h8M4032 2322h8M4067 2331h8M3990 2266h8M3785 2262h8M4064 2344h8M3772 2336h8M4046 2321h8M3919 2233h8M4068 2291h8M3835 2265h8M3995 2279h8M3896 2260h8M4022 2308h8M3784 2271h8M4036 2350h8M3772 2300h8M3977 2268h8M3772 2326h8M3972 2247h8M4021 2278h8M3927 2382h8M4030 2305h8M3803 2362h8M3768 2300h8M3776 2266h8M3778 2331h8M4033 2263h8M4041 2278h8M3974 2374h8M3958 2250h8M3942 2397h8M3904 2413h8M3770 2373h8M3993 2360h8M3768 2372h8M3810 2398h8M4089 2364h8M3962 2373h8M3893 2242h8M3796 2363h8M3975 2389h8M4035 2312h8M3985 2370h8M3792 2269h8M3787 2381h8M3901 2385h8M3944 2381h8M3914 2382h8M4014 2245h8M3780 2343h8M4012 2275h8M4027 2330h8M4053 2331h8M3793 2354h8M3801 2373h8M3819 2384h8M4044 2361h8M4057 2316h8M3891 2397h8M3866 2262h8M3769 2310h8M4071 2271h8M3771 2321h8M4011 2289h8M3795 2276h8M4040 2309h8M3768 2340h8M3978 2270h8M3827 2236h8M3922 2390h8M3839 2266h8M3955 2393h8M3957 2266h8M4028 2364h8M3977 2271h8M3893 2239h8M3771 2281h8M4031 2319h8M3782 2389h8M3980 2381h8M3767 2352h8M3921 2380h8M3796 2371h8M4060 2295h8M4018 2303h8M3972 2271h8M3974 2370h8M3853 2262h8M4035 2321h8M3997 2259h8M3794 2289h8M4042 2331h8M3837 2264h8M4038 2300h8M3767 2327h8M3873 2265h8M4034 2345h8M3974 2251h8M4051 2350h8M3829 2268h8M3777 2301h8M3841 2270h8M4028 2301h8M3796 2274h8M3874 2263h8M3807 2363h8M4008 2281h8M3957 2242h8M4056 2315h8M3812 2361h8M4045 2329h8M3844 2259h8M4060 2287h8M3770 2308h8M4153 2368h8M4025 2329h8M3791 2283h8M3933 2385h8M4001 2395h8M3799 2266h8M3987 2365h8M4017 2345h8M4070 2347h8M3949 2379h8M3772 2354h8M3811 2281h8M4018 2266h8M3804 2370h8M4029 2369h8M3836 2375h8M4025 2266h8M3948 2260h8M3822 2369h8M4021 2267h8M3915 2386h8M4046 2314h8M3888 2380h8M4006 2358h8M4068 2345h8M3801 2361h8M4023 2261h8M3770 2356h8M4033 2277h8M3999 2363h8M3921 2384h8M3988 2369h8M3925 2401h8M3775 2310h8M3769 2255h8M3776 2360h8M3990 2266h8M4025 2355h8M3971 2372h8M3912 2258h8M3877 2392h8M3791 2295h8M4018 2291h8M4050 2328h8M3769 2324h8M3778 2365h8M3817 2371h8M4043 2325h8M3883 2258h8M3978 2412h8M3794 2404h8M4009 2279h8M3890 2255h8M3852 2268h8M3817 2377h8M3905 2254h8M4022 2314h8M4018 2305h8M3893 2263h8M3827 2388h8M3771 2368h8M3798 2356h8M3777 2302h8M3772 2346h8M4064 2356h8M3893 2256h8M4033 2339h8M3806 2386h8M3986 2381h8M3784 2359h8M3781 2345h8M4028 2293h8M3958 2402h8M3793 2361h8M3903 2384h8M3768 2258h8M3784 2289h8M3962 2247h8M4007 2285h8M3989 2393h8M3768 2301h8M4020 2357h8M4056 2311h8M3771 2266h8M3850 2385h8M3980 2268h8M4021 2351h8M4038 2289h8M3769 2276h8M3902 2389h8M3808 2250h8M3940 2387h8M3983 2259h8M4058 2260h8M4007 2287h8M3942 2248h8M4070 2311h8M3792 2356h8M3922 2263h8M3769 2359h8M3980 2385h8M3770 2336h8M4024 2324h8M4034 2284h8M4030 2343h8M3998 2277h8M4039 2328h8M3820 2274h8M3770 2275h8M3783 2387h8M4025 2317h8M3787 2348h8M3895 2258h8M4042 2285h8M3902 2380h8M3769 2317h8M3767 2280h8M4053 2328h8M3829 2377h8M4022 2276h8M3769 2352h8M3932 2412h8M4052 2371h8M3796 2265h8M3770 2349h8M3788 2346h8M3999 2286h8M3824 2380h8M3894 2414h8M3929 2264h8M3831 2372h8M3992 2370h8M3854 2263h8M4010 2349h8M3907 2254h8M3817 2271h8M3768 2350h8M3862 2398h8M3768 2314h8M3786 2388h8M4010 2373h8M3846 2251h8M3790 2354h8M3997 2380h8M3850 2263h8M4047 2304h8M4053 2273h8M3933 2255h8M4054 2334h8M4012 2289h8M4041 2373h8M4027 2296h8M3811 2371h8M3768 2306h8M3871 2408h8M3777 2338h8M3772 2356h8M4037 2341h8M3861 2383h8M3789 2372h8M4068 2288h8M4059 2340h8M3772 2322h8M3769 2331h8M3895 2239h8M4011 2255h8M4007 2381h8M3970 2378h8M4000 2275h8M3783 2337h8M3889 2247h8M3994 2284h8M3998 2253h8M3860 2389h8M4045 2352h8M3949 2248h8M3897 2405h8M3825 2391h8M4016 2354h8M3947 2384h8M3937 2384h8M3967 2409h8M3776 2297h8M3911 2387h8M3770 2298h8M3893 2260h8M3987 2380h8M4017 2288h8M3903 2382h8M4012 2285h8M3874 2393h8M3802 2386h8M3894 2388h8M3772 2293h8M3977 2266h8M3865 2260h8M4045 2292h8M3865 2245h8M4035 2294h8M4026 2322h8M3939 2259h8M4136 2300h8M3768 2373h8M3985 2384h8M3844 2252h8M4044 2353h8M3773 2323h8M3768 2333h8M3771 2252h8M3810 2274h8M3786 2343h8M3789 2282h8M4066 2308h8M3774 2320h8M3825 2367h8M3767 2351h8M3929 2263h8M3898 2400h8M3921 2398h8M4021 2361h8M4029 2312h8M3783 2259h8M3969 2263h8M3949 2411h8M4051 2368h8M4072 2304h8M3772 2328h8M4040 2348h8M3833 2375h8M3776 2378h8M3881 2242h8M3908 2236h8M3899 2390h8M3956 2237h8M3796 2290h8M3788 2282h8M3864 2253h8M4034 2286h8M3962 2387h8M3773 2328h8M4014 2374h8M4030 2312h8M3936 2379h8M3874 2378h8M3772 2379h8M3931 2244h8M4034 2323h8M3936 2385h8M3950 2392h8M4050 2328h8M3928 2385h8M3902 2398h8M4037 2396h8M4025 2346h8M4051 2292h8M3964 2390h8M4031 2259h8M4022 2335h8M3770 2333h8M3881 2380h8M3772 2343h8M3774 2377h8M4025 2320h8M3778 2404h8M4031 2346h8M3768 2258h8M3846 2259h8M3849 2393h8M3919 2223h8M3951 2386h8M4033 2349h8M4037 2381h8M3840 2384h8M3927 2257h8M4039 2285h8M4042 2386h8M3770 2368h8M3963 2388h8M3982 2367h8M4005 2354h8M4029 2308h8M3768 2284h8M3787 2252h8M3770 2399h8M3772 2328h8M3832 2379h8M3985 2367h8M3771 2278h8M3822 2273h8M3773 2320h8M3945 2247h8M4012 2268h8M3770 2286h8M4001 2271h8M4058 2271h8M4111 2282h8M4095 2347h8M4080 2298h8M4044 2411h8M4033 2249h8M4086 2277h8M4115 2236h8M4088 2307h8M4115 2301h8M4077 2314h8M4065 2242h8M4057 2313h8M4104 2349h8M4144 2343h8M4087 2252h8M4055 2355h8M4033 2279h8M4092 2323h8M4152 2260h8M4081 2295h8M4052 2301h8M4032 2360h8M4039 2341h8M4055 2289h8M4078 2301h8M4075 2347h8M4069 2266h8M4139 2233h8M4053 2384h8M4103 2410h8M4147 2320h8M4039 2312h8M4052 2326h8M4087 2362h8M4123 2262h8M4149 2341h8M4169 2310h8M4071 2288h8M4087 2348h8M4150 2350h8M4079 2281h8M4068 2287h8M4069 2337h8M4087 2337h8M4074 2314h8M4049 2288h8M4076 2357h8M4101 2271h8M4072 2327h8M4141 2381h8M4094 2365h8M4055 2310h8M4066 2343h8M4105 2328h8M4031 2384h8M4061 2322h8M4131 2286h8M4059 2266h8M4198 2324h8M4041 2259h8M4137 2323h8M4034 2360h8M4054 2319h8M4093 2301h8M4064 2296h8M4035 2244h8M4148 2332h8M4062 2266h8M4185 2297h8M4075 2401h8M4140 2343h8M4193 2314h8M4150 2365h8M4110 2242h8M4047 2276h8M4035 2397h8M4069 2261h8M4097 2294h8M4165 2302h8M4086 2269h8M4148 2281h8M4137 2331h8M4115 2416h8M4032 2288h8M4031 2289h8M4070 2326h8M4131 2263h8M4040 2305h8M4054 2264h8M4064 2405h8M3988 2784h8M3876 2987h8M3887 2976h8M3849 2807h8M3860 2902h8M3952 2923h8M4041 2903h8M3987 2727h8M3774 2889h8M3978 2718h8M3898 2942h8M3801 2862h8M4011 2874h8M3844 2902h8M3851 2924h8M3828 2973h8M4011 2855h8M4049 2807h8M3832 2843h8M3838 2854h8M4061 2917h8M3990 2828h8M3810 2897h8M3806 2786h8M3886 2803h8M3922 2950h8M3944 2965h8M3951 2963h8M4036 2853h8M3990 2926h8M4022 2822h8M4045 2857h8M3936 2780h8M4017 2865h8M4047 2968h8M3819 2880h8M4018 2910h8M4009 2749h8M3841 3014h8M3826 2887h8M3927 2968h8M4067 2823h8M3956 2803h8M3948 2732h8M4093 2860h8M4052 2825h8M3831 2823h8M3874 2952h8M3998 2884h8M3850 2931h8M3832 2932h8M3768 2857h8M3908 2751h8M4022 3014h8M4012 2933h8M4023 2944h8M3840 2918h8M3963 2953h8M3768 2884h8M4044 2809h8M3991 2820h8M3887 2931h8M4019 2743h8M3873 2815h8M3995 2983h8M3945 2925h8M3959 2966h8M3771 2816h8M3832 2794h8M3950 2925h8M3827 2900h8M3862 2894h8M4008 2871h8M3824 2958h8M3810 2763h8M3944 2963h8M3803 2899h8M4043 2912h8M3972 2759h8M3860 2918h8M4045 2996h8M3771 2843h8M4015 2894h8M3771 2907h8M3782 2841h8M4022 2815h8M3965 2944h8M4037 2870h8M3831 2878h8M4033 2913h8M4002 2775h8M3878 2725h8M3972 2832h8M3974 2909h8M3855 2857h8M3930 2950h8M4001 2986h8M3832 2813h8M3892 2941h8M3924 2949h8M4019 2895h8M3968 2823h8M3834 2898h8M4040 2828h8M3771 2929h8M4101 2882h8M3982 2974h8M4058 3015h8M4011 2809h8M3840 2958h8M4070 2985h8M3864 2791h8M4026 2854h8M3859 2884h8M3875 2797h8M3772 2820h8M3882 2802h8M3864 2929h8M3961 3006h8M3769 2853h8M3982 2921h8M4038 2815h8M3885 2768h8M4030 2831h8M3843 2898h8M3811 2769h8M4034 2907h8M3871 2821h8M3871 2754h8M3853 2786h8M3787 2779h8M3949 2958h8M3926 2951h8M3856 2854h8M3772 2894h8M3768 2814h8M3979 2792h8M3982 2879h8M3910 2757h8M3879 2778h8M3921 2928h8M3872 2794h8M3772 2928h8M3772 2918h8M4026 2900h8M3923 2784h8M3892 2963h8M3979 2803h8M3887 2982h8M4018 2983h8M3948 2981h8M3871 2823h8M3865 2920h8M3917 2940h8M3868 2784h8M4010 2972h8M3817 2949h8M3985 2823h8M4084 2888h8M3881 2935h8M3978 2929h8M3826 2866h8M3784 2766h8M3874 2798h8M3871 2927h8M4037 2858h8M4060 2844h8M3974 2878h8M4070 2878h8M3770 2879h8M3990 2942h8M3955 2961h8M4042 2956h8M4057 2752h8M3977 2784h8M4044 2949h8M3894 2930h8M3772 2908h8M3898 2713h8M3857 2844h8M3910 2948h8M3817 2893h8M3999 2920h8M4016 2849h8M3942 2717h8M4033 2864h8M4020 2760h8M4008 3013h8M3899 2964h8M3992 2964h8M3872 2819h8M3800 2767h8M3806 2901h8M3771 2867h8M3771 2902h8M3950 2797h8M3909 2948h8M3835 2800h8M3905 2920h8M3869 2781h8M3926 2971h8M4025 2875h8M4032 2843h8M3769 2875h8M4017 2808h8M4014 2890h8M3870 2800h8M3797 2821h8M3804 2953h8M3846 2854h8M3808 2963h8M4064 2856h8M3907 2957h8M4001 2992h8M4000 2761h8M3879 2950h8M3769 2892h8M4031 2892h8M3767 2812h8M3883 2759h8M4034 3011h8M3999 2918h8M3970 2949h8M3862 2717h8M4054 2946h8M3898 2982h8M4006 2745h8M3792 2837h8M3849 2800h8M4003 2919h8M3837 2823h8M4003 2873h8M4008 2819h8M3827 2815h8M3961 2998h8M3822 2860h8M4017 2878h8M3916 2959h8M3998 2921h8M3877 2795h8M3950 2797h8M4079 2896h8M4013 2841h8M3880 2954h8M4018 2959h8M3876 2724h8M3853 2796h8M3839 2771h8M4033 2864h8M4027 2717h8M3922 2995h8M3770 2784h8M4062 2838h8M3874 2794h8M3810 2896h8M3801 2885h8M3835 2801h8M3804 2801h8M3967 2780h8M3854 2793h8M4029 2989h8M3932 2961h8M3901 3014h8M3943 2966h8M3856 2924h8M4041 2835h8M3924 2958h8M3856 2800h8M3880 2994h8M3964 3011h8M4028 2880h8M4028 2888h8M3868 2915h8M3768 3000h8M3836 2862h8M4061 2830h8M4067 2931h8M3999 2879h8M3880 2784h8M3886 2770h8M3889 2991h8M3837 2863h8M3900 2930h8M3958 2762h8M3992 2923h8M3851 2791h8M3923 2725h8M3971 2997h8M3921 2955h8M3774 2824h8M3921 2787h8M4026 2844h8M3833 2859h8M3837 2817h8M3863 2747h8M3906 2922h8M3992 2863h8M3949 3014h8M3930 2783h8M3796 2854h8M4029 2812h8M3793 2830h8M3905 2944h8M3769 2857h8M4031 2857h8M3785 2897h8M3895 2969h8M3856 2817h8M4052 2828h8M3991 2753h8M3800 2784h8M3942 2770h8M3782 2974h8M3827 2881h8M3769 2835h8M3964 2790h8M3940 2805h8M3773 2872h8M3892 2952h8M3895 2807h8M3917 2758h8M3803 2812h8M4004 2878h8M3970 2805h8M3843 2821h8M3847 2815h8M3964 2742h8M3859 2785h8M4035 2752h8M3928 2988h8M3877 2969h8M3778 2910h8M3813 2971h8M3818 2752h8M3935 2913h8M3827 2758h8M4064 2930h8M4017 2880h8M3848 2856h8M4084 2765h8M3828 2816h8M3859 2950h8M3908 2996h8M4007 2769h8M3941 2730h8M3844 2929h8M4020 2819h8M3987 2795h8M3796 2730h8M4023 2801h8M3792 2838h8M3958 2761h8M4025 2952h8M4027 2859h8M4037 2845h8M3826 2894h8M3779 2977h8M3857 2917h8M3872 2955h8M4009 2755h8M4002 2832h8M4017 2744h8M3794 2973h8M4010 2756h8M3769 2812h8M3861 2822h8M3821 2717h8M3937 2785h8M4047 2786h8M3956 2804h8M3957 2792h8M3923 2965h8M4035 2850h8M4091 3006h8M4061 2886h8M3825 2879h8M3788 2909h8M4044 2867h8M3842 2966h8M3923 2785h8M3943 2768h8M3843 2836h8M3947 2784h8M4019 2808h8M3882 2807h8M4021 2789h8M3844 2802h8M3841 2782h8M4078 2826h8M3972 2942h8M3989 2879h8M3814 2801h8M3853 2839h8M3831 2683h8M4004 2926h8M3992 2849h8M3836 2912h8M3886 2778h8M3856 2756h8M3839 2791h8M3985 2979h8M3986 2917h8M3895 2964h8M3899 2984h8M4017 2855h8M3886 2932h8M3965 2821h8M3945 2769h8M3930 2968h8M3834 2944h8M3818 2961h8M3767 2948h8M4013 2805h8M4013 2856h8M3953 2744h8M3870 2912h8M3867 2880h8M3787 2926h8M3973 2803h8M3844 2903h8M3768 2867h8M3888 2734h8M3883 2965h8M4091 2842h8M3924 2797h8M3936 3012h8M4006 2824h8M3854 2862h8M3975 2923h8M4014 2901h8M3794 2830h8M3825 2884h8M3768 2690h8M3817 2864h8M3845 2885h8M4012 2883h8M3886 2931h8M4016 2835h8M3973 2736h8M3889 2986h8M4176 2906h8M3891 2805h8M3853 2883h8M3779 2789h8M3908 2750h8M4000 2657h8M3844 2780h8M3813 2976h8M4021 2827h8M3979 2914h8M3772 2804h8M3937 2952h8M4022 2972h8M3855 2822h8M4040 2878h8M3769 2751h8M3830 2924h8M3768 2867h8M3876 2819h8M4166 2879h8M3925 2776h8M4015 2901h8M3807 2924h8M3976 2767h8M3954 2814h8M3968 2925h8M4049 2889h8M3906 2913h8M4096 2844h8M4089 2985h8M4005 2915h8M3883 2772h8M4045 2793h8M4018 2842h8M3809 2855h8M3972 2936h8M3921 2967h8M3879 2790h8M3923 2795h8M4002 2863h8M3860 2941h8M3906 2929h8M3966 2939h8M3967 2782h8M3834 2910h8M3922 2941h8M3822 2851h8M3994 2856h8M3800 2748h8M3855 2922h8M3768 2839h8M3865 2939h8M3837 2912h8M4011 2911h8M3986 3013h8M4043 2892h8M4026 2869h8M3777 2941h8M3927 2805h8M4008 2821h8M3785 2810h8M4023 2861h8M4015 2753h8M4050 3015h8M3908 2923h8M3866 2946h8M4053 2936h8M3786 2875h8M3844 2816h8M3850 2876h8M4040 2925h8M3880 2755h8M3991 2778h8M4029 2896h8M3985 2760h8M3975 2983h8M3860 2771h8M3932 2923h8M3772 2834h8M4016 2854h8M3862 2774h8M3857 2734h8M3960 2912h8M3994 2888h8M3991 2875h8M4016 2917h8M4083 2798h8M3998 2815h8M4028 2995h8M3865 2790h8M3873 2919h8M3859 2930h8M4022 2796h8M4029 2947h8M4135 2892h8M3778 2968h8M3836 3008h8M3930 2788h8M3803 2894h8M3903 2995h8M3772 2830h8M3975 2735h8M3950 2933h8M3942 2749h8M3807 2913h8M3830 2832h8M3865 2919h8M3925 2776h8M3924 3007h8M4014 3003h8M3840 2867h8M3767 2846h8M3849 2870h8M3841 2783h8M4017 2733h8M3901 2801h8M3839 2819h8M4025 2935h8M3942 2811h8M4010 2779h8M4007 2946h8M3851 2804h8M3968 2793h8M3938 2777h8M4089 2783h8M3809 2772h8M4087 2834h8M4054 2880h8M3997 2927h8M3864 2937h8M3892 2778h8M3768 2726h8M3846 2788h8M3776 2826h8M3938 2955h8M4026 2932h8M3989 2766h8M4033 2916h8M3889 2765h8M3789 2789h8M3809 2820h8M3828 2840h8M3852 2800h8M3771 2915h8M3772 2811h8M4087 2989h8M4056 2879h8M3931 3010h8M3963 2917h8M3865 2744h8M3901 2777h8M3911 2980h8M3942 2959h8M4062 2851h8M3867 2918h8M3990 2803h8M3804 2836h8M3872 2988h8M3769 2819h8M3885 2904h8M3817 2973h8M3827 2819h8M3933 2933h8M3826 2990h8M3952 2926h8M3970 2793h8M3818 2897h8M3936 2677h8M4032 2925h8M3863 2967h8M4027 2798h8M3875 2764h8M3898 2797h8M3845 2855h8M3806 2927h8M3909 2786h8M3854 2920h8M4064 2858h8M4037 2973h8M3936 2696h8M3835 2878h8M3802 2901h8M3910 2740h8M3938 2802h8M3983 2803h8M3817 2855h8M3885 2734h8M4039 2841h8M3966 2793h8M3927 2763h8M4002 2900h8M3983 2764h8M3841 2911h8M3843 2841h8M3799 2865h8M3837 2691h8M4101 2911h8M3807 2841h8M3859 2867h8M4018 2931h8M3767 2794h8M3886 2968h8M3906 2953h8M3982 2868h8M4045 2798h8M3928 2754h8M4098 2976h8M4044 2874h8M4008 2815h8M3931 2756h8M3968 2784h8M3965 2805h8M3777 2925h8M3768 3011h8M3836 2804h8M3901 2923h8M3846 2891h8M3937 2796h8M3768 2695h8M3857 2814h8M3862 2926h8M4010 2893h8M3937 2706h8M3809 2844h8M3864 2946h8M3783 2893h8M3814 2836h8M3861 2977h8M3952 2936h8M3857 2965h8M3894 2927h8M3895 3003h8M3856 2813h8M3964 2812h8M4015 2811h8M4019 2805h8M4039 2758h8M3984 2897h8M3925 3002h8M4026 3011h8M4036 2913h8M3900 2752h8M4042 2847h8M4007 2787h8M3923 2925h8M3892 2806h8M3818 2773h8M4122 2881h8M3790 2891h8M3818 2819h8M4071 2885h8M3994 2931h8M3959 2811h8M4040 2838h8M4061 2790h8M3987 2882h8M4006 2923h8M3915 2787h8M3944 2735h8M3987 2960h8M3976 2897h8M3829 2827h8M4047 2932h8M3928 2913h8M3886 2935h8M3868 2773h8M3931 2778h8M3773 2740h8M3877 2927h8M3974 2939h8M3954 2943h8M3782 2965h8M3900 2782h8M3811 2861h8M3847 2820h8M3890 2739h8M3782 2873h8M3888 2974h8M3876 2732h8M3796 2807h8M4016 2890h8M3786 2790h8M3816 2793h8M3926 2740h8M3909 2940h8M3989 3000h8M3866 2728h8M3909 2771h8M3818 2850h8M4032 2839h8M3962 2811h8M3772 2907h8M3774 2845h8M3978 2816h8M3933 2993h8M3887 2791h8M3946 2957h8M3791 2785h8M3850 3002h8M3840 2833h8M3966 2779h8M3829 2836h8M3927 2772h8M3820 2899h8M3912 2931h8M3981 2954h8M3823 2819h8M3829 2859h8M4033 2844h8M4002 2935h8M3832 2899h8M4012 2907h8M4015 2931h8M3898 2780h8M4010 2892h8M3990 2913h8M3860 2786h8M3828 2829h8M3926 2770h8M3855 2932h8M3843 2845h8M3928 2752h8M3822 2875h8M3768 2880h8M3810 2891h8M3821 2884h8M3803 2948h8M4026 2951h8M3840 2824h8M3983 2797h8M3912 2786h8M3898 2928h8M3916 2785h8M3934 2745h8M3860 2786h8M3995 2897h8M3826 2802h8M4096 2758h8M3862 2933h8M3917 2931h8M3913 2778h8M3927 2721h8M4008 2922h8M3985 2935h8M4013 2834h8M3787 2731h8M3836 2796h8M4021 2924h8M3999 2920h8M3820 2869h8M3932 2750h8M4001 2681h8M3930 2943h8M3984 2996h8M3899 2956h8M3993 2926h8M3942 2978h8M3930 2954h8M3821 2869h8M3881 2818h8M3951 2953h8M3864 2905h8M3958 2761h8M3849 2898h8M4017 2826h8M3865 2922h8M4008 2909h8M4007 2907h8M3884 2780h8M3905 2951h8M3923 2716h8M4043 2946h8M3876 2809h8M4004 2787h8M3832 2882h8M4045 2879h8M3998 2831h8M4060 2895h8M3782 2792h8M3806 2844h8M3995 2814h8M3785 2922h8M3999 2862h8M3878 3001h8M3923 2992h8M3922 2708h8M3979 2946h8M3906 2949h8M3848 2783h8M3827 2812h8M4073 2923h8M4020 2868h8M3931 2770h8M3833 2734h8M4077 2851h8M3877 2793h8M3996 2824h8M3771 2764h8M3832 2876h8M3947 2776h8M3875 2915h8M3884 2713h8M3861 2809h8M3927 2690h8M3915 2789h8M3908 2711h8M3857 2748h8M3923 2962h8M3767 2862h8M3828 2778h8M3833 2865h8M4023 2820h8M3789 2783h8M3804 2771h8M3808 3013h8M4022 2866h8M4003 2864h8M3877 2789h8M3924 2760h8M3957 2914h8M3968 2661h8M4031 2927h8M3821 2644h8M4079 2802h8M3952 2766h8M3942 2974h8M3950 2915h8M3964 2777h8M3778 2902h8M4015 2648h8M4071 2755h8M3999 2789h8M3833 2826h8M3957 2717h8M3975 2914h8M3880 2784h8M3836 2913h8M3769 2825h8M4052 2961h8M3767 2900h8M3897 2792h8M4018 2967h8M3862 2760h8M3930 2740h8M3948 2964h8M4098 2809h8M4068 2843h8M3912 2953h8M3798 2950h8M3942 2937h8M3964 2936h8M3817 2780h8M3841 2767h8M3980 2916h8M3800 2847h8M3900 2984h8M3989 2909h8M4024 2875h8M3855 2874h8M3771 2772h8M3826 2937h8M3831 2908h8M4021 2866h8M4031 2857h8M3830 2990h8M3952 2951h8M3782 2930h8M4056 2865h8M4039 2801h8M3856 2958h8M3904 2728h8M3839 2841h8M3783 2670h8M3881 2956h8M3771 2857h8M3807 2875h8M3989 2951h8M3885 2907h8M3929 2934h8M3874 2939h8M3939 2955h8M3771 2968h8M3900 2955h8M3878 2781h8M3972 2753h8M3850 2846h8M4004 2834h8M3940 2744h8M4044 2783h8M3877 3004h8M4033 2830h8M3979 2952h8M3857 2940h8M3944 2801h8M3870 2919h8M3826 2948h8M3792 2755h8M3902 2936h8M3768 2957h8M3998 2796h8M4097 2884h8M3992 2962h8M3780 2884h8M3848 2832h8M3781 2851h8M3787 2813h8M4000 2808h8M3837 2871h8M4024 2819h8M3949 2974h8M3836 2790h8M3810 2902h8M4011 2857h8M4052 2896h8M3997 2905h8M3785 2768h8M3912 2993h8M3984 2821h8M4061 2958h8M3888 2929h8M3960 2794h8M3914 2799h8M3768 2751h8M3958 2905h8M3880 2803h8M3773 2967h8M3915 2769h8M4044 2805h8M3767 2897h8M3915 2969h8M3951 3011h8M3987 2748h8M3783 2855h8M3911 2765h8M4105 2823h8M3855 2877h8M4056 2704h8M4003 2834h8M3796 2813h8M4030 2891h8M3994 2927h8M3843 2931h8M4023 2850h8M3800 2805h8M4016 2891h8M3847 2877h8M4019 2967h8M3891 2949h8M4005 2850h8M4061 2833h8M3892 2952h8M3769 2857h8M3963 2792h8M3991 2819h8M3839 2762h8M3834 2916h8M4022 2911h8M3770 2888h8M3818 2872h8M3813 2783h8M3998 2966h8M3869 2810h8M3792 2790h8M3819 2831h8M3938 2756h8M4046 2931h8M3821 2872h8M3876 2998h8M3988 2890h8M3956 2947h8M3980 2969h8M4023 2867h8M4174 2951h8M3908 2759h8M3816 2949h8M3942 2957h8M3809 2778h8M3771 2969h8M4036 2880h8M3848 2743h8M4040 2836h8M3948 2914h8M3944 2770h8M3812 2924h8M3816 2801h8M3969 2775h8M3847 2889h8M4003 2898h8M3884 3013h8M3998 2882h8M3851 2907h8M3860 2768h8M3797 2779h8M3880 2775h8M4046 2855h8M4031 2745h8M3966 2756h8M4015 2823h8M4037 2821h8M4015 2860h8M3836 2976h8M3833 2885h8M4011 2762h8M3821 2891h8M3816 2695h8M3818 3008h8M4088 3011h8M3957 2949h8M3858 2921h8M3816 2869h8M3957 2746h8M3794 2937h8M4013 2937h8M3992 2895h8M3813 2865h8M4017 2848h8M3768 2786h8M3883 2942h8M3968 2954h8M3811 2776h8M3846 2756h8M3854 2931h8M3804 2931h8M4009 2909h8M4008 2952h8M3831 2825h8M4039 2879h8M4029 2832h8M4044 2731h8M3833 2823h8M3852 2882h8M3991 2861h8M3868 2759h8M3924 3012h8M4031 3004h8M3924 2771h8M3880 2901h8M3937 2965h8M4011 2838h8M3940 2978h8M3868 2771h8M3835 2726h8M3947 2980h8M4030 2868h8M3816 2819h8M3848 2931h8M4012 2826h8M3960 2941h8M4069 2767h8M3934 2804h8M3849 2896h8M3926 2790h8M3767 2845h8M3903 2807h8M3772 2896h8M3981 2831h8M3925 2762h8M3785 2867h8M3968 2971h8M4052 2937h8M4085 2842h8M3965 2779h8M4019 2800h8M3801 2843h8M3975 2776h8M4068 2915h8M3903 2786h8M3971 2805h8M3982 2807h8M4089 2872h8M3992 2830h8M4084 2920h8M4119 2959h8M3830 2830h8M3986 2815h8M4023 2847h8M3810 2776h8M3980 2715h8M3799 2810h8M3817 2896h8M3946 2792h8M4074 2820h8M3975 2987h8M3944 2748h8M3858 2816h8M3768 2856h8M3862 2743h8M3904 2956h8M3825 2969h8M3877 2947h8M3890 2801h8M4012 2926h8M4074 2935h8M3925 2921h8M4040 2907h8M4035 2775h8M3923 2797h8M3782 2797h8M3944 2742h8M3813 2765h8M4059 2894h8M3818 2826h8M4101 2927h8M3802 2926h8M3851 2831h8M3871 2720h8M3973 2963h8M3905 2771h8M3773 2828h8M3804 2878h8M4033 2843h8M3885 2940h8M4068 2944h8M4038 2797h8M4020 2873h8M3995 2876h8M3920 2970h8M3768 2878h8M3808 2946h8M3857 2822h8M4002 2826h8M4010 2900h8M3792 2857h8M3832 2892h8M3977 2987h8M3928 2762h8M3894 2923h8M3896 2733h8M3824 2933h8M4013 2739h8M3855 2828h8M3987 2922h8M4016 2846h8M3839 2782h8M3986 2716h8M3817 2896h8M3940 2773h8M3853 2818h8M3812 2837h8M3840 3008h8M4016 2873h8M3851 2916h8M3846 2940h8M4058 2957h8M3948 2801h8M3809 2797h8M3847 2813h8M4018 2980h8M4034 2806h8M3966 2726h8M3954 2748h8M3984 2823h8M4004 2950h8M3844 2968h8M3980 2844h8M3805 2945h8M4005 2926h8M3806 2852h8M3856 2947h8M3771 2790h8M3862 2720h8M4021 2878h8M3962 2976h8M4036 2883h8M3826 2763h8M3936 2968h8M4010 2878h8M3865 2706h8M4065 2834h8M3845 2798h8M4022 2841h8M3931 2921h8M3828 2887h8M3939 2743h8M3976 2809h8M3840 2911h8M3872 2954h8M4050 2886h8M4028 2866h8M3887 2756h8M3877 3011h8M3894 2760h8M4044 2828h8M3898 2997h8M3989 2742h8M4015 2886h8M4029 2764h8M3882 2779h8M4028 2852h8M3907 2742h8M3857 2845h8M3969 2903h8M3940 2936h8M3831 2899h8M4134 2838h8M3878 2786h8M3770 2760h8M3846 2915h8M3859 2952h8M3921 2919h8M3845 2794h8M3816 2832h8M3972 2917h8M3985 2808h8M3931 2774h8M3985 2881h8M3884 2920h8M3901 2982h8M3975 2800h8M3772 2853h8M3816 2759h8M3799 2906h8M3821 2856h8M4094 2809h8M4040 2811h8M4094 2939h8M3929 2953h8M3846 2750h8M3906 2969h8M3915 2924h8M3919 2756h8M3859 2819h8M3775 2943h8M3820 2907h8M3942 2793h8M3814 2880h8M4120 2869h8M4051 2775h8M3856 2961h8M4073 2761h8M4069 2878h8M4103 2889h8M3964 2822h8M3833 2815h8M4035 2975h8M3830 2836h8M3877 2714h8M3860 2955h8M4056 2793h8M3907 2802h8M3927 2665h8M3991 2926h8M3942 2746h8M4074 2878h8M3876 2948h8M3972 2753h8M3850 2939h8M3993 2905h8M3844 2916h8M3981 2924h8M3883 2940h8M3869 2813h8M3849 2979h8M3853 2913h8M3817 2899h8M4037 2874h8M3853 2958h8M3978 2936h8M4151 2844h8M4058 2956h8M3866 2820h8M4022 2868h8M4010 2956h8M3779 2813h8M4053 2905h8M3990 2815h8M4063 2919h8M3816 2936h8M3935 2727h8M3985 2861h8M4023 2888h8M3917 2810h8M3789 2848h8M3868 2947h8M3925 2924h8M3796 2861h8M3947 2950h8M3991 3008h8M4025 2873h8M3804 2945h8M3929 2758h8M3926 2726h8M3990 2802h8M3907 2933h8M3947 2950h8M3877 3012h8M4015 2873h8M3901 2952h8M3820 2877h8M3770 2897h8M4050 2929h8M4015 2909h8M3795 2837h8M3824 2837h8M4039 2925h8M3987 2779h8M3824 2790h8M4016 3013h8M3995 2823h8M3835 2853h8M3814 2844h8M3948 2994h8M3993 2908h8M3907 2808h8M3900 2959h8M3902 2941h8M3834 2811h8M3986 2797h8M3822 2829h8M3874 2757h8M3920 2922h8M4004 2922h8M3769 2850h8M4034 2907h8M4057 2799h8M4079 2884h8M3999 2823h8M3863 2848h8M3818 2823h8M3896 2764h8M3838 3010h8M4039 2796h8M3902 2937h8M4058 2732h8M3904 2960h8M3835 2997h8M3985 2904h8M3982 2957h8M3868 2948h8M3982 2840h8M3945 2790h8M3825 2826h8M3775 2692h8M3955 2995h8M3879 2952h8M4008 2694h8M3826 2855h8M3910 3011h8M4033 2852h8M3796 2905h8M3886 2962h8M3834 2914h8M4034 2820h8M3991 2856h8M4056 2854h8M4107 2784h8M3935 2800h8M3771 2851h8M3859 2926h8M3832 2823h8M3940 2946h8M3945 2910h8M3986 2808h8M3997 2758h8M3810 2791h8M3885 2934h8M3968 2915h8M3811 2886h8M3771 2928h8M3921 2928h8M3802 2858h8M3925 2759h8M3904 2777h8M3931 2923h8M3929 3012h8M3837 2843h8M3973 3011h8M3872 2898h8M4018 2813h8M4005 2748h8M4132 2861h8M3786 2851h8M3833 2825h8M4047 2880h8M4057 2889h8M3784 2900h8M3973 2940h8M3859 2826h8M3890 2949h8M3960 2760h8M3984 2831h8M3770 2942h8M3919 2772h8M3970 2770h8M3769 2776h8M3931 2762h8M4037 2801h8M3831 2784h8M3808 2866h8M3879 2967h8M4085 2778h8M3839 2816h8M3999 2874h8M3887 2796h8M3937 2997h8M3857 2928h8M3802 2896h8M3842 3015h8M3937 2731h8M3769 2856h8M3844 2882h8M3998 2858h8M4029 2889h8M3769 2944h8M3822 2819h8M4014 2878h8M3988 2773h8M3839 2835h8M4033 2811h8M4058 2950h8M3785 2885h8M3854 2918h8M3821 2987h8M4007 2872h8M3900 2937h8M3772 2766h8M3901 2948h8M3838 3005h8M3768 2790h8M3942 2741h8M3967 2917h8M4035 2765h8M3771 2816h8M3803 2874h8M3830 2893h8M3873 2714h8M3898 2754h8M3990 2916h8M3983 2797h8M3924 2926h8M3962 2784h8M3985 3015h8M3861 2830h8M3856 2781h8M3886 2692h8M4025 2904h8M4120 2891h8M3769 2869h8M3930 2745h8M4028 2910h8M4006 2809h8M3897 2730h8M3779 2719h8M3963 2975h8M3776 2860h8M3769 2935h8M3977 2937h8M3859 2763h8M4080 2977h8M4046 2929h8M3801 2774h8M3837 2776h8M3982 2784h8M3895 2796h8M3871 2769h8M3942 2780h8M3981 2819h8M3977 2815h8M4015 2873h8M4012 2846h8M4040 2887h8M4088 2902h8M3812 2769h8M4013 2817h8M3806 2818h8M3978 2963h8M4055 2750h8M3803 2825h8M3994 2735h8M3824 2838h8M3973 2929h8M4057 2865h8M4020 2904h8M4042 2786h8M3987 2772h8M3888 2928h8M3856 2763h8M4053 2946h8M4055 2819h8M3768 3011h8M3840 2806h8M3933 2974h8M4011 2943h8M3848 2890h8M3853 2925h8M3798 2802h8M3854 2685h8M3882 2782h8M4035 2819h8M3864 2775h8M3905 2737h8M3773 2862h8M3985 2973h8M4194 2899h8M3826 2909h8M3871 2904h8M3955 2919h8M3990 2926h8M3896 2740h8M3879 2796h8M3973 2836h8M3997 2828h8M4086 2999h8M3989 2897h8M4068 2796h8M3838 2876h8M4032 2952h8M3844 2739h8M3884 2782h8M3991 2882h8M4101 2815h8M3984 2945h8M3856 2813h8M3802 2960h8M3788 2933h8M3981 2963h8M3921 2951h8M4006 2675h8M3875 2768h8M3771 2817h8M3975 3014h8M3827 2815h8M4020 2894h8M3981 3012h8M3865 2708h8M3869 2927h8M4036 2863h8M3793 2971h8M3951 2951h8M4005 2756h8M3977 2983h8M3984 2850h8M3876 2966h8M4053 2804h8M3978 2780h8M3949 2994h8M4001 2853h8M3934 2742h8M3798 2760h8M4011 2760h8M3843 2796h8M3976 2916h8M4036 2906h8M3858 2852h8M3859 2974h8M3862 2954h8M3828 2749h8M4048 2889h8M3971 2951h8M3873 2885h8M3888 2974h8M3939 2716h8M3832 2908h8M3949 2931h8M3850 2954h8M3834 2920h8M3924 2965h8M3934 2794h8M3971 2809h8M3824 2872h8M4048 2797h8M4032 2809h8M3868 2781h8M4027 2805h8M3784 2814h8M4024 2925h8M3981 2905h8M3970 2947h8M4062 2939h8M3828 2867h8M3997 2749h8M4022 2856h8M3859 2822h8M3850 2925h8M4023 2914h8M3991 2771h8M3990 2910h8M4039 2912h8M3879 2785h8M3885 3005h8M3882 2929h8M3962 2946h8M3852 2736h8M3770 2869h8M3792 2815h8M3947 2743h8M3800 2881h8M3960 2933h8M3854 2814h8M3999 2933h8M3965 2790h8M3833 3011h8M3814 2911h8M3920 2768h8M3800 2761h8M3788 2773h8M3840 2905h8M3921 2967h8M4021 2853h8M3992 2872h8M3955 2787h8M3892 2760h8M4027 2838h8M4008 2836h8M3770 2952h8M3872 2949h8M3908 2781h8M4018 2826h8M3911 2996h8M3917 2980h8M3892 2813h8M3798 2961h8M4026 2924h8M3787 2886h8M3965 2929h8M3835 2862h8M3775 2986h8M4063 2914h8M3928 2791h8M3792 2944h8M3920 2729h8M4014 2911h8M3911 2965h8M3802 2770h8M3959 2926h8M4013 2864h8M3809 2834h8M3974 2739h8M3952 2763h8M4047 2910h8M3825 2894h8M4025 2917h8M3827 2874h8M3819 2700h8M3773 2783h8M3926 2793h8M3840 2912h8M3822 2797h8M3965 2792h8M4006 2825h8M3926 2962h8M4082 2946h8M3847 2991h8M3790 2862h8M4037 2857h8M3836 3011h8M4015 2989h8M3823 2822h8M3828 2831h8M3926 2953h8M3997 2778h8M3923 2940h8M3976 2961h8M3969 2990h8M3916 2968h8M3768 2852h8M3876 2933h8M3961 2781h8M3772 2794h8M3822 2854h8M4013 2938h8M3979 2757h8M3786 2919h8M3956 2810h8M3912 2961h8M3852 2808h8M3977 2749h8M3839 2932h8M3871 2761h8M3827 2889h8M3964 2966h8M3967 2927h8M3785 2879h8M3813 2743h8M3852 2834h8M4048 2906h8M3903 2993h8M3769 2836h8M3812 2860h8M3835 2834h8M3892 2798h8M3825 2795h8M3842 2868h8M3999 2963h8M3838 2805h8M3997 2903h8M4064 2908h8M4129 2867h8M3927 2721h8M3864 2892h8M3826 2836h8M4017 2797h8M3969 2837h8M4070 2784h8M4093 2877h8M3925 2718h8M3824 2892h8M3850 2914h8M4024 2821h8M4094 2788h8M3912 2948h8M4008 2733h8M3899 2932h8M3964 2747h8M3862 2981h8M4047 2816h8M3827 2742h8M3908 2782h8M3864 2916h8M3893 2724h8M4052 2855h8M3864 2824h8M3868 2785h8M3817 2872h8M3901 2797h8M3966 2718h8M3940 2759h8M3956 2769h8M3789 2821h8M3823 2749h8M3851 2704h8M4040 2979h8M3970 2920h8M3833 2841h8M4035 2834h8M4023 2830h8M3918 2729h8M3844 2912h8M3878 2805h8M3842 2823h8M3965 2800h8M3824 2740h8M3827 2897h8M3979 2807h8M4104 2783h8M4026 2860h8M4014 2849h8M3916 2731h8M4001 2764h8M3824 2869h8M3914 2802h8M4002 2703h8M3915 2799h8M3859 2965h8M4040 2897h8M3917 2746h8M3824 2912h8M3851 2833h8M4142 2897h8M4094 2861h8M3976 2724h8M3837 2747h8M3886 2941h8M3810 2964h8M4025 2900h8M3990 2807h8M4019 2924h8M3951 3013h8M3870 2948h8M3935 2790h8M3891 2754h8M3864 2745h8M3998 2760h8M3800 2781h8M3942 2798h8M3770 3005h8M3892 2775h8M3991 2804h8M3913 2987h8M4036 2821h8M3811 2903h8M3773 2837h8M3807 2858h8M3872 2824h8M4012 2877h8M3956 3007h8M3963 2939h8M3957 2782h8M3810 2883h8M3871 2786h8M3994 2770h8M3949 2663h8M3860 2906h8M4004 2799h8M3911 2942h8M3870 2789h8M3776 2868h8M3852 2960h8M4072 2839h8M3901 2747h8M3951 2707h8M3956 2928h8M3816 2924h8M3911 2973h8M3955 2950h8M4012 2871h8M3934 2800h8M4057 2934h8M3923 2698h8M3841 2773h8M3770 2872h8M3996 2869h8M3994 2807h8M4020 2890h8M3974 2808h8M4016 2773h8M3937 2956h8M4011 2714h8M3866 2916h8M3768 2868h8M3946 2803h8M4042 2826h8M4100 2940h8M3830 2923h8M4113 2945h8M3865 2948h8M4015 2874h8M3852 2896h8M3987 2805h8M4046 2885h8M3982 2811h8M3768 2783h8M4061 2954h8M4002 2826h8M3809 2825h8M3838 2853h8M3785 2957h8M4013 2791h8M3921 2989h8M3933 2790h8M3994 2859h8M3892 2993h8M3943 2766h8M4017 2926h8M3904 2806h8M4012 2777h8M3932 3013h8M3822 2864h8M4075 2930h8M3816 2859h8M4033 2820h8M3851 2907h8M3873 2958h8M3779 2808h8M3889 2751h8M3772 2826h8M3912 2768h8M4049 2910h8M3917 2933h8M4011 2964h8M4010 2838h8M3883 2765h8M4065 2839h8M3840 2773h8M4007 3010h8M3989 2751h8M4039 2818h8M3844 2882h8M3889 2960h8M4086 2863h8M3860 2812h8M4001 2928h8M3973 2790h8M4016 2841h8M3992 2869h8M4005 2858h8M3890 2816h8M3926 2966h8M3859 2912h8M3859 2800h8M3890 2974h8M3892 2961h8M4036 2880h8M4025 2864h8M3855 2953h8M3853 2803h8M3986 2920h8M3987 2927h8M3832 2909h8M3975 2996h8M3987 3008h8M3961 2967h8M3771 2878h8M4111 2932h8M4026 2709h8M4070 2745h8M3992 2795h8M3964 2753h8M4072 2822h8M3786 2780h8M3904 2801h8M3962 3014h8M4068 2745h8M3953 2774h8M3838 2943h8M4072 2788h8M3908 2947h8M3957 2777h8M4003 2881h8M3897 2929h8M3832 2758h8M3869 2778h8M3995 2794h8M3922 2741h8M3815 2947h8M4071 2823h8M4018 2815h8M4008 2764h8M3772 2848h8M3974 2949h8M3934 2662h8M3929 2729h8M3786 2831h8M3797 2907h8M3839 2829h8M3822 2893h8M3864 2786h8M3974 2900h8M3828 2791h8M4000 2751h8M3819 2939h8M4023 2786h8M4031 2870h8M3807 2847h8M3904 2958h8M3851 2793h8M3828 2915h8M3955 2695h8M4044 2856h8M4042 2806h8M4049 2913h8M3920 2968h8M3811 2881h8M3980 2920h8M3841 2904h8M3835 2841h8M3830 2761h8M3974 2809h8M4075 2860h8M3871 2754h8M3986 2923h8M3770 2858h8M3840 2907h8M3951 2947h8M3879 2966h8M4014 2853h8M3973 2834h8M4087 2894h8M3927 2733h8M3962 2949h8M3839 2811h8M3924 2805h8M3924 2922h8M3981 2770h8M3901 2959h8M4088 2893h8M3990 2953h8M3894 2741h8M3953 2927h8M4020 2843h8M4017 2834h8M3830 2909h8M4077 2828h8M3860 2667h8M3977 2797h8M3845 2754h8M3968 2915h8M3967 2947h8M4026 2819h8M4014 2786h8M3779 2890h8M3797 2927h8M3875 2939h8M3893 2903h8M3863 2923h8M3978 2952h8M3916 2793h8M4016 2986h8M3810 2870h8M3938 2763h8M3812 2992h8M3839 2927h8M4041 2834h8M4045 2879h8M3828 2849h8M3808 2820h8M3771 2881h8M3979 2952h8M4014 2823h8M4058 2851h8M4064 2859h8M3962 2731h8M3891 2779h8M4000 2785h8M3875 2943h8M3977 2892h8M3803 2905h8M4014 2829h8M3993 2684h8M3794 2800h8M3934 2936h8M3955 2737h8M4018 2784h8M3853 2800h8M3974 2893h8M3939 2757h8M3999 2746h8M4030 2852h8M3837 2823h8M3944 2947h8M3919 2918h8M3840 2805h8M3853 2972h8M3836 2800h8M3871 2749h8M4037 2913h8M3870 2892h8M3852 2930h8M3769 2897h8M3817 2877h8M3992 2883h8M3985 2961h8M3770 2951h8M3876 2997h8M3867 2921h8M3916 2960h8M3842 2919h8M4073 2911h8M3767 2831h8M3812 2809h8M4052 2747h8M3913 2768h8M3866 2804h8M3919 2934h8M3954 2983h8M3894 2762h8M4006 2942h8M4003 2677h8M3986 2990h8M3938 2930h8M4000 2909h8M3992 2845h8M3773 2891h8M3769 2812h8M3939 2930h8M3812 2869h8M4001 2834h8M3770 2876h8M3780 2745h8M3918 2948h8M4004 2916h8M3794 2870h8M4047 2813h8M3846 2847h8M3800 2818h8M3845 2865h8M3838 2845h8M3860 2931h8M3913 2986h8M3912 2988h8M3768 2935h8M3858 2919h8M4107 2832h8M4055 2924h8M3985 2968h8M3878 2745h8M4088 2898h8M3768 2861h8M3962 3012h8M3868 2809h8M4027 2849h8M3990 2777h8M3872 2962h8M4086 2862h8M3878 3002h8M3991 2866h8M4016 2890h8M3867 2777h8M4022 2890h8M3768 2820h8M3871 2750h8M3893 2937h8M3770 2980h8M3871 2728h8M3990 2788h8M4071 2896h8M3901 2775h8M3981 2779h8M4015 3002h8M4025 2784h8M3810 2794h8M4058 2831h8M3869 2887h8M4058 2808h8M3824 2921h8M3816 2713h8M3835 2746h8M3847 2931h8M4002 2962h8M3768 2843h8M3977 2803h8M4093 2840h8M4058 2976h8M4034 2972h8M3767 2846h8M3876 2792h8M3828 2971h8M3854 2944h8M3973 2911h8M3871 2961h8M3797 2815h8M3864 2785h8M3958 3004h8M3895 2927h8M4017 2826h8M3856 2899h8M3862 2736h8M3809 2822h8M4080 2866h8M4011 2879h8M3990 2845h8M3875 2690h8M3782 2957h8M3867 2760h8M3888 2956h8M3772 2982h8M3854 2936h8M3999 2918h8M3827 2890h8M3771 2934h8M4034 2925h8M3768 2806h8M3949 2910h8M3821 2887h8M3930 2929h8M3806 2892h8M3833 2750h8M3884 2821h8M3782 2932h8M3993 2918h8M3981 2744h8M3998 2900h8M3767 2698h8M3945 2743h8M4081 2799h8M3906 2719h8M3771 2801h8M3829 2798h8M3910 2787h8M3881 2974h8M3844 2855h8M3799 2964h8M3934 2739h8M3863 2959h8M3795 2917h8M3839 2875h8M3823 2845h8M3913 2755h8M4075 2856h8M4057 2728h8M3826 2876h8M3820 2895h8M4044 2894h8M4078 2928h8M3828 2959h8M3981 2808h8M4079 2864h8M3800 2907h8M4037 2789h8M3803 2878h8M3831 2861h8M4052 2770h8M4010 2915h8M3971 2847h8M4031 2881h8M4052 2825h8M4021 2831h8M3973 2974h8M3862 2772h8M3863 2942h8M3924 2954h8M3770 2917h8M4050 2815h8M3987 2794h8M3881 2783h8M3980 2736h8M3810 2827h8M3891 2690h8M4003 2877h8M3950 2779h8M3901 2807h8M3768 2772h8M3883 2915h8M4011 2690h8M3779 2872h8M4028 2877h8M3808 2883h8M3963 2949h8M4009 2960h8M4046 2856h8M3984 2834h8M3839 2880h8M4048 2919h8M3863 2803h8M3904 2772h8M3962 2952h8M4023 2772h8M3800 2691h8M3892 2704h8M3955 2941h8M3830 2817h8M3845 2847h8M3819 2764h8M3835 3014h8M3935 2776h8M3814 2853h8M3989 2810h8M3935 2769h8M3984 2782h8M3896 2949h8M4023 2828h8M3848 2935h8M4014 2797h8M3949 2966h8M4033 2843h8M3773 2811h8M3847 2735h8M3898 2956h8M3935 2805h8M3872 2806h8M3979 2962h8M3903 2956h8M3945 2949h8M4000 2823h8M3811 2827h8M3973 2786h8M4003 2932h8M3915 3012h8M4044 2847h8M4077 2871h8M3831 2918h8M3881 2759h8M3977 2845h8M3836 2949h8M3810 2867h8M4033 2805h8M3885 2806h8M3873 2729h8M3829 2901h8M3955 2788h8M3770 2750h8M4102 2863h8M4003 2813h8M3976 2791h8M4000 2904h8M4063 2996h8M3859 2886h8M3986 2921h8M4082 3010h8M3995 2792h8M3794 2854h8M4012 2802h8M3947 2955h8M3892 2958h8M3886 2794h8M3860 2828h8M3834 2935h8M3810 2993h8M3851 2888h8M3785 2869h8M3875 2778h8M3965 2798h8M3955 2767h8M3925 2945h8M3848 2882h8M3852 2925h8M3866 2905h8M3808 2881h8M4016 2840h8M3951 2747h8M3956 2827h8M3876 2943h8M3936 2743h8M3857 2845h8M3976 2959h8M4024 2812h8M3850 2901h8M3858 2921h8M4014 2605h8M3898 2787h8M3844 2694h8M4036 2924h8M3835 2782h8M3827 2859h8M3884 2955h8M4006 2782h8M3843 2782h8M3830 2764h8M3986 2790h8M3820 2856h8M3768 2743h8M3771 2812h8M3862 2821h8M3789 2855h8M3989 2791h8M3800 2927h8M3835 2800h8M3809 2866h8M3928 2759h8M4031 2896h8M3847 2929h8M3839 2875h8M3805 2889h8M3978 2923h8M4050 2758h8M3834 2490h8M3855 2442h8M3891 2534h8M3940 2591h8M3911 2566h8M4002 2615h8M3931 2525h8M3875 2498h8M3912 2579h8M3903 2590h8M4013 2493h8M4026 2609h8M3976 2569h8M3965 2405h8M3852 2523h8M3872 2478h8M3879 2555h8M3773 2470h8M3983 2500h8M3884 2408h8M3862 2584h8M3877 2487h8M4089 2509h8M3913 2584h8M3946 2416h8M3979 2518h8M3894 2430h8M3866 2546h8M4018 2477h8M3988 2586h8M4042 2570h8M3859 2526h8M3917 2414h8M3844 2509h8M3816 2428h8M3820 2521h8M3805 2568h8M3883 2620h8M3854 2492h8M3778 2596h8M4070 2567h8M4101 2390h8M3920 2393h8M3795 2427h8M3895 2476h8M3918 2522h8M4006 2583h8M4166 2558h8M3947 2459h8M4004 2535h8M3841 2616h8M3968 2620h8M3936 2559h8M3815 2443h8M3901 2572h8M3905 2439h8M3982 2416h8M4081 2548h8M4105 2565h8M3916 2554h8M3882 2451h8M3943 2494h8M3985 2598h8M3937 2561h8M3859 2504h8M3997 2498h8M3876 2617h8M4089 2533h8M4082 2519h8M3898 2400h8M3894 2447h8M4005 2443h8M3974 2463h8M3949 2506h8M3907 2390h8M4092 2521h8M3901 2635h8M4021 2552h8M3866 2451h8M3986 2561h8M3928 2496h8M3961 2555h8M4045 2472h8M3884 2616h8M3870 2619h8M4044 2586h8M4073 2624h8M3943 2517h8M4086 2514h8M3937 2436h8M3914 2636h8M3836 2451h8M3838 2397h8M3953 2463h8M4089 2609h8M3836 2478h8M3895 2629h8M3967 2423h8M3954 2457h8M3976 2441h8M3902 2595h8M3836 2639h8M3988 2475h8M3834 2474h8M3773 2591h8M4059 2417h8M3947 2417h8M3907 2500h8M3822 2635h8M3822 2487h8M3972 2441h8M4020 2556h8M3837 2432h8M4162 2541h8M3897 2475h8M3903 2592h8M4050 2593h8M3859 2400h8M3909 2413h8M3930 2569h8M3904 2592h8M3871 2531h8M3940 2461h8M3994 2492h8M3949 2508h8M3812 2519h8M3797 2406h8M3920 2431h8M3857 2528h8M3988 2465h8M3859 2551h8M3784 2626h8M3890 2539h8M3780 2571h8M3848 2506h8M3988 2553h8M3938 2431h8M4012 2583h8M3903 2499h8M3967 2558h8M3861 2621h8M3899 2420h8M3864 2634h8M3782 2391h8M3833 2608h8M3868 2563h8M3911 2574h8M3796 2597h8M3824 2541h8M3938 2476h8M4084 2520h8M3788 2393h8M3935 2519h8M3809 2530h8M3932 2548h8M3947 2465h8M3903 2495h8M3934 2503h8M3981 2428h8M4062 2459h8M4045 2403h8M3906 2572h8M3924 2403h8M3952 2566h8M3868 2411h8M3912 2556h8M3976 2567h8M3952 2549h8M3955 2583h8M3952 2477h8M3945 2621h8M3926 2406h8M3823 2459h8M3831 2484h8M3962 2410h8M3815 2638h8M3787 2558h8M3845 2638h8M3890 2551h8M3833 2553h8M3819 2419h8M3990 2638h8M4007 2485h8M3909 2557h8M3983 2577h8M3955 2491h8M3861 2550h8M4022 2582h8M3896 2488h8M3962 2469h8M3961 2523h8M3805 2455h8M4021 2515h8M3904 2620h8M3863 2448h8M4044 2604h8M3987 2428h8M3854 2459h8M3788 2539h8M3891 2625h8M4015 2465h8M3885 2601h8M3845 2541h8M3840 2560h8M4077 2496h8M3976 2632h8M3941 2404h8M3958 2619h8M3923 2639h8M4029 2532h8M4090 2433h8M3925 2503h8M3952 2584h8M3980 2456h8"/>
<path transform="scale(.1)" fill="none" stroke="#fff" stroke-opacity=".55" stroke-width="7" d="M3835 2901h7M4003 2933h7M3903 2770h7M4135 2785h7M3864 2773h7M4076 2857h7M4001 2838h7M3977 2909h7M3976 2939h7M3836 2839h7M4064 2896h7M3904 2788h7M3976 2759h7M3876 2795h7M4018 2906h7M4081 2807h7M3951 2782h7M3974 2852h7M3832 2732h7M3886 2791h7M3849 2688h7M3918 2716h7M3989 2941h7M4031 2871h7M4049 2856h7M3861 2916h7M4054 2786h7M3802 2900h7M3948 2938h7M3988 2776h7M3980 2881h7M3977 2921h7M3997 2870h7M4002 2942h7M3854 2776h7M3809 2777h7M3919 2953h7M3830 2827h7M3974 2754h7M3988 2770h7M3970 2815h7M3930 2777h7M4068 2793h7M3883 2954h7M3893 2757h7M4096 2804h7M4066 2830h7M4046 2745h7M3830 2902h7M3909 2780h7M3781 2699h7M3826 2950h7M4040 2952h7M3983 2690h7M3819 2819h7M3961 2823h7M3990 2838h7M4042 2879h7M3929 2709h7M3898 2949h7M3852 2919h7M3782 2775h7M3841 2809h7M3985 2949h7M3957 2793h7M3969 2802h7M3968 2791h7M3877 2690h7M3960 2682h7M3841 2942h7M4048 2956h7M3915 2721h7M3831 2832h7M3872 2821h7M4122 2943h7M3871 2911h7M3875 2722h7M4074 2796h7M3823 2850h7M4032 2889h7M3835 2904h7M3832 2803h7M3926 2956h7M3802 2966h7M3864 2687h7M4056 2931h7M4043 3000h7M4027 2840h7M3951 2774h7M3899 2637h7M4112 2919h7M4000 2886h7M3868 2762h7M4028 2897h7M4023 2757h7M4027 2785h7M3806 2937h7M3890 2791h7M3876 2897h7M4146 2840h7M3927 2798h7M4056 2727h7M3949 2820h7M3839 2830h7M3952 2970h7M3782 2895h7M3944 2963h7M3987 2804h7M3952 2971h7M3977 2679h7M3833 2899h7M3962 2918h7M4080 2817h7M4022 2976h7M3778 2869h7M3850 2851h7M3930 2790h7M3990 2741h7M3860 2951h7M3887 2965h7M3990 2817h7M3857 2943h7M4002 2904h7M3935 2776h7M3789 2876h7M4021 2802h7M3810 2728h7M3956 2911h7M3951 2779h7M4001 2763h7M3822 2946h7M3956 2737h7M3865 2861h7M4096 2944h7M3962 2773h7M4030 2925h7M3811 2941h7M3959 2805h7M4057 2784h7M3849 2928h7M3900 2724h7M3808 2780h7M3984 2957h7M3922 2752h7M3861 2792h7M3939 2910h7M4094 2816h7M4135 2924h7M3968 2796h7M3843 2757h7M3874 2805h7M4062 2849h7M3937 3012h7M4018 2909h7M4013 2844h7M4009 2857h7M3853 2808h7M3865 2991h7M3869 2816h7M3864 2978h7M3874 2899h7M4041 2773h7M3870 2687h7M3880 2949h7M3952 2669h7M3926 2785h7M3842 2821h7M4001 2812h7M3803 2900h7M3977 2650h7M4006 2907h7M3929 2772h7M4026 2947h7M3815 2924h7M4033 2909h7M4021 2961h7M3850 2290h7M3798 2320h7M3963 2304h7M3909 2394h7M4030 2287h7M3863 2366h7M3831 2364h7M4015 2322h7M3780 2344h7M3873 2355h7M4012 2339h7M3905 2380h7M3765 2356h7M3948 2385h7M3947 2265h7M3845 2374h7M3769 2321h7M4058 2318h7M3999 2304h7M4023 2306h7M3861 2294h7M3824 2297h7M3754 2332h7M4019 2286h7M3939 2296h7M3967 2325h7M3843 2379h7M3834 2308h7M3946 2293h7M3877 2282h7M3790 2318h7M3926 2392h7M3872 2361h7M3934 2275h7M3958 2333h7"/>
<path transform="scale(.1)" fill="none" stroke="#222" stroke-opacity=".55" stroke-width="10" d="M4342 2346h10M4478 2306h10M4289 2324h10M4385 2276h10M4311 2294h10M4283 2283h10M4353 2344h10M4698 2323h10M4538 2337h10M4449 2286h10M4284 2318h10M4271 2318h10M4394 2303h10M4374 2333h10M4359 2320h10M4741 2317h10M4641 2316h10M4307 2294h10M4552 2304h10M4367 2273h10M4318 2298h10M4349 2327h10M4610 2271h10M4455 2293h10M4378 2313h10M4409 2302h10M4670 2304h10M4278 2296h10M4576 2307h10M4470 2307h10M4339 2316h10M4516 2326h10M4364 2327h10M4732 2303h10M4407 2277h10M4358 2282h10M4439 2300h10M4344 2344h10M4302 2267h10M4778 2323h10M4711 2321h10M4400 2318h10M4274 2257h10M4429 2321h10M4392 2356h10M4624 2302h10M4777 2319h10M4691 2304h10M4439 2311h10M4431 2330h10M4668 2301h10M4359 2255h10M4339 2289h10M4445 2278h10M4379 2266h10M4460 2270h10M4303 2308h10M4556 2344h10M4424 2324h10M4708 2288h10M4420 2301h10M4386 2309h10M4369 2273h10M4276 2292h10M4665 2298h10M4304 2329h10M4416 2302h10M4357 2329h10M4359 2276h10M4308 2268h10M4409 2362h10M4494 2310h10M4310 2289h10M4482 2279h10M4358 2294h10M4297 2289h10M4331 2304h10M4355 2259h10M4270 2336h10M4227 2313h10M4517 2273h10M4582 2270h10M4301 2289h10M4612 2282h10M4482 2340h10M4474 2258h10M4425 2325h10"/>
<path transform="scale(.1)" fill="none" stroke="#222" stroke-opacity=".55" stroke-width="9" d="M4402 2917h9M4677 2902h9M4441 2811h9M4554 2889h9"/>
<path d="M364.9 180.8H511.5" stroke="#5a5a5a" stroke-width="1.2" fill="none"/>
<path d="M510.9 180.3V311.6" stroke="#4a4a4a" stroke-width="1.3" fill="none"/>
<path d="M375.9 180.8V302.7M364.9 302.1H511.5" stroke="#1a1a1a" stroke-width="1.4" fill="none"/>
<path d="M421.2 180.8V302.1M375.9 260.7H510.9" stroke="#222" stroke-width="1.3" fill="none"/>
<path d="M375.9 302.1v9.5M409.6 302.1v9.5M443.4 302.1v9.5M477.1 302.1v9.5" stroke="#555" stroke-width=".8" fill="none"/>
<path d="M375.9 271.6h-11M375.9 241.1h-11M375.9 210.6h-11" stroke="#6a6a6a" stroke-width=".7" fill="none"/>
<path d="M386.1 302.1v2.6M392.0 302.1v2.6M396.2 302.1v2.6M399.5 302.1v2.6M402.2 302.1v2.6M404.4 302.1v2.6M406.4 302.1v2.6M408.1 302.1v2.6M375.9 292.9h-2.8M375.9 287.5h-2.8M375.9 283.7h-2.8M375.9 280.8h-2.8M375.9 278.4h-2.8M375.9 276.3h-2.8M375.9 274.6h-2.8M375.9 273.0h-2.8M419.8 302.1v2.6M425.8 302.1v2.6M430.0 302.1v2.6M433.2 302.1v2.6M435.9 302.1v2.6M438.2 302.1v2.6M440.1 302.1v2.6M441.9 302.1v2.6M375.9 262.4h-2.8M375.9 257.0h-2.8M375.9 253.2h-2.8M375.9 250.3h-2.8M375.9 247.9h-2.8M375.9 245.8h-2.8M375.9 244.1h-2.8M375.9 242.5h-2.8M453.6 302.1v2.6M459.5 302.1v2.6M463.7 302.1v2.6M467.0 302.1v2.6M469.7 302.1v2.6M471.9 302.1v2.6M473.9 302.1v2.6M475.6 302.1v2.6M375.9 231.9h-2.8M375.9 226.5h-2.8M375.9 222.7h-2.8M375.9 219.8h-2.8M375.9 217.4h-2.8M375.9 215.3h-2.8M375.9 213.6h-2.8M375.9 212.0h-2.8M487.3 302.1v2.6M493.3 302.1v2.6M497.5 302.1v2.6M500.7 302.1v2.6M503.4 302.1v2.6M505.7 302.1v2.6M507.6 302.1v2.6M509.4 302.1v2.6M375.9 201.4h-2.8M375.9 196.0h-2.8M375.9 192.2h-2.8M375.9 189.3h-2.8M375.9 186.9h-2.8M375.9 184.8h-2.8M375.9 183.1h-2.8M375.9 181.5h-2.8" stroke="#3a3a3a" stroke-width=".75" fill="none"/>
<text class="ax" transform="translate(376.8 311.8) scale(.8 1)">10<tspan class="sp" dy="-1.7">0</tspan></text>
<text class="ax" transform="translate(363.5 300.4) scale(.8 1)">10<tspan class="sp" dy="-1.7">0</tspan></text>
<text class="ax" transform="translate(410.5 311.8) scale(.8 1)">10<tspan class="sp" dy="-1.7">1</tspan></text>
<text class="ax" transform="translate(363.5 269.9) scale(.8 1)">10<tspan class="sp" dy="-1.7">1</tspan></text>
<text class="ax" transform="translate(444.3 311.8) scale(.8 1)">10<tspan class="sp" dy="-1.7">2</tspan></text>
<text class="ax" transform="translate(363.5 239.4) scale(.8 1)">10<tspan class="sp" dy="-1.7">2</tspan></text>
<text class="ax" transform="translate(478.0 311.8) scale(.8 1)">10<tspan class="sp" dy="-1.7">3</tspan></text>
<text class="ax" transform="translate(363.5 208.9) scale(.8 1)">10<tspan class="sp" dy="-1.7">3</tspan></text>
<text class="q" x="375.3" y="187.6">B1</text><text class="q" x="377.8" y="195.2">54.6%</text>
<text class="q" x="421.6" y="187.6">B2</text><text class="q" x="425.6" y="195.2">0.7%</text>
<text class="q" x="375.3" y="267.9">B3</text><text class="q" x="377.8" y="275.9">44.7%</text>
<text class="q" x="421.6" y="267.9">B4</text><text class="q" x="425.6" y="275.9">0.0%</text>
<text class="pl" x="497.9" y="201.0">F</text>
</g>
<text class="t" x="112.3" y="14.3">Isolated PBMCs</text>
<text class="t" x="277.4" y="14.3">Heparin-Blood</text>
<text class="t" x="444.5" y="14.3" letter-spacing=".28">EDTA-Blood</text>
<text class="t" x="240.8" y="343.4">TAX expression</text>
<text class="t" transform="translate(14.2 159.2) rotate(-90)">CD4 expression</text>
<path d="M9.8 23V95.5M9.8 225V338.2H175.8M306 338.2H512" stroke="#0a0a0a" stroke-width="1.7" fill="none" stroke-linejoin="miter"/>
<path d="M10 15.3L14.5 23.8H5.5ZM519.4 338.3L510.8 342.7V333.9Z" fill="#0a0a0a"/>
</svg>
</body>
</html>
